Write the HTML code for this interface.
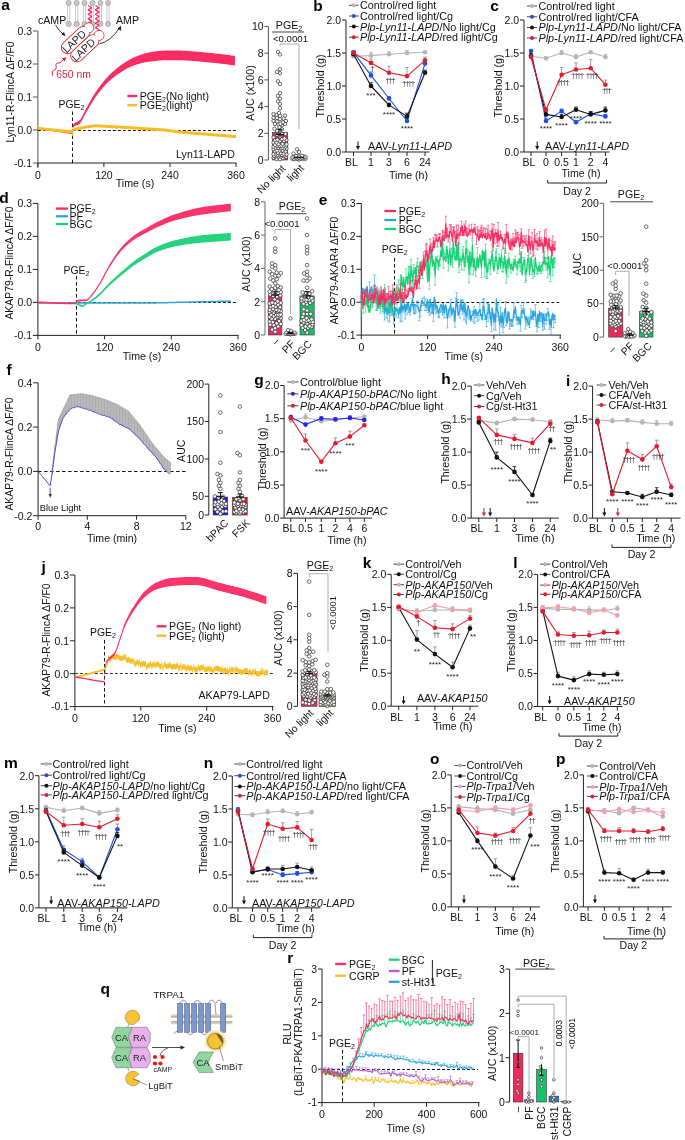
<!DOCTYPE html>
<html><head><meta charset="utf-8"><style>
html,body{margin:0;padding:0;background:#fff;overflow:hidden;}
svg{display:block;filter:blur(0.3px);font-family:"Liberation Sans", sans-serif;}
</style></head><body>
<svg width="685" height="1140" viewBox="0 0 685 1140">
<rect width="685" height="1140" fill="#fff"/>
<text x="1.2" y="9.6" font-size="15.5" font-weight="bold" fill="#000">a</text>
<line x1="37.9" y1="31.0" x2="37.9" y2="168.0" stroke="#555" stroke-width="1" />
<line x1="32.9" y1="31.0" x2="37.9" y2="31.0" stroke="#555" stroke-width="1" />
<text x="32.1" y="34.8" font-size="10.5" text-anchor="end" fill="#111" >0.3</text>
<line x1="32.9" y1="64.0" x2="37.9" y2="64.0" stroke="#555" stroke-width="1" />
<text x="32.1" y="67.8" font-size="10.5" text-anchor="end" fill="#111" >0.2</text>
<line x1="32.9" y1="97.0" x2="37.9" y2="97.0" stroke="#555" stroke-width="1" />
<text x="32.1" y="100.8" font-size="10.5" text-anchor="end" fill="#111" >0.1</text>
<line x1="32.9" y1="130.0" x2="37.9" y2="130.0" stroke="#555" stroke-width="1" />
<text x="32.1" y="133.8" font-size="10.5" text-anchor="end" fill="#111" >0.0</text>
<line x1="32.9" y1="163.0" x2="37.9" y2="163.0" stroke="#555" stroke-width="1" />
<text x="32.1" y="166.8" font-size="10.5" text-anchor="end" fill="#111" >-0.1</text>
<line x1="37.9" y1="163.0" x2="236.5" y2="163.0" stroke="#222" stroke-width="1" />
<line x1="37.9" y1="163.0" x2="37.9" y2="167.0" stroke="#222" stroke-width="1" />
<line x1="103.9" y1="163.0" x2="103.9" y2="167.0" stroke="#222" stroke-width="1" />
<text x="103.9" y="178.8" font-size="10.5" text-anchor="middle" fill="#111" >120</text>
<line x1="170.0" y1="163.0" x2="170.0" y2="167.0" stroke="#222" stroke-width="1" />
<text x="170.0" y="178.8" font-size="10.5" text-anchor="middle" fill="#111" >240</text>
<line x1="236.0" y1="163.0" x2="236.0" y2="167.0" stroke="#222" stroke-width="1" />
<text x="236.0" y="178.8" font-size="10.5" text-anchor="middle" fill="#111" >360</text>
<text x="37.9" y="178.8" font-size="10.5" text-anchor="middle" fill="#111" >0</text>
<text x="10.5" y="95.7" font-size="10.4" text-anchor="middle" fill="#111" transform="rotate(-90 10.5 92.0)" >Lyn11-R-FlincA ΔF/F0</text>
<text x="135.0" y="186.8" font-size="10.6" text-anchor="middle" fill="#111" >Time (s)</text>
<line x1="37.9" y1="130.5" x2="236.0" y2="130.5" stroke="#111" stroke-width="1.0" stroke-dasharray="3,2" />
<line x1="72.5" y1="111.5" x2="72.5" y2="163.0" stroke="#111" stroke-width="1.0" stroke-dasharray="3.5,2.5" />
<text x="71.5" y="108.2" font-size="10.4" text-anchor="middle" fill="#111" >PGE<tspan font-size="7" dy="2">2</tspan></text>
<polygon points="72.6,125.8 73.4,124.4 74.2,123.3 75.0,122.7 75.8,122.3 76.6,122.0 77.4,121.7 78.2,121.3 79.1,120.8 79.9,120.0 80.7,118.9 81.5,117.6 82.3,116.2 83.1,114.5 83.9,112.9 84.7,111.2 85.6,109.6 86.4,108.1 87.2,106.7 88.0,105.2 88.8,103.8 89.6,102.3 90.4,100.9 91.2,99.4 92.0,98.0 92.9,96.6 93.7,95.3 94.5,94.0 95.3,92.7 96.1,91.5 96.9,90.3 97.7,89.2 98.5,88.0 99.4,86.9 100.2,85.8 101.0,84.7 101.8,83.7 102.6,82.7 103.4,81.7 104.2,80.7 105.0,79.8 105.8,78.8 106.7,77.9 107.5,77.0 108.3,76.2 109.1,75.3 109.9,74.5 110.7,73.7 111.5,72.9 112.3,72.1 113.2,71.4 114.0,70.7 114.8,70.0 115.6,69.3 116.4,68.7 117.2,68.0 118.0,67.4 118.8,66.8 119.6,66.2 120.5,65.6 121.3,65.0 122.1,64.4 122.9,63.9 123.7,63.3 124.5,62.8 125.3,62.2 126.1,61.7 126.9,61.2 127.8,60.7 128.6,60.2 129.4,59.7 130.2,59.3 131.0,58.9 131.8,58.5 132.6,58.1 133.4,57.7 134.3,57.3 135.1,57.0 135.9,56.6 136.7,56.3 137.5,56.0 138.3,55.7 139.1,55.4 139.9,55.1 140.7,54.8 141.6,54.5 142.4,54.3 143.2,54.0 144.0,53.8 144.8,53.5 145.6,53.3 146.4,53.1 147.2,52.9 148.1,52.7 148.9,52.5 149.7,52.3 150.5,52.2 151.3,52.0 152.1,51.9 152.9,51.7 153.7,51.6 154.5,51.5 155.4,51.4 156.2,51.3 157.0,51.2 157.8,51.1 158.6,51.0 159.4,51.0 160.2,50.9 161.0,50.8 161.9,50.7 162.7,50.7 163.5,50.7 164.3,50.6 165.1,50.6 165.9,50.6 166.7,50.6 167.5,50.6 168.3,50.6 169.2,50.6 170.0,50.6 170.8,50.6 171.6,50.6 172.4,50.6 173.2,50.6 174.0,50.6 174.8,50.6 175.6,50.6 176.5,50.6 177.3,50.6 178.1,50.6 178.9,50.6 179.7,50.6 180.5,50.6 181.3,50.7 182.1,50.7 183.0,50.7 183.8,50.8 184.6,50.8 185.4,50.8 186.2,50.9 187.0,50.9 187.8,51.0 188.6,51.1 189.4,51.1 190.3,51.2 191.1,51.2 191.9,51.3 192.7,51.3 193.5,51.4 194.3,51.5 195.1,51.5 195.9,51.6 196.8,51.7 197.6,51.7 198.4,51.8 199.2,51.9 200.0,52.0 200.8,52.1 201.6,52.1 202.4,52.2 203.2,52.3 204.1,52.4 204.9,52.4 205.7,52.5 206.5,52.6 207.3,52.7 208.1,52.8 208.9,52.8 209.7,52.9 210.5,53.0 211.4,53.1 212.2,53.1 213.0,53.2 213.8,53.3 214.6,53.4 215.4,53.5 216.2,53.6 217.0,53.7 217.9,53.7 218.7,53.8 219.5,53.9 220.3,54.0 221.1,54.1 221.9,54.2 222.7,54.3 223.5,54.4 224.3,54.5 225.2,54.6 226.0,54.7 226.8,54.8 227.6,54.9 228.4,55.0 229.2,55.1 230.0,55.3 230.8,55.4 231.7,55.5 232.5,55.6 233.3,55.7 234.1,55.8 234.9,55.9 234.9,65.5 234.1,65.4 233.3,65.3 232.5,65.2 231.7,65.1 230.8,65.0 230.0,64.9 229.2,64.7 228.4,64.6 227.6,64.5 226.8,64.4 226.0,64.3 225.2,64.2 224.3,64.1 223.5,64.0 222.7,63.9 221.9,63.8 221.1,63.7 220.3,63.6 219.5,63.5 218.7,63.4 217.9,63.3 217.0,63.3 216.2,63.2 215.4,63.1 214.6,63.0 213.8,62.9 213.0,62.8 212.2,62.7 211.4,62.7 210.5,62.6 209.7,62.5 208.9,62.4 208.1,62.4 207.3,62.3 206.5,62.2 205.7,62.1 204.9,62.0 204.1,62.0 203.2,61.9 202.4,61.8 201.6,61.7 200.8,61.7 200.0,61.6 199.2,61.5 198.4,61.4 197.6,61.3 196.8,61.3 195.9,61.2 195.1,61.1 194.3,61.1 193.5,61.0 192.7,60.9 191.9,60.9 191.1,60.8 190.3,60.8 189.4,60.7 188.6,60.7 187.8,60.6 187.0,60.5 186.2,60.5 185.4,60.4 184.6,60.4 183.8,60.4 183.0,60.3 182.1,60.3 181.3,60.3 180.5,60.2 179.7,60.2 178.9,60.2 178.1,60.2 177.3,60.2 176.5,60.2 175.6,60.2 174.8,60.2 174.0,60.2 173.2,60.2 172.4,60.2 171.6,60.2 170.8,60.2 170.0,60.2 169.2,60.2 168.3,60.2 167.5,60.2 166.7,60.2 165.9,60.2 165.1,60.2 164.3,60.2 163.5,60.3 162.7,60.3 161.9,60.3 161.0,60.4 160.2,60.5 159.4,60.6 158.6,60.6 157.8,60.7 157.0,60.8 156.2,60.9 155.4,61.0 154.5,61.1 153.7,61.2 152.9,61.3 152.1,61.3 151.3,61.4 150.5,61.5 149.7,61.6 148.9,61.7 148.1,61.9 147.2,62.0 146.4,62.1 145.6,62.2 144.8,62.4 144.0,62.6 143.2,62.7 142.4,62.9 141.6,63.1 140.7,63.3 139.9,63.5 139.1,63.8 138.3,64.0 137.5,64.2 136.7,64.5 135.9,64.8 135.1,65.1 134.3,65.3 133.4,65.7 132.6,66.0 131.8,66.3 131.0,66.6 130.2,67.0 129.4,67.3 128.6,67.7 127.8,68.1 126.9,68.6 126.1,69.0 125.3,69.5 124.5,69.9 123.7,70.4 122.9,70.9 122.1,71.4 121.3,71.9 120.5,72.5 119.6,73.0 118.8,73.5 118.0,74.1 117.2,74.6 116.4,75.2 115.6,75.8 114.8,76.4 114.0,77.0 113.2,77.7 112.3,78.3 111.5,79.0 110.7,79.7 109.9,80.5 109.1,81.2 108.3,82.0 107.5,82.8 106.7,83.6 105.8,84.5 105.0,85.3 104.2,86.2 103.4,87.1 102.6,88.0 101.8,89.0 101.0,90.0 100.2,91.0 99.4,92.0 98.5,93.0 97.7,94.1 96.9,95.2 96.1,96.3 95.3,97.5 94.5,98.7 93.7,99.9 92.9,101.2 92.0,102.5 91.2,103.9 90.4,105.2 89.6,106.6 88.8,108.0 88.0,109.4 87.2,110.8 86.4,112.1 85.6,113.6 84.7,115.1 83.9,116.7 83.1,118.3 82.3,119.8 81.5,121.3 80.7,122.5 79.9,123.5 79.1,124.2 78.2,124.7 77.4,125.0 76.6,125.2 75.8,125.5 75.0,125.9 74.2,126.5 73.4,127.6 72.6,129.0" fill="#fb2c62" stroke="none" stroke-width="0" />
<polyline points="37.9,128.7 40.7,129.0 43.4,129.3 46.2,129.7 48.9,130.0 51.7,130.3 54.4,130.7 57.2,131.1 59.9,131.5 62.7,131.9 65.4,132.3 68.2,132.7 70.9,133.1 72.0,133.3" fill="none" stroke="#fb2c62" stroke-width="1.4" stroke-linejoin="round" />
<polygon points="37.9,126.8 38.9,127.0 39.9,127.1 40.9,127.2 41.9,127.3 42.9,127.4 43.8,127.5 44.8,127.6 45.8,127.7 46.8,127.8 47.8,127.9 48.8,128.0 49.8,128.1 50.8,128.2 51.8,128.3 52.8,128.4 53.7,128.5 54.7,128.6 55.7,128.7 56.7,128.8 57.7,128.9 58.7,129.0 59.7,129.1 60.7,129.2 61.7,129.3 62.7,129.4 63.7,129.5 64.6,129.6 65.6,129.7 66.6,129.8 67.6,129.9 68.6,130.0 69.6,130.1 70.6,130.1 71.6,129.9 72.6,129.8 73.6,128.6 74.5,127.8 75.5,127.6 76.5,127.4 77.5,127.2 78.5,127.0 79.5,126.8 80.5,126.6 81.5,126.4 82.5,126.2 83.5,126.0 84.5,125.8 85.4,125.6 86.4,125.4 87.4,125.3 88.4,125.2 89.4,125.0 90.4,124.9 91.4,124.7 92.4,124.6 93.4,124.5 94.4,124.3 95.3,124.2 96.3,124.3 97.3,124.3 98.3,124.4 99.3,124.4 100.3,124.5 101.3,124.6 102.3,124.6 103.3,124.7 104.3,124.7 105.3,124.8 106.2,124.8 107.2,124.9 108.2,125.0 109.2,125.0 110.2,125.1 111.2,125.1 112.2,125.2 113.2,125.2 114.2,125.3 115.2,125.4 116.1,125.4 117.1,125.5 118.1,125.5 119.1,125.6 120.1,125.6 121.1,125.7 122.1,125.8 123.1,125.8 124.1,125.9 125.1,125.9 126.1,126.0 127.0,126.0 128.0,126.1 129.0,126.1 130.0,126.2 131.0,126.3 132.0,126.3 133.0,126.4 134.0,126.5 135.0,126.5 136.0,126.6 136.9,126.7 137.9,126.7 138.9,126.8 139.9,126.9 140.9,126.9 141.9,127.0 142.9,127.0 143.9,127.1 144.9,127.2 145.9,127.2 146.9,127.3 147.8,127.4 148.8,127.4 149.8,127.5 150.8,127.6 151.8,127.6 152.8,127.7 153.8,127.8 154.8,127.8 155.8,127.9 156.8,128.0 157.8,128.0 158.7,128.1 159.7,128.2 160.7,128.2 161.7,128.3 162.7,128.3 163.7,128.4 164.7,128.5 165.7,128.6 166.7,128.7 167.7,128.9 168.6,129.0 169.6,129.2 170.6,129.3 171.6,129.5 172.6,129.6 173.6,129.7 174.6,129.9 175.6,130.0 176.6,130.2 177.6,130.3 178.6,130.4 179.5,130.5 180.5,130.6 181.5,130.7 182.5,130.8 183.5,130.9 184.5,130.9 185.5,131.0 186.5,131.1 187.5,131.2 188.5,131.3 189.4,131.3 190.4,131.4 191.4,131.5 192.4,131.6 193.4,131.7 194.4,131.7 195.4,131.8 196.4,131.9 197.4,132.0 198.4,132.1 199.4,132.1 200.3,132.2 201.3,132.3 202.3,132.4 203.3,132.5 204.3,132.5 205.3,132.6 206.3,132.7 207.3,132.8 208.3,132.9 209.3,132.9 210.2,133.0 211.2,133.1 212.2,133.2 213.2,133.3 214.2,133.3 215.2,133.4 216.2,133.5 217.2,133.6 218.2,133.7 219.2,133.7 220.2,133.8 221.1,133.9 222.1,134.0 223.1,134.1 224.1,134.1 225.1,134.2 226.1,134.3 227.1,134.4 228.1,134.5 229.1,134.5 230.1,134.6 231.0,134.7 232.0,134.8 233.0,134.9 234.0,134.9 235.0,135.0 236.0,135.1 236.0,138.1 235.0,138.0 234.0,137.9 233.0,137.9 232.0,137.8 231.0,137.7 230.1,137.6 229.1,137.5 228.1,137.5 227.1,137.4 226.1,137.3 225.1,137.2 224.1,137.1 223.1,137.1 222.1,137.0 221.1,136.9 220.2,136.8 219.2,136.7 218.2,136.7 217.2,136.6 216.2,136.5 215.2,136.4 214.2,136.3 213.2,136.3 212.2,136.2 211.2,136.1 210.2,136.0 209.3,135.9 208.3,135.9 207.3,135.8 206.3,135.7 205.3,135.6 204.3,135.5 203.3,135.5 202.3,135.4 201.3,135.3 200.3,135.2 199.4,135.1 198.4,135.1 197.4,135.0 196.4,134.9 195.4,134.8 194.4,134.7 193.4,134.7 192.4,134.6 191.4,134.5 190.4,134.4 189.4,134.3 188.5,134.3 187.5,134.2 186.5,134.1 185.5,134.0 184.5,133.9 183.5,133.9 182.5,133.8 181.5,133.7 180.5,133.6 179.5,133.5 178.6,133.4 177.6,133.3 176.6,133.2 175.6,133.0 174.6,132.9 173.6,132.7 172.6,132.6 171.6,132.5 170.6,132.3 169.6,132.2 168.6,132.0 167.7,131.9 166.7,131.7 165.7,131.6 164.7,131.5 163.7,131.4 162.7,131.3 161.7,131.3 160.7,131.2 159.7,131.2 158.7,131.1 157.8,131.0 156.8,131.0 155.8,130.9 154.8,130.8 153.8,130.8 152.8,130.7 151.8,130.6 150.8,130.6 149.8,130.5 148.8,130.4 147.8,130.4 146.9,130.3 145.9,130.2 144.9,130.2 143.9,130.1 142.9,130.0 141.9,130.0 140.9,129.9 139.9,129.9 138.9,129.8 137.9,129.7 136.9,129.7 136.0,129.6 135.0,129.5 134.0,129.5 133.0,129.4 132.0,129.3 131.0,129.3 130.0,129.2 129.0,129.1 128.0,129.1 127.0,129.0 126.1,129.0 125.1,128.9 124.1,128.9 123.1,128.8 122.1,128.8 121.1,128.7 120.1,128.6 119.1,128.6 118.1,128.5 117.1,128.5 116.1,128.4 115.2,128.4 114.2,128.3 113.2,128.2 112.2,128.2 111.2,128.1 110.2,128.1 109.2,128.0 108.2,128.0 107.2,127.9 106.2,127.8 105.3,127.8 104.3,127.7 103.3,127.7 102.3,127.6 101.3,127.6 100.3,127.5 99.3,127.4 98.3,127.4 97.3,127.3 96.3,127.3 95.3,127.2 94.4,127.3 93.4,127.5 92.4,127.6 91.4,127.7 90.4,127.9 89.4,128.0 88.4,128.2 87.4,128.3 86.4,128.4 85.4,128.6 84.5,128.8 83.5,129.0 82.5,129.2 81.5,129.4 80.5,129.6 79.5,129.8 78.5,130.0 77.5,130.2 76.5,130.4 75.5,130.6 74.5,130.8 73.6,131.6 72.6,132.8 71.6,132.9 70.6,133.1 69.6,133.1 68.6,133.0 67.6,132.9 66.6,132.8 65.6,132.7 64.6,132.6 63.7,132.5 62.7,132.4 61.7,132.3 60.7,132.2 59.7,132.1 58.7,132.0 57.7,131.9 56.7,131.8 55.7,131.7 54.7,131.6 53.7,131.5 52.8,131.4 51.8,131.3 50.8,131.2 49.8,131.1 48.8,131.0 47.8,130.9 46.8,130.8 45.8,130.7 44.8,130.6 43.8,130.5 42.9,130.4 41.9,130.3 40.9,130.2 39.9,130.1 38.9,130.0 37.9,129.8" fill="#f6bd25" stroke="none" stroke-width="0" />
<line x1="72.7" y1="131.3" x2="72.7" y2="135.3" stroke="#f6bd25" stroke-width="1.2" />
<line x1="127.4" y1="96.0" x2="137.1" y2="96.0" stroke="#fb2c62" stroke-width="2.4" />
<line x1="127.4" y1="105.2" x2="137.1" y2="105.2" stroke="#f6bd25" stroke-width="2.4" />
<text x="139.7" y="99.8" font-size="10.6" fill="#111">PGE<tspan font-size="7" dy="2">2</tspan><tspan dy="-2">(No light)</tspan></text>
<text x="139.7" y="109.0" font-size="10.6" fill="#111">PGE<tspan font-size="7" dy="2">2</tspan><tspan dy="-2">(light)</tspan></text>
<text x="235.0" y="157.8" font-size="10.6" text-anchor="end" fill="#111" >Lyn11-LAPD</text>
<line x1="67.6" y1="4.0" x2="67.6" y2="22.5" stroke="#c4c4c4" stroke-width="0.9" />
<line x1="69.8" y1="4.0" x2="69.8" y2="22.5" stroke="#c4c4c4" stroke-width="0.9" />
<circle cx="68.7" cy="2.9" r="2.5" fill="#c9c9c9" stroke="#8a8a8a" stroke-width="0.6"/>
<circle cx="68.7" cy="24.0" r="2.5" fill="#c9c9c9" stroke="#8a8a8a" stroke-width="0.6"/>
<line x1="75.6" y1="4.0" x2="75.6" y2="22.5" stroke="#c4c4c4" stroke-width="0.9" />
<line x1="77.8" y1="4.0" x2="77.8" y2="22.5" stroke="#c4c4c4" stroke-width="0.9" />
<circle cx="76.7" cy="2.9" r="2.5" fill="#c9c9c9" stroke="#8a8a8a" stroke-width="0.6"/>
<circle cx="76.7" cy="24.0" r="2.5" fill="#c9c9c9" stroke="#8a8a8a" stroke-width="0.6"/>
<line x1="83.4" y1="4.0" x2="83.4" y2="22.5" stroke="#c4c4c4" stroke-width="0.9" />
<line x1="85.6" y1="4.0" x2="85.6" y2="22.5" stroke="#c4c4c4" stroke-width="0.9" />
<circle cx="84.5" cy="2.9" r="2.5" fill="#c9c9c9" stroke="#8a8a8a" stroke-width="0.6"/>
<circle cx="84.5" cy="24.0" r="2.5" fill="#c9c9c9" stroke="#8a8a8a" stroke-width="0.6"/>
<line x1="91.4" y1="4.0" x2="91.4" y2="22.5" stroke="#c4c4c4" stroke-width="0.9" />
<line x1="93.6" y1="4.0" x2="93.6" y2="22.5" stroke="#c4c4c4" stroke-width="0.9" />
<circle cx="92.5" cy="2.9" r="2.5" fill="#c9c9c9" stroke="#8a8a8a" stroke-width="0.6"/>
<circle cx="92.5" cy="24.0" r="2.5" fill="#c9c9c9" stroke="#8a8a8a" stroke-width="0.6"/>
<line x1="99.3" y1="4.0" x2="99.3" y2="22.5" stroke="#c4c4c4" stroke-width="0.9" />
<line x1="101.5" y1="4.0" x2="101.5" y2="22.5" stroke="#c4c4c4" stroke-width="0.9" />
<circle cx="100.4" cy="2.9" r="2.5" fill="#c9c9c9" stroke="#8a8a8a" stroke-width="0.6"/>
<circle cx="100.4" cy="24.0" r="2.5" fill="#c9c9c9" stroke="#8a8a8a" stroke-width="0.6"/>
<line x1="107.0" y1="4.0" x2="107.0" y2="22.5" stroke="#c4c4c4" stroke-width="0.9" />
<line x1="109.2" y1="4.0" x2="109.2" y2="22.5" stroke="#c4c4c4" stroke-width="0.9" />
<circle cx="108.1" cy="2.9" r="2.5" fill="#c9c9c9" stroke="#8a8a8a" stroke-width="0.6"/>
<circle cx="108.1" cy="24.0" r="2.5" fill="#c9c9c9" stroke="#8a8a8a" stroke-width="0.6"/>
<polyline points="88.1,5.5 91.7,7.7 88.1,9.9 91.7,12.1 88.1,14.3 91.7,16.5 88.1,18.7 91.7,20.9 88.1,23.1" fill="none" stroke="#ee2a5c" stroke-width="1.3" stroke-linejoin="round" />
<polyline points="95.4,5.5 99.0,7.7 95.4,9.9 99.0,12.1 95.4,14.3 99.0,16.5 95.4,18.7 99.0,20.9 95.4,23.1 99.0,25.3 95.4,27.5 99.0,29.7" fill="none" stroke="#ee2a5c" stroke-width="1.3" stroke-linejoin="round" />
<circle cx="88.8" cy="27.8" r="5" fill="white" stroke="#e02b35" stroke-width="1"/>
<g transform="translate(75.5,40) rotate(-43)"><rect x="-17" y="-6.2" width="34" height="12.4" rx="6.2" fill="white" stroke="#e02b35" stroke-width="1"/></g>
<circle cx="88.8" cy="27.8" r="4.4" fill="white"/>
<g transform="translate(75.5,40) rotate(-43)"><rect x="-16.4" y="-5.6" width="32.8" height="11.2" rx="5.6" fill="white"/><text x="-2" y="3.8" font-size="10.6" text-anchor="middle" fill="#222">LAPD</text></g>
<circle cx="99.0" cy="35.4" r="5" fill="white" stroke="#e02b35" stroke-width="1"/>
<g transform="translate(84.8,48.3) rotate(-43)"><rect x="-17" y="-6.2" width="34" height="12.4" rx="6.2" fill="white" stroke="#e02b35" stroke-width="1"/></g>
<circle cx="99.0" cy="35.4" r="4.4" fill="white"/>
<g transform="translate(84.8,48.3) rotate(-43)"><rect x="-16.4" y="-5.6" width="32.8" height="11.2" rx="5.6" fill="white"/><text x="-2" y="3.8" font-size="10.6" text-anchor="middle" fill="#222">LAPD</text></g>
<text x="38.0" y="23.5" font-size="10.6" text-anchor="start" fill="#111" >cAMP</text>
<text x="116.0" y="24.2" font-size="10.6" text-anchor="start" fill="#111" >AMP</text>
<path d="M55.5,24.8 Q58,30 63.5,34.5" fill="none" stroke="#222" stroke-width="0.9"/>
<polygon points="65.5,36.2 61.3,34.6 64.0,31.9" fill="#222" stroke="none" stroke-width="0" />
<path d="M99.5,43.8 Q110,42 119.5,28" fill="none" stroke="#222" stroke-width="0.9"/>
<polygon points="121.0,25.8 121.2,31.0 117.5,28.6" fill="#222" stroke="none" stroke-width="0" />
<text x="56.3" y="78.2" font-size="10.4" text-anchor="start" fill="#e8203a" >650 nm</text>
<path d="M52.6,75.5 C51.5,72 53,70 54.5,70 C56,70 56.5,67 56,65.5 C55.5,64 57,62.5 59,63 C60.5,63.3 61,61.5 63.5,59.5" fill="none" stroke="#e8203a" stroke-width="1"/>
<polygon points="66.5,57.2 61.8,58.3 64.6,61.5" fill="#e8203a" stroke="none" stroke-width="0" />
<line x1="268.4" y1="26.5" x2="268.4" y2="160.0" stroke="#555" stroke-width="1" />
<line x1="264.4" y1="160.0" x2="268.4" y2="160.0" stroke="#555" stroke-width="1" />
<text x="263.6" y="163.8" font-size="10.5" text-anchor="end" fill="#111" >0</text>
<line x1="264.4" y1="133.3" x2="268.4" y2="133.3" stroke="#555" stroke-width="1" />
<text x="263.6" y="137.1" font-size="10.5" text-anchor="end" fill="#111" >2</text>
<line x1="264.4" y1="106.6" x2="268.4" y2="106.6" stroke="#555" stroke-width="1" />
<text x="263.6" y="110.4" font-size="10.5" text-anchor="end" fill="#111" >4</text>
<line x1="264.4" y1="79.9" x2="268.4" y2="79.9" stroke="#555" stroke-width="1" />
<text x="263.6" y="83.7" font-size="10.5" text-anchor="end" fill="#111" >6</text>
<line x1="264.4" y1="53.2" x2="268.4" y2="53.2" stroke="#555" stroke-width="1" />
<text x="263.6" y="57.0" font-size="10.5" text-anchor="end" fill="#111" >8</text>
<line x1="264.4" y1="26.5" x2="268.4" y2="26.5" stroke="#555" stroke-width="1" />
<text x="263.6" y="30.3" font-size="10.5" text-anchor="end" fill="#111" >10</text>
<text x="250.3" y="96.8" font-size="10.6" text-anchor="middle" fill="#111" transform="rotate(-90 250.3 93.0)" >AUC (x100)</text>
<rect x="272.4" y="132.4" width="15.3" height="27.6" fill="#ee2a5c" stroke="#333" stroke-width="0.6"/>
<circle cx="280.0" cy="159.2" r="1.7" fill="white" stroke="#3a3a3a" stroke-width="0.75"/>
<circle cx="276.5" cy="159.0" r="1.7" fill="white" stroke="#3a3a3a" stroke-width="0.75"/>
<circle cx="283.0" cy="158.2" r="1.7" fill="white" stroke="#3a3a3a" stroke-width="0.75"/>
<circle cx="273.5" cy="157.7" r="1.7" fill="white" stroke="#3a3a3a" stroke-width="0.75"/>
<circle cx="286.0" cy="156.9" r="1.7" fill="white" stroke="#3a3a3a" stroke-width="0.75"/>
<circle cx="278.5" cy="156.7" r="1.7" fill="white" stroke="#3a3a3a" stroke-width="0.75"/>
<circle cx="281.0" cy="156.5" r="1.7" fill="white" stroke="#3a3a3a" stroke-width="0.75"/>
<circle cx="276.0" cy="156.4" r="1.7" fill="white" stroke="#3a3a3a" stroke-width="0.75"/>
<circle cx="283.5" cy="156.2" r="1.7" fill="white" stroke="#3a3a3a" stroke-width="0.75"/>
<circle cx="274.0" cy="156.0" r="1.7" fill="white" stroke="#3a3a3a" stroke-width="0.75"/>
<circle cx="285.0" cy="155.3" r="1.7" fill="white" stroke="#3a3a3a" stroke-width="0.75"/>
<circle cx="279.5" cy="155.2" r="1.7" fill="white" stroke="#3a3a3a" stroke-width="0.75"/>
<circle cx="277.5" cy="155.0" r="1.7" fill="white" stroke="#3a3a3a" stroke-width="0.75"/>
<circle cx="282.0" cy="155.0" r="1.7" fill="white" stroke="#3a3a3a" stroke-width="0.75"/>
<circle cx="275.5" cy="154.4" r="1.7" fill="white" stroke="#3a3a3a" stroke-width="0.75"/>
<circle cx="286.5" cy="154.4" r="1.7" fill="white" stroke="#3a3a3a" stroke-width="0.75"/>
<circle cx="273.5" cy="154.1" r="1.7" fill="white" stroke="#3a3a3a" stroke-width="0.75"/>
<circle cx="283.5" cy="153.8" r="1.7" fill="white" stroke="#3a3a3a" stroke-width="0.75"/>
<circle cx="280.5" cy="153.3" r="1.7" fill="white" stroke="#3a3a3a" stroke-width="0.75"/>
<circle cx="278.0" cy="152.9" r="1.7" fill="white" stroke="#3a3a3a" stroke-width="0.75"/>
<circle cx="285.5" cy="151.5" r="1.7" fill="white" stroke="#3a3a3a" stroke-width="0.75"/>
<circle cx="275.0" cy="151.4" r="1.7" fill="white" stroke="#3a3a3a" stroke-width="0.75"/>
<circle cx="282.5" cy="150.6" r="1.7" fill="white" stroke="#3a3a3a" stroke-width="0.75"/>
<circle cx="279.5" cy="150.5" r="1.7" fill="white" stroke="#3a3a3a" stroke-width="0.75"/>
<circle cx="277.0" cy="150.5" r="1.7" fill="white" stroke="#3a3a3a" stroke-width="0.75"/>
<circle cx="273.5" cy="149.2" r="1.7" fill="white" stroke="#3a3a3a" stroke-width="0.75"/>
<circle cx="286.5" cy="148.6" r="1.7" fill="white" stroke="#3a3a3a" stroke-width="0.75"/>
<circle cx="284.0" cy="148.6" r="1.7" fill="white" stroke="#3a3a3a" stroke-width="0.75"/>
<circle cx="281.0" cy="148.3" r="1.7" fill="white" stroke="#3a3a3a" stroke-width="0.75"/>
<circle cx="278.0" cy="148.0" r="1.7" fill="white" stroke="#3a3a3a" stroke-width="0.75"/>
<circle cx="275.5" cy="147.7" r="1.7" fill="white" stroke="#3a3a3a" stroke-width="0.75"/>
<circle cx="282.5" cy="147.7" r="1.7" fill="white" stroke="#3a3a3a" stroke-width="0.75"/>
<circle cx="273.5" cy="146.7" r="1.7" fill="white" stroke="#3a3a3a" stroke-width="0.75"/>
<circle cx="285.5" cy="146.4" r="1.7" fill="white" stroke="#3a3a3a" stroke-width="0.75"/>
<circle cx="279.5" cy="146.1" r="1.7" fill="white" stroke="#3a3a3a" stroke-width="0.75"/>
<circle cx="277.0" cy="145.8" r="1.7" fill="white" stroke="#3a3a3a" stroke-width="0.75"/>
<circle cx="283.5" cy="145.7" r="1.7" fill="white" stroke="#3a3a3a" stroke-width="0.75"/>
<circle cx="281.5" cy="145.6" r="1.7" fill="white" stroke="#3a3a3a" stroke-width="0.75"/>
<circle cx="275.0" cy="145.0" r="1.7" fill="white" stroke="#3a3a3a" stroke-width="0.75"/>
<circle cx="286.5" cy="144.3" r="1.7" fill="white" stroke="#3a3a3a" stroke-width="0.75"/>
<circle cx="278.5" cy="144.2" r="1.7" fill="white" stroke="#3a3a3a" stroke-width="0.75"/>
<circle cx="282.5" cy="143.7" r="1.7" fill="white" stroke="#3a3a3a" stroke-width="0.75"/>
<circle cx="273.5" cy="142.5" r="1.7" fill="white" stroke="#3a3a3a" stroke-width="0.75"/>
<circle cx="276.5" cy="142.5" r="1.7" fill="white" stroke="#3a3a3a" stroke-width="0.75"/>
<circle cx="280.0" cy="141.2" r="1.7" fill="white" stroke="#3a3a3a" stroke-width="0.75"/>
<circle cx="284.0" cy="141.0" r="1.7" fill="white" stroke="#3a3a3a" stroke-width="0.75"/>
<circle cx="275.0" cy="140.2" r="1.7" fill="white" stroke="#3a3a3a" stroke-width="0.75"/>
<circle cx="286.5" cy="140.1" r="1.7" fill="white" stroke="#3a3a3a" stroke-width="0.75"/>
<circle cx="277.5" cy="139.7" r="1.7" fill="white" stroke="#3a3a3a" stroke-width="0.75"/>
<circle cx="282.0" cy="139.2" r="1.7" fill="white" stroke="#3a3a3a" stroke-width="0.75"/>
<circle cx="284.5" cy="138.4" r="1.7" fill="white" stroke="#3a3a3a" stroke-width="0.75"/>
<circle cx="273.5" cy="137.4" r="1.7" fill="white" stroke="#3a3a3a" stroke-width="0.75"/>
<circle cx="280.0" cy="136.6" r="1.7" fill="white" stroke="#3a3a3a" stroke-width="0.75"/>
<circle cx="277.0" cy="135.0" r="1.7" fill="white" stroke="#3a3a3a" stroke-width="0.75"/>
<circle cx="282.0" cy="134.1" r="1.7" fill="white" stroke="#3a3a3a" stroke-width="0.75"/>
<circle cx="285.5" cy="133.9" r="1.7" fill="white" stroke="#3a3a3a" stroke-width="0.75"/>
<circle cx="280.0" cy="131.7" r="1.7" fill="white" stroke="#3a3a3a" stroke-width="0.75"/>
<circle cx="277.0" cy="130.8" r="1.7" fill="white" stroke="#3a3a3a" stroke-width="0.75"/>
<circle cx="282.0" cy="129.2" r="1.7" fill="white" stroke="#3a3a3a" stroke-width="0.75"/>
<circle cx="274.5" cy="128.7" r="1.7" fill="white" stroke="#3a3a3a" stroke-width="0.75"/>
<circle cx="279.5" cy="127.2" r="1.7" fill="white" stroke="#3a3a3a" stroke-width="0.75"/>
<circle cx="282.0" cy="125.3" r="1.7" fill="white" stroke="#3a3a3a" stroke-width="0.75"/>
<circle cx="278.5" cy="124.2" r="1.7" fill="white" stroke="#3a3a3a" stroke-width="0.75"/>
<circle cx="275.0" cy="124.0" r="1.7" fill="white" stroke="#3a3a3a" stroke-width="0.75"/>
<circle cx="285.0" cy="124.0" r="1.7" fill="white" stroke="#3a3a3a" stroke-width="0.75"/>
<circle cx="280.5" cy="123.8" r="1.7" fill="white" stroke="#3a3a3a" stroke-width="0.75"/>
<circle cx="283.0" cy="122.3" r="1.7" fill="white" stroke="#3a3a3a" stroke-width="0.75"/>
<circle cx="277.0" cy="121.4" r="1.7" fill="white" stroke="#3a3a3a" stroke-width="0.75"/>
<circle cx="286.0" cy="120.9" r="1.7" fill="white" stroke="#3a3a3a" stroke-width="0.75"/>
<circle cx="273.5" cy="120.9" r="1.7" fill="white" stroke="#3a3a3a" stroke-width="0.75"/>
<circle cx="280.0" cy="119.1" r="1.7" fill="white" stroke="#3a3a3a" stroke-width="0.75"/>
<circle cx="283.5" cy="118.4" r="1.7" fill="white" stroke="#3a3a3a" stroke-width="0.75"/>
<circle cx="277.0" cy="118.0" r="1.7" fill="white" stroke="#3a3a3a" stroke-width="0.75"/>
<circle cx="273.5" cy="117.8" r="1.7" fill="white" stroke="#3a3a3a" stroke-width="0.75"/>
<circle cx="280.0" cy="115.9" r="1.7" fill="white" stroke="#3a3a3a" stroke-width="0.75"/>
<circle cx="285.0" cy="115.6" r="1.7" fill="white" stroke="#3a3a3a" stroke-width="0.75"/>
<circle cx="276.5" cy="114.9" r="1.7" fill="white" stroke="#3a3a3a" stroke-width="0.75"/>
<circle cx="273.5" cy="114.1" r="1.7" fill="white" stroke="#3a3a3a" stroke-width="0.75"/>
<circle cx="279.0" cy="112.9" r="1.7" fill="white" stroke="#3a3a3a" stroke-width="0.75"/>
<circle cx="280.0" cy="108.1" r="1.7" fill="white" stroke="#3a3a3a" stroke-width="0.75"/>
<circle cx="280.0" cy="103.9" r="1.7" fill="white" stroke="#3a3a3a" stroke-width="0.75"/>
<circle cx="278.0" cy="101.3" r="1.7" fill="white" stroke="#3a3a3a" stroke-width="0.75"/>
<circle cx="280.0" cy="98.6" r="1.7" fill="white" stroke="#3a3a3a" stroke-width="0.75"/>
<circle cx="278.0" cy="95.9" r="1.7" fill="white" stroke="#3a3a3a" stroke-width="0.75"/>
<circle cx="280.0" cy="93.2" r="1.7" fill="white" stroke="#3a3a3a" stroke-width="0.75"/>
<circle cx="280.0" cy="83.9" r="1.7" fill="white" stroke="#3a3a3a" stroke-width="0.75"/>
<circle cx="278.0" cy="81.2" r="1.7" fill="white" stroke="#3a3a3a" stroke-width="0.75"/>
<circle cx="280.0" cy="73.2" r="1.7" fill="white" stroke="#3a3a3a" stroke-width="0.75"/>
<circle cx="277.0" cy="71.9" r="1.7" fill="white" stroke="#3a3a3a" stroke-width="0.75"/>
<circle cx="280.0" cy="69.2" r="1.7" fill="white" stroke="#3a3a3a" stroke-width="0.75"/>
<circle cx="280.0" cy="54.5" r="1.7" fill="white" stroke="#3a3a3a" stroke-width="0.75"/>
<circle cx="278.0" cy="51.9" r="1.7" fill="white" stroke="#3a3a3a" stroke-width="0.75"/>
<line x1="276.0" y1="134.6" x2="284.0" y2="134.6" stroke="#111" stroke-width="1.2" />
<line x1="280.0" y1="137.3" x2="280.0" y2="129.3" stroke="#111" stroke-width="1" />
<line x1="277.5" y1="129.3" x2="282.5" y2="129.3" stroke="#111" stroke-width="1" />
<circle cx="299.0" cy="159.6" r="1.7" fill="white" stroke="#3a3a3a" stroke-width="0.75"/>
<circle cx="295.5" cy="159.1" r="1.7" fill="white" stroke="#3a3a3a" stroke-width="0.75"/>
<circle cx="302.5" cy="159.0" r="1.7" fill="white" stroke="#3a3a3a" stroke-width="0.75"/>
<circle cx="292.5" cy="159.0" r="1.7" fill="white" stroke="#3a3a3a" stroke-width="0.75"/>
<circle cx="305.5" cy="158.9" r="1.7" fill="white" stroke="#3a3a3a" stroke-width="0.75"/>
<circle cx="297.5" cy="158.8" r="1.7" fill="white" stroke="#3a3a3a" stroke-width="0.75"/>
<circle cx="300.5" cy="158.7" r="1.7" fill="white" stroke="#3a3a3a" stroke-width="0.75"/>
<circle cx="294.0" cy="158.6" r="1.7" fill="white" stroke="#3a3a3a" stroke-width="0.75"/>
<circle cx="304.0" cy="158.2" r="1.7" fill="white" stroke="#3a3a3a" stroke-width="0.75"/>
<circle cx="299.0" cy="158.0" r="1.7" fill="white" stroke="#3a3a3a" stroke-width="0.75"/>
<circle cx="296.0" cy="157.7" r="1.7" fill="white" stroke="#3a3a3a" stroke-width="0.75"/>
<circle cx="302.0" cy="157.7" r="1.7" fill="white" stroke="#3a3a3a" stroke-width="0.75"/>
<circle cx="292.5" cy="157.3" r="1.7" fill="white" stroke="#3a3a3a" stroke-width="0.75"/>
<circle cx="305.5" cy="156.9" r="1.7" fill="white" stroke="#3a3a3a" stroke-width="0.75"/>
<circle cx="297.5" cy="156.6" r="1.7" fill="white" stroke="#3a3a3a" stroke-width="0.75"/>
<circle cx="294.5" cy="156.5" r="1.7" fill="white" stroke="#3a3a3a" stroke-width="0.75"/>
<circle cx="300.5" cy="156.5" r="1.7" fill="white" stroke="#3a3a3a" stroke-width="0.75"/>
<circle cx="303.5" cy="156.4" r="1.7" fill="white" stroke="#3a3a3a" stroke-width="0.75"/>
<circle cx="299.0" cy="156.4" r="1.7" fill="white" stroke="#3a3a3a" stroke-width="0.75"/>
<circle cx="296.0" cy="156.0" r="1.7" fill="white" stroke="#3a3a3a" stroke-width="0.75"/>
<circle cx="302.0" cy="155.8" r="1.7" fill="white" stroke="#3a3a3a" stroke-width="0.75"/>
<circle cx="293.5" cy="153.5" r="1.7" fill="white" stroke="#3a3a3a" stroke-width="0.75"/>
<circle cx="299.0" cy="152.0" r="1.7" fill="white" stroke="#3a3a3a" stroke-width="0.75"/>
<circle cx="297.0" cy="149.3" r="1.7" fill="white" stroke="#3a3a3a" stroke-width="0.75"/>
<line x1="294.0" y1="157.3" x2="304.0" y2="157.3" stroke="#111" stroke-width="1.3" />
<text x="289.0" y="28.8" font-size="10.6" text-anchor="middle" fill="#111" >PGE<tspan font-size="7" dy="2">2</tspan></text>
<line x1="272.0" y1="32.0" x2="304.0" y2="32.0" stroke="#444" stroke-width="1" />
<text x="290.5" y="41.9" font-size="9.6" text-anchor="middle" fill="#111" >&lt;0.0001</text>
<line x1="280.0" y1="46.0" x2="280.0" y2="44.0" stroke="#999" stroke-width="0.8" />
<line x1="280.0" y1="44.0" x2="299.0" y2="44.0" stroke="#999" stroke-width="0.8" />
<line x1="299.0" y1="44.0" x2="299.0" y2="129.0" stroke="#999" stroke-width="0.8" />
<text x="283.5" y="170.2" font-size="10.4" text-anchor="end" fill="#111" transform="rotate(-45 283.5 166.5)" >No light</text>
<text x="302.0" y="169.7" font-size="10.4" text-anchor="end" fill="#111" transform="rotate(-45 302.0 166.0)" >light</text>
<line x1="346.0" y1="20.0" x2="346.0" y2="152.0" stroke="#222" stroke-width="1" />
<line x1="342.0" y1="152.0" x2="346.0" y2="152.0" stroke="#222" stroke-width="1" />
<text x="341.2" y="155.8" font-size="10.5" text-anchor="end" fill="#111" >0.0</text>
<line x1="342.0" y1="119.0" x2="346.0" y2="119.0" stroke="#222" stroke-width="1" />
<text x="341.2" y="122.8" font-size="10.5" text-anchor="end" fill="#111" >0.5</text>
<line x1="342.0" y1="86.0" x2="346.0" y2="86.0" stroke="#222" stroke-width="1" />
<text x="341.2" y="89.8" font-size="10.5" text-anchor="end" fill="#111" >1.0</text>
<line x1="342.0" y1="53.0" x2="346.0" y2="53.0" stroke="#222" stroke-width="1" />
<text x="341.2" y="56.8" font-size="10.5" text-anchor="end" fill="#111" >1.5</text>
<line x1="342.0" y1="20.0" x2="346.0" y2="20.0" stroke="#222" stroke-width="1" />
<text x="341.2" y="23.8" font-size="10.5" text-anchor="end" fill="#111" >2.0</text>
<line x1="346.0" y1="152.0" x2="429.5" y2="152.0" stroke="#222" stroke-width="1" />
<line x1="353.5" y1="152.0" x2="353.5" y2="156.0" stroke="#222" stroke-width="1" />
<line x1="371.0" y1="152.0" x2="371.0" y2="156.0" stroke="#222" stroke-width="1" />
<line x1="389.0" y1="152.0" x2="389.0" y2="156.0" stroke="#222" stroke-width="1" />
<line x1="407.0" y1="152.0" x2="407.0" y2="156.0" stroke="#222" stroke-width="1" />
<line x1="425.0" y1="152.0" x2="425.0" y2="156.0" stroke="#222" stroke-width="1" />
<text x="351.5" y="166.3" font-size="10.5" text-anchor="middle" fill="#111" >BL</text>
<text x="371.0" y="166.3" font-size="10.5" text-anchor="middle" fill="#111" >1</text>
<text x="389.0" y="166.3" font-size="10.5" text-anchor="middle" fill="#111" >3</text>
<text x="407.0" y="166.3" font-size="10.5" text-anchor="middle" fill="#111" >6</text>
<text x="425.0" y="166.3" font-size="10.5" text-anchor="middle" fill="#111" >24</text>
<line x1="353.5" y1="56.3" x2="353.5" y2="54.3" stroke="#b4b4b4" stroke-width="0.8" />
<line x1="351.7" y1="54.3" x2="355.3" y2="54.3" stroke="#b4b4b4" stroke-width="0.8" />
<line x1="371.0" y1="55.6" x2="371.0" y2="52.3" stroke="#b4b4b4" stroke-width="0.8" />
<line x1="369.2" y1="52.3" x2="372.8" y2="52.3" stroke="#b4b4b4" stroke-width="0.8" />
<line x1="389.0" y1="54.3" x2="389.0" y2="51.7" stroke="#b4b4b4" stroke-width="0.8" />
<line x1="387.2" y1="51.7" x2="390.8" y2="51.7" stroke="#b4b4b4" stroke-width="0.8" />
<line x1="407.0" y1="53.0" x2="407.0" y2="50.4" stroke="#b4b4b4" stroke-width="0.8" />
<line x1="405.2" y1="50.4" x2="408.8" y2="50.4" stroke="#b4b4b4" stroke-width="0.8" />
<line x1="425.0" y1="52.3" x2="425.0" y2="51.0" stroke="#b4b4b4" stroke-width="0.8" />
<line x1="423.2" y1="51.0" x2="426.8" y2="51.0" stroke="#b4b4b4" stroke-width="0.8" />
<polyline points="353.5,56.3 371.0,55.6 389.0,54.3 407.0,53.0 425.0,52.3" fill="none" stroke="#b4b4b4" stroke-width="1.1" stroke-linejoin="round" />
<circle cx="353.5" cy="56.3" r="2.3" fill="#b4b4b4" stroke="none" stroke-width="0.8"/>
<circle cx="371.0" cy="55.6" r="2.3" fill="#b4b4b4" stroke="none" stroke-width="0.8"/>
<circle cx="389.0" cy="54.3" r="2.3" fill="#b4b4b4" stroke="none" stroke-width="0.8"/>
<circle cx="407.0" cy="53.0" r="2.3" fill="#b4b4b4" stroke="none" stroke-width="0.8"/>
<circle cx="425.0" cy="52.3" r="2.3" fill="#b4b4b4" stroke="none" stroke-width="0.8"/>
<line x1="353.5" y1="52.3" x2="353.5" y2="50.4" stroke="#1f4de6" stroke-width="0.8" />
<line x1="351.7" y1="50.4" x2="355.3" y2="50.4" stroke="#1f4de6" stroke-width="0.8" />
<line x1="371.0" y1="75.4" x2="371.0" y2="72.1" stroke="#1f4de6" stroke-width="0.8" />
<line x1="369.2" y1="72.1" x2="372.8" y2="72.1" stroke="#1f4de6" stroke-width="0.8" />
<line x1="389.0" y1="98.5" x2="389.0" y2="96.6" stroke="#1f4de6" stroke-width="0.8" />
<line x1="387.2" y1="96.6" x2="390.8" y2="96.6" stroke="#1f4de6" stroke-width="0.8" />
<line x1="407.0" y1="121.0" x2="407.0" y2="119.0" stroke="#1f4de6" stroke-width="0.8" />
<line x1="405.2" y1="119.0" x2="408.8" y2="119.0" stroke="#1f4de6" stroke-width="0.8" />
<line x1="425.0" y1="63.6" x2="425.0" y2="60.9" stroke="#1f4de6" stroke-width="0.8" />
<line x1="423.2" y1="60.9" x2="426.8" y2="60.9" stroke="#1f4de6" stroke-width="0.8" />
<polyline points="353.5,52.3 371.0,75.4 389.0,98.5 407.0,121.0 425.0,63.6" fill="none" stroke="#1f4de6" stroke-width="1.1" stroke-linejoin="round" />
<circle cx="353.5" cy="52.3" r="2.3" fill="#1f4de6" stroke="none" stroke-width="0.8"/>
<circle cx="371.0" cy="75.4" r="2.3" fill="#1f4de6" stroke="none" stroke-width="0.8"/>
<circle cx="389.0" cy="98.5" r="2.3" fill="#1f4de6" stroke="none" stroke-width="0.8"/>
<circle cx="407.0" cy="121.0" r="2.3" fill="#1f4de6" stroke="none" stroke-width="0.8"/>
<circle cx="425.0" cy="63.6" r="2.3" fill="#1f4de6" stroke="none" stroke-width="0.8"/>
<line x1="353.5" y1="54.3" x2="353.5" y2="51.7" stroke="#111" stroke-width="0.8" />
<line x1="351.7" y1="51.7" x2="355.3" y2="51.7" stroke="#111" stroke-width="0.8" />
<line x1="371.0" y1="86.0" x2="371.0" y2="82.7" stroke="#111" stroke-width="0.8" />
<line x1="369.2" y1="82.7" x2="372.8" y2="82.7" stroke="#111" stroke-width="0.8" />
<line x1="389.0" y1="105.1" x2="389.0" y2="103.2" stroke="#111" stroke-width="0.8" />
<line x1="387.2" y1="103.2" x2="390.8" y2="103.2" stroke="#111" stroke-width="0.8" />
<line x1="407.0" y1="116.4" x2="407.0" y2="113.1" stroke="#111" stroke-width="0.8" />
<line x1="405.2" y1="113.1" x2="408.8" y2="113.1" stroke="#111" stroke-width="0.8" />
<line x1="425.0" y1="72.8" x2="425.0" y2="70.2" stroke="#111" stroke-width="0.8" />
<line x1="423.2" y1="70.2" x2="426.8" y2="70.2" stroke="#111" stroke-width="0.8" />
<polyline points="353.5,54.3 371.0,86.0 389.0,105.1 407.0,116.4 425.0,72.8" fill="none" stroke="#111" stroke-width="1.1" stroke-linejoin="round" />
<circle cx="353.5" cy="54.3" r="2.3" fill="#111" stroke="none" stroke-width="0.8"/>
<circle cx="371.0" cy="86.0" r="2.3" fill="#111" stroke="none" stroke-width="0.8"/>
<circle cx="389.0" cy="105.1" r="2.3" fill="#111" stroke="none" stroke-width="0.8"/>
<circle cx="407.0" cy="116.4" r="2.3" fill="#111" stroke="none" stroke-width="0.8"/>
<circle cx="425.0" cy="72.8" r="2.3" fill="#111" stroke="none" stroke-width="0.8"/>
<line x1="353.5" y1="53.0" x2="353.5" y2="51.0" stroke="#888" stroke-width="0.8" />
<line x1="351.7" y1="51.0" x2="355.3" y2="51.0" stroke="#888" stroke-width="0.8" />
<line x1="371.0" y1="62.9" x2="371.0" y2="58.9" stroke="#888" stroke-width="0.8" />
<line x1="369.2" y1="58.9" x2="372.8" y2="58.9" stroke="#888" stroke-width="0.8" />
<line x1="389.0" y1="72.8" x2="389.0" y2="66.2" stroke="#888" stroke-width="0.8" />
<line x1="387.2" y1="66.2" x2="390.8" y2="66.2" stroke="#888" stroke-width="0.8" />
<line x1="407.0" y1="76.1" x2="407.0" y2="67.5" stroke="#888" stroke-width="0.8" />
<line x1="405.2" y1="67.5" x2="408.8" y2="67.5" stroke="#888" stroke-width="0.8" />
<line x1="425.0" y1="60.3" x2="425.0" y2="57.0" stroke="#888" stroke-width="0.8" />
<line x1="423.2" y1="57.0" x2="426.8" y2="57.0" stroke="#888" stroke-width="0.8" />
<polyline points="353.5,53.0 371.0,62.9 389.0,72.8 407.0,76.1 425.0,60.3" fill="none" stroke="#e8192c" stroke-width="1.1" stroke-linejoin="round" />
<circle cx="353.5" cy="53.0" r="2.3" fill="#e8192c" stroke="none" stroke-width="0.8"/>
<circle cx="371.0" cy="62.9" r="2.3" fill="#e8192c" stroke="none" stroke-width="0.8"/>
<circle cx="389.0" cy="72.8" r="2.3" fill="#e8192c" stroke="none" stroke-width="0.8"/>
<circle cx="407.0" cy="76.1" r="2.3" fill="#e8192c" stroke="none" stroke-width="0.8"/>
<circle cx="425.0" cy="60.3" r="2.3" fill="#e8192c" stroke="none" stroke-width="0.8"/>
<line x1="349.0" y1="5.3" x2="358.5" y2="5.3" stroke="#333" stroke-width="0.9" />
<circle cx="353.8" cy="5.3" r="2.0" fill="#b4b4b4" stroke="none" stroke-width="0.8"/>
<text x="360.0" y="9.2" font-size="10.8" fill="#111">Control/red light</text>
<line x1="349.0" y1="16.0" x2="358.5" y2="16.0" stroke="#333" stroke-width="0.9" />
<circle cx="353.8" cy="16.0" r="2.0" fill="#1f4de6" stroke="none" stroke-width="0.8"/>
<text x="360.0" y="19.9" font-size="10.8" fill="#111">Control/red light/Cg</text>
<line x1="349.0" y1="26.6" x2="358.5" y2="26.6" stroke="#333" stroke-width="0.9" />
<circle cx="353.8" cy="26.6" r="2.0" fill="#111" stroke="none" stroke-width="0.8"/>
<text x="360.0" y="30.5" font-size="10.8" fill="#111"><tspan font-style="italic">Plp-Lyn11-LAPD</tspan>/No light/Cg</text>
<line x1="349.0" y1="37.2" x2="358.5" y2="37.2" stroke="#333" stroke-width="0.9" />
<circle cx="353.8" cy="37.2" r="2.0" fill="#e8192c" stroke="none" stroke-width="0.8"/>
<text x="360.0" y="41.1" font-size="10.8" fill="#111"><tspan font-style="italic">Plp-Lyn11-LAPD</tspan>/red light/Cg</text>
<text x="371.0" y="98.1" font-size="8" text-anchor="middle" fill="#222" >***</text>
<text x="389.0" y="116.6" font-size="8" text-anchor="middle" fill="#222" >****</text>
<text x="407.0" y="130.5" font-size="8" text-anchor="middle" fill="#222" >****</text>
<text x="371.8" y="70.9" font-size="8" text-anchor="middle" fill="#333" letter-spacing="-1.6">†</text>
<text x="389.8" y="83.3" font-size="8" text-anchor="middle" fill="#333" letter-spacing="-1.6">†††</text>
<text x="407.8" y="86.1" font-size="8" text-anchor="middle" fill="#333" letter-spacing="-1.6">††††</text>
<line x1="358.0" y1="141.5" x2="358.0" y2="147.5" stroke="#111" stroke-width="1" />
<polygon points="356.0,146.0 360.0,146.0 358.0,150.0" fill="#111" stroke="none" stroke-width="0" />
<text x="368.0" y="149.5" font-size="10.8" fill="#111">AAV-<tspan font-style="italic">Lyn11-LAPD</tspan></text>
<text x="408.5" y="178.8" font-size="10.6" text-anchor="middle" fill="#111" >Time (h)</text>
<text x="313.3" y="11.2" font-size="15.5" font-weight="bold" fill="#000">b</text>
<text x="320.0" y="89.8" font-size="10.6" text-anchor="middle" fill="#111" transform="rotate(-90 320.0 86.0)" >Threshold (g)</text>
<line x1="524.0" y1="20.0" x2="524.0" y2="152.0" stroke="#222" stroke-width="1" />
<line x1="520.0" y1="152.0" x2="524.0" y2="152.0" stroke="#222" stroke-width="1" />
<text x="519.2" y="155.8" font-size="10.5" text-anchor="end" fill="#111" >0.0</text>
<line x1="520.0" y1="119.0" x2="524.0" y2="119.0" stroke="#222" stroke-width="1" />
<text x="519.2" y="122.8" font-size="10.5" text-anchor="end" fill="#111" >0.5</text>
<line x1="520.0" y1="86.0" x2="524.0" y2="86.0" stroke="#222" stroke-width="1" />
<text x="519.2" y="89.8" font-size="10.5" text-anchor="end" fill="#111" >1.0</text>
<line x1="520.0" y1="53.0" x2="524.0" y2="53.0" stroke="#222" stroke-width="1" />
<text x="519.2" y="56.8" font-size="10.5" text-anchor="end" fill="#111" >1.5</text>
<line x1="520.0" y1="20.0" x2="524.0" y2="20.0" stroke="#222" stroke-width="1" />
<text x="519.2" y="23.8" font-size="10.5" text-anchor="end" fill="#111" >2.0</text>
<line x1="524.0" y1="152.0" x2="609.5" y2="152.0" stroke="#222" stroke-width="1" />
<line x1="531.0" y1="152.0" x2="531.0" y2="156.0" stroke="#222" stroke-width="1" />
<line x1="546.0" y1="152.0" x2="546.0" y2="156.0" stroke="#222" stroke-width="1" />
<line x1="561.6" y1="152.0" x2="561.6" y2="156.0" stroke="#222" stroke-width="1" />
<line x1="576.0" y1="152.0" x2="576.0" y2="156.0" stroke="#222" stroke-width="1" />
<line x1="590.7" y1="152.0" x2="590.7" y2="156.0" stroke="#222" stroke-width="1" />
<line x1="605.4" y1="152.0" x2="605.4" y2="156.0" stroke="#222" stroke-width="1" />
<text x="529.0" y="166.3" font-size="10.5" text-anchor="middle" fill="#111" >BL</text>
<text x="546.0" y="166.3" font-size="10.5" text-anchor="middle" fill="#111" >0</text>
<text x="561.6" y="166.3" font-size="10.5" text-anchor="middle" fill="#111" >0.5</text>
<text x="576.0" y="166.3" font-size="10.5" text-anchor="middle" fill="#111" >1</text>
<text x="590.7" y="166.3" font-size="10.5" text-anchor="middle" fill="#111" >2</text>
<text x="605.4" y="166.3" font-size="10.5" text-anchor="middle" fill="#111" >4</text>
<line x1="531.0" y1="56.3" x2="531.0" y2="54.3" stroke="#b4b4b4" stroke-width="0.8" />
<line x1="529.2" y1="54.3" x2="532.8" y2="54.3" stroke="#b4b4b4" stroke-width="0.8" />
<line x1="546.0" y1="58.3" x2="546.0" y2="57.0" stroke="#b4b4b4" stroke-width="0.8" />
<line x1="544.2" y1="57.0" x2="547.8" y2="57.0" stroke="#b4b4b4" stroke-width="0.8" />
<line x1="561.6" y1="53.0" x2="561.6" y2="50.4" stroke="#b4b4b4" stroke-width="0.8" />
<line x1="559.8" y1="50.4" x2="563.4" y2="50.4" stroke="#b4b4b4" stroke-width="0.8" />
<line x1="576.0" y1="57.0" x2="576.0" y2="54.3" stroke="#b4b4b4" stroke-width="0.8" />
<line x1="574.2" y1="54.3" x2="577.8" y2="54.3" stroke="#b4b4b4" stroke-width="0.8" />
<line x1="590.7" y1="52.3" x2="590.7" y2="51.0" stroke="#b4b4b4" stroke-width="0.8" />
<line x1="588.9" y1="51.0" x2="592.5" y2="51.0" stroke="#b4b4b4" stroke-width="0.8" />
<line x1="605.4" y1="57.0" x2="605.4" y2="54.3" stroke="#b4b4b4" stroke-width="0.8" />
<line x1="603.6" y1="54.3" x2="607.2" y2="54.3" stroke="#b4b4b4" stroke-width="0.8" />
<polyline points="531.0,56.3 546.0,58.3 561.6,53.0 576.0,57.0 590.7,52.3 605.4,57.0" fill="none" stroke="#b4b4b4" stroke-width="1.1" stroke-linejoin="round" />
<circle cx="531.0" cy="56.3" r="2.3" fill="#b4b4b4" stroke="none" stroke-width="0.8"/>
<circle cx="546.0" cy="58.3" r="2.3" fill="#b4b4b4" stroke="none" stroke-width="0.8"/>
<circle cx="561.6" cy="53.0" r="2.3" fill="#b4b4b4" stroke="none" stroke-width="0.8"/>
<circle cx="576.0" cy="57.0" r="2.3" fill="#b4b4b4" stroke="none" stroke-width="0.8"/>
<circle cx="590.7" cy="52.3" r="2.3" fill="#b4b4b4" stroke="none" stroke-width="0.8"/>
<circle cx="605.4" cy="57.0" r="2.3" fill="#b4b4b4" stroke="none" stroke-width="0.8"/>
<line x1="531.0" y1="51.0" x2="531.0" y2="49.7" stroke="#1f4de6" stroke-width="0.8" />
<line x1="529.2" y1="49.7" x2="532.8" y2="49.7" stroke="#1f4de6" stroke-width="0.8" />
<line x1="546.0" y1="121.0" x2="546.0" y2="118.3" stroke="#1f4de6" stroke-width="0.8" />
<line x1="544.2" y1="118.3" x2="547.8" y2="118.3" stroke="#1f4de6" stroke-width="0.8" />
<line x1="561.6" y1="111.1" x2="561.6" y2="109.1" stroke="#1f4de6" stroke-width="0.8" />
<line x1="559.8" y1="109.1" x2="563.4" y2="109.1" stroke="#1f4de6" stroke-width="0.8" />
<line x1="576.0" y1="122.3" x2="576.0" y2="120.3" stroke="#1f4de6" stroke-width="0.8" />
<line x1="574.2" y1="120.3" x2="577.8" y2="120.3" stroke="#1f4de6" stroke-width="0.8" />
<line x1="590.7" y1="113.7" x2="590.7" y2="111.7" stroke="#1f4de6" stroke-width="0.8" />
<line x1="588.9" y1="111.7" x2="592.5" y2="111.7" stroke="#1f4de6" stroke-width="0.8" />
<line x1="605.4" y1="116.4" x2="605.4" y2="114.4" stroke="#1f4de6" stroke-width="0.8" />
<line x1="603.6" y1="114.4" x2="607.2" y2="114.4" stroke="#1f4de6" stroke-width="0.8" />
<polyline points="531.0,51.0 546.0,121.0 561.6,111.1 576.0,122.3 590.7,113.7 605.4,116.4" fill="none" stroke="#1f4de6" stroke-width="1.1" stroke-linejoin="round" />
<circle cx="531.0" cy="51.0" r="2.3" fill="#1f4de6" stroke="none" stroke-width="0.8"/>
<circle cx="546.0" cy="121.0" r="2.3" fill="#1f4de6" stroke="none" stroke-width="0.8"/>
<circle cx="561.6" cy="111.1" r="2.3" fill="#1f4de6" stroke="none" stroke-width="0.8"/>
<circle cx="576.0" cy="122.3" r="2.3" fill="#1f4de6" stroke="none" stroke-width="0.8"/>
<circle cx="590.7" cy="113.7" r="2.3" fill="#1f4de6" stroke="none" stroke-width="0.8"/>
<circle cx="605.4" cy="116.4" r="2.3" fill="#1f4de6" stroke="none" stroke-width="0.8"/>
<line x1="531.0" y1="55.6" x2="531.0" y2="53.7" stroke="#111" stroke-width="0.8" />
<line x1="529.2" y1="53.7" x2="532.8" y2="53.7" stroke="#111" stroke-width="0.8" />
<line x1="546.0" y1="114.4" x2="546.0" y2="111.7" stroke="#111" stroke-width="0.8" />
<line x1="544.2" y1="111.7" x2="547.8" y2="111.7" stroke="#111" stroke-width="0.8" />
<line x1="561.6" y1="117.0" x2="561.6" y2="114.4" stroke="#111" stroke-width="0.8" />
<line x1="559.8" y1="114.4" x2="563.4" y2="114.4" stroke="#111" stroke-width="0.8" />
<line x1="576.0" y1="109.8" x2="576.0" y2="107.1" stroke="#111" stroke-width="0.8" />
<line x1="574.2" y1="107.1" x2="577.8" y2="107.1" stroke="#111" stroke-width="0.8" />
<line x1="590.7" y1="114.4" x2="590.7" y2="111.7" stroke="#111" stroke-width="0.8" />
<line x1="588.9" y1="111.7" x2="592.5" y2="111.7" stroke="#111" stroke-width="0.8" />
<line x1="605.4" y1="110.4" x2="605.4" y2="107.1" stroke="#111" stroke-width="0.8" />
<line x1="603.6" y1="107.1" x2="607.2" y2="107.1" stroke="#111" stroke-width="0.8" />
<polyline points="531.0,55.6 546.0,114.4 561.6,117.0 576.0,109.8 590.7,114.4 605.4,110.4" fill="none" stroke="#111" stroke-width="1.1" stroke-linejoin="round" />
<circle cx="531.0" cy="55.6" r="2.3" fill="#111" stroke="none" stroke-width="0.8"/>
<circle cx="546.0" cy="114.4" r="2.3" fill="#111" stroke="none" stroke-width="0.8"/>
<circle cx="561.6" cy="117.0" r="2.3" fill="#111" stroke="none" stroke-width="0.8"/>
<circle cx="576.0" cy="109.8" r="2.3" fill="#111" stroke="none" stroke-width="0.8"/>
<circle cx="590.7" cy="114.4" r="2.3" fill="#111" stroke="none" stroke-width="0.8"/>
<circle cx="605.4" cy="110.4" r="2.3" fill="#111" stroke="none" stroke-width="0.8"/>
<line x1="531.0" y1="57.0" x2="531.0" y2="55.0" stroke="#888" stroke-width="0.8" />
<line x1="529.2" y1="55.0" x2="532.8" y2="55.0" stroke="#888" stroke-width="0.8" />
<line x1="546.0" y1="109.8" x2="546.0" y2="107.8" stroke="#888" stroke-width="0.8" />
<line x1="544.2" y1="107.8" x2="547.8" y2="107.8" stroke="#888" stroke-width="0.8" />
<line x1="561.6" y1="74.8" x2="561.6" y2="67.5" stroke="#888" stroke-width="0.8" />
<line x1="559.8" y1="67.5" x2="563.4" y2="67.5" stroke="#888" stroke-width="0.8" />
<line x1="576.0" y1="69.5" x2="576.0" y2="62.9" stroke="#888" stroke-width="0.8" />
<line x1="574.2" y1="62.9" x2="577.8" y2="62.9" stroke="#888" stroke-width="0.8" />
<line x1="590.7" y1="68.2" x2="590.7" y2="59.6" stroke="#888" stroke-width="0.8" />
<line x1="588.9" y1="59.6" x2="592.5" y2="59.6" stroke="#888" stroke-width="0.8" />
<line x1="605.4" y1="84.7" x2="605.4" y2="80.1" stroke="#888" stroke-width="0.8" />
<line x1="603.6" y1="80.1" x2="607.2" y2="80.1" stroke="#888" stroke-width="0.8" />
<polyline points="531.0,57.0 546.0,109.8 561.6,74.8 576.0,69.5 590.7,68.2 605.4,84.7" fill="none" stroke="#e8192c" stroke-width="1.1" stroke-linejoin="round" />
<circle cx="531.0" cy="57.0" r="2.3" fill="#e8192c" stroke="none" stroke-width="0.8"/>
<circle cx="546.0" cy="109.8" r="2.3" fill="#e8192c" stroke="none" stroke-width="0.8"/>
<circle cx="561.6" cy="74.8" r="2.3" fill="#e8192c" stroke="none" stroke-width="0.8"/>
<circle cx="576.0" cy="69.5" r="2.3" fill="#e8192c" stroke="none" stroke-width="0.8"/>
<circle cx="590.7" cy="68.2" r="2.3" fill="#e8192c" stroke="none" stroke-width="0.8"/>
<circle cx="605.4" cy="84.7" r="2.3" fill="#e8192c" stroke="none" stroke-width="0.8"/>
<line x1="527.0" y1="6.0" x2="537.0" y2="6.0" stroke="#333" stroke-width="0.9" />
<circle cx="532.0" cy="6.0" r="2.0" fill="#b4b4b4" stroke="none" stroke-width="0.8"/>
<text x="538.5" y="9.9" font-size="10.8" fill="#111">Control/red light</text>
<line x1="527.0" y1="16.8" x2="537.0" y2="16.8" stroke="#333" stroke-width="0.9" />
<circle cx="532.0" cy="16.8" r="2.0" fill="#1f4de6" stroke="none" stroke-width="0.8"/>
<text x="538.5" y="20.7" font-size="10.8" fill="#111">Control/red light/CFA</text>
<line x1="527.0" y1="27.5" x2="537.0" y2="27.5" stroke="#333" stroke-width="0.9" />
<circle cx="532.0" cy="27.5" r="2.0" fill="#111" stroke="none" stroke-width="0.8"/>
<text x="538.5" y="31.4" font-size="10.8" fill="#111"><tspan font-style="italic">Plp-Lyn11-LAPD</tspan>/No light/CFA</text>
<line x1="527.0" y1="38.0" x2="537.0" y2="38.0" stroke="#333" stroke-width="0.9" />
<circle cx="532.0" cy="38.0" r="2.0" fill="#e8192c" stroke="none" stroke-width="0.8"/>
<text x="538.5" y="41.9" font-size="10.8" fill="#111"><tspan font-style="italic">Plp-Lyn11-LAPD</tspan>/red light/CFA</text>
<text x="546.0" y="130.5" font-size="8" text-anchor="middle" fill="#222" >****</text>
<text x="561.6" y="127.7" font-size="8" text-anchor="middle" fill="#222" >****</text>
<text x="576.0" y="120.8" font-size="8" text-anchor="middle" fill="#222" >****</text>
<text x="590.7" y="125.5" font-size="8" text-anchor="middle" fill="#222" >****</text>
<text x="605.4" y="125.5" font-size="8" text-anchor="middle" fill="#222" >****</text>
<text x="562.4" y="84.7" font-size="8" text-anchor="middle" fill="#333" letter-spacing="-1.6">††††</text>
<text x="576.8" y="77.8" font-size="8" text-anchor="middle" fill="#333" letter-spacing="-1.6">††††</text>
<text x="591.5" y="77.8" font-size="8" text-anchor="middle" fill="#333" letter-spacing="-1.6">††††</text>
<text x="606.2" y="93.1" font-size="8" text-anchor="middle" fill="#333" letter-spacing="-1.6">†††</text>
<line x1="537.2" y1="141.5" x2="537.2" y2="147.5" stroke="#111" stroke-width="1" />
<polygon points="535.2,146.0 539.2,146.0 537.2,150.0" fill="#111" stroke="none" stroke-width="0" />
<text x="545.0" y="149.5" font-size="10.8" fill="#111">AAV-<tspan font-style="italic">Lyn11-LAPD</tspan></text>
<text x="581.0" y="177.2" font-size="10.6" text-anchor="middle" fill="#111" >Time (h)</text>
<line x1="547.7" y1="180.0" x2="547.7" y2="183.0" stroke="#222" stroke-width="1" />
<line x1="606.5" y1="180.0" x2="606.5" y2="183.0" stroke="#222" stroke-width="1" />
<line x1="547.7" y1="183.0" x2="606.5" y2="183.0" stroke="#222" stroke-width="1" />
<text x="577.1" y="194.8" font-size="10.6" text-anchor="middle" fill="#111" >Day 2</text>
<text x="490.2" y="11.0" font-size="15.5" font-weight="bold" fill="#000">c</text>
<text x="498.0" y="89.8" font-size="10.6" text-anchor="middle" fill="#111" transform="rotate(-90 498.0 86.0)" >Threshold (g)</text>
<text x="-0.8" y="202.8" font-size="15.5" font-weight="bold" fill="#000">d</text>
<line x1="37.9" y1="203.4" x2="37.9" y2="335.4" stroke="#222" stroke-width="1" />
<line x1="32.9" y1="203.4" x2="37.9" y2="203.4" stroke="#222" stroke-width="1" />
<text x="32.1" y="207.2" font-size="10.5" text-anchor="end" fill="#111" >0.3</text>
<line x1="32.9" y1="236.4" x2="37.9" y2="236.4" stroke="#222" stroke-width="1" />
<text x="32.1" y="240.2" font-size="10.5" text-anchor="end" fill="#111" >0.2</text>
<line x1="32.9" y1="269.4" x2="37.9" y2="269.4" stroke="#222" stroke-width="1" />
<text x="32.1" y="273.2" font-size="10.5" text-anchor="end" fill="#111" >0.1</text>
<line x1="32.9" y1="302.4" x2="37.9" y2="302.4" stroke="#222" stroke-width="1" />
<text x="32.1" y="306.2" font-size="10.5" text-anchor="end" fill="#111" >0.0</text>
<line x1="32.9" y1="335.4" x2="37.9" y2="335.4" stroke="#222" stroke-width="1" />
<text x="32.1" y="339.2" font-size="10.5" text-anchor="end" fill="#111" >-0.1</text>
<line x1="37.9" y1="335.4" x2="238.5" y2="335.4" stroke="#222" stroke-width="1" />
<line x1="37.9" y1="335.4" x2="37.9" y2="339.4" stroke="#222" stroke-width="1" />
<text x="37.9" y="350.8" font-size="10.5" text-anchor="middle" fill="#111" >0</text>
<line x1="104.6" y1="335.4" x2="104.6" y2="339.4" stroke="#222" stroke-width="1" />
<text x="104.6" y="350.8" font-size="10.5" text-anchor="middle" fill="#111" >120</text>
<line x1="171.3" y1="335.4" x2="171.3" y2="339.4" stroke="#222" stroke-width="1" />
<text x="171.3" y="350.8" font-size="10.5" text-anchor="middle" fill="#111" >240</text>
<line x1="238.0" y1="335.4" x2="238.0" y2="339.4" stroke="#222" stroke-width="1" />
<text x="238.0" y="350.8" font-size="10.5" text-anchor="middle" fill="#111" >360</text>
<text x="9.3" y="266.7" font-size="10.4" text-anchor="middle" fill="#111" transform="rotate(-90 9.3 263.0)" >AKAP79-R-FlincA ΔF/F0</text>
<text x="142.0" y="360.2" font-size="10.6" text-anchor="middle" fill="#111" >Time (s)</text>
<line x1="37.9" y1="302.5" x2="238.0" y2="302.5" stroke="#111" stroke-width="1.0" stroke-dasharray="3,2" />
<line x1="76.5" y1="276.0" x2="76.5" y2="335.4" stroke="#111" stroke-width="1.0" stroke-dasharray="3.5,2.5" />
<text x="76.5" y="273.7" font-size="10.4" text-anchor="middle" fill="#111" >PGE<tspan font-size="7" dy="2">2</tspan></text>
<polygon points="37.9,302.3 38.9,302.3 39.8,302.3 40.8,302.3 41.8,302.3 42.7,302.3 43.7,302.3 44.7,302.3 45.6,302.3 46.6,302.3 47.5,302.3 48.5,302.3 49.5,302.3 50.4,302.3 51.4,302.3 52.4,302.3 53.3,302.3 54.3,302.3 55.3,302.3 56.2,302.3 57.2,302.3 58.2,302.3 59.1,302.3 60.1,302.3 61.0,302.3 62.0,302.3 63.0,302.3 63.9,302.3 64.9,302.3 65.9,302.3 66.8,302.3 67.8,302.3 68.8,302.3 69.7,302.3 70.7,302.3 71.7,302.3 72.6,302.3 73.6,302.3 74.5,302.3 75.5,302.3 76.5,302.3 77.4,302.3 78.4,302.3 79.4,302.3 80.3,302.3 81.3,302.3 82.3,302.3 83.2,302.3 84.2,302.3 85.2,302.3 86.1,302.3 87.1,302.3 88.0,302.3 89.0,302.3 90.0,302.3 90.9,302.3 91.9,302.3 92.9,302.3 93.8,302.3 94.8,302.3 95.8,302.3 96.7,302.3 97.7,302.3 98.7,302.3 99.6,302.3 100.6,302.3 101.5,302.3 102.5,302.3 103.5,302.3 104.4,302.3 105.4,302.3 106.4,302.3 107.3,302.3 108.3,302.3 109.3,302.3 110.2,302.3 111.2,302.3 112.2,302.3 113.1,302.3 114.1,302.3 115.0,302.3 116.0,302.3 117.0,302.3 117.9,302.3 118.9,302.3 119.9,302.3 120.8,302.3 121.8,302.3 122.8,302.3 123.7,302.3 124.7,302.3 125.7,302.3 126.6,302.3 127.6,302.3 128.6,302.3 129.5,302.3 130.5,302.3 131.4,302.3 132.4,302.3 133.4,302.3 134.3,302.3 135.3,302.3 136.3,302.3 137.2,302.3 138.2,302.3 139.2,302.3 140.1,302.3 141.1,302.3 142.1,302.3 143.0,302.3 144.0,302.3 144.9,302.3 145.9,302.3 146.9,302.3 147.8,302.3 148.8,302.3 149.8,302.3 150.7,302.3 151.7,302.2 152.7,302.2 153.6,302.2 154.6,302.2 155.6,302.2 156.5,302.1 157.5,302.1 158.4,302.1 159.4,302.1 160.4,302.0 161.3,302.0 162.3,302.0 163.3,302.0 164.2,301.9 165.2,301.9 166.2,301.9 167.1,301.9 168.1,301.8 169.1,301.8 170.0,301.8 171.0,301.8 171.9,301.8 172.9,301.7 173.9,301.7 174.8,301.7 175.8,301.7 176.8,301.6 177.7,301.6 178.7,301.6 179.7,301.6 180.6,301.5 181.6,301.5 182.6,301.5 183.5,301.5 184.5,301.5 185.4,301.4 186.4,301.4 187.4,301.4 188.3,301.4 189.3,301.3 190.3,301.3 191.2,301.3 192.2,301.3 193.2,301.2 194.1,301.2 195.1,301.2 196.1,301.2 197.0,301.1 198.0,301.1 198.9,301.1 199.9,301.1 200.9,301.1 201.8,301.0 202.8,301.0 203.8,301.0 204.7,301.0 205.7,300.9 206.7,300.9 207.6,300.9 208.6,300.9 209.6,300.8 210.5,300.8 211.5,300.8 212.5,300.8 213.4,300.8 214.4,300.7 215.3,300.7 216.3,300.7 217.3,300.7 218.2,300.6 219.2,300.6 220.2,300.6 221.1,300.6 222.1,300.5 223.1,300.5 224.0,300.5 225.0,300.5 226.0,300.4 226.9,300.4 227.9,300.4 228.8,300.4 229.8,300.4 230.8,300.3 230.8,301.8 229.8,301.9 228.8,301.9 227.9,301.9 226.9,301.9 226.0,301.9 225.0,302.0 224.0,302.0 223.1,302.0 222.1,302.0 221.1,302.1 220.2,302.1 219.2,302.1 218.2,302.1 217.3,302.2 216.3,302.2 215.3,302.2 214.4,302.2 213.4,302.3 212.5,302.3 211.5,302.3 210.5,302.3 209.6,302.3 208.6,302.4 207.6,302.4 206.7,302.4 205.7,302.4 204.7,302.5 203.8,302.5 202.8,302.5 201.8,302.5 200.9,302.6 199.9,302.6 198.9,302.6 198.0,302.6 197.0,302.6 196.1,302.7 195.1,302.7 194.1,302.7 193.2,302.7 192.2,302.8 191.2,302.8 190.3,302.8 189.3,302.8 188.3,302.9 187.4,302.9 186.4,302.9 185.4,302.9 184.5,303.0 183.5,303.0 182.6,303.0 181.6,303.0 180.6,303.0 179.7,303.1 178.7,303.1 177.7,303.1 176.8,303.1 175.8,303.2 174.8,303.2 173.9,303.2 172.9,303.2 171.9,303.3 171.0,303.3 170.0,303.3 169.1,303.3 168.1,303.3 167.1,303.4 166.2,303.4 165.2,303.4 164.2,303.4 163.3,303.5 162.3,303.5 161.3,303.5 160.4,303.5 159.4,303.6 158.4,303.6 157.5,303.6 156.5,303.6 155.6,303.7 154.6,303.7 153.6,303.7 152.7,303.7 151.7,303.7 150.7,303.8 149.8,303.8 148.8,303.8 147.8,303.8 146.9,303.8 145.9,303.8 144.9,303.8 144.0,303.8 143.0,303.8 142.1,303.8 141.1,303.8 140.1,303.8 139.2,303.8 138.2,303.8 137.2,303.8 136.3,303.8 135.3,303.8 134.3,303.8 133.4,303.8 132.4,303.8 131.4,303.8 130.5,303.8 129.5,303.8 128.6,303.8 127.6,303.8 126.6,303.8 125.7,303.8 124.7,303.8 123.7,303.8 122.8,303.8 121.8,303.8 120.8,303.8 119.9,303.8 118.9,303.8 117.9,303.8 117.0,303.8 116.0,303.8 115.0,303.8 114.1,303.8 113.1,303.8 112.2,303.8 111.2,303.8 110.2,303.8 109.3,303.8 108.3,303.8 107.3,303.8 106.4,303.8 105.4,303.8 104.4,303.8 103.5,303.8 102.5,303.8 101.5,303.8 100.6,303.8 99.6,303.8 98.7,303.8 97.7,303.8 96.7,303.8 95.8,303.8 94.8,303.8 93.8,303.8 92.9,303.8 91.9,303.8 90.9,303.8 90.0,303.8 89.0,303.8 88.0,303.8 87.1,303.8 86.1,303.8 85.2,303.8 84.2,303.8 83.2,303.8 82.3,303.8 81.3,303.8 80.3,303.8 79.4,303.8 78.4,303.8 77.4,303.8 76.5,303.8 75.5,303.8 74.5,303.8 73.6,303.8 72.6,303.8 71.7,303.8 70.7,303.8 69.7,303.8 68.8,303.8 67.8,303.8 66.8,303.8 65.9,303.8 64.9,303.8 63.9,303.8 63.0,303.8 62.0,303.8 61.0,303.8 60.1,303.8 59.1,303.8 58.2,303.8 57.2,303.8 56.2,303.8 55.3,303.8 54.3,303.8 53.3,303.8 52.4,303.8 51.4,303.8 50.4,303.8 49.5,303.8 48.5,303.8 47.5,303.8 46.6,303.8 45.6,303.8 44.7,303.8 43.7,303.8 42.7,303.8 41.8,303.8 40.8,303.8 39.8,303.8 38.9,303.8 37.9,303.8" fill="#2aa4e0" stroke="none" stroke-width="0" />
<polygon points="72.4,302.1 73.0,302.1 73.7,302.1 74.3,302.1 75.0,302.2 75.7,302.4 76.3,302.7 77.0,303.0 77.6,303.4 78.3,303.6 79.0,303.9 79.6,304.3 80.3,304.6 80.9,304.8 81.6,305.0 82.3,305.1 82.9,305.0 83.6,304.8 84.2,304.4 84.9,303.9 85.6,303.4 86.2,303.0 86.9,302.6 87.5,302.2 88.2,301.8 88.9,301.4 89.5,300.9 90.2,300.5 90.8,300.0 91.5,299.6 92.2,299.1 92.8,298.6 93.5,298.2 94.1,297.7 94.8,297.2 95.5,296.7 96.1,296.2 96.8,295.6 97.4,295.1 98.1,294.5 98.8,294.0 99.4,293.4 100.1,292.7 100.7,292.1 101.4,291.4 102.1,290.7 102.7,290.0 103.4,289.3 104.0,288.5 104.7,287.8 105.4,287.1 106.0,286.3 106.7,285.6 107.3,284.9 108.0,284.2 108.7,283.5 109.3,282.8 110.0,282.1 110.6,281.5 111.3,280.9 112.0,280.3 112.6,279.7 113.3,279.1 113.9,278.5 114.6,277.9 115.3,277.3 115.9,276.7 116.6,276.1 117.2,275.5 117.9,274.9 118.6,274.4 119.2,273.8 119.9,273.2 120.5,272.6 121.2,272.1 121.9,271.5 122.5,270.9 123.2,270.3 123.8,269.8 124.5,269.2 125.2,268.6 125.8,268.0 126.5,267.4 127.1,266.9 127.8,266.3 128.5,265.7 129.1,265.2 129.8,264.6 130.4,264.1 131.1,263.5 131.8,263.0 132.4,262.5 133.1,262.0 133.7,261.5 134.4,261.0 135.1,260.5 135.7,260.1 136.4,259.6 137.0,259.1 137.7,258.7 138.4,258.2 139.0,257.8 139.7,257.3 140.3,256.9 141.0,256.5 141.7,256.0 142.3,255.6 143.0,255.2 143.6,254.8 144.3,254.3 145.0,253.9 145.6,253.5 146.3,253.0 146.9,252.6 147.6,252.2 148.3,251.7 148.9,251.3 149.6,250.8 150.2,250.4 150.9,250.0 151.6,249.6 152.2,249.2 152.9,248.8 153.5,248.4 154.2,248.1 154.9,247.8 155.5,247.5 156.2,247.1 156.8,246.8 157.5,246.5 158.2,246.2 158.8,246.0 159.5,245.7 160.1,245.4 160.8,245.1 161.5,244.8 162.1,244.6 162.8,244.3 163.4,244.0 164.1,243.8 164.8,243.5 165.4,243.3 166.1,243.1 166.7,242.8 167.4,242.6 168.1,242.4 168.7,242.1 169.4,241.9 170.0,241.7 170.7,241.5 171.4,241.3 172.0,241.1 172.7,240.9 173.3,240.7 174.0,240.6 174.7,240.4 175.3,240.2 176.0,240.1 176.6,239.9 177.3,239.7 178.0,239.6 178.6,239.4 179.3,239.3 180.0,239.1 180.6,239.0 181.3,238.8 181.9,238.7 182.6,238.5 183.3,238.4 183.9,238.3 184.6,238.1 185.2,238.0 185.9,237.9 186.6,237.7 187.2,237.6 187.9,237.5 188.5,237.4 189.2,237.2 189.9,237.1 190.5,237.0 191.2,236.9 191.8,236.8 192.5,236.6 193.2,236.5 193.8,236.4 194.5,236.3 195.1,236.2 195.8,236.1 196.5,236.0 197.1,235.9 197.8,235.8 198.4,235.7 199.1,235.6 199.8,235.5 200.4,235.4 201.1,235.4 201.7,235.3 202.4,235.2 203.1,235.1 203.7,235.0 204.4,234.9 205.0,234.9 205.7,234.8 206.4,234.7 207.0,234.7 207.7,234.6 208.3,234.6 209.0,234.5 209.7,234.5 210.3,234.4 211.0,234.4 211.6,234.3 212.3,234.3 213.0,234.2 213.6,234.2 214.3,234.1 214.9,234.1 215.6,234.0 216.3,234.0 216.9,233.9 217.6,233.9 218.2,233.8 218.9,233.8 219.6,233.7 220.2,233.7 220.9,233.6 221.5,233.6 222.2,233.6 222.9,233.5 223.5,233.5 224.2,233.4 224.8,233.4 225.5,233.3 226.2,233.3 226.8,233.2 227.5,233.2 228.1,233.1 228.8,233.1 229.5,233.0 230.1,233.0 230.8,232.9 230.8,240.5 230.1,240.6 229.5,240.6 228.8,240.7 228.1,240.7 227.5,240.8 226.8,240.8 226.2,240.9 225.5,240.9 224.8,241.0 224.2,241.0 223.5,241.1 222.9,241.1 222.2,241.2 221.5,241.2 220.9,241.2 220.2,241.3 219.6,241.3 218.9,241.4 218.2,241.4 217.6,241.5 216.9,241.5 216.3,241.6 215.6,241.6 214.9,241.7 214.3,241.7 213.6,241.8 213.0,241.8 212.3,241.9 211.6,241.9 211.0,242.0 210.3,242.0 209.7,242.1 209.0,242.1 208.3,242.2 207.7,242.2 207.0,242.3 206.4,242.3 205.7,242.4 205.0,242.5 204.4,242.5 203.7,242.6 203.1,242.6 202.4,242.7 201.7,242.7 201.1,242.8 200.4,242.8 199.8,242.9 199.1,242.9 198.4,243.0 197.8,243.1 197.1,243.1 196.5,243.2 195.8,243.3 195.1,243.3 194.5,243.4 193.8,243.5 193.2,243.6 192.5,243.6 191.8,243.7 191.2,243.8 190.5,243.9 189.9,244.0 189.2,244.1 188.5,244.2 187.9,244.2 187.2,244.3 186.6,244.4 185.9,244.5 185.2,244.6 184.6,244.7 183.9,244.8 183.3,244.9 182.6,245.0 181.9,245.2 181.3,245.3 180.6,245.4 180.0,245.5 179.3,245.6 178.6,245.7 178.0,245.9 177.3,246.0 176.6,246.1 176.0,246.2 175.3,246.4 174.7,246.5 174.0,246.6 173.3,246.8 172.7,246.9 172.0,247.1 171.4,247.3 170.7,247.4 170.0,247.6 169.4,247.8 168.7,248.0 168.1,248.1 167.4,248.3 166.7,248.5 166.1,248.7 165.4,248.9 164.8,249.2 164.1,249.4 163.4,249.6 162.8,249.8 162.1,250.1 161.5,250.3 160.8,250.5 160.1,250.8 159.5,251.0 158.8,251.3 158.2,251.5 157.5,251.8 156.8,252.1 156.2,252.3 155.5,252.6 154.9,252.9 154.2,253.2 153.5,253.5 152.9,253.8 152.2,254.2 151.6,254.6 150.9,254.9 150.2,255.3 149.6,255.7 148.9,256.1 148.3,256.5 147.6,256.9 146.9,257.3 146.3,257.7 145.6,258.1 145.0,258.5 144.3,258.9 143.6,259.3 143.0,259.7 142.3,260.1 141.7,260.5 141.0,260.9 140.3,261.3 139.7,261.7 139.0,262.1 138.4,262.5 137.7,262.9 137.0,263.4 136.4,263.8 135.7,264.2 135.1,264.7 134.4,265.1 133.7,265.6 133.1,266.0 132.4,266.5 131.8,267.0 131.1,267.5 130.4,268.0 129.8,268.5 129.1,269.0 128.5,269.6 127.8,270.1 127.1,270.6 126.5,271.2 125.8,271.7 125.2,272.2 124.5,272.8 123.8,273.3 123.2,273.9 122.5,274.4 121.9,275.0 121.2,275.5 120.5,276.1 119.9,276.6 119.2,277.1 118.6,277.7 117.9,278.2 117.2,278.8 116.6,279.3 115.9,279.9 115.3,280.4 114.6,281.0 113.9,281.5 113.3,282.1 112.6,282.7 112.0,283.3 111.3,283.9 110.6,284.4 110.0,285.0 109.3,285.7 108.7,286.3 108.0,287.0 107.3,287.6 106.7,288.3 106.0,289.0 105.4,289.7 104.7,290.4 104.0,291.1 103.4,291.8 102.7,292.5 102.1,293.2 101.4,293.9 100.7,294.5 100.1,295.1 99.4,295.7 98.8,296.3 98.1,296.8 97.4,297.4 96.8,297.9 96.1,298.4 95.5,298.9 94.8,299.3 94.1,299.8 93.5,300.2 92.8,300.7 92.2,301.1 91.5,301.6 90.8,302.0 90.2,302.4 89.5,302.8 88.9,303.2 88.2,303.6 87.5,304.0 86.9,304.4 86.2,304.8 85.6,305.2 84.9,305.7 84.2,306.2 83.6,306.6 82.9,306.8 82.3,306.9 81.6,306.8 80.9,306.6 80.3,306.4 79.6,306.1 79.0,305.7 78.3,305.4 77.6,305.2 77.0,304.8 76.3,304.5 75.7,304.2 75.0,304.0 74.3,303.9 73.7,303.9 73.0,303.9 72.4,303.9" fill="#25d27e" stroke="none" stroke-width="0" />
<polygon points="37.9,301.5 38.5,301.5 39.2,301.5 39.8,301.6 40.5,301.6 41.1,301.6 41.8,301.6 42.4,301.6 43.0,301.7 43.7,301.7 44.3,301.7 45.0,301.7 45.6,301.7 46.3,301.8 46.9,301.8 47.5,301.8 48.2,301.8 48.8,301.9 49.5,301.9 50.1,301.9 50.8,301.9 51.4,301.9 52.0,302.0 52.7,302.0 53.3,302.0 54.0,302.0 54.6,302.1 55.3,302.1 55.9,302.1 56.5,302.1 57.2,302.2 57.8,302.2 58.5,302.2 59.1,302.2 59.8,302.2 60.4,302.3 61.0,302.3 61.7,302.3 62.3,302.3 63.0,302.3 63.6,302.3 64.3,302.4 64.9,302.4 65.5,302.4 66.2,302.4 66.8,302.4 67.5,302.4 68.1,302.4 68.8,302.4 69.4,302.5 70.0,302.5 70.7,302.5 71.3,302.5 72.0,302.5 72.6,302.5 73.3,302.5 73.9,302.5 74.5,302.5 75.2,302.1 75.8,301.2 76.5,300.4 77.1,300.1 77.8,299.9 78.4,299.8 79.0,299.7 79.7,299.6 80.3,299.6 81.0,299.5 81.6,299.5 82.3,299.5 82.9,299.5 83.5,299.5 84.2,299.5 84.8,299.5 85.5,299.5 86.1,299.5 86.8,299.4 87.4,299.0 88.0,298.5 88.7,297.9 89.3,297.2 90.0,296.4 90.6,295.6 91.3,294.8 91.9,294.0 92.5,293.3 93.2,292.5 93.8,291.6 94.5,290.7 95.1,289.8 95.8,288.8 96.4,287.8 97.0,286.8 97.7,285.8 98.3,284.8 99.0,283.8 99.6,282.7 100.3,281.6 100.9,280.4 101.5,279.2 102.2,278.0 102.8,276.8 103.5,275.6 104.1,274.3 104.8,273.1 105.4,271.9 106.0,270.7 106.7,269.4 107.3,268.3 108.0,267.1 108.6,266.0 109.3,264.9 109.9,263.8 110.5,262.8 111.2,261.7 111.8,260.7 112.5,259.7 113.1,258.7 113.8,257.7 114.4,256.7 115.0,255.8 115.7,254.8 116.3,253.9 117.0,253.0 117.6,252.1 118.3,251.2 118.9,250.3 119.6,249.5 120.2,248.7 120.8,247.9 121.5,247.1 122.1,246.4 122.8,245.7 123.4,245.0 124.1,244.3 124.7,243.7 125.3,243.0 126.0,242.4 126.6,241.8 127.3,241.2 127.9,240.6 128.6,240.0 129.2,239.4 129.8,238.9 130.5,238.3 131.1,237.8 131.8,237.3 132.4,236.8 133.1,236.3 133.7,235.8 134.3,235.3 135.0,234.9 135.6,234.4 136.3,234.0 136.9,233.6 137.6,233.2 138.2,232.8 138.8,232.4 139.5,232.0 140.1,231.6 140.8,231.3 141.4,230.9 142.1,230.5 142.7,230.1 143.3,229.8 144.0,229.4 144.6,229.0 145.3,228.7 145.9,228.3 146.6,227.9 147.2,227.5 147.8,227.2 148.5,226.8 149.1,226.4 149.8,226.0 150.4,225.7 151.1,225.3 151.7,225.0 152.3,224.6 153.0,224.2 153.6,223.9 154.3,223.5 154.9,223.2 155.6,222.8 156.2,222.5 156.8,222.2 157.5,221.8 158.1,221.5 158.8,221.2 159.4,220.9 160.1,220.6 160.7,220.3 161.3,220.0 162.0,219.7 162.6,219.4 163.3,219.1 163.9,218.8 164.6,218.5 165.2,218.2 165.8,217.9 166.5,217.6 167.1,217.3 167.8,217.0 168.4,216.8 169.1,216.5 169.7,216.2 170.3,216.0 171.0,215.7 171.6,215.5 172.3,215.2 172.9,215.0 173.6,214.8 174.2,214.5 174.8,214.3 175.5,214.1 176.1,213.9 176.8,213.7 177.4,213.5 178.1,213.3 178.7,213.1 179.3,212.9 180.0,212.7 180.6,212.5 181.3,212.3 181.9,212.1 182.6,211.9 183.2,211.7 183.8,211.5 184.5,211.3 185.1,211.1 185.8,211.0 186.4,210.8 187.1,210.6 187.7,210.4 188.3,210.2 189.0,210.1 189.6,209.9 190.3,209.7 190.9,209.6 191.6,209.4 192.2,209.3 192.8,209.1 193.5,208.9 194.1,208.8 194.8,208.6 195.4,208.5 196.1,208.4 196.7,208.2 197.3,208.1 198.0,207.9 198.6,207.8 199.3,207.7 199.9,207.5 200.6,207.4 201.2,207.3 201.8,207.2 202.5,207.1 203.1,206.9 203.8,206.8 204.4,206.7 205.1,206.6 205.7,206.5 206.3,206.4 207.0,206.3 207.6,206.3 208.3,206.2 208.9,206.1 209.6,206.0 210.2,205.9 210.8,205.8 211.5,205.8 212.1,205.7 212.8,205.6 213.4,205.5 214.1,205.5 214.7,205.4 215.3,205.3 216.0,205.2 216.6,205.2 217.3,205.1 217.9,205.0 218.6,204.9 219.2,204.9 219.8,204.8 220.5,204.7 221.1,204.7 221.8,204.6 222.4,204.5 223.1,204.4 223.7,204.4 224.3,204.3 225.0,204.2 225.6,204.2 226.3,204.1 226.9,204.0 227.6,203.9 228.2,203.9 228.8,203.8 229.5,203.7 230.1,203.6 230.8,203.6 230.8,211.2 230.1,211.2 229.5,211.3 228.8,211.4 228.2,211.5 227.6,211.5 226.9,211.6 226.3,211.7 225.6,211.8 225.0,211.8 224.3,211.9 223.7,212.0 223.1,212.0 222.4,212.1 221.8,212.2 221.1,212.3 220.5,212.3 219.8,212.4 219.2,212.5 218.6,212.5 217.9,212.6 217.3,212.7 216.6,212.8 216.0,212.8 215.3,212.9 214.7,213.0 214.1,213.1 213.4,213.1 212.8,213.2 212.1,213.3 211.5,213.4 210.8,213.4 210.2,213.5 209.6,213.6 208.9,213.7 208.3,213.8 207.6,213.9 207.0,213.9 206.3,214.0 205.7,214.1 205.1,214.2 204.4,214.3 203.8,214.4 203.1,214.5 202.5,214.5 201.8,214.6 201.2,214.7 200.6,214.8 199.9,214.9 199.3,215.0 198.6,215.1 198.0,215.2 197.3,215.3 196.7,215.4 196.1,215.5 195.4,215.6 194.8,215.8 194.1,215.9 193.5,216.0 192.8,216.1 192.2,216.2 191.6,216.4 190.9,216.5 190.3,216.6 189.6,216.8 189.0,216.9 188.3,217.0 187.7,217.2 187.1,217.3 186.4,217.5 185.8,217.6 185.1,217.8 184.5,217.9 183.8,218.1 183.2,218.2 182.6,218.4 181.9,218.5 181.3,218.7 180.6,218.9 180.0,219.0 179.3,219.2 178.7,219.4 178.1,219.5 177.4,219.7 176.8,219.9 176.1,220.1 175.5,220.2 174.8,220.4 174.2,220.6 173.6,220.8 172.9,221.0 172.3,221.2 171.6,221.4 171.0,221.6 170.3,221.9 169.7,222.1 169.1,222.3 168.4,222.6 167.8,222.8 167.1,223.1 166.5,223.3 165.8,223.6 165.2,223.8 164.6,224.1 163.9,224.3 163.3,224.6 162.6,224.9 162.0,225.1 161.3,225.4 160.7,225.7 160.1,226.0 159.4,226.2 158.8,226.5 158.1,226.8 157.5,227.1 156.8,227.4 156.2,227.7 155.6,228.0 154.9,228.3 154.3,228.6 153.6,228.9 153.0,229.3 152.3,229.6 151.7,229.9 151.1,230.3 150.4,230.6 149.8,230.9 149.1,231.3 148.5,231.6 147.8,231.9 147.2,232.3 146.6,232.6 145.9,233.0 145.3,233.3 144.6,233.6 144.0,234.0 143.3,234.3 142.7,234.7 142.1,235.0 141.4,235.3 140.8,235.7 140.1,236.0 139.5,236.4 138.8,236.7 138.2,237.1 137.6,237.5 136.9,237.8 136.3,238.2 135.6,238.6 135.0,239.0 134.3,239.4 133.7,239.9 133.1,240.3 132.4,240.8 131.8,241.2 131.1,241.7 130.5,242.2 129.8,242.7 129.2,243.3 128.6,243.8 127.9,244.4 127.3,244.9 126.6,245.5 126.0,246.1 125.3,246.7 124.7,247.3 124.1,247.9 123.4,248.6 122.8,249.2 122.1,249.9 121.5,250.6 120.8,251.3 120.2,252.1 119.6,252.9 118.9,253.7 118.3,254.5 117.6,255.3 117.0,256.2 116.3,257.1 115.7,258.0 115.0,258.9 114.4,259.8 113.8,260.8 113.1,261.8 112.5,262.7 111.8,263.7 111.2,264.7 110.5,265.7 109.9,266.7 109.3,267.7 108.6,268.8 108.0,269.9 107.3,271.0 106.7,272.2 106.0,273.4 105.4,274.5 104.8,275.7 104.1,277.0 103.5,278.2 102.8,279.4 102.2,280.5 101.5,281.7 100.9,282.9 100.3,284.0 99.6,285.1 99.0,286.1 98.3,287.1 97.7,288.1 97.0,289.1 96.4,290.1 95.8,291.0 95.1,291.9 94.5,292.8 93.8,293.7 93.2,294.5 92.5,295.3 91.9,296.0 91.3,296.8 90.6,297.5 90.0,298.3 89.3,299.0 88.7,299.7 88.0,300.3 87.4,300.8 86.8,301.2 86.1,301.3 85.5,301.3 84.8,301.3 84.2,301.3 83.5,301.3 82.9,301.3 82.3,301.3 81.6,301.3 81.0,301.3 80.3,301.4 79.7,301.4 79.0,301.5 78.4,301.6 77.8,301.7 77.1,301.9 76.5,302.2 75.8,303.0 75.2,303.9 74.5,304.3 73.9,304.3 73.3,304.3 72.6,304.3 72.0,304.3 71.3,304.3 70.7,304.3 70.0,304.3 69.4,304.3 68.8,304.2 68.1,304.2 67.5,304.2 66.8,304.2 66.2,304.2 65.5,304.2 64.9,304.2 64.3,304.2 63.6,304.1 63.0,304.1 62.3,304.1 61.7,304.1 61.0,304.1 60.4,304.1 59.8,304.0 59.1,304.0 58.5,304.0 57.8,304.0 57.2,304.0 56.5,303.9 55.9,303.9 55.3,303.9 54.6,303.9 54.0,303.8 53.3,303.8 52.7,303.8 52.0,303.8 51.4,303.7 50.8,303.7 50.1,303.7 49.5,303.7 48.8,303.7 48.2,303.6 47.5,303.6 46.9,303.6 46.3,303.6 45.6,303.5 45.0,303.5 44.3,303.5 43.7,303.5 43.0,303.5 42.4,303.4 41.8,303.4 41.1,303.4 40.5,303.4 39.8,303.4 39.2,303.3 38.5,303.3 37.9,303.3" fill="#fc346a" stroke="none" stroke-width="0" />
<line x1="56.0" y1="208.6" x2="68.0" y2="208.6" stroke="#fb2c62" stroke-width="2.3" />
<text x="69.4" y="212.4" font-size="10.6" fill="#111">PGE<tspan font-size="7" dy="2">2</tspan></text>
<line x1="56.0" y1="216.3" x2="68.0" y2="216.3" stroke="#2aa4e0" stroke-width="2.3" />
<text x="69.4" y="220.1" font-size="10.6" fill="#111">PF</text>
<line x1="56.0" y1="224.0" x2="68.0" y2="224.0" stroke="#19d276" stroke-width="2.3" />
<text x="69.4" y="227.8" font-size="10.6" fill="#111">BGC</text>
<line x1="265.0" y1="201.8" x2="265.0" y2="335.0" stroke="#666" stroke-width="1" />
<line x1="261.0" y1="335.0" x2="265.0" y2="335.0" stroke="#666" stroke-width="1" />
<text x="260.2" y="338.8" font-size="10.5" text-anchor="end" fill="#111" >0</text>
<line x1="261.0" y1="301.7" x2="265.0" y2="301.7" stroke="#666" stroke-width="1" />
<text x="260.2" y="305.5" font-size="10.5" text-anchor="end" fill="#111" >2</text>
<line x1="261.0" y1="268.4" x2="265.0" y2="268.4" stroke="#666" stroke-width="1" />
<text x="260.2" y="272.2" font-size="10.5" text-anchor="end" fill="#111" >4</text>
<line x1="261.0" y1="235.1" x2="265.0" y2="235.1" stroke="#666" stroke-width="1" />
<text x="260.2" y="238.9" font-size="10.5" text-anchor="end" fill="#111" >6</text>
<line x1="261.0" y1="201.8" x2="265.0" y2="201.8" stroke="#666" stroke-width="1" />
<text x="260.2" y="205.6" font-size="10.5" text-anchor="end" fill="#111" >8</text>
<text x="246.3" y="267.8" font-size="10.6" text-anchor="middle" fill="#111" transform="rotate(-90 246.3 264.0)" >AUC (x100)</text>
<rect x="268.4" y="295.0" width="13.5" height="40.0" fill="#ee2a5c" stroke="#333" stroke-width="0.6"/>
<rect x="300.0" y="295.9" width="14.2" height="39.1" fill="#14c26a" stroke="#333" stroke-width="0.6"/>
<circle cx="275.2" cy="331.7" r="1.8" fill="white" stroke="#3a3a3a" stroke-width="0.75"/>
<circle cx="272.2" cy="329.6" r="1.8" fill="white" stroke="#3a3a3a" stroke-width="0.75"/>
<circle cx="275.2" cy="328.1" r="1.8" fill="white" stroke="#3a3a3a" stroke-width="0.75"/>
<circle cx="278.2" cy="326.4" r="1.8" fill="white" stroke="#3a3a3a" stroke-width="0.75"/>
<circle cx="273.7" cy="325.1" r="1.8" fill="white" stroke="#3a3a3a" stroke-width="0.75"/>
<circle cx="270.2" cy="324.6" r="1.8" fill="white" stroke="#3a3a3a" stroke-width="0.75"/>
<circle cx="280.7" cy="324.0" r="1.8" fill="white" stroke="#3a3a3a" stroke-width="0.75"/>
<circle cx="276.7" cy="323.4" r="1.8" fill="white" stroke="#3a3a3a" stroke-width="0.75"/>
<circle cx="272.7" cy="322.1" r="1.8" fill="white" stroke="#3a3a3a" stroke-width="0.75"/>
<circle cx="269.7" cy="321.6" r="1.8" fill="white" stroke="#3a3a3a" stroke-width="0.75"/>
<circle cx="279.2" cy="321.0" r="1.8" fill="white" stroke="#3a3a3a" stroke-width="0.75"/>
<circle cx="275.2" cy="318.8" r="1.8" fill="white" stroke="#3a3a3a" stroke-width="0.75"/>
<circle cx="271.7" cy="318.7" r="1.8" fill="white" stroke="#3a3a3a" stroke-width="0.75"/>
<circle cx="280.7" cy="318.1" r="1.8" fill="white" stroke="#3a3a3a" stroke-width="0.75"/>
<circle cx="277.7" cy="316.9" r="1.8" fill="white" stroke="#3a3a3a" stroke-width="0.75"/>
<circle cx="269.7" cy="316.8" r="1.8" fill="white" stroke="#3a3a3a" stroke-width="0.75"/>
<circle cx="273.7" cy="316.3" r="1.8" fill="white" stroke="#3a3a3a" stroke-width="0.75"/>
<circle cx="279.7" cy="316.0" r="1.8" fill="white" stroke="#3a3a3a" stroke-width="0.75"/>
<circle cx="276.2" cy="314.9" r="1.8" fill="white" stroke="#3a3a3a" stroke-width="0.75"/>
<circle cx="271.2" cy="314.8" r="1.8" fill="white" stroke="#3a3a3a" stroke-width="0.75"/>
<circle cx="278.2" cy="314.7" r="1.8" fill="white" stroke="#3a3a3a" stroke-width="0.75"/>
<circle cx="280.7" cy="314.6" r="1.8" fill="white" stroke="#3a3a3a" stroke-width="0.75"/>
<circle cx="273.7" cy="312.6" r="1.8" fill="white" stroke="#3a3a3a" stroke-width="0.75"/>
<circle cx="269.7" cy="312.1" r="1.8" fill="white" stroke="#3a3a3a" stroke-width="0.75"/>
<circle cx="277.2" cy="311.3" r="1.8" fill="white" stroke="#3a3a3a" stroke-width="0.75"/>
<circle cx="280.7" cy="311.0" r="1.8" fill="white" stroke="#3a3a3a" stroke-width="0.75"/>
<circle cx="271.7" cy="310.7" r="1.8" fill="white" stroke="#3a3a3a" stroke-width="0.75"/>
<circle cx="274.7" cy="310.4" r="1.8" fill="white" stroke="#3a3a3a" stroke-width="0.75"/>
<circle cx="278.7" cy="310.4" r="1.8" fill="white" stroke="#3a3a3a" stroke-width="0.75"/>
<circle cx="269.7" cy="310.0" r="1.8" fill="white" stroke="#3a3a3a" stroke-width="0.75"/>
<circle cx="276.2" cy="309.8" r="1.8" fill="white" stroke="#3a3a3a" stroke-width="0.75"/>
<circle cx="273.2" cy="309.1" r="1.8" fill="white" stroke="#3a3a3a" stroke-width="0.75"/>
<circle cx="280.2" cy="307.2" r="1.8" fill="white" stroke="#3a3a3a" stroke-width="0.75"/>
<circle cx="270.7" cy="306.9" r="1.8" fill="white" stroke="#3a3a3a" stroke-width="0.75"/>
<circle cx="275.7" cy="306.8" r="1.8" fill="white" stroke="#3a3a3a" stroke-width="0.75"/>
<circle cx="273.2" cy="306.0" r="1.8" fill="white" stroke="#3a3a3a" stroke-width="0.75"/>
<circle cx="278.2" cy="304.6" r="1.8" fill="white" stroke="#3a3a3a" stroke-width="0.75"/>
<circle cx="269.7" cy="303.6" r="1.8" fill="white" stroke="#3a3a3a" stroke-width="0.75"/>
<circle cx="275.2" cy="303.3" r="1.8" fill="white" stroke="#3a3a3a" stroke-width="0.75"/>
<circle cx="280.7" cy="302.9" r="1.8" fill="white" stroke="#3a3a3a" stroke-width="0.75"/>
<circle cx="272.2" cy="302.6" r="1.8" fill="white" stroke="#3a3a3a" stroke-width="0.75"/>
<circle cx="277.7" cy="301.3" r="1.8" fill="white" stroke="#3a3a3a" stroke-width="0.75"/>
<circle cx="274.7" cy="299.3" r="1.8" fill="white" stroke="#3a3a3a" stroke-width="0.75"/>
<circle cx="276.7" cy="296.7" r="1.8" fill="white" stroke="#3a3a3a" stroke-width="0.75"/>
<circle cx="273.2" cy="296.0" r="1.8" fill="white" stroke="#3a3a3a" stroke-width="0.75"/>
<circle cx="280.2" cy="295.4" r="1.8" fill="white" stroke="#3a3a3a" stroke-width="0.75"/>
<circle cx="270.2" cy="294.5" r="1.8" fill="white" stroke="#3a3a3a" stroke-width="0.75"/>
<circle cx="275.2" cy="294.2" r="1.8" fill="white" stroke="#3a3a3a" stroke-width="0.75"/>
<circle cx="278.2" cy="292.9" r="1.8" fill="white" stroke="#3a3a3a" stroke-width="0.75"/>
<circle cx="272.7" cy="292.8" r="1.8" fill="white" stroke="#3a3a3a" stroke-width="0.75"/>
<circle cx="280.7" cy="292.1" r="1.8" fill="white" stroke="#3a3a3a" stroke-width="0.75"/>
<circle cx="269.7" cy="291.5" r="1.8" fill="white" stroke="#3a3a3a" stroke-width="0.75"/>
<circle cx="275.7" cy="291.4" r="1.8" fill="white" stroke="#3a3a3a" stroke-width="0.75"/>
<circle cx="273.7" cy="291.3" r="1.8" fill="white" stroke="#3a3a3a" stroke-width="0.75"/>
<circle cx="278.7" cy="290.0" r="1.8" fill="white" stroke="#3a3a3a" stroke-width="0.75"/>
<circle cx="271.7" cy="289.1" r="1.8" fill="white" stroke="#3a3a3a" stroke-width="0.75"/>
<circle cx="275.2" cy="287.8" r="1.8" fill="white" stroke="#3a3a3a" stroke-width="0.75"/>
<circle cx="280.7" cy="287.4" r="1.8" fill="white" stroke="#3a3a3a" stroke-width="0.75"/>
<circle cx="269.7" cy="286.5" r="1.8" fill="white" stroke="#3a3a3a" stroke-width="0.75"/>
<circle cx="277.7" cy="286.0" r="1.8" fill="white" stroke="#3a3a3a" stroke-width="0.75"/>
<circle cx="275.2" cy="283.3" r="1.8" fill="white" stroke="#3a3a3a" stroke-width="0.75"/>
<circle cx="273.2" cy="280.4" r="1.8" fill="white" stroke="#3a3a3a" stroke-width="0.75"/>
<circle cx="276.7" cy="279.2" r="1.8" fill="white" stroke="#3a3a3a" stroke-width="0.75"/>
<circle cx="270.2" cy="278.5" r="1.8" fill="white" stroke="#3a3a3a" stroke-width="0.75"/>
<circle cx="275.2" cy="275.7" r="1.8" fill="white" stroke="#3a3a3a" stroke-width="0.75"/>
<circle cx="278.7" cy="275.6" r="1.8" fill="white" stroke="#3a3a3a" stroke-width="0.75"/>
<circle cx="272.2" cy="274.1" r="1.8" fill="white" stroke="#3a3a3a" stroke-width="0.75"/>
<circle cx="280.7" cy="273.1" r="1.8" fill="white" stroke="#3a3a3a" stroke-width="0.75"/>
<circle cx="276.7" cy="272.7" r="1.8" fill="white" stroke="#3a3a3a" stroke-width="0.75"/>
<circle cx="269.7" cy="271.6" r="1.8" fill="white" stroke="#3a3a3a" stroke-width="0.75"/>
<circle cx="275.2" cy="268.4" r="1.8" fill="white" stroke="#3a3a3a" stroke-width="0.75"/>
<circle cx="272.2" cy="266.7" r="1.8" fill="white" stroke="#3a3a3a" stroke-width="0.75"/>
<circle cx="275.2" cy="265.1" r="1.8" fill="white" stroke="#3a3a3a" stroke-width="0.75"/>
<circle cx="272.2" cy="263.4" r="1.8" fill="white" stroke="#3a3a3a" stroke-width="0.75"/>
<circle cx="275.2" cy="251.8" r="1.8" fill="white" stroke="#3a3a3a" stroke-width="0.75"/>
<circle cx="275.2" cy="248.4" r="1.8" fill="white" stroke="#3a3a3a" stroke-width="0.75"/>
<circle cx="275.2" cy="238.4" r="1.8" fill="white" stroke="#3a3a3a" stroke-width="0.75"/>
<circle cx="307.1" cy="332.6" r="1.8" fill="white" stroke="#3a3a3a" stroke-width="0.75"/>
<circle cx="305.1" cy="330.0" r="1.8" fill="white" stroke="#3a3a3a" stroke-width="0.75"/>
<circle cx="308.1" cy="327.8" r="1.8" fill="white" stroke="#3a3a3a" stroke-width="0.75"/>
<circle cx="302.6" cy="327.8" r="1.8" fill="white" stroke="#3a3a3a" stroke-width="0.75"/>
<circle cx="311.6" cy="326.9" r="1.8" fill="white" stroke="#3a3a3a" stroke-width="0.75"/>
<circle cx="305.6" cy="326.5" r="1.8" fill="white" stroke="#3a3a3a" stroke-width="0.75"/>
<circle cx="309.6" cy="326.1" r="1.8" fill="white" stroke="#3a3a3a" stroke-width="0.75"/>
<circle cx="301.6" cy="325.1" r="1.8" fill="white" stroke="#3a3a3a" stroke-width="0.75"/>
<circle cx="312.6" cy="324.3" r="1.8" fill="white" stroke="#3a3a3a" stroke-width="0.75"/>
<circle cx="307.1" cy="323.6" r="1.8" fill="white" stroke="#3a3a3a" stroke-width="0.75"/>
<circle cx="303.6" cy="322.5" r="1.8" fill="white" stroke="#3a3a3a" stroke-width="0.75"/>
<circle cx="310.1" cy="321.9" r="1.8" fill="white" stroke="#3a3a3a" stroke-width="0.75"/>
<circle cx="312.6" cy="321.8" r="1.8" fill="white" stroke="#3a3a3a" stroke-width="0.75"/>
<circle cx="306.1" cy="321.0" r="1.8" fill="white" stroke="#3a3a3a" stroke-width="0.75"/>
<circle cx="301.6" cy="320.8" r="1.8" fill="white" stroke="#3a3a3a" stroke-width="0.75"/>
<circle cx="308.6" cy="320.2" r="1.8" fill="white" stroke="#3a3a3a" stroke-width="0.75"/>
<circle cx="304.1" cy="319.9" r="1.8" fill="white" stroke="#3a3a3a" stroke-width="0.75"/>
<circle cx="311.6" cy="319.2" r="1.8" fill="white" stroke="#3a3a3a" stroke-width="0.75"/>
<circle cx="306.6" cy="318.1" r="1.8" fill="white" stroke="#3a3a3a" stroke-width="0.75"/>
<circle cx="302.6" cy="316.9" r="1.8" fill="white" stroke="#3a3a3a" stroke-width="0.75"/>
<circle cx="307.1" cy="314.0" r="1.8" fill="white" stroke="#3a3a3a" stroke-width="0.75"/>
<circle cx="310.6" cy="313.9" r="1.8" fill="white" stroke="#3a3a3a" stroke-width="0.75"/>
<circle cx="303.6" cy="313.9" r="1.8" fill="white" stroke="#3a3a3a" stroke-width="0.75"/>
<circle cx="307.1" cy="310.5" r="1.8" fill="white" stroke="#3a3a3a" stroke-width="0.75"/>
<circle cx="303.6" cy="309.4" r="1.8" fill="white" stroke="#3a3a3a" stroke-width="0.75"/>
<circle cx="307.1" cy="304.5" r="1.8" fill="white" stroke="#3a3a3a" stroke-width="0.75"/>
<circle cx="303.6" cy="303.8" r="1.8" fill="white" stroke="#3a3a3a" stroke-width="0.75"/>
<circle cx="310.1" cy="302.9" r="1.8" fill="white" stroke="#3a3a3a" stroke-width="0.75"/>
<circle cx="306.1" cy="301.7" r="1.8" fill="white" stroke="#3a3a3a" stroke-width="0.75"/>
<circle cx="301.6" cy="301.0" r="1.8" fill="white" stroke="#3a3a3a" stroke-width="0.75"/>
<circle cx="312.6" cy="300.6" r="1.8" fill="white" stroke="#3a3a3a" stroke-width="0.75"/>
<circle cx="309.1" cy="299.7" r="1.8" fill="white" stroke="#3a3a3a" stroke-width="0.75"/>
<circle cx="304.1" cy="299.7" r="1.8" fill="white" stroke="#3a3a3a" stroke-width="0.75"/>
<circle cx="306.6" cy="299.5" r="1.8" fill="white" stroke="#3a3a3a" stroke-width="0.75"/>
<circle cx="301.6" cy="298.4" r="1.8" fill="white" stroke="#3a3a3a" stroke-width="0.75"/>
<circle cx="311.6" cy="298.2" r="1.8" fill="white" stroke="#3a3a3a" stroke-width="0.75"/>
<circle cx="308.1" cy="297.0" r="1.8" fill="white" stroke="#3a3a3a" stroke-width="0.75"/>
<circle cx="304.6" cy="295.9" r="1.8" fill="white" stroke="#3a3a3a" stroke-width="0.75"/>
<circle cx="309.6" cy="293.8" r="1.8" fill="white" stroke="#3a3a3a" stroke-width="0.75"/>
<circle cx="306.1" cy="292.9" r="1.8" fill="white" stroke="#3a3a3a" stroke-width="0.75"/>
<circle cx="302.6" cy="292.5" r="1.8" fill="white" stroke="#3a3a3a" stroke-width="0.75"/>
<circle cx="312.1" cy="291.3" r="1.8" fill="white" stroke="#3a3a3a" stroke-width="0.75"/>
<circle cx="307.1" cy="287.7" r="1.8" fill="white" stroke="#3a3a3a" stroke-width="0.75"/>
<circle cx="307.1" cy="280.8" r="1.8" fill="white" stroke="#3a3a3a" stroke-width="0.75"/>
<circle cx="303.6" cy="280.5" r="1.8" fill="white" stroke="#3a3a3a" stroke-width="0.75"/>
<circle cx="309.6" cy="278.4" r="1.8" fill="white" stroke="#3a3a3a" stroke-width="0.75"/>
<circle cx="307.1" cy="275.1" r="1.8" fill="white" stroke="#3a3a3a" stroke-width="0.75"/>
<circle cx="304.1" cy="273.4" r="1.8" fill="white" stroke="#3a3a3a" stroke-width="0.75"/>
<circle cx="307.1" cy="271.7" r="1.8" fill="white" stroke="#3a3a3a" stroke-width="0.75"/>
<circle cx="307.1" cy="265.1" r="1.8" fill="white" stroke="#3a3a3a" stroke-width="0.75"/>
<circle cx="307.1" cy="253.4" r="1.8" fill="white" stroke="#3a3a3a" stroke-width="0.75"/>
<circle cx="307.1" cy="250.1" r="1.8" fill="white" stroke="#3a3a3a" stroke-width="0.75"/>
<circle cx="307.1" cy="246.8" r="1.8" fill="white" stroke="#3a3a3a" stroke-width="0.75"/>
<circle cx="307.1" cy="235.1" r="1.8" fill="white" stroke="#3a3a3a" stroke-width="0.75"/>
<circle cx="307.1" cy="218.5" r="1.8" fill="white" stroke="#3a3a3a" stroke-width="0.75"/>
<circle cx="290.5" cy="334.5" r="1.7" fill="white" stroke="#3a3a3a" stroke-width="0.75"/>
<circle cx="287.0" cy="334.0" r="1.7" fill="white" stroke="#3a3a3a" stroke-width="0.75"/>
<circle cx="294.0" cy="334.0" r="1.7" fill="white" stroke="#3a3a3a" stroke-width="0.75"/>
<circle cx="289.0" cy="333.9" r="1.7" fill="white" stroke="#3a3a3a" stroke-width="0.75"/>
<circle cx="292.0" cy="333.9" r="1.7" fill="white" stroke="#3a3a3a" stroke-width="0.75"/>
<circle cx="285.5" cy="333.8" r="1.7" fill="white" stroke="#3a3a3a" stroke-width="0.75"/>
<circle cx="295.5" cy="333.6" r="1.7" fill="white" stroke="#3a3a3a" stroke-width="0.75"/>
<circle cx="290.0" cy="333.5" r="1.7" fill="white" stroke="#3a3a3a" stroke-width="0.75"/>
<circle cx="288.0" cy="333.3" r="1.7" fill="white" stroke="#3a3a3a" stroke-width="0.75"/>
<circle cx="293.0" cy="333.2" r="1.7" fill="white" stroke="#3a3a3a" stroke-width="0.75"/>
<circle cx="286.5" cy="332.6" r="1.7" fill="white" stroke="#3a3a3a" stroke-width="0.75"/>
<circle cx="294.5" cy="332.6" r="1.7" fill="white" stroke="#3a3a3a" stroke-width="0.75"/>
<circle cx="291.0" cy="330.7" r="1.7" fill="white" stroke="#3a3a3a" stroke-width="0.75"/>
<circle cx="288.0" cy="330.1" r="1.7" fill="white" stroke="#3a3a3a" stroke-width="0.75"/>
<circle cx="290.5" cy="318.4" r="1.7" fill="white" stroke="#3a3a3a" stroke-width="0.75"/>
<line x1="271.2" y1="295.0" x2="279.2" y2="295.0" stroke="#111" stroke-width="1.2" />
<line x1="275.2" y1="298.4" x2="275.2" y2="291.7" stroke="#111" stroke-width="1" />
<line x1="272.7" y1="291.7" x2="277.7" y2="291.7" stroke="#111" stroke-width="1" />
<line x1="303.1" y1="295.9" x2="311.1" y2="295.9" stroke="#111" stroke-width="1.2" />
<line x1="307.1" y1="299.2" x2="307.1" y2="291.7" stroke="#111" stroke-width="1" />
<line x1="304.6" y1="291.7" x2="309.6" y2="291.7" stroke="#111" stroke-width="1" />
<line x1="286.5" y1="333.3" x2="294.5" y2="333.3" stroke="#111" stroke-width="1.2" />
<line x1="290.5" y1="334.2" x2="290.5" y2="332.5" stroke="#111" stroke-width="1" />
<line x1="288.0" y1="332.5" x2="293.0" y2="332.5" stroke="#111" stroke-width="1" />
<text x="292.0" y="209.6" font-size="10.6" text-anchor="middle" fill="#111" >PGE<tspan font-size="7" dy="2">2</tspan></text>
<line x1="276.3" y1="213.7" x2="306.4" y2="213.7" stroke="#444" stroke-width="1" />
<text x="282.0" y="226.5" font-size="9.6" text-anchor="middle" fill="#111" >&lt;0.0001</text>
<line x1="275.0" y1="233.5" x2="275.0" y2="229.5" stroke="#999" stroke-width="0.8" />
<line x1="275.0" y1="229.5" x2="290.5" y2="229.5" stroke="#999" stroke-width="0.8" />
<line x1="290.5" y1="229.5" x2="290.5" y2="314.0" stroke="#999" stroke-width="0.8" />
<text x="277.5" y="342.7" font-size="10.4" text-anchor="end" fill="#111" transform="rotate(-45 277.5 339.0)" >–</text>
<text x="293.0" y="345.7" font-size="10.4" text-anchor="end" fill="#111" transform="rotate(-45 293.0 342.0)" >PF</text>
<text x="310.0" y="345.7" font-size="10.4" text-anchor="end" fill="#111" transform="rotate(-45 310.0 342.0)" >BGC</text>
<text x="318.8" y="205.4" font-size="15.5" font-weight="bold" fill="#000">e</text>
<line x1="361.3" y1="203.5" x2="361.3" y2="335.1" stroke="#222" stroke-width="1" />
<line x1="356.3" y1="203.5" x2="361.3" y2="203.5" stroke="#222" stroke-width="1" />
<text x="355.5" y="207.3" font-size="10.5" text-anchor="end" fill="#111" >0.3</text>
<line x1="356.3" y1="236.4" x2="361.3" y2="236.4" stroke="#222" stroke-width="1" />
<text x="355.5" y="240.2" font-size="10.5" text-anchor="end" fill="#111" >0.2</text>
<line x1="356.3" y1="269.3" x2="361.3" y2="269.3" stroke="#222" stroke-width="1" />
<text x="355.5" y="273.1" font-size="10.5" text-anchor="end" fill="#111" >0.1</text>
<line x1="356.3" y1="302.2" x2="361.3" y2="302.2" stroke="#222" stroke-width="1" />
<text x="355.5" y="306.0" font-size="10.5" text-anchor="end" fill="#111" >0.0</text>
<line x1="356.3" y1="335.1" x2="361.3" y2="335.1" stroke="#222" stroke-width="1" />
<text x="355.5" y="338.9" font-size="10.5" text-anchor="end" fill="#111" >-0.1</text>
<line x1="361.3" y1="335.1" x2="561.0" y2="335.1" stroke="#222" stroke-width="1" />
<line x1="361.3" y1="335.1" x2="361.3" y2="339.1" stroke="#222" stroke-width="1" />
<text x="361.3" y="350.8" font-size="10.5" text-anchor="middle" fill="#111" >0</text>
<line x1="427.6" y1="335.1" x2="427.6" y2="339.1" stroke="#222" stroke-width="1" />
<text x="427.6" y="350.8" font-size="10.5" text-anchor="middle" fill="#111" >120</text>
<line x1="493.9" y1="335.1" x2="493.9" y2="339.1" stroke="#222" stroke-width="1" />
<text x="493.9" y="350.8" font-size="10.5" text-anchor="middle" fill="#111" >240</text>
<line x1="560.2" y1="335.1" x2="560.2" y2="339.1" stroke="#222" stroke-width="1" />
<text x="560.2" y="350.8" font-size="10.5" text-anchor="middle" fill="#111" >360</text>
<text x="334.3" y="274.3" font-size="10.4" text-anchor="middle" fill="#111" transform="rotate(-90 334.3 270.6)" >AKAP79-AKAR4 ΔF/F0</text>
<text x="463.8" y="360.0" font-size="10.6" text-anchor="middle" fill="#111" >Time (s)</text>
<line x1="361.3" y1="302.5" x2="560.0" y2="302.5" stroke="#111" stroke-width="1.0" stroke-dasharray="3,2" />
<line x1="394.5" y1="258.0" x2="394.5" y2="335.1" stroke="#111" stroke-width="1.0" stroke-dasharray="3.5,2.5" />
<text x="394.8" y="253.3" font-size="10.4" text-anchor="middle" fill="#111" >PGE<tspan font-size="7" dy="2">2</tspan></text>
<path d="M361.3 301.3L361.3 292.6M360.1 292.6L362.5 292.6M362.1 292.5L362.1 301.9M360.9 301.9L363.3 301.9M363.0 288.2L363.0 293.8M361.8 293.8L364.2 293.8M363.8 293.8L363.8 289.9M362.6 289.9L365.0 289.9M364.6 296.1L364.6 290.5M363.4 290.5L365.8 290.5M365.4 290.8L365.4 298.3M364.2 298.3L366.6 298.3M366.3 288.8L366.3 294.3M365.1 294.3L367.5 294.3M367.1 286.5L367.1 290.7M365.9 290.7L368.3 290.7M367.9 297.7L367.9 306.8M366.7 306.8L369.1 306.8M368.8 298.5L368.8 307.0M367.6 307.0L370.0 307.0M369.6 289.8L369.6 281.7M368.4 281.7L370.8 281.7M370.4 291.4L370.4 298.2M369.2 298.2L371.6 298.2M371.2 287.1L371.2 296.0M370.0 296.0L372.4 296.0M372.1 290.1L372.1 286.7M370.9 286.7L373.3 286.7M372.9 295.6L372.9 289.7M371.7 289.7L374.1 289.7M373.7 296.9L373.7 301.3M372.5 301.3L374.9 301.3M374.6 284.3L374.6 274.9M373.4 274.9L375.8 274.9M375.4 298.0L375.4 300.8M374.2 300.8L376.6 300.8M376.2 300.8L376.2 310.3M375.0 310.3L377.4 310.3M377.0 302.9L377.0 310.6M375.8 310.6L378.2 310.6M377.9 297.8L377.9 303.9M376.7 303.9L379.1 303.9M378.7 298.1L378.7 289.2M377.5 289.2L379.9 289.2M379.5 300.8L379.5 308.4M378.3 308.4L380.7 308.4M380.4 300.4L380.4 304.1M379.2 304.1L381.6 304.1M381.2 299.6L381.2 303.5M380.0 303.5L382.4 303.5M382.0 298.5L382.0 306.7M380.8 306.7L383.2 306.7M382.8 297.5L382.8 304.4M381.6 304.4L384.0 304.4M383.7 302.4L383.7 297.1M382.5 297.1L384.9 297.1M384.5 312.5L384.5 320.1M383.3 320.1L385.7 320.1M385.3 301.8L385.3 305.6M384.1 305.6L386.5 305.6M386.2 312.4L386.2 317.9M385.0 317.9L387.4 317.9M387.0 307.5L387.0 313.6M385.8 313.6L388.2 313.6M387.8 314.3L387.8 321.1M386.6 321.1L389.0 321.1M388.6 308.4L388.6 298.8M387.4 298.8L389.8 298.8M389.5 312.8L389.5 322.2M388.3 322.2L390.7 322.2M390.3 309.0L390.3 312.7M389.1 312.7L391.5 312.7M391.1 295.7L391.1 291.1M389.9 291.1L392.3 291.1M392.0 311.6L392.0 314.6M390.8 314.6L393.2 314.6M392.8 307.3L392.8 298.4M391.6 298.4L394.0 298.4M393.6 317.1L393.6 324.0M392.4 324.0L394.8 324.0M394.5 312.2L394.5 317.5M393.3 317.5L395.7 317.5M395.3 307.7L395.3 314.6M394.1 314.6L396.5 314.6M396.1 311.0L396.1 317.1M394.9 317.1L397.3 317.1M396.9 308.7L396.9 303.2M395.7 303.2L398.1 303.2M397.8 309.8L397.8 313.3M396.6 313.3L399.0 313.3M398.6 314.8L398.6 318.2M397.4 318.2L399.8 318.2M399.4 307.4L399.4 311.0M398.2 311.0L400.6 311.0M400.3 313.5L400.3 321.8M399.1 321.8L401.5 321.8M401.1 301.0L401.1 298.0M399.9 298.0L402.3 298.0M401.9 311.8L401.9 321.2M400.7 321.2L403.1 321.2M402.7 306.2L402.7 297.9M401.5 297.9L403.9 297.9M403.6 309.2L403.6 312.1M402.4 312.1L404.8 312.1M404.4 304.6L404.4 299.5M403.2 299.5L405.6 299.5M405.2 311.6L405.2 318.9M404.0 318.9L406.4 318.9M406.1 304.1L406.1 310.8M404.9 310.8L407.3 310.8M406.9 309.1L406.9 314.7M405.7 314.7L408.1 314.7M407.7 302.6L407.7 309.2M406.5 309.2L408.9 309.2M408.5 305.4L408.5 312.7M407.3 312.7L409.7 312.7M409.4 307.4L409.4 312.4M408.2 312.4L410.6 312.4M410.2 311.5L410.2 314.9M409.0 314.9L411.4 314.9M411.0 304.3L411.0 310.7M409.8 310.7L412.2 310.7M411.9 305.5L411.9 298.8M410.7 298.8L413.1 298.8M412.7 299.9L412.7 290.9M411.5 290.9L413.9 290.9M413.5 309.1L413.5 313.1M412.3 313.1L414.7 313.1M414.3 304.6L414.3 313.9M413.1 313.9L415.5 313.9M415.2 304.7L415.2 313.8M414.0 313.8L416.4 313.8M416.0 305.6L416.0 312.2M414.8 312.2L417.2 312.2M416.8 305.9L416.8 301.6M415.6 301.6L418.0 301.6M417.7 306.1L417.7 301.0M416.5 301.0L418.9 301.0M418.5 309.8L418.5 307.1M417.3 307.1L419.7 307.1M419.3 311.8L419.3 320.7M418.1 320.7L420.5 320.7M420.1 309.0L420.1 317.1M418.9 317.1L421.3 317.1M421.0 304.6L421.0 310.7M419.8 310.7L422.2 310.7M421.8 300.4L421.8 305.6M420.6 305.6L423.0 305.6M422.6 303.0L422.6 298.3M421.4 298.3L423.8 298.3M423.5 302.7L423.5 305.5M422.3 305.5L424.7 305.5M424.3 304.1L424.3 296.9M423.1 296.9L425.5 296.9M425.1 304.5L425.1 310.6M423.9 310.6L426.3 310.6M425.9 307.0L425.9 298.9M424.7 298.9L427.1 298.9M426.8 304.4L426.8 310.3M425.6 310.3L428.0 310.3M427.6 299.9L427.6 307.7M426.4 307.7L428.8 307.7M428.4 309.6L428.4 312.4M427.2 312.4L429.6 312.4M429.3 311.4L429.3 315.4M428.1 315.4L430.5 315.4M430.1 299.3L430.1 303.7M428.9 303.7L431.3 303.7M430.9 307.2L430.9 313.6M429.7 313.6L432.1 313.6M431.7 304.0L431.7 312.4M430.5 312.4L432.9 312.4M432.6 304.5L432.6 313.6M431.4 313.6L433.8 313.6M433.4 313.9L433.4 321.4M432.2 321.4L434.6 321.4M434.2 297.5L434.2 305.9M433.0 305.9L435.4 305.9M435.1 300.6L435.1 309.3M433.9 309.3L436.3 309.3M435.9 308.1L435.9 313.9M434.7 313.9L437.1 313.9M436.7 305.5L436.7 311.3M435.5 311.3L437.9 311.3M437.5 308.5L437.5 312.8M436.3 312.8L438.7 312.8M438.4 313.2L438.4 316.9M437.2 316.9L439.6 316.9M439.2 309.8L439.2 317.8M438.0 317.8L440.4 317.8M440.0 307.6L440.0 312.5M438.8 312.5L441.2 312.5M440.9 304.3L440.9 311.0M439.7 311.0L442.1 311.0M441.7 306.3L441.7 311.7M440.5 311.7L442.9 311.7M442.5 309.3L442.5 315.1M441.3 315.1L443.7 315.1M443.3 303.5L443.3 312.6M442.1 312.6L444.5 312.6M444.2 313.3L444.2 317.8M443.0 317.8L445.4 317.8M445.0 306.2L445.0 311.9M443.8 311.9L446.2 311.9M445.8 304.9L445.8 309.8M444.6 309.8L447.0 309.8M446.7 311.4L446.7 317.8M445.5 317.8L447.9 317.8M447.5 318.4L447.5 328.0M446.3 328.0L448.7 328.0M448.3 314.4L448.3 309.9M447.1 309.9L449.5 309.9M449.1 309.2L449.1 311.9M447.9 311.9L450.3 311.9M450.0 308.0L450.0 317.1M448.8 317.1L451.2 317.1M450.8 303.3L450.8 299.2M449.6 299.2L452.0 299.2M451.6 315.2L451.6 309.3M450.4 309.3L452.8 309.3M452.5 310.6L452.5 313.8M451.3 313.8L453.7 313.8M453.3 307.7L453.3 311.5M452.1 311.5L454.5 311.5M454.1 311.5L454.1 320.3M452.9 320.3L455.3 320.3M454.9 321.8L454.9 327.2M453.7 327.2L456.1 327.2M455.8 307.2L455.8 298.0M454.6 298.0L457.0 298.0M456.6 300.4L456.6 292.6M455.4 292.6L457.8 292.6M457.4 306.5L457.4 299.4M456.2 299.4L458.6 299.4M458.3 315.4L458.3 312.4M457.1 312.4L459.5 312.4M459.1 313.2L459.1 305.4M457.9 305.4L460.3 305.4M459.9 310.3L459.9 318.2M458.7 318.2L461.1 318.2M460.8 300.0L460.8 308.8M459.6 308.8L461.9 308.8M461.6 308.7L461.6 300.6M460.4 300.6L462.8 300.6M462.4 311.1L462.4 314.2M461.2 314.2L463.6 314.2M463.2 304.5L463.2 299.9M462.0 299.9L464.4 299.9M464.1 312.1L464.1 320.0M462.9 320.0L465.3 320.0M464.9 303.3L464.9 312.0M463.7 312.0L466.1 312.0M465.7 315.1L465.7 321.9M464.5 321.9L466.9 321.9M466.6 314.2L466.6 324.0M465.4 324.0L467.8 324.0M467.4 308.8L467.4 316.9M466.2 316.9L468.6 316.9M468.2 305.6L468.2 315.0M467.0 315.0L469.4 315.0M469.0 309.2L469.0 319.1M467.8 319.1L470.2 319.1M469.9 310.9L469.9 318.0M468.7 318.0L471.1 318.0M470.7 320.8L470.7 317.0M469.5 317.0L471.9 317.0M471.5 315.8L471.5 319.0M470.3 319.0L472.7 319.0M472.4 315.4L472.4 311.2M471.2 311.2L473.6 311.2M473.2 315.1L473.2 322.0M472.0 322.0L474.4 322.0M474.0 310.0L474.0 306.8M472.8 306.8L475.2 306.8M474.8 314.4L474.8 323.4M473.6 323.4L476.0 323.4M475.7 309.3L475.7 317.6M474.5 317.6L476.9 317.6M476.5 312.6L476.5 315.6M475.3 315.6L477.7 315.6M477.3 314.6L477.3 321.4M476.1 321.4L478.5 321.4M478.2 312.6L478.2 315.7M477.0 315.7L479.4 315.7M479.0 311.2L479.0 320.0M477.8 320.0L480.2 320.0M479.8 309.3L479.8 303.0M478.6 303.0L481.0 303.0M480.6 315.6L480.6 310.2M479.4 310.2L481.8 310.2M481.5 314.5L481.5 317.7M480.3 317.7L482.7 317.7M482.3 319.8L482.3 315.2M481.1 315.2L483.5 315.2M483.1 306.2L483.1 299.4M481.9 299.4L484.3 299.4M484.0 307.0L484.0 298.5M482.8 298.5L485.2 298.5M484.8 314.6L484.8 319.7M483.6 319.7L486.0 319.7M485.6 316.1L485.6 319.0M484.4 319.0L486.8 319.0M486.4 319.6L486.4 326.6M485.2 326.6L487.6 326.6M487.3 313.2L487.3 303.7M486.1 303.7L488.5 303.7M488.1 313.1L488.1 321.6M486.9 321.6L489.3 321.6M488.9 304.1L488.9 313.1M487.7 313.1L490.1 313.1M489.8 313.1L489.8 318.7M488.6 318.7L491.0 318.7M490.6 317.9L490.6 312.4M489.4 312.4L491.8 312.4M491.4 325.7L491.4 331.3M490.2 331.3L492.6 331.3M492.2 308.0L492.2 314.3M491.0 314.3L493.4 314.3M493.1 313.7L493.1 317.1M491.9 317.1L494.3 317.1M493.9 322.1L493.9 329.8M492.7 329.8L495.1 329.8M494.7 313.9L494.7 318.2M493.5 318.2L495.9 318.2M495.6 322.2L495.6 330.5M494.4 330.5L496.8 330.5M496.4 298.9L496.4 303.7M495.2 303.7L497.6 303.7M497.2 309.8L497.2 316.7M496.0 316.7L498.4 316.7M498.0 312.4L498.0 304.2M496.8 304.2L499.2 304.2M498.9 315.9L498.9 320.6M497.7 320.6L500.1 320.6M499.7 325.1L499.7 334.4M498.5 334.4L500.9 334.4M500.5 315.9L500.5 307.2M499.3 307.2L501.7 307.2M501.4 322.5L501.4 327.0M500.2 327.0L502.6 327.0M502.2 312.7L502.2 316.1M501.0 316.1L503.4 316.1M503.0 325.4L503.0 332.6M501.8 332.6L504.2 332.6M503.8 319.8L503.8 327.5M502.6 327.5L505.0 327.5M504.7 310.1L504.7 312.9M503.5 312.9L505.9 312.9M505.5 308.2L505.5 301.6M504.3 301.6L506.7 301.6M506.3 321.3L506.3 325.7M505.1 325.7L507.5 325.7M507.2 323.0L507.2 319.8M506.0 319.8L508.4 319.8M508.0 311.9L508.0 320.9M506.8 320.9L509.2 320.9M508.8 312.1L508.8 317.7M507.6 317.7L510.0 317.7M509.6 320.6L509.6 329.1M508.4 329.1L510.8 329.1M510.5 319.3L510.5 325.1M509.3 325.1L511.7 325.1M511.3 319.4L511.3 326.5M510.1 326.5L512.5 326.5M512.1 321.7L512.1 326.2M510.9 326.2L513.3 326.2M513.0 319.4L513.0 325.9M511.8 325.9L514.2 325.9M513.8 310.6L513.8 302.8M512.6 302.8L515.0 302.8M514.6 313.2L514.6 317.5M513.4 317.5L515.8 317.5M515.4 306.9L515.4 309.8M514.2 309.8L516.6 309.8M516.3 316.8L516.3 320.1M515.1 320.1L517.5 320.1M517.1 317.1L517.1 324.0M515.9 324.0L518.3 324.0M517.9 321.1L517.9 317.3M516.7 317.3L519.1 317.3M518.8 317.2L518.8 324.1M517.6 324.1L520.0 324.1M519.6 322.7L519.6 317.8M518.4 317.8L520.8 317.8M520.4 324.9L520.4 331.0M519.2 331.0L521.6 331.0M521.2 313.5L521.2 305.4M520.0 305.4L522.4 305.4M522.1 310.1L522.1 317.6M520.9 317.6L523.3 317.6M522.9 313.0L522.9 308.3M521.7 308.3L524.1 308.3M523.7 310.7L523.7 302.6M522.5 302.6L524.9 302.6M524.6 315.7L524.6 309.1M523.4 309.1L525.8 309.1M525.4 320.3L525.4 329.2M524.2 329.2L526.6 329.2M526.2 316.6L526.2 323.3M525.0 323.3L527.4 323.3M527.1 318.8L527.1 325.6M525.9 325.6L528.3 325.6M527.9 322.2L527.9 318.5M526.7 318.5L529.1 318.5M528.7 324.9L528.7 317.0M527.5 317.0L529.9 317.0M529.5 324.0L529.5 327.5M528.3 327.5L530.7 327.5M530.4 317.2L530.4 309.1M529.2 309.1L531.6 309.1M531.2 316.6L531.2 311.7M530.0 311.7L532.4 311.7M532.0 319.5L532.0 311.2M530.8 311.2L533.2 311.2M532.9 310.8L532.9 316.6M531.7 316.6L534.1 316.6M533.7 316.6L533.7 319.7M532.5 319.7L534.9 319.7M534.5 314.8L534.5 311.1M533.3 311.1L535.7 311.1M535.3 311.9L535.3 304.6M534.1 304.6L536.5 304.6M536.2 321.3L536.2 326.1M535.0 326.1L537.4 326.1M537.0 326.6L537.0 331.8M535.8 331.8L538.2 331.8M537.8 314.2L537.8 323.2M536.6 323.2L539.0 323.2M538.7 320.8L538.7 327.5M537.5 327.5L539.9 327.5M539.5 311.5L539.5 320.8M538.3 320.8L540.7 320.8M540.3 315.9L540.3 321.4M539.1 321.4L541.5 321.4M541.1 312.8L541.1 318.3M539.9 318.3L542.3 318.3M542.0 313.8L542.0 321.5M540.8 321.5L543.2 321.5M542.8 326.8L542.8 330.4M541.6 330.4L544.0 330.4M543.6 313.9L543.6 317.8M542.4 317.8L544.8 317.8M544.5 320.2L544.5 329.2M543.3 329.2L545.7 329.2M545.3 320.5L545.3 313.8M544.1 313.8L546.5 313.8M546.1 319.0L546.1 324.1M544.9 324.1L547.3 324.1M546.9 313.3L546.9 320.6M545.7 320.6L548.1 320.6M547.8 312.7L547.8 308.6M546.6 308.6L549.0 308.6M548.6 312.0L548.6 315.1M547.4 315.1L549.8 315.1M549.4 324.3L549.4 329.5M548.2 329.5L550.6 329.5M550.3 319.3L550.3 324.2M549.1 324.2L551.5 324.2M551.1 327.4L551.1 334.6M549.9 334.6L552.3 334.6M551.9 316.9L551.9 319.8M550.7 319.8L553.1 319.8M552.7 313.5L552.7 319.8M551.5 319.8L553.9 319.8M553.6 319.7L553.6 327.6M552.4 327.6L554.8 327.6M554.4 315.0L554.4 319.6M553.2 319.6L555.6 319.6M555.2 315.0L555.2 322.3M554.0 322.3L556.4 322.3" stroke="#2aa4e0" stroke-width="0.6" fill="none" />
<polyline points="361.3,301.3 362.1,292.5 363.0,288.2 363.8,293.8 364.6,296.1 365.4,290.8 366.3,288.8 367.1,286.5 367.9,297.7 368.8,298.5 369.6,289.8 370.4,291.4 371.2,287.1 372.1,290.1 372.9,295.6 373.7,296.9 374.6,284.3 375.4,298.0 376.2,300.8 377.0,302.9 377.9,297.8 378.7,298.1 379.5,300.8 380.4,300.4 381.2,299.6 382.0,298.5 382.8,297.5 383.7,302.4 384.5,312.5 385.3,301.8 386.2,312.4 387.0,307.5 387.8,314.3 388.6,308.4 389.5,312.8 390.3,309.0 391.1,295.7 392.0,311.6 392.8,307.3 393.6,317.1 394.5,312.2 395.3,307.7 396.1,311.0 396.9,308.7 397.8,309.8 398.6,314.8 399.4,307.4 400.3,313.5 401.1,301.0 401.9,311.8 402.7,306.2 403.6,309.2 404.4,304.6 405.2,311.6 406.1,304.1 406.9,309.1 407.7,302.6 408.5,305.4 409.4,307.4 410.2,311.5 411.0,304.3 411.9,305.5 412.7,299.9 413.5,309.1 414.3,304.6 415.2,304.7 416.0,305.6 416.8,305.9 417.7,306.1 418.5,309.8 419.3,311.8 420.1,309.0 421.0,304.6 421.8,300.4 422.6,303.0 423.5,302.7 424.3,304.1 425.1,304.5 425.9,307.0 426.8,304.4 427.6,299.9 428.4,309.6 429.3,311.4 430.1,299.3 430.9,307.2 431.7,304.0 432.6,304.5 433.4,313.9 434.2,297.5 435.1,300.6 435.9,308.1 436.7,305.5 437.5,308.5 438.4,313.2 439.2,309.8 440.0,307.6 440.9,304.3 441.7,306.3 442.5,309.3 443.3,303.5 444.2,313.3 445.0,306.2 445.8,304.9 446.7,311.4 447.5,318.4 448.3,314.4 449.1,309.2 450.0,308.0 450.8,303.3 451.6,315.2 452.5,310.6 453.3,307.7 454.1,311.5 454.9,321.8 455.8,307.2 456.6,300.4 457.4,306.5 458.3,315.4 459.1,313.2 459.9,310.3 460.8,300.0 461.6,308.7 462.4,311.1 463.2,304.5 464.1,312.1 464.9,303.3 465.7,315.1 466.6,314.2 467.4,308.8 468.2,305.6 469.0,309.2 469.9,310.9 470.7,320.8 471.5,315.8 472.4,315.4 473.2,315.1 474.0,310.0 474.8,314.4 475.7,309.3 476.5,312.6 477.3,314.6 478.2,312.6 479.0,311.2 479.8,309.3 480.6,315.6 481.5,314.5 482.3,319.8 483.1,306.2 484.0,307.0 484.8,314.6 485.6,316.1 486.4,319.6 487.3,313.2 488.1,313.1 488.9,304.1 489.8,313.1 490.6,317.9 491.4,325.7 492.2,308.0 493.1,313.7 493.9,322.1 494.7,313.9 495.6,322.2 496.4,298.9 497.2,309.8 498.0,312.4 498.9,315.9 499.7,325.1 500.5,315.9 501.4,322.5 502.2,312.7 503.0,325.4 503.8,319.8 504.7,310.1 505.5,308.2 506.3,321.3 507.2,323.0 508.0,311.9 508.8,312.1 509.6,320.6 510.5,319.3 511.3,319.4 512.1,321.7 513.0,319.4 513.8,310.6 514.6,313.2 515.4,306.9 516.3,316.8 517.1,317.1 517.9,321.1 518.8,317.2 519.6,322.7 520.4,324.9 521.2,313.5 522.1,310.1 522.9,313.0 523.7,310.7 524.6,315.7 525.4,320.3 526.2,316.6 527.1,318.8 527.9,322.2 528.7,324.9 529.5,324.0 530.4,317.2 531.2,316.6 532.0,319.5 532.9,310.8 533.7,316.6 534.5,314.8 535.3,311.9 536.2,321.3 537.0,326.6 537.8,314.2 538.7,320.8 539.5,311.5 540.3,315.9 541.1,312.8 542.0,313.8 542.8,326.8 543.6,313.9 544.5,320.2 545.3,320.5 546.1,319.0 546.9,313.3 547.8,312.7 548.6,312.0 549.4,324.3 550.3,319.3 551.1,327.4 551.9,316.9 552.7,313.5 553.6,319.7 554.4,315.0 555.2,315.0" fill="none" stroke="#2aa4e0" stroke-width="1.3" stroke-linejoin="round" />
<path d="M361.3 311.2L361.3 317.3M360.1 317.3L362.5 317.3M362.1 300.9L362.1 308.0M360.9 308.0L363.3 308.0M363.0 304.2L363.0 313.4M361.8 313.4L364.2 313.4M363.8 305.7L363.8 301.9M362.6 301.9L365.0 301.9M364.6 296.8L364.6 290.8M363.4 290.8L365.8 290.8M365.4 302.6L365.4 312.2M364.2 312.2L366.6 312.2M366.3 304.8L366.3 298.8M365.1 298.8L367.5 298.8M367.1 292.0L367.1 296.3M365.9 296.3L368.3 296.3M367.9 306.5L367.9 297.2M366.7 297.2L369.1 297.2M368.8 311.5L368.8 305.6M367.6 305.6L370.0 305.6M369.6 312.3L369.6 305.3M368.4 305.3L370.8 305.3M370.4 307.2L370.4 310.3M369.2 310.3L371.6 310.3M371.2 299.9L371.2 304.8M370.0 304.8L372.4 304.8M372.1 298.8L372.1 308.0M370.9 308.0L373.3 308.0M372.9 297.1L372.9 306.4M371.7 306.4L374.1 306.4M373.7 292.8L373.7 289.7M372.5 289.7L374.9 289.7M374.6 293.7L374.6 286.3M373.4 286.3L375.8 286.3M375.4 300.5L375.4 303.1M374.2 303.1L376.6 303.1M376.2 296.3L376.2 288.9M375.0 288.9L377.4 288.9M377.0 300.6L377.0 294.2M375.8 294.2L378.2 294.2M377.9 308.3L377.9 301.7M376.7 301.7L379.1 301.7M378.7 299.7L378.7 307.2M377.5 307.2L379.9 307.2M379.5 304.6L379.5 300.4M378.3 300.4L380.7 300.4M380.4 306.4L380.4 313.2M379.2 313.2L381.6 313.2M381.2 292.7L381.2 288.8M380.0 288.8L382.4 288.8M382.0 300.5L382.0 293.5M380.8 293.5L383.2 293.5M382.8 308.5L382.8 311.6M381.6 311.6L384.0 311.6M383.7 306.1L383.7 313.2M382.5 313.2L384.9 313.2M384.5 291.0L384.5 284.4M383.3 284.4L385.7 284.4M385.3 307.4L385.3 301.3M384.1 301.3L386.5 301.3M386.2 301.3L386.2 294.9M385.0 294.9L387.4 294.9M387.0 302.2L387.0 305.3M385.8 305.3L388.2 305.3M387.8 303.0L387.8 310.6M386.6 310.6L389.0 310.6M388.6 302.6L388.6 293.2M387.4 293.2L389.8 293.2M389.5 309.5L389.5 304.0M388.3 304.0L390.7 304.0M390.3 309.5L390.3 315.8M389.1 315.8L391.5 315.8M391.1 307.7L391.1 298.8M389.9 298.8L392.3 298.8M392.0 308.2L392.0 315.0M390.8 315.0L393.2 315.0M392.8 298.4L392.8 290.3M391.6 290.3L394.0 290.3M393.6 291.3L393.6 288.1M392.4 288.1L394.8 288.1M394.5 304.2L394.5 311.1M393.3 311.1L395.7 311.1M395.3 292.6L395.3 288.4M394.1 288.4L396.5 288.4M396.1 300.3L396.1 295.0M394.9 295.0L397.3 295.0M396.9 296.7L396.9 287.0M395.7 287.0L398.1 287.0M397.8 292.0L397.8 297.9M396.6 297.9L399.0 297.9M398.6 288.1L398.6 279.8M397.4 279.8L399.8 279.8M399.4 289.8L399.4 299.2M398.2 299.2L400.6 299.2M400.3 301.7L400.3 295.0M399.1 295.0L401.5 295.0M401.1 274.7L401.1 283.4M399.9 283.4L402.3 283.4M401.9 284.6L401.9 277.1M400.7 277.1L403.1 277.1M402.7 286.3L402.7 295.3M401.5 295.3L403.9 295.3M403.6 277.4L403.6 286.8M402.4 286.8L404.8 286.8M404.4 284.9L404.4 292.6M403.2 292.6L405.6 292.6M405.2 289.6L405.2 295.4M404.0 295.4L406.4 295.4M406.1 276.9L406.1 268.8M404.9 268.8L407.3 268.8M406.9 276.8L406.9 280.3M405.7 280.3L408.1 280.3M407.7 284.1L407.7 277.6M406.5 277.6L408.9 277.6M408.5 272.9L408.5 266.4M407.3 266.4L409.7 266.4M409.4 275.3L409.4 266.6M408.2 266.6L410.6 266.6M410.2 284.3L410.2 288.7M409.0 288.7L411.4 288.7M411.0 265.4L411.0 259.3M409.8 259.3L412.2 259.3M411.9 274.3L411.9 271.0M410.7 271.0L413.1 271.0M412.7 282.6L412.7 288.2M411.5 288.2L413.9 288.2M413.5 271.9L413.5 264.6M412.3 264.6L414.7 264.6M414.3 273.4L414.3 270.3M413.1 270.3L415.5 270.3M415.2 267.5L415.2 274.1M414.0 274.1L416.4 274.1M416.0 281.6L416.0 289.6M414.8 289.6L417.2 289.6M416.8 266.0L416.8 262.2M415.6 262.2L418.0 262.2M417.7 266.1L417.7 258.3M416.5 258.3L418.9 258.3M418.5 267.2L418.5 272.8M417.3 272.8L419.7 272.8M419.3 267.2L419.3 270.4M418.1 270.4L420.5 270.4M420.1 262.2L420.1 266.2M418.9 266.2L421.3 266.2M421.0 265.5L421.0 272.9M419.8 272.9L422.2 272.9M421.8 268.7L421.8 261.0M420.6 261.0L423.0 261.0M422.6 274.4L422.6 278.7M421.4 278.7L423.8 278.7M423.5 261.5L423.5 252.0M422.3 252.0L424.7 252.0M424.3 261.8L424.3 265.2M423.1 265.2L425.5 265.2M425.1 265.7L425.1 262.7M423.9 262.7L426.3 262.7M425.9 266.1L425.9 259.8M424.7 259.8L427.1 259.8M426.8 262.0L426.8 254.2M425.6 254.2L428.0 254.2M427.6 282.0L427.6 273.6M426.4 273.6L428.8 273.6M428.4 263.5L428.4 259.3M427.2 259.3L429.6 259.3M429.3 280.9L429.3 289.3M428.1 289.3L430.5 289.3M430.1 263.0L430.1 257.7M428.9 257.7L431.3 257.7M430.9 257.3L430.9 254.2M429.7 254.2L432.1 254.2M431.7 251.6L431.7 261.3M430.5 261.3L432.9 261.3M432.6 266.1L432.6 256.8M431.4 256.8L433.8 256.8M433.4 260.0L433.4 263.2M432.2 263.2L434.6 263.2M434.2 262.8L434.2 270.6M433.0 270.6L435.4 270.6M435.1 276.0L435.1 285.1M433.9 285.1L436.3 285.1M435.9 256.8L435.9 259.6M434.7 259.6L437.1 259.6M436.7 261.1L436.7 267.9M435.5 267.9L437.9 267.9M437.5 260.2L437.5 256.1M436.3 256.1L438.7 256.1M438.4 266.2L438.4 269.7M437.2 269.7L439.6 269.7M439.2 260.0L439.2 266.9M438.0 266.9L440.4 266.9M440.0 258.8L440.0 265.5M438.8 265.5L441.2 265.5M440.9 250.8L440.9 245.5M439.7 245.5L442.1 245.5M441.7 256.7L441.7 253.5M440.5 253.5L442.9 253.5M442.5 236.0L442.5 238.8M441.3 238.8L443.7 238.8M443.3 260.3L443.3 268.2M442.1 268.2L444.5 268.2M444.2 258.9L444.2 250.6M443.0 250.6L445.4 250.6M445.0 257.2L445.0 253.2M443.8 253.2L446.2 253.2M445.8 261.5L445.8 256.4M444.6 256.4L447.0 256.4M446.7 246.4L446.7 254.6M445.5 254.6L447.9 254.6M447.5 251.8L447.5 257.5M446.3 257.5L448.7 257.5M448.3 264.1L448.3 271.0M447.1 271.0L449.5 271.0M449.1 255.4L449.1 262.4M447.9 262.4L450.3 262.4M450.0 248.9L450.0 239.1M448.8 239.1L451.2 239.1M450.8 265.2L450.8 262.0M449.6 262.0L452.0 262.0M451.6 255.4L451.6 248.4M450.4 248.4L452.8 248.4M452.5 257.9L452.5 267.3M451.3 267.3L453.7 267.3M453.3 241.7L453.3 251.0M452.1 251.0L454.5 251.0M454.1 254.0L454.1 248.8M452.9 248.8L455.3 248.8M454.9 259.3L454.9 251.8M453.7 251.8L456.1 251.8M455.8 260.4L455.8 256.6M454.6 256.6L457.0 256.6M456.6 244.9L456.6 253.5M455.4 253.5L457.8 253.5M457.4 259.9L457.4 252.0M456.2 252.0L458.6 252.0M458.3 242.6L458.3 245.3M457.1 245.3L459.5 245.3M459.1 267.1L459.1 272.6M457.9 272.6L460.3 272.6M459.9 258.5L459.9 264.4M458.7 264.4L461.1 264.4M460.8 258.9L460.8 256.0M459.6 256.0L461.9 256.0M461.6 261.9L461.6 270.0M460.4 270.0L462.8 270.0M462.4 258.9L462.4 249.8M461.2 249.8L463.6 249.8M463.2 253.2L463.2 246.6M462.0 246.6L464.4 246.6M464.1 261.9L464.1 270.1M462.9 270.1L465.3 270.1M464.9 266.9L464.9 258.1M463.7 258.1L466.1 258.1M465.7 249.4L465.7 242.0M464.5 242.0L466.9 242.0M466.6 248.7L466.6 240.3M465.4 240.3L467.8 240.3M467.4 262.4L467.4 258.6M466.2 258.6L468.6 258.6M468.2 256.2L468.2 249.9M467.0 249.9L469.4 249.9M469.0 274.5L469.0 282.7M467.8 282.7L470.2 282.7M469.9 251.7L469.9 256.7M468.7 256.7L471.1 256.7M470.7 266.9L470.7 274.4M469.5 274.4L471.9 274.4M471.5 262.0L471.5 265.3M470.3 265.3L472.7 265.3M472.4 244.9L472.4 240.0M471.2 240.0L473.6 240.0M473.2 266.7L473.2 274.9M472.0 274.9L474.4 274.9M474.0 258.6L474.0 267.1M472.8 267.1L475.2 267.1M474.8 265.6L474.8 270.7M473.6 270.7L476.0 270.7M475.7 270.7L475.7 276.7M474.5 276.7L476.9 276.7M476.5 266.4L476.5 258.1M475.3 258.1L477.7 258.1M477.3 257.4L477.3 247.6M476.1 247.6L478.5 247.6M478.2 267.6L478.2 260.0M477.0 260.0L479.4 260.0M479.0 263.2L479.0 258.8M477.8 258.8L480.2 258.8M479.8 255.0L479.8 258.7M478.6 258.7L481.0 258.7M480.6 260.8L480.6 256.8M479.4 256.8L481.8 256.8M481.5 268.2L481.5 277.4M480.3 277.4L482.7 277.4M482.3 250.6L482.3 260.0M481.1 260.0L483.5 260.0M483.1 259.5L483.1 254.5M481.9 254.5L484.3 254.5M484.0 251.5L484.0 259.8M482.8 259.8L485.2 259.8M484.8 267.2L484.8 276.5M483.6 276.5L486.0 276.5M485.6 250.0L485.6 244.2M484.4 244.2L486.8 244.2M486.4 269.4L486.4 278.5M485.2 278.5L487.6 278.5M487.3 272.1L487.3 278.5M486.1 278.5L488.5 278.5M488.1 263.9L488.1 271.4M486.9 271.4L489.3 271.4M488.9 263.7L488.9 259.0M487.7 259.0L490.1 259.0M489.8 259.9L489.8 268.9M488.6 268.9L491.0 268.9M490.6 265.2L490.6 274.4M489.4 274.4L491.8 274.4M491.4 257.8L491.4 251.6M490.2 251.6L492.6 251.6M492.2 253.5L492.2 244.6M491.0 244.6L493.4 244.6M493.1 266.3L493.1 257.4M491.9 257.4L494.3 257.4M493.9 271.0L493.9 263.5M492.7 263.5L495.1 263.5M494.7 265.0L494.7 260.1M493.5 260.1L495.9 260.1M495.6 257.4L495.6 251.2M494.4 251.2L496.8 251.2M496.4 257.6L496.4 248.7M495.2 248.7L497.6 248.7M497.2 265.1L497.2 273.5M496.0 273.5L498.4 273.5M498.0 269.4L498.0 259.9M496.8 259.9L499.2 259.9M498.9 263.4L498.9 254.1M497.7 254.1L500.1 254.1M499.7 257.3L499.7 263.0M498.5 263.0L500.9 263.0M500.5 268.1L500.5 261.4M499.3 261.4L501.7 261.4M501.4 255.5L501.4 249.9M500.2 249.9L502.6 249.9M502.2 262.5L502.2 271.7M501.0 271.7L503.4 271.7M503.0 262.2L503.0 271.9M501.8 271.9L504.2 271.9M503.8 268.2L503.8 258.4M502.6 258.4L505.0 258.4M504.7 255.8L504.7 250.0M503.5 250.0L505.9 250.0M505.5 264.3L505.5 270.3M504.3 270.3L506.7 270.3M506.3 274.1L506.3 283.1M505.1 283.1L507.5 283.1M507.2 259.7L507.2 266.8M506.0 266.8L508.4 266.8M508.0 267.7L508.0 276.7M506.8 276.7L509.2 276.7M508.8 258.2L508.8 253.3M507.6 253.3L510.0 253.3M509.6 264.0L509.6 258.9M508.4 258.9L510.8 258.9M510.5 269.0L510.5 264.6M509.3 264.6L511.7 264.6M511.3 264.0L511.3 273.1M510.1 273.1L512.5 273.1M512.1 268.2L512.1 264.7M510.9 264.7L513.3 264.7M513.0 270.3L513.0 262.8M511.8 262.8L514.2 262.8M513.8 264.9L513.8 259.1M512.6 259.1L515.0 259.1M514.6 259.8L514.6 267.2M513.4 267.2L515.8 267.2M515.4 264.6L515.4 256.0M514.2 256.0L516.6 256.0M516.3 265.6L516.3 261.6M515.1 261.6L517.5 261.6M517.1 268.6L517.1 274.8M515.9 274.8L518.3 274.8M517.9 261.5L517.9 269.3M516.7 269.3L519.1 269.3M518.8 263.3L518.8 259.0M517.6 259.0L520.0 259.0M519.6 259.0L519.6 267.1M518.4 267.1L520.8 267.1M520.4 262.8L520.4 271.8M519.2 271.8L521.6 271.8M521.2 251.6L521.2 257.0M520.0 257.0L522.4 257.0M522.1 275.0L522.1 268.6M520.9 268.6L523.3 268.6M522.9 265.4L522.9 269.9M521.7 269.9L524.1 269.9M523.7 261.7L523.7 257.5M522.5 257.5L524.9 257.5M524.6 259.4L524.6 264.6M523.4 264.6L525.8 264.6M525.4 274.8L525.4 282.5M524.2 282.5L526.6 282.5M526.2 272.8L526.2 280.5M525.0 280.5L527.4 280.5M527.1 265.3L527.1 270.9M525.9 270.9L528.3 270.9M527.9 258.4L527.9 255.6M526.7 255.6L529.1 255.6M528.7 258.1L528.7 249.4M527.5 249.4L529.9 249.4M529.5 274.7L529.5 268.2M528.3 268.2L530.7 268.2M530.4 264.3L530.4 258.7M529.2 258.7L531.6 258.7M531.2 257.7L531.2 265.9M530.0 265.9L532.4 265.9M532.0 264.9L532.0 274.6M530.8 274.6L533.2 274.6M532.9 271.6L532.9 278.3M531.7 278.3L534.1 278.3M533.7 269.6L533.7 260.2M532.5 260.2L534.9 260.2M534.5 273.5L534.5 276.3M533.3 276.3L535.7 276.3M535.3 257.5L535.3 265.8M534.1 265.8L536.5 265.8M536.2 266.7L536.2 269.7M535.0 269.7L537.4 269.7M537.0 267.8L537.0 274.4M535.8 274.4L538.2 274.4M537.8 270.6L537.8 273.5M536.6 273.5L539.0 273.5M538.7 266.0L538.7 271.6M537.5 271.6L539.9 271.6M539.5 270.8L539.5 262.6M538.3 262.6L540.7 262.6M540.3 271.1L540.3 267.0M539.1 267.0L541.5 267.0M541.1 265.2L541.1 273.4M539.9 273.4L542.3 273.4M542.0 266.3L542.0 271.2M540.8 271.2L543.2 271.2M542.8 261.9L542.8 270.1M541.6 270.1L544.0 270.1M543.6 263.8L543.6 258.9M542.4 258.9L544.8 258.9M544.5 257.2L544.5 251.6M543.3 251.6L545.7 251.6M545.3 264.9L545.3 257.5M544.1 257.5L546.5 257.5M546.1 262.9L546.1 270.4M544.9 270.4L547.3 270.4M546.9 263.0L546.9 257.8M545.7 257.8L548.1 257.8M547.8 269.5L547.8 277.8M546.6 277.8L549.0 277.8M548.6 256.8L548.6 265.8M547.4 265.8L549.8 265.8M549.4 267.8L549.4 275.0M548.2 275.0L550.6 275.0M550.3 274.2L550.3 281.5M549.1 281.5L551.5 281.5M551.1 256.2L551.1 261.8M549.9 261.8L552.3 261.8M551.9 259.9L551.9 252.0M550.7 252.0L553.1 252.0M552.7 267.6L552.7 275.7M551.5 275.7L553.9 275.7M553.6 257.9L553.6 267.8M552.4 267.8L554.8 267.8M554.4 257.8L554.4 267.4M553.2 267.4L555.6 267.4M555.2 259.4L555.2 262.2M554.0 262.2L556.4 262.2" stroke="#19d276" stroke-width="0.6" fill="none" />
<polyline points="361.3,311.2 362.1,300.9 363.0,304.2 363.8,305.7 364.6,296.8 365.4,302.6 366.3,304.8 367.1,292.0 367.9,306.5 368.8,311.5 369.6,312.3 370.4,307.2 371.2,299.9 372.1,298.8 372.9,297.1 373.7,292.8 374.6,293.7 375.4,300.5 376.2,296.3 377.0,300.6 377.9,308.3 378.7,299.7 379.5,304.6 380.4,306.4 381.2,292.7 382.0,300.5 382.8,308.5 383.7,306.1 384.5,291.0 385.3,307.4 386.2,301.3 387.0,302.2 387.8,303.0 388.6,302.6 389.5,309.5 390.3,309.5 391.1,307.7 392.0,308.2 392.8,298.4 393.6,291.3 394.5,304.2 395.3,292.6 396.1,300.3 396.9,296.7 397.8,292.0 398.6,288.1 399.4,289.8 400.3,301.7 401.1,274.7 401.9,284.6 402.7,286.3 403.6,277.4 404.4,284.9 405.2,289.6 406.1,276.9 406.9,276.8 407.7,284.1 408.5,272.9 409.4,275.3 410.2,284.3 411.0,265.4 411.9,274.3 412.7,282.6 413.5,271.9 414.3,273.4 415.2,267.5 416.0,281.6 416.8,266.0 417.7,266.1 418.5,267.2 419.3,267.2 420.1,262.2 421.0,265.5 421.8,268.7 422.6,274.4 423.5,261.5 424.3,261.8 425.1,265.7 425.9,266.1 426.8,262.0 427.6,282.0 428.4,263.5 429.3,280.9 430.1,263.0 430.9,257.3 431.7,251.6 432.6,266.1 433.4,260.0 434.2,262.8 435.1,276.0 435.9,256.8 436.7,261.1 437.5,260.2 438.4,266.2 439.2,260.0 440.0,258.8 440.9,250.8 441.7,256.7 442.5,236.0 443.3,260.3 444.2,258.9 445.0,257.2 445.8,261.5 446.7,246.4 447.5,251.8 448.3,264.1 449.1,255.4 450.0,248.9 450.8,265.2 451.6,255.4 452.5,257.9 453.3,241.7 454.1,254.0 454.9,259.3 455.8,260.4 456.6,244.9 457.4,259.9 458.3,242.6 459.1,267.1 459.9,258.5 460.8,258.9 461.6,261.9 462.4,258.9 463.2,253.2 464.1,261.9 464.9,266.9 465.7,249.4 466.6,248.7 467.4,262.4 468.2,256.2 469.0,274.5 469.9,251.7 470.7,266.9 471.5,262.0 472.4,244.9 473.2,266.7 474.0,258.6 474.8,265.6 475.7,270.7 476.5,266.4 477.3,257.4 478.2,267.6 479.0,263.2 479.8,255.0 480.6,260.8 481.5,268.2 482.3,250.6 483.1,259.5 484.0,251.5 484.8,267.2 485.6,250.0 486.4,269.4 487.3,272.1 488.1,263.9 488.9,263.7 489.8,259.9 490.6,265.2 491.4,257.8 492.2,253.5 493.1,266.3 493.9,271.0 494.7,265.0 495.6,257.4 496.4,257.6 497.2,265.1 498.0,269.4 498.9,263.4 499.7,257.3 500.5,268.1 501.4,255.5 502.2,262.5 503.0,262.2 503.8,268.2 504.7,255.8 505.5,264.3 506.3,274.1 507.2,259.7 508.0,267.7 508.8,258.2 509.6,264.0 510.5,269.0 511.3,264.0 512.1,268.2 513.0,270.3 513.8,264.9 514.6,259.8 515.4,264.6 516.3,265.6 517.1,268.6 517.9,261.5 518.8,263.3 519.6,259.0 520.4,262.8 521.2,251.6 522.1,275.0 522.9,265.4 523.7,261.7 524.6,259.4 525.4,274.8 526.2,272.8 527.1,265.3 527.9,258.4 528.7,258.1 529.5,274.7 530.4,264.3 531.2,257.7 532.0,264.9 532.9,271.6 533.7,269.6 534.5,273.5 535.3,257.5 536.2,266.7 537.0,267.8 537.8,270.6 538.7,266.0 539.5,270.8 540.3,271.1 541.1,265.2 542.0,266.3 542.8,261.9 543.6,263.8 544.5,257.2 545.3,264.9 546.1,262.9 546.9,263.0 547.8,269.5 548.6,256.8 549.4,267.8 550.3,274.2 551.1,256.2 551.9,259.9 552.7,267.6 553.6,257.9 554.4,257.8 555.2,259.4" fill="none" stroke="#19d276" stroke-width="1.3" stroke-linejoin="round" />
<path d="M361.3 298.6L361.3 295.8M360.1 295.8L362.5 295.8M362.1 291.7L362.1 299.6M360.9 299.6L363.3 299.6M363.0 301.6L363.0 308.2M361.8 308.2L364.2 308.2M363.8 305.8L363.8 296.8M362.6 296.8L365.0 296.8M364.6 296.9L364.6 292.1M363.4 292.1L365.8 292.1M365.4 295.3L365.4 289.1M364.2 289.1L366.6 289.1M366.3 296.3L366.3 290.5M365.1 290.5L367.5 290.5M367.1 295.7L367.1 289.6M365.9 289.6L368.3 289.6M367.9 298.3L367.9 306.2M366.7 306.2L369.1 306.2M368.8 300.3L368.8 295.1M367.6 295.1L370.0 295.1M369.6 300.9L369.6 292.8M368.4 292.8L370.8 292.8M370.4 298.6L370.4 291.3M369.2 291.3L371.6 291.3M371.2 299.2L371.2 295.4M370.0 295.4L372.4 295.4M372.1 293.6L372.1 298.2M370.9 298.2L373.3 298.2M372.9 294.9L372.9 302.5M371.7 302.5L374.1 302.5M373.7 302.9L373.7 299.0M372.5 299.0L374.9 299.0M374.6 294.5L374.6 285.4M373.4 285.4L375.8 285.4M375.4 297.6L375.4 288.8M374.2 288.8L376.6 288.8M376.2 292.6L376.2 288.9M375.0 288.9L377.4 288.9M377.0 290.9L377.0 287.1M375.8 287.1L378.2 287.1M377.9 295.0L377.9 298.2M376.7 298.2L379.1 298.2M378.7 305.0L378.7 297.6M377.5 297.6L379.9 297.6M379.5 294.5L379.5 291.1M378.3 291.1L380.7 291.1M380.4 304.0L380.4 297.0M379.2 297.0L381.6 297.0M381.2 290.5L381.2 286.9M380.0 286.9L382.4 286.9M382.0 300.1L382.0 296.7M380.8 296.7L383.2 296.7M382.8 298.0L382.8 290.6M381.6 290.6L384.0 290.6M383.7 289.3L383.7 298.6M382.5 298.6L384.9 298.6M384.5 304.8L384.5 300.7M383.3 300.7L385.7 300.7M385.3 297.0L385.3 287.9M384.1 287.9L386.5 287.9M386.2 301.8L386.2 293.4M385.0 293.4L387.4 293.4M387.0 299.5L387.0 294.2M385.8 294.2L388.2 294.2M387.8 300.7L387.8 293.5M386.6 293.5L389.0 293.5M388.6 294.4L388.6 286.3M387.4 286.3L389.8 286.3M389.5 298.7L389.5 306.0M388.3 306.0L390.7 306.0M390.3 296.0L390.3 291.3M389.1 291.3L391.5 291.3M391.1 294.8L391.1 302.5M389.9 302.5L392.3 302.5M392.0 305.0L392.0 300.9M390.8 300.9L393.2 300.9M392.8 291.6L392.8 284.8M391.6 284.8L394.0 284.8M393.6 298.8L393.6 293.5M392.4 293.5L394.8 293.5M394.5 305.0L394.5 299.5M393.3 299.5L395.7 299.5M395.3 300.7L395.3 291.3M394.1 291.3L396.5 291.3M396.1 294.1L396.1 300.6M394.9 300.6L397.3 300.6M396.9 293.6L396.9 284.9M395.7 284.9L398.1 284.9M397.8 301.0L397.8 296.7M396.6 296.7L399.0 296.7M398.6 297.7L398.6 293.3M397.4 293.3L399.8 293.3M399.4 297.1L399.4 290.9M398.2 290.9L400.6 290.9M400.3 293.7L400.3 284.1M399.1 284.1L401.5 284.1M401.1 298.9L401.1 292.2M399.9 292.2L402.3 292.2M401.9 294.1L401.9 289.4M400.7 289.4L403.1 289.4M402.7 302.3L402.7 293.1M401.5 293.1L403.9 293.1M403.6 301.6L403.6 292.8M402.4 292.8L404.8 292.8M404.4 295.6L404.4 286.1M403.2 286.1L405.6 286.1M405.2 295.5L405.2 286.4M404.0 286.4L406.4 286.4M406.1 298.9L406.1 294.6M404.9 294.6L407.3 294.6M406.9 296.1L406.9 289.9M405.7 289.9L408.1 289.9M407.7 296.8L407.7 290.9M406.5 290.9L408.9 290.9M408.5 292.9L408.5 288.3M407.3 288.3L409.7 288.3M409.4 289.6L409.4 282.0M408.2 282.0L410.6 282.0M410.2 290.9L410.2 288.0M409.0 288.0L411.4 288.0M411.0 288.0L411.0 280.5M409.8 280.5L412.2 280.5M411.9 291.8L411.9 287.1M410.7 287.1L413.1 287.1M412.7 291.0L412.7 288.1M411.5 288.1L413.9 288.1M413.5 297.3L413.5 287.9M412.3 287.9L414.7 287.9M414.3 283.7L414.3 280.0M413.1 280.0L415.5 280.0M415.2 283.9L415.2 276.8M414.0 276.8L416.4 276.8M416.0 280.2L416.0 284.6M414.8 284.6L417.2 284.6M416.8 288.9L416.8 285.6M415.6 285.6L418.0 285.6M417.7 281.0L417.7 275.4M416.5 275.4L418.9 275.4M418.5 279.5L418.5 269.9M417.3 269.9L419.7 269.9M419.3 283.1L419.3 288.3M418.1 288.3L420.5 288.3M420.1 269.5L420.1 278.7M418.9 278.7L421.3 278.7M421.0 266.3L421.0 262.6M419.8 262.6L422.2 262.6M421.8 275.4L421.8 270.8M420.6 270.8L423.0 270.8M422.6 266.0L422.6 269.9M421.4 269.9L423.8 269.9M423.5 258.6L423.5 255.8M422.3 255.8L424.7 255.8M424.3 269.6L424.3 266.3M423.1 266.3L425.5 266.3M425.1 258.2L425.1 250.9M423.9 250.9L426.3 250.9M425.9 253.6L425.9 244.6M424.7 244.6L427.1 244.6M426.8 250.3L426.8 243.3M425.6 243.3L428.0 243.3M427.6 262.3L427.6 255.1M426.4 255.1L428.8 255.1M428.4 259.0L428.4 255.1M427.2 255.1L429.6 255.1M429.3 251.3L429.3 257.6M428.1 257.6L430.5 257.6M430.1 244.9L430.1 239.0M428.9 239.0L431.3 239.0M430.9 253.6L430.9 250.4M429.7 250.4L432.1 250.4M431.7 249.9L431.7 243.4M430.5 243.4L432.9 243.4M432.6 251.0L432.6 247.7M431.4 247.7L433.8 247.7M433.4 240.8L433.4 237.8M432.2 237.8L434.6 237.8M434.2 247.6L434.2 240.3M433.0 240.3L435.4 240.3M435.1 242.1L435.1 234.4M433.9 234.4L436.3 234.4M435.9 241.3L435.9 234.9M434.7 234.9L437.1 234.9M436.7 238.6L436.7 235.1M435.5 235.1L437.9 235.1M437.5 241.3L437.5 246.9M436.3 246.9L438.7 246.9M438.4 241.2L438.4 237.3M437.2 237.3L439.6 237.3M439.2 237.1L439.2 233.8M438.0 233.8L440.4 233.8M440.0 239.6L440.0 233.9M438.8 233.9L441.2 233.9M440.9 246.7L440.9 240.9M439.7 240.9L442.1 240.9M441.7 243.0L441.7 237.2M440.5 237.2L442.9 237.2M442.5 236.2L442.5 230.6M441.3 230.6L443.7 230.6M443.3 239.1L443.3 231.0M442.1 231.0L444.5 231.0M444.2 240.7L444.2 235.5M443.0 235.5L445.4 235.5M445.0 237.6L445.0 232.5M443.8 232.5L446.2 232.5M445.8 223.7L445.8 216.2M444.6 216.2L447.0 216.2M446.7 237.9L446.7 228.8M445.5 228.8L447.9 228.8M447.5 235.2L447.5 228.1M446.3 228.1L448.7 228.1M448.3 235.0L448.3 242.0M447.1 242.0L449.5 242.0M449.1 237.8L449.1 231.8M447.9 231.8L450.3 231.8M450.0 231.1L450.0 224.8M448.8 224.8L451.2 224.8M450.8 232.2L450.8 224.8M449.6 224.8L452.0 224.8M451.6 233.9L451.6 227.2M450.4 227.2L452.8 227.2M452.5 241.2L452.5 235.8M451.3 235.8L453.7 235.8M453.3 229.5L453.3 226.8M452.1 226.8L454.5 226.8M454.1 231.3L454.1 227.0M452.9 227.0L455.3 227.0M454.9 234.7L454.9 231.5M453.7 231.5L456.1 231.5M455.8 245.8L455.8 241.0M454.6 241.0L457.0 241.0M456.6 233.9L456.6 225.1M455.4 225.1L457.8 225.1M457.4 238.6L457.4 229.9M456.2 229.9L458.6 229.9M458.3 234.0L458.3 225.0M457.1 225.0L459.5 225.0M459.1 234.9L459.1 243.8M457.9 243.8L460.3 243.8M459.9 235.9L459.9 232.4M458.7 232.4L461.1 232.4M460.8 227.5L460.8 234.2M459.6 234.2L461.9 234.2M461.6 231.1L461.6 221.3M460.4 221.3L462.8 221.3M462.4 225.9L462.4 235.5M461.2 235.5L463.6 235.5M463.2 235.7L463.2 233.0M462.0 233.0L464.4 233.0M464.1 232.5L464.1 223.9M462.9 223.9L465.3 223.9M464.9 225.8L464.9 235.4M463.7 235.4L466.1 235.4M465.7 230.5L465.7 221.1M464.5 221.1L466.9 221.1M466.6 235.3L466.6 227.4M465.4 227.4L467.8 227.4M467.4 236.2L467.4 228.8M466.2 228.8L468.6 228.8M468.2 235.1L468.2 232.3M467.0 232.3L469.4 232.3M469.0 233.0L469.0 225.0M467.8 225.0L470.2 225.0M469.9 229.8L469.9 235.0M468.7 235.0L471.1 235.0M470.7 232.3L470.7 229.2M469.5 229.2L471.9 229.2M471.5 229.8L471.5 224.3M470.3 224.3L472.7 224.3M472.4 229.6L472.4 238.6M471.2 238.6L473.6 238.6M473.2 232.9L473.2 230.1M472.0 230.1L474.4 230.1M474.0 227.9L474.0 232.1M472.8 232.1L475.2 232.1M474.8 230.5L474.8 224.3M473.6 224.3L476.0 224.3M475.7 234.7L475.7 228.0M474.5 228.0L476.9 228.0M476.5 234.8L476.5 244.5M475.3 244.5L477.7 244.5M477.3 234.3L477.3 226.9M476.1 226.9L478.5 226.9M478.2 237.7L478.2 229.5M477.0 229.5L479.4 229.5M479.0 240.5L479.0 231.1M477.8 231.1L480.2 231.1M479.8 234.6L479.8 230.2M478.6 230.2L481.0 230.2M480.6 237.2L480.6 227.4M479.4 227.4L481.8 227.4M481.5 232.6L481.5 225.3M480.3 225.3L482.7 225.3M482.3 237.9L482.3 230.4M481.1 230.4L483.5 230.4M483.1 235.1L483.1 227.7M481.9 227.7L484.3 227.7M484.0 234.8L484.0 228.7M482.8 228.7L485.2 228.7M484.8 237.9L484.8 233.5M483.6 233.5L486.0 233.5M485.6 235.2L485.6 228.0M484.4 228.0L486.8 228.0M486.4 239.4L486.4 233.4M485.2 233.4L487.6 233.4M487.3 238.3L487.3 229.1M486.1 229.1L488.5 229.1M488.1 233.0L488.1 225.3M486.9 225.3L489.3 225.3M488.9 235.0L488.9 238.2M487.7 238.2L490.1 238.2M489.8 236.9L489.8 231.1M488.6 231.1L491.0 231.1M490.6 240.5L490.6 237.6M489.4 237.6L491.8 237.6M491.4 234.2L491.4 231.1M490.2 231.1L492.6 231.1M492.2 228.7L492.2 223.8M491.0 223.8L493.4 223.8M493.1 247.2L493.1 250.2M491.9 250.2L494.3 250.2M493.9 233.1L493.9 224.4M492.7 224.4L495.1 224.4M494.7 236.8L494.7 243.4M493.5 243.4L495.9 243.4M495.6 233.0L495.6 229.4M494.4 229.4L496.8 229.4M496.4 232.8L496.4 235.8M495.2 235.8L497.6 235.8M497.2 242.5L497.2 246.5M496.0 246.5L498.4 246.5M498.0 230.5L498.0 222.6M496.8 222.6L499.2 222.6M498.9 240.8L498.9 245.8M497.7 245.8L500.1 245.8M499.7 239.4L499.7 235.3M498.5 235.3L500.9 235.3M500.5 235.6L500.5 231.1M499.3 231.1L501.7 231.1M501.4 238.9L501.4 234.7M500.2 234.7L502.6 234.7M502.2 237.4L502.2 240.4M501.0 240.4L503.4 240.4M503.0 240.9L503.0 248.4M501.8 248.4L504.2 248.4M503.8 243.3L503.8 248.5M502.6 248.5L505.0 248.5M504.7 238.8L504.7 234.5M503.5 234.5L505.9 234.5M505.5 243.7L505.5 253.1M504.3 253.1L506.7 253.1M506.3 233.1L506.3 224.4M505.1 224.4L507.5 224.4M507.2 238.0L507.2 231.8M506.0 231.8L508.4 231.8M508.0 233.0L508.0 242.0M506.8 242.0L509.2 242.0M508.8 244.8L508.8 240.9M507.6 240.9L510.0 240.9M509.6 248.6L509.6 242.5M508.4 242.5L510.8 242.5M510.5 249.7L510.5 240.1M509.3 240.1L511.7 240.1M511.3 241.5L511.3 238.8M510.1 238.8L512.5 238.8M512.1 245.6L512.1 249.9M510.9 249.9L513.3 249.9M513.0 238.6L513.0 233.5M511.8 233.5L514.2 233.5M513.8 246.7L513.8 241.5M512.6 241.5L515.0 241.5M514.6 246.5L514.6 237.5M513.4 237.5L515.8 237.5M515.4 239.4L515.4 230.0M514.2 230.0L516.6 230.0M516.3 242.5L516.3 233.6M515.1 233.6L517.5 233.6M517.1 237.9L517.1 232.4M515.9 232.4L518.3 232.4M517.9 237.5L517.9 232.2M516.7 232.2L519.1 232.2M518.8 239.7L518.8 234.7M517.6 234.7L520.0 234.7M519.6 246.7L519.6 254.6M518.4 254.6L520.8 254.6M520.4 245.4L520.4 238.3M519.2 238.3L521.6 238.3M521.2 231.8L521.2 229.0M520.0 229.0L522.4 229.0M522.1 242.9L522.1 248.3M520.9 248.3L523.3 248.3M522.9 240.8L522.9 235.8M521.7 235.8L524.1 235.8M523.7 241.6L523.7 246.1M522.5 246.1L524.9 246.1M524.6 242.5L524.6 236.2M523.4 236.2L525.8 236.2M525.4 243.3L525.4 238.4M524.2 238.4L526.6 238.4M526.2 245.2L526.2 235.4M525.0 235.4L527.4 235.4M527.1 245.1L527.1 241.1M525.9 241.1L528.3 241.1M527.9 251.9L527.9 244.5M526.7 244.5L529.1 244.5M528.7 235.9L528.7 229.7M527.5 229.7L529.9 229.7M529.5 243.8L529.5 236.6M528.3 236.6L530.7 236.6M530.4 249.3L530.4 253.8M529.2 253.8L531.6 253.8M531.2 241.4L531.2 237.7M530.0 237.7L532.4 237.7M532.0 240.9L532.0 232.7M530.8 232.7L533.2 232.7M532.9 250.3L532.9 256.6M531.7 256.6L534.1 256.6M533.7 246.4L533.7 255.4M532.5 255.4L534.9 255.4M534.5 237.8L534.5 229.5M533.3 229.5L535.7 229.5M535.3 242.1L535.3 235.3M534.1 235.3L536.5 235.3M536.2 242.8L536.2 249.0M535.0 249.0L537.4 249.0M537.0 240.5L537.0 233.4M535.8 233.4L538.2 233.4M537.8 245.6L537.8 249.9M536.6 249.9L539.0 249.9M538.7 246.4L538.7 238.1M537.5 238.1L539.9 238.1M539.5 238.2L539.5 231.6M538.3 231.6L540.7 231.6M540.3 246.1L540.3 240.5M539.1 240.5L541.5 240.5M541.1 245.7L541.1 237.5M539.9 237.5L542.3 237.5M542.0 242.7L542.0 239.7M540.8 239.7L543.2 239.7M542.8 245.4L542.8 252.3M541.6 252.3L544.0 252.3M543.6 251.0L543.6 257.4M542.4 257.4L544.8 257.4M544.5 237.4L544.5 230.3M543.3 230.3L545.7 230.3M545.3 246.1L545.3 238.7M544.1 238.7L546.5 238.7M546.1 238.0L546.1 229.1M544.9 229.1L547.3 229.1M546.9 243.7L546.9 239.8M545.7 239.8L548.1 239.8M547.8 250.0L547.8 258.6M546.6 258.6L549.0 258.6M548.6 239.3L548.6 246.0M547.4 246.0L549.8 246.0M549.4 247.0L549.4 238.4M548.2 238.4L550.6 238.4M550.3 250.0L550.3 247.2M549.1 247.2L551.5 247.2M551.1 246.5L551.1 240.2M549.9 240.2L552.3 240.2M551.9 255.8L551.9 250.6M550.7 250.6L553.1 250.6M552.7 244.7L552.7 235.9M551.5 235.9L553.9 235.9M553.6 249.8L553.6 242.3M552.4 242.3L554.8 242.3M554.4 247.8L554.4 244.0M553.2 244.0L555.6 244.0M555.2 250.7L555.2 241.4M554.0 241.4L556.4 241.4" stroke="#fb2c62" stroke-width="0.6" fill="none" />
<polyline points="361.3,298.6 362.1,291.7 363.0,301.6 363.8,305.8 364.6,296.9 365.4,295.3 366.3,296.3 367.1,295.7 367.9,298.3 368.8,300.3 369.6,300.9 370.4,298.6 371.2,299.2 372.1,293.6 372.9,294.9 373.7,302.9 374.6,294.5 375.4,297.6 376.2,292.6 377.0,290.9 377.9,295.0 378.7,305.0 379.5,294.5 380.4,304.0 381.2,290.5 382.0,300.1 382.8,298.0 383.7,289.3 384.5,304.8 385.3,297.0 386.2,301.8 387.0,299.5 387.8,300.7 388.6,294.4 389.5,298.7 390.3,296.0 391.1,294.8 392.0,305.0 392.8,291.6 393.6,298.8 394.5,305.0 395.3,300.7 396.1,294.1 396.9,293.6 397.8,301.0 398.6,297.7 399.4,297.1 400.3,293.7 401.1,298.9 401.9,294.1 402.7,302.3 403.6,301.6 404.4,295.6 405.2,295.5 406.1,298.9 406.9,296.1 407.7,296.8 408.5,292.9 409.4,289.6 410.2,290.9 411.0,288.0 411.9,291.8 412.7,291.0 413.5,297.3 414.3,283.7 415.2,283.9 416.0,280.2 416.8,288.9 417.7,281.0 418.5,279.5 419.3,283.1 420.1,269.5 421.0,266.3 421.8,275.4 422.6,266.0 423.5,258.6 424.3,269.6 425.1,258.2 425.9,253.6 426.8,250.3 427.6,262.3 428.4,259.0 429.3,251.3 430.1,244.9 430.9,253.6 431.7,249.9 432.6,251.0 433.4,240.8 434.2,247.6 435.1,242.1 435.9,241.3 436.7,238.6 437.5,241.3 438.4,241.2 439.2,237.1 440.0,239.6 440.9,246.7 441.7,243.0 442.5,236.2 443.3,239.1 444.2,240.7 445.0,237.6 445.8,223.7 446.7,237.9 447.5,235.2 448.3,235.0 449.1,237.8 450.0,231.1 450.8,232.2 451.6,233.9 452.5,241.2 453.3,229.5 454.1,231.3 454.9,234.7 455.8,245.8 456.6,233.9 457.4,238.6 458.3,234.0 459.1,234.9 459.9,235.9 460.8,227.5 461.6,231.1 462.4,225.9 463.2,235.7 464.1,232.5 464.9,225.8 465.7,230.5 466.6,235.3 467.4,236.2 468.2,235.1 469.0,233.0 469.9,229.8 470.7,232.3 471.5,229.8 472.4,229.6 473.2,232.9 474.0,227.9 474.8,230.5 475.7,234.7 476.5,234.8 477.3,234.3 478.2,237.7 479.0,240.5 479.8,234.6 480.6,237.2 481.5,232.6 482.3,237.9 483.1,235.1 484.0,234.8 484.8,237.9 485.6,235.2 486.4,239.4 487.3,238.3 488.1,233.0 488.9,235.0 489.8,236.9 490.6,240.5 491.4,234.2 492.2,228.7 493.1,247.2 493.9,233.1 494.7,236.8 495.6,233.0 496.4,232.8 497.2,242.5 498.0,230.5 498.9,240.8 499.7,239.4 500.5,235.6 501.4,238.9 502.2,237.4 503.0,240.9 503.8,243.3 504.7,238.8 505.5,243.7 506.3,233.1 507.2,238.0 508.0,233.0 508.8,244.8 509.6,248.6 510.5,249.7 511.3,241.5 512.1,245.6 513.0,238.6 513.8,246.7 514.6,246.5 515.4,239.4 516.3,242.5 517.1,237.9 517.9,237.5 518.8,239.7 519.6,246.7 520.4,245.4 521.2,231.8 522.1,242.9 522.9,240.8 523.7,241.6 524.6,242.5 525.4,243.3 526.2,245.2 527.1,245.1 527.9,251.9 528.7,235.9 529.5,243.8 530.4,249.3 531.2,241.4 532.0,240.9 532.9,250.3 533.7,246.4 534.5,237.8 535.3,242.1 536.2,242.8 537.0,240.5 537.8,245.6 538.7,246.4 539.5,238.2 540.3,246.1 541.1,245.7 542.0,242.7 542.8,245.4 543.6,251.0 544.5,237.4 545.3,246.1 546.1,238.0 546.9,243.7 547.8,250.0 548.6,239.3 549.4,247.0 550.3,250.0 551.1,246.5 551.9,255.8 552.7,244.7 553.6,249.8 554.4,247.8 555.2,250.7" fill="none" stroke="#fb2c62" stroke-width="1.3" stroke-linejoin="round" />
<line x1="384.4" y1="211.0" x2="396.0" y2="211.0" stroke="#fb2c62" stroke-width="2.3" />
<text x="398.8" y="214.8" font-size="10.6" fill="#111">PGE<tspan font-size="7" dy="2">2</tspan></text>
<line x1="384.4" y1="220.0" x2="396.0" y2="220.0" stroke="#2aa4e0" stroke-width="2.3" />
<text x="398.8" y="223.8" font-size="10.6" fill="#111">PF</text>
<line x1="384.4" y1="229.0" x2="396.0" y2="229.0" stroke="#19d276" stroke-width="2.3" />
<text x="398.8" y="232.8" font-size="10.6" fill="#111">BGC</text>
<line x1="603.6" y1="203.3" x2="603.6" y2="337.1" stroke="#666" stroke-width="1" />
<line x1="599.6" y1="337.1" x2="603.6" y2="337.1" stroke="#666" stroke-width="1" />
<text x="598.8" y="340.9" font-size="10.5" text-anchor="end" fill="#111" >0</text>
<line x1="599.6" y1="303.7" x2="603.6" y2="303.7" stroke="#666" stroke-width="1" />
<text x="598.8" y="307.4" font-size="10.5" text-anchor="end" fill="#111" >50</text>
<line x1="599.6" y1="270.2" x2="603.6" y2="270.2" stroke="#666" stroke-width="1" />
<text x="598.8" y="274.0" font-size="10.5" text-anchor="end" fill="#111" >100</text>
<line x1="599.6" y1="236.8" x2="603.6" y2="236.8" stroke="#666" stroke-width="1" />
<text x="598.8" y="240.5" font-size="10.5" text-anchor="end" fill="#111" >150</text>
<line x1="599.6" y1="203.3" x2="603.6" y2="203.3" stroke="#666" stroke-width="1" />
<text x="598.8" y="207.1" font-size="10.5" text-anchor="end" fill="#111" >200</text>
<text x="577.3" y="268.2" font-size="10.6" text-anchor="middle" fill="#111" transform="rotate(-90 577.3 264.4)" >AUC</text>
<rect x="608.7" y="308.0" width="14.1" height="29.1" fill="#ee2a5c" stroke="#333" stroke-width="0.6"/>
<rect x="639.5" y="311.7" width="13.5" height="25.4" fill="#14c26a" stroke="#333" stroke-width="0.6"/>
<circle cx="615.7" cy="331.1" r="1.8" fill="white" stroke="#3a3a3a" stroke-width="0.75"/>
<circle cx="615.7" cy="326.3" r="1.8" fill="white" stroke="#3a3a3a" stroke-width="0.75"/>
<circle cx="612.2" cy="325.2" r="1.8" fill="white" stroke="#3a3a3a" stroke-width="0.75"/>
<circle cx="618.7" cy="324.8" r="1.8" fill="white" stroke="#3a3a3a" stroke-width="0.75"/>
<circle cx="614.7" cy="324.1" r="1.8" fill="white" stroke="#3a3a3a" stroke-width="0.75"/>
<circle cx="620.7" cy="323.4" r="1.8" fill="white" stroke="#3a3a3a" stroke-width="0.75"/>
<circle cx="610.7" cy="323.3" r="1.8" fill="white" stroke="#3a3a3a" stroke-width="0.75"/>
<circle cx="617.2" cy="322.9" r="1.8" fill="white" stroke="#3a3a3a" stroke-width="0.75"/>
<circle cx="613.2" cy="322.2" r="1.8" fill="white" stroke="#3a3a3a" stroke-width="0.75"/>
<circle cx="619.2" cy="321.2" r="1.8" fill="white" stroke="#3a3a3a" stroke-width="0.75"/>
<circle cx="615.7" cy="320.9" r="1.8" fill="white" stroke="#3a3a3a" stroke-width="0.75"/>
<circle cx="610.7" cy="320.8" r="1.8" fill="white" stroke="#3a3a3a" stroke-width="0.75"/>
<circle cx="613.2" cy="318.7" r="1.8" fill="white" stroke="#3a3a3a" stroke-width="0.75"/>
<circle cx="616.7" cy="317.7" r="1.8" fill="white" stroke="#3a3a3a" stroke-width="0.75"/>
<circle cx="620.2" cy="317.6" r="1.8" fill="white" stroke="#3a3a3a" stroke-width="0.75"/>
<circle cx="610.7" cy="317.2" r="1.8" fill="white" stroke="#3a3a3a" stroke-width="0.75"/>
<circle cx="614.7" cy="316.9" r="1.8" fill="white" stroke="#3a3a3a" stroke-width="0.75"/>
<circle cx="618.2" cy="316.0" r="1.8" fill="white" stroke="#3a3a3a" stroke-width="0.75"/>
<circle cx="612.7" cy="314.3" r="1.8" fill="white" stroke="#3a3a3a" stroke-width="0.75"/>
<circle cx="615.7" cy="312.4" r="1.8" fill="white" stroke="#3a3a3a" stroke-width="0.75"/>
<circle cx="619.2" cy="312.0" r="1.8" fill="white" stroke="#3a3a3a" stroke-width="0.75"/>
<circle cx="610.7" cy="311.7" r="1.8" fill="white" stroke="#3a3a3a" stroke-width="0.75"/>
<circle cx="613.2" cy="311.4" r="1.8" fill="white" stroke="#3a3a3a" stroke-width="0.75"/>
<circle cx="617.2" cy="310.9" r="1.8" fill="white" stroke="#3a3a3a" stroke-width="0.75"/>
<circle cx="620.7" cy="310.6" r="1.8" fill="white" stroke="#3a3a3a" stroke-width="0.75"/>
<circle cx="615.2" cy="309.7" r="1.8" fill="white" stroke="#3a3a3a" stroke-width="0.75"/>
<circle cx="612.2" cy="308.0" r="1.8" fill="white" stroke="#3a3a3a" stroke-width="0.75"/>
<circle cx="618.7" cy="307.8" r="1.8" fill="white" stroke="#3a3a3a" stroke-width="0.75"/>
<circle cx="616.2" cy="307.4" r="1.8" fill="white" stroke="#3a3a3a" stroke-width="0.75"/>
<circle cx="620.7" cy="307.3" r="1.8" fill="white" stroke="#3a3a3a" stroke-width="0.75"/>
<circle cx="614.2" cy="306.6" r="1.8" fill="white" stroke="#3a3a3a" stroke-width="0.75"/>
<circle cx="611.2" cy="304.7" r="1.8" fill="white" stroke="#3a3a3a" stroke-width="0.75"/>
<circle cx="616.2" cy="303.9" r="1.8" fill="white" stroke="#3a3a3a" stroke-width="0.75"/>
<circle cx="619.2" cy="302.3" r="1.8" fill="white" stroke="#3a3a3a" stroke-width="0.75"/>
<circle cx="613.7" cy="301.4" r="1.8" fill="white" stroke="#3a3a3a" stroke-width="0.75"/>
<circle cx="610.7" cy="301.4" r="1.8" fill="white" stroke="#3a3a3a" stroke-width="0.75"/>
<circle cx="616.7" cy="301.1" r="1.8" fill="white" stroke="#3a3a3a" stroke-width="0.75"/>
<circle cx="620.7" cy="300.5" r="1.8" fill="white" stroke="#3a3a3a" stroke-width="0.75"/>
<circle cx="615.7" cy="297.6" r="1.8" fill="white" stroke="#3a3a3a" stroke-width="0.75"/>
<circle cx="612.2" cy="297.1" r="1.8" fill="white" stroke="#3a3a3a" stroke-width="0.75"/>
<circle cx="619.2" cy="296.3" r="1.8" fill="white" stroke="#3a3a3a" stroke-width="0.75"/>
<circle cx="614.2" cy="295.8" r="1.8" fill="white" stroke="#3a3a3a" stroke-width="0.75"/>
<circle cx="616.7" cy="295.6" r="1.8" fill="white" stroke="#3a3a3a" stroke-width="0.75"/>
<circle cx="610.7" cy="294.8" r="1.8" fill="white" stroke="#3a3a3a" stroke-width="0.75"/>
<circle cx="620.7" cy="293.4" r="1.8" fill="white" stroke="#3a3a3a" stroke-width="0.75"/>
<circle cx="615.7" cy="288.9" r="1.8" fill="white" stroke="#3a3a3a" stroke-width="0.75"/>
<circle cx="615.7" cy="285.6" r="1.8" fill="white" stroke="#3a3a3a" stroke-width="0.75"/>
<circle cx="612.7" cy="283.6" r="1.8" fill="white" stroke="#3a3a3a" stroke-width="0.75"/>
<circle cx="615.7" cy="281.6" r="1.8" fill="white" stroke="#3a3a3a" stroke-width="0.75"/>
<circle cx="646.2" cy="335.8" r="1.8" fill="white" stroke="#3a3a3a" stroke-width="0.75"/>
<circle cx="645.2" cy="332.6" r="1.8" fill="white" stroke="#3a3a3a" stroke-width="0.75"/>
<circle cx="648.7" cy="332.2" r="1.8" fill="white" stroke="#3a3a3a" stroke-width="0.75"/>
<circle cx="642.2" cy="331.1" r="1.8" fill="white" stroke="#3a3a3a" stroke-width="0.75"/>
<circle cx="651.2" cy="330.6" r="1.8" fill="white" stroke="#3a3a3a" stroke-width="0.75"/>
<circle cx="646.7" cy="330.4" r="1.8" fill="white" stroke="#3a3a3a" stroke-width="0.75"/>
<circle cx="644.2" cy="328.1" r="1.8" fill="white" stroke="#3a3a3a" stroke-width="0.75"/>
<circle cx="649.2" cy="327.8" r="1.8" fill="white" stroke="#3a3a3a" stroke-width="0.75"/>
<circle cx="641.2" cy="327.7" r="1.8" fill="white" stroke="#3a3a3a" stroke-width="0.75"/>
<circle cx="646.7" cy="326.3" r="1.8" fill="white" stroke="#3a3a3a" stroke-width="0.75"/>
<circle cx="651.2" cy="325.6" r="1.8" fill="white" stroke="#3a3a3a" stroke-width="0.75"/>
<circle cx="643.7" cy="324.6" r="1.8" fill="white" stroke="#3a3a3a" stroke-width="0.75"/>
<circle cx="648.7" cy="323.6" r="1.8" fill="white" stroke="#3a3a3a" stroke-width="0.75"/>
<circle cx="641.2" cy="323.1" r="1.8" fill="white" stroke="#3a3a3a" stroke-width="0.75"/>
<circle cx="645.7" cy="322.6" r="1.8" fill="white" stroke="#3a3a3a" stroke-width="0.75"/>
<circle cx="651.2" cy="322.6" r="1.8" fill="white" stroke="#3a3a3a" stroke-width="0.75"/>
<circle cx="643.2" cy="322.0" r="1.8" fill="white" stroke="#3a3a3a" stroke-width="0.75"/>
<circle cx="647.7" cy="321.4" r="1.8" fill="white" stroke="#3a3a3a" stroke-width="0.75"/>
<circle cx="641.2" cy="320.7" r="1.8" fill="white" stroke="#3a3a3a" stroke-width="0.75"/>
<circle cx="645.2" cy="319.2" r="1.8" fill="white" stroke="#3a3a3a" stroke-width="0.75"/>
<circle cx="649.7" cy="318.6" r="1.8" fill="white" stroke="#3a3a3a" stroke-width="0.75"/>
<circle cx="642.7" cy="318.5" r="1.8" fill="white" stroke="#3a3a3a" stroke-width="0.75"/>
<circle cx="647.2" cy="316.5" r="1.8" fill="white" stroke="#3a3a3a" stroke-width="0.75"/>
<circle cx="645.2" cy="313.6" r="1.8" fill="white" stroke="#3a3a3a" stroke-width="0.75"/>
<circle cx="648.7" cy="313.4" r="1.8" fill="white" stroke="#3a3a3a" stroke-width="0.75"/>
<circle cx="641.7" cy="312.4" r="1.8" fill="white" stroke="#3a3a3a" stroke-width="0.75"/>
<circle cx="651.2" cy="312.2" r="1.8" fill="white" stroke="#3a3a3a" stroke-width="0.75"/>
<circle cx="646.7" cy="312.2" r="1.8" fill="white" stroke="#3a3a3a" stroke-width="0.75"/>
<circle cx="643.7" cy="311.9" r="1.8" fill="white" stroke="#3a3a3a" stroke-width="0.75"/>
<circle cx="646.2" cy="308.0" r="1.8" fill="white" stroke="#3a3a3a" stroke-width="0.75"/>
<circle cx="642.7" cy="307.0" r="1.8" fill="white" stroke="#3a3a3a" stroke-width="0.75"/>
<circle cx="646.2" cy="302.6" r="1.8" fill="white" stroke="#3a3a3a" stroke-width="0.75"/>
<circle cx="643.7" cy="300.3" r="1.8" fill="white" stroke="#3a3a3a" stroke-width="0.75"/>
<circle cx="646.2" cy="295.6" r="1.8" fill="white" stroke="#3a3a3a" stroke-width="0.75"/>
<circle cx="643.2" cy="293.6" r="1.8" fill="white" stroke="#3a3a3a" stroke-width="0.75"/>
<circle cx="646.2" cy="283.6" r="1.8" fill="white" stroke="#3a3a3a" stroke-width="0.75"/>
<circle cx="646.2" cy="270.2" r="1.8" fill="white" stroke="#3a3a3a" stroke-width="0.75"/>
<circle cx="646.2" cy="266.2" r="1.8" fill="white" stroke="#3a3a3a" stroke-width="0.75"/>
<circle cx="644.2" cy="263.5" r="1.8" fill="white" stroke="#3a3a3a" stroke-width="0.75"/>
<circle cx="646.2" cy="260.2" r="1.8" fill="white" stroke="#3a3a3a" stroke-width="0.75"/>
<circle cx="646.2" cy="226.7" r="1.8" fill="white" stroke="#3a3a3a" stroke-width="0.75"/>
<circle cx="629.7" cy="336.7" r="1.7" fill="white" stroke="#3a3a3a" stroke-width="0.75"/>
<circle cx="626.2" cy="336.7" r="1.7" fill="white" stroke="#3a3a3a" stroke-width="0.75"/>
<circle cx="633.2" cy="336.6" r="1.7" fill="white" stroke="#3a3a3a" stroke-width="0.75"/>
<circle cx="628.2" cy="336.4" r="1.7" fill="white" stroke="#3a3a3a" stroke-width="0.75"/>
<circle cx="631.2" cy="336.3" r="1.7" fill="white" stroke="#3a3a3a" stroke-width="0.75"/>
<circle cx="624.7" cy="336.1" r="1.7" fill="white" stroke="#3a3a3a" stroke-width="0.75"/>
<circle cx="634.7" cy="335.4" r="1.7" fill="white" stroke="#3a3a3a" stroke-width="0.75"/>
<circle cx="626.7" cy="335.2" r="1.7" fill="white" stroke="#3a3a3a" stroke-width="0.75"/>
<circle cx="629.7" cy="334.2" r="1.7" fill="white" stroke="#3a3a3a" stroke-width="0.75"/>
<circle cx="632.7" cy="333.1" r="1.7" fill="white" stroke="#3a3a3a" stroke-width="0.75"/>
<circle cx="624.7" cy="333.1" r="1.7" fill="white" stroke="#3a3a3a" stroke-width="0.75"/>
<circle cx="627.7" cy="332.6" r="1.7" fill="white" stroke="#3a3a3a" stroke-width="0.75"/>
<circle cx="630.2" cy="331.7" r="1.7" fill="white" stroke="#3a3a3a" stroke-width="0.75"/>
<circle cx="628.2" cy="329.1" r="1.7" fill="white" stroke="#3a3a3a" stroke-width="0.75"/>
<line x1="611.7" y1="308.0" x2="619.7" y2="308.0" stroke="#111" stroke-width="1.2" />
<line x1="615.7" y1="310.3" x2="615.7" y2="305.7" stroke="#111" stroke-width="1" />
<line x1="613.2" y1="305.7" x2="618.2" y2="305.7" stroke="#111" stroke-width="1" />
<line x1="642.2" y1="311.7" x2="650.2" y2="311.7" stroke="#111" stroke-width="1.2" />
<line x1="646.2" y1="315.0" x2="646.2" y2="308.3" stroke="#111" stroke-width="1" />
<line x1="643.7" y1="308.3" x2="648.7" y2="308.3" stroke="#111" stroke-width="1" />
<line x1="625.7" y1="335.1" x2="633.7" y2="335.1" stroke="#111" stroke-width="1.2" />
<line x1="629.7" y1="336.4" x2="629.7" y2="333.8" stroke="#111" stroke-width="1" />
<line x1="627.2" y1="333.8" x2="632.2" y2="333.8" stroke="#111" stroke-width="1" />
<text x="631.0" y="198.2" font-size="10.6" text-anchor="middle" fill="#111" >PGE<tspan font-size="7" dy="2">2</tspan></text>
<line x1="610.2" y1="201.8" x2="653.0" y2="201.8" stroke="#444" stroke-width="1" />
<text x="624.8" y="268.8" font-size="9.6" text-anchor="middle" fill="#111" >&lt;0.0001</text>
<line x1="615.6" y1="275.0" x2="615.6" y2="271.3" stroke="#999" stroke-width="0.8" />
<line x1="615.6" y1="271.3" x2="629.0" y2="271.3" stroke="#999" stroke-width="0.8" />
<line x1="629.0" y1="271.3" x2="629.0" y2="316.0" stroke="#999" stroke-width="0.8" />
<text x="614.0" y="350.7" font-size="10.4" text-anchor="end" fill="#111" transform="rotate(-45 614.0 347.0)" >–</text>
<text x="632.0" y="347.7" font-size="10.4" text-anchor="end" fill="#111" transform="rotate(-45 632.0 344.0)" >PF</text>
<text x="650.0" y="347.7" font-size="10.4" text-anchor="end" fill="#111" transform="rotate(-45 650.0 344.0)" >BGC</text>
<text x="6.6" y="375.3" font-size="15.5" font-weight="bold" fill="#000">f</text>
<line x1="38.1" y1="382.8" x2="38.1" y2="515.7" stroke="#222" stroke-width="1" />
<line x1="33.1" y1="382.8" x2="38.1" y2="382.8" stroke="#222" stroke-width="1" />
<text x="32.3" y="386.6" font-size="10.5" text-anchor="end" fill="#111" >0.4</text>
<line x1="33.1" y1="427.1" x2="38.1" y2="427.1" stroke="#222" stroke-width="1" />
<text x="32.3" y="430.9" font-size="10.5" text-anchor="end" fill="#111" >0.2</text>
<line x1="33.1" y1="471.4" x2="38.1" y2="471.4" stroke="#222" stroke-width="1" />
<text x="32.3" y="475.2" font-size="10.5" text-anchor="end" fill="#111" >0.0</text>
<line x1="33.1" y1="515.7" x2="38.1" y2="515.7" stroke="#222" stroke-width="1" />
<text x="32.3" y="519.5" font-size="10.5" text-anchor="end" fill="#111" >-0.2</text>
<line x1="38.1" y1="515.7" x2="186.0" y2="515.7" stroke="#222" stroke-width="1" />
<line x1="38.1" y1="515.7" x2="38.1" y2="519.7" stroke="#222" stroke-width="1" />
<text x="38.1" y="530.3" font-size="10.5" text-anchor="middle" fill="#111" >0</text>
<line x1="87.3" y1="515.7" x2="87.3" y2="519.7" stroke="#222" stroke-width="1" />
<text x="87.3" y="530.3" font-size="10.5" text-anchor="middle" fill="#111" >4</text>
<line x1="136.6" y1="515.7" x2="136.6" y2="519.7" stroke="#222" stroke-width="1" />
<text x="136.6" y="530.3" font-size="10.5" text-anchor="middle" fill="#111" >8</text>
<line x1="185.8" y1="515.7" x2="185.8" y2="519.7" stroke="#222" stroke-width="1" />
<text x="185.8" y="530.3" font-size="10.5" text-anchor="middle" fill="#111" >12</text>
<text x="9.2" y="457.7" font-size="10.4" text-anchor="middle" fill="#111" transform="rotate(-90 9.2 454.0)" >AKAP79-R-FlincA ΔF/F0</text>
<text x="112.0" y="542.4" font-size="10.6" text-anchor="middle" fill="#111" >Time (min)</text>
<line x1="38.1" y1="471.5" x2="186.0" y2="471.5" stroke="#111" stroke-width="1.0" stroke-dasharray="3.5,2.5" />
<polygon points="52.0,470.0 52.5,466.0 53.0,462.1 53.5,458.1 54.0,454.2 54.5,450.2 55.0,446.3 55.5,442.3 56.0,438.4 56.5,434.4 57.0,430.5 57.5,426.5 58.0,422.6 58.5,419.2 59.0,418.1 59.5,417.1 60.0,416.0 60.5,415.0 61.0,413.9 61.5,412.9 62.0,411.8 62.5,410.7 63.0,409.7 63.5,408.6 64.0,407.6 64.5,406.5 65.0,405.5 65.5,404.4 66.0,403.3 66.5,402.3 67.0,401.2 67.5,400.2 68.0,399.1 68.5,398.1 69.0,397.0 69.5,396.0 70.0,394.9 70.5,394.8 71.0,394.8 71.5,394.7 72.0,394.7 72.5,394.6 73.0,394.6 73.5,394.5 74.0,394.5 74.5,394.4 75.0,394.4 75.5,394.3 76.0,394.3 76.5,394.2 77.0,394.2 77.5,394.1 78.0,394.1 78.5,394.0 79.0,394.0 79.5,393.9 80.0,393.9 80.5,393.8 81.0,393.8 81.5,393.7 82.0,393.8 82.5,393.9 83.0,394.0 83.5,394.1 84.0,394.2 84.5,394.3 85.0,394.3 85.5,394.4 86.0,394.5 86.5,394.6 87.0,394.7 87.5,394.8 88.0,394.9 88.5,395.0 89.0,395.1 89.5,395.2 90.0,395.3 90.5,395.4 91.0,395.5 91.5,395.6 92.0,395.7 92.5,395.8 93.0,395.9 93.5,396.0 94.0,396.2 94.5,396.3 95.0,396.5 95.5,396.6 96.0,396.8 96.5,396.9 97.0,397.1 97.5,397.2 98.0,397.4 98.5,397.5 99.0,397.7 99.5,397.8 100.0,398.0 100.5,398.1 101.0,398.3 101.5,398.4 102.0,398.6 102.5,398.7 103.0,398.9 103.5,399.0 104.0,399.2 104.5,399.3 105.0,399.5 105.5,399.7 106.0,399.9 106.5,400.1 107.0,400.3 107.5,400.5 108.0,400.7 108.5,400.9 109.0,401.1 109.5,401.3 110.0,401.5 110.5,401.7 111.0,401.9 111.5,402.1 112.0,402.3 112.5,402.5 113.0,402.7 113.5,402.9 114.0,403.1 114.5,403.3 115.0,403.5 115.5,403.7 116.0,403.9 116.5,404.1 117.0,404.3 117.5,404.6 118.0,404.9 118.5,405.2 119.0,405.5 119.5,405.8 120.0,406.1 120.5,406.4 121.0,406.7 121.5,407.0 122.0,407.3 122.5,407.6 123.0,407.9 123.5,408.2 124.0,408.5 124.5,408.8 125.0,409.1 125.5,409.4 126.0,409.8 126.5,410.1 127.0,410.4 127.5,410.7 128.0,411.0 128.5,411.3 129.0,411.9 129.5,412.5 130.0,413.1 130.5,413.7 131.0,414.3 131.5,414.9 132.0,415.5 132.5,416.1 133.0,416.8 133.5,417.4 134.0,418.0 134.5,418.6 135.0,419.2 135.5,419.8 136.0,420.4 136.5,421.0 137.0,421.6 137.5,422.2 138.0,422.8 138.5,423.4 139.0,424.0 139.5,424.6 140.0,425.2 140.5,425.9 141.0,426.7 141.5,427.4 142.0,428.2 142.5,428.9 143.0,429.6 143.5,430.4 144.0,431.1 144.5,431.9 145.0,432.6 145.5,433.4 146.0,434.1 146.5,434.8 147.0,435.6 147.5,436.3 148.0,437.1 148.5,437.8 149.0,438.5 149.5,439.3 150.0,440.0 150.5,440.8 151.0,441.5 151.5,442.3 152.0,442.9 152.5,443.5 153.0,444.1 153.5,444.7 154.0,445.4 154.5,446.0 155.0,446.6 155.5,447.2 156.0,447.8 156.5,448.4 157.0,449.0 157.5,449.6 158.0,450.2 158.5,450.8 159.0,451.4 159.5,452.0 160.0,452.6 160.5,453.2 161.0,453.8 161.5,454.4 162.0,455.0 162.5,455.6 163.0,456.2 163.5,456.8 164.0,457.2 164.5,457.6 165.0,458.0 165.5,458.5 166.0,458.9 166.5,459.3 167.0,459.7 167.5,460.1 168.0,460.5 168.5,460.9 169.0,461.4 169.5,461.8 170.0,462.2 170.5,462.6 170.5,474.3 170.0,474.3 169.5,474.3 169.0,474.0 168.5,473.5 168.0,472.9 167.5,472.4 167.0,471.9 166.5,471.4 166.0,470.9 165.5,470.4 165.0,469.8 164.5,469.3 164.0,468.8 163.5,468.3 163.0,467.6 162.5,466.8 162.0,466.1 161.5,465.3 161.0,464.6 160.5,463.8 160.0,463.1 159.5,462.4 159.0,461.6 158.5,460.9 158.0,460.1 157.5,459.4 157.0,458.6 156.5,457.9 156.0,457.3 155.5,456.8 155.0,456.2 154.5,455.7 154.0,455.1 153.5,454.6 153.0,454.0 152.5,453.5 152.0,452.9 151.5,452.4 151.0,451.8 150.5,451.2 150.0,450.7 149.5,450.1 149.0,449.6 148.5,449.0 148.0,448.5 147.5,447.9 147.0,447.4 146.5,446.8 146.0,446.2 145.5,445.6 145.0,445.1 144.5,444.5 144.0,443.9 143.5,443.4 143.0,442.8 142.5,442.2 142.0,441.6 141.5,441.1 141.0,440.5 140.5,439.9 140.0,439.4 139.5,438.8 139.0,438.2 138.5,437.6 138.0,437.1 137.5,436.6 137.0,436.1 136.5,435.7 136.0,435.2 135.5,434.8 135.0,434.3 134.5,433.9 134.0,433.4 133.5,433.0 133.0,432.5 132.5,432.1 132.0,431.7 131.5,431.2 131.0,430.8 130.5,430.3 130.0,429.9 129.5,429.4 129.0,429.0 128.5,428.5 128.0,428.2 127.5,428.0 127.0,427.8 126.5,427.5 126.0,427.3 125.5,427.0 125.0,426.8 124.5,426.6 124.0,426.3 123.5,426.1 123.0,425.9 122.5,425.6 122.0,425.4 121.5,425.1 121.0,424.9 120.5,424.7 120.0,424.4 119.5,424.2 119.0,423.9 118.5,423.6 118.0,423.2 117.5,422.8 117.0,422.5 116.5,422.1 116.0,421.7 115.5,421.4 115.0,421.0 114.5,420.6 114.0,420.3 113.5,419.9 113.0,419.5 112.5,419.2 112.0,418.8 111.5,418.4 111.0,418.1 110.5,417.7 110.0,417.4 109.5,417.1 109.0,416.9 108.5,416.8 108.0,416.6 107.5,416.5 107.0,416.3 106.5,416.2 106.0,416.0 105.5,415.8 105.0,415.7 104.5,415.5 104.0,415.4 103.5,415.2 103.0,415.1 102.5,414.9 102.0,414.8 101.5,414.6 101.0,414.5 100.5,414.3 100.0,414.2 99.5,414.0 99.0,413.9 98.5,413.7 98.0,413.5 97.5,413.3 97.0,413.2 96.5,413.0 96.0,412.8 95.5,412.6 95.0,412.4 94.5,412.2 94.0,412.0 93.5,411.8 93.0,411.6 92.5,411.4 92.0,411.2 91.5,411.0 91.0,410.8 90.5,410.6 90.0,410.4 89.5,410.2 89.0,410.0 88.5,409.8 88.0,409.6 87.5,409.4 87.0,409.2 86.5,409.0 86.0,408.8 85.5,408.7 85.0,408.6 84.5,408.4 84.0,408.3 83.5,408.2 83.0,408.1 82.5,407.9 82.0,407.8 81.5,407.7 81.0,407.5 80.5,407.4 80.0,407.3 79.5,407.1 79.0,407.0 78.5,406.9 78.0,406.8 77.5,406.6 77.0,406.5 76.5,406.7 76.0,406.8 75.5,407.0 75.0,407.2 74.5,407.4 74.0,407.5 73.5,407.7 73.0,407.9 72.5,408.1 72.0,408.2 71.5,408.4 71.0,408.6 70.5,408.8 70.0,408.9 69.5,409.6 69.0,410.3 68.5,410.9 68.0,411.6 67.5,412.3 67.0,412.9 66.5,413.6 66.0,414.3 65.5,414.9 65.0,415.6 64.5,416.2 64.0,416.9 63.5,417.6 63.0,418.2 62.5,419.6 62.0,421.0 61.5,422.4 61.0,423.8 60.5,425.2 60.0,426.6 59.5,428.0 59.0,429.4 58.5,430.8 58.0,433.5 57.5,436.5 57.0,439.5 56.5,442.5 56.0,445.5 55.5,448.5 55.0,451.5 54.5,455.2 54.0,459.1 53.5,463.0 53.0,466.9 52.5,470.7 52.0,474.1" fill="#c6c6c6" stroke="none" stroke-width="0" />
<path d="M52.0 470.0L52.0 474.1M53.5 458.1L53.5 463.0M55.0 446.3L55.0 451.5M56.5 434.4L56.5 442.5M58.0 422.6L58.0 433.5M59.5 417.1L59.5 428.0M61.0 413.9L61.0 423.8M62.5 410.7L62.5 419.6M64.0 407.6L64.0 416.9M65.5 404.4L65.5 414.9M67.0 401.2L67.0 412.9M68.5 398.1L68.5 410.9M70.0 394.9L70.0 408.9M71.5 394.7L71.5 408.4M73.0 394.6L73.0 407.9M74.5 394.4L74.5 407.4M76.0 394.3L76.0 406.8M77.5 394.1L77.5 406.6M79.0 394.0L79.0 407.0M80.5 393.8L80.5 407.4M82.0 393.8L82.0 407.8M83.5 394.1L83.5 408.2M85.0 394.3L85.0 408.6M86.5 394.6L86.5 409.0M88.0 394.9L88.0 409.6M89.5 395.2L89.5 410.2M91.0 395.5L91.0 410.8M92.5 395.8L92.5 411.4M94.0 396.2L94.0 412.0M95.5 396.6L95.5 412.6M97.0 397.1L97.0 413.2M98.5 397.5L98.5 413.7M100.0 398.0L100.0 414.2M101.5 398.4L101.5 414.6M103.0 398.9L103.0 415.1M104.5 399.3L104.5 415.5M106.0 399.9L106.0 416.0M107.5 400.5L107.5 416.5M109.0 401.1L109.0 416.9M110.5 401.7L110.5 417.7M112.0 402.3L112.0 418.8M113.5 402.9L113.5 419.9M115.0 403.5L115.0 421.0M116.5 404.1L116.5 422.1M118.0 404.9L118.0 423.2M119.5 405.8L119.5 424.2M121.0 406.7L121.0 424.9M122.5 407.6L122.5 425.6M124.0 408.5L124.0 426.3M125.5 409.4L125.5 427.0M127.0 410.4L127.0 427.8M128.5 411.3L128.5 428.5M130.0 413.1L130.0 429.9M131.5 414.9L131.5 431.2M133.0 416.8L133.0 432.5M134.5 418.6L134.5 433.9M136.0 420.4L136.0 435.2M137.5 422.2L137.5 436.6M139.0 424.0L139.0 438.2M140.5 425.9L140.5 439.9M142.0 428.2L142.0 441.6M143.5 430.4L143.5 443.4M145.0 432.6L145.0 445.1M146.5 434.8L146.5 446.8M148.0 437.1L148.0 448.5M149.5 439.3L149.5 450.1M151.0 441.5L151.0 451.8M152.5 443.5L152.5 453.5M154.0 445.4L154.0 455.1M155.5 447.2L155.5 456.8M157.0 449.0L157.0 458.6M158.5 450.8L158.5 460.9M160.0 452.6L160.0 463.1M161.5 454.4L161.5 465.3M163.0 456.2L163.0 467.6M164.5 457.6L164.5 469.3M166.0 458.9L166.0 470.9M167.5 460.1L167.5 472.4M169.0 461.4L169.0 474.0M170.5 462.6L170.5 474.3" stroke="#9c9c9c" stroke-width="0.6" fill="none" />
<polyline points="52.0,470.0 52.5,466.0 53.0,462.1 53.5,458.1 54.0,454.2 54.5,450.2 55.0,446.3 55.5,442.3 56.0,438.4 56.5,434.4 57.0,430.5 57.5,426.5 58.0,422.6 58.5,419.2 59.0,418.1 59.5,417.1 60.0,416.0 60.5,415.0 61.0,413.9 61.5,412.9 62.0,411.8 62.5,410.7 63.0,409.7 63.5,408.6 64.0,407.6 64.5,406.5 65.0,405.5 65.5,404.4 66.0,403.3 66.5,402.3 67.0,401.2 67.5,400.2 68.0,399.1 68.5,398.1 69.0,397.0 69.5,396.0 70.0,394.9 70.5,394.8 71.0,394.8 71.5,394.7 72.0,394.7 72.5,394.6 73.0,394.6 73.5,394.5 74.0,394.5 74.5,394.4 75.0,394.4 75.5,394.3 76.0,394.3 76.5,394.2 77.0,394.2 77.5,394.1 78.0,394.1 78.5,394.0 79.0,394.0 79.5,393.9 80.0,393.9 80.5,393.8 81.0,393.8 81.5,393.7 82.0,393.8 82.5,393.9 83.0,394.0 83.5,394.1 84.0,394.2 84.5,394.3 85.0,394.3 85.5,394.4 86.0,394.5 86.5,394.6 87.0,394.7 87.5,394.8 88.0,394.9 88.5,395.0 89.0,395.1 89.5,395.2 90.0,395.3 90.5,395.4 91.0,395.5 91.5,395.6 92.0,395.7 92.5,395.8 93.0,395.9 93.5,396.0 94.0,396.2 94.5,396.3 95.0,396.5 95.5,396.6 96.0,396.8 96.5,396.9 97.0,397.1 97.5,397.2 98.0,397.4 98.5,397.5 99.0,397.7 99.5,397.8 100.0,398.0 100.5,398.1 101.0,398.3 101.5,398.4 102.0,398.6 102.5,398.7 103.0,398.9 103.5,399.0 104.0,399.2 104.5,399.3 105.0,399.5 105.5,399.7 106.0,399.9 106.5,400.1 107.0,400.3 107.5,400.5 108.0,400.7 108.5,400.9 109.0,401.1 109.5,401.3 110.0,401.5 110.5,401.7 111.0,401.9 111.5,402.1 112.0,402.3 112.5,402.5 113.0,402.7 113.5,402.9 114.0,403.1 114.5,403.3 115.0,403.5 115.5,403.7 116.0,403.9 116.5,404.1 117.0,404.3 117.5,404.6 118.0,404.9 118.5,405.2 119.0,405.5 119.5,405.8 120.0,406.1 120.5,406.4 121.0,406.7 121.5,407.0 122.0,407.3 122.5,407.6 123.0,407.9 123.5,408.2 124.0,408.5 124.5,408.8 125.0,409.1 125.5,409.4 126.0,409.8 126.5,410.1 127.0,410.4 127.5,410.7 128.0,411.0 128.5,411.3 129.0,411.9 129.5,412.5 130.0,413.1 130.5,413.7 131.0,414.3 131.5,414.9 132.0,415.5 132.5,416.1 133.0,416.8 133.5,417.4 134.0,418.0 134.5,418.6 135.0,419.2 135.5,419.8 136.0,420.4 136.5,421.0 137.0,421.6 137.5,422.2 138.0,422.8 138.5,423.4 139.0,424.0 139.5,424.6 140.0,425.2 140.5,425.9 141.0,426.7 141.5,427.4 142.0,428.2 142.5,428.9 143.0,429.6 143.5,430.4 144.0,431.1 144.5,431.9 145.0,432.6 145.5,433.4 146.0,434.1 146.5,434.8 147.0,435.6 147.5,436.3 148.0,437.1 148.5,437.8 149.0,438.5 149.5,439.3 150.0,440.0 150.5,440.8 151.0,441.5 151.5,442.3 152.0,442.9 152.5,443.5 153.0,444.1 153.5,444.7 154.0,445.4 154.5,446.0 155.0,446.6 155.5,447.2 156.0,447.8 156.5,448.4 157.0,449.0 157.5,449.6 158.0,450.2 158.5,450.8 159.0,451.4 159.5,452.0 160.0,452.6 160.5,453.2 161.0,453.8 161.5,454.4 162.0,455.0 162.5,455.6 163.0,456.2 163.5,456.8 164.0,457.2 164.5,457.6 165.0,458.0 165.5,458.5 166.0,458.9 166.5,459.3 167.0,459.7 167.5,460.1 168.0,460.5 168.5,460.9 169.0,461.4 169.5,461.8 170.0,462.2 170.5,462.6" fill="none" stroke="#9a9a9a" stroke-width="0.7" stroke-linejoin="round" />
<polyline points="37.3,470.3 38.1,471.3 38.9,472.2 39.7,473.2 40.5,474.2 41.3,475.2 42.1,476.1 42.9,477.1 43.7,478.1 44.5,479.1 45.3,480.0 46.1,481.0 46.9,482.0 47.7,483.0 48.5,483.9 49.3,484.9 50.1,485.9 50.9,481.4 51.7,476.1 52.5,470.7 53.3,464.5 54.1,458.3 54.9,452.1 55.7,447.3 56.5,442.5 57.3,437.7 58.1,432.9 58.9,429.7 59.7,427.5 60.5,425.0 61.3,423.0 62.1,420.6 62.9,418.6 63.7,417.4 64.5,415.8 65.3,414.7 66.1,414.5 66.9,412.8 67.7,411.7 68.5,411.4 69.3,409.8 70.1,409.2 70.9,408.6 71.7,408.5 72.5,407.7 73.3,407.9 74.1,407.9 74.9,407.3 75.7,407.2 76.5,406.8 77.3,406.1 78.1,407.0 78.9,407.1 79.7,407.0 80.5,406.9 81.3,408.0 82.1,407.8 82.9,408.2 83.7,408.6 84.5,408.7 85.3,409.1 86.1,408.8 86.9,409.4 87.7,409.4 88.5,410.2 89.3,410.5 90.1,410.0 90.9,410.4 91.7,410.8 92.5,411.8 93.3,411.6 94.1,412.1 94.9,412.1 95.7,412.6 96.5,412.8 97.3,413.1 98.1,413.7 98.9,413.9 99.7,414.5 100.5,414.5 101.3,415.0 102.1,415.2 102.9,415.5 103.7,415.5 104.5,415.2 105.3,416.1 106.1,416.5 106.9,416.7 107.7,416.6 108.5,417.0 109.3,416.7 110.1,417.8 110.9,418.1 111.7,418.4 112.5,418.7 113.3,420.1 114.1,420.8 114.9,420.5 115.7,421.8 116.5,422.0 117.3,422.3 118.1,423.1 118.9,424.1 119.7,424.7 120.5,424.2 121.3,425.2 122.1,425.0 122.9,426.0 123.7,426.0 124.5,427.0 125.3,427.4 126.1,427.3 126.9,428.2 127.7,427.9 128.5,428.1 129.3,429.3 130.1,429.5 130.9,430.4 131.7,431.3 132.5,432.2 133.3,432.5 134.1,433.1 134.9,434.6 135.7,434.8 136.5,436.1 137.3,436.8 138.1,437.1 138.9,438.1 139.7,439.0 140.5,440.1 141.3,440.9 142.1,441.8 142.9,442.8 143.7,444.0 144.5,444.5 145.3,445.4 146.1,446.6 146.9,447.0 147.7,447.9 148.5,449.5 149.3,449.9 150.1,450.8 150.9,451.2 151.7,452.5 152.5,453.5 153.3,453.9 154.1,455.3 154.9,456.2 155.7,456.6 156.5,458.0 157.3,459.0 158.1,460.4 158.9,461.3 159.7,462.9 160.5,464.1 161.3,464.5 162.1,465.8 162.9,467.6 163.7,469.0 164.5,469.1 165.3,470.1 166.1,471.1 166.9,471.6 167.7,472.5 168.5,473.3" fill="none" stroke="#4a4ad8" stroke-width="1.0" stroke-linejoin="round" />
<line x1="50.2" y1="487.7" x2="50.2" y2="495.0" stroke="#333" stroke-width="0.8" />
<polygon points="48.6,494.0 51.8,494.0 50.2,498.0" fill="#333" stroke="none" stroke-width="0" />
<text x="39.8" y="510.7" font-size="9.3" text-anchor="start" fill="#111" >Blue Light</text>
<line x1="208.8" y1="384.1" x2="208.8" y2="515.0" stroke="#222" stroke-width="1" />
<line x1="204.8" y1="384.1" x2="208.8" y2="384.1" stroke="#222" stroke-width="1" />
<text x="204.0" y="387.9" font-size="10.5" text-anchor="end" fill="#111" >200</text>
<line x1="204.8" y1="421.4" x2="208.8" y2="421.4" stroke="#222" stroke-width="1" />
<text x="204.0" y="425.2" font-size="10.5" text-anchor="end" fill="#111" >150</text>
<line x1="204.8" y1="459.0" x2="208.8" y2="459.0" stroke="#222" stroke-width="1" />
<text x="204.0" y="462.8" font-size="10.5" text-anchor="end" fill="#111" >100</text>
<line x1="204.8" y1="496.3" x2="208.8" y2="496.3" stroke="#222" stroke-width="1" />
<text x="204.0" y="500.1" font-size="10.5" text-anchor="end" fill="#111" >50</text>
<line x1="204.8" y1="515.0" x2="208.8" y2="515.0" stroke="#222" stroke-width="1" />
<text x="204.0" y="518.8" font-size="10.5" text-anchor="end" fill="#111" >0</text>
<text x="181.6" y="454.5" font-size="10.6" text-anchor="middle" fill="#111" transform="rotate(-90 181.6 450.7)" >AUC</text>
<rect x="213.1" y="497.1" width="14.6" height="17.9" fill="#1a1ae6" stroke="#333" stroke-width="0.6"/>
<rect x="232.6" y="497.4" width="14.6" height="17.6" fill="#e8141e" stroke="#333" stroke-width="0.6"/>
<circle cx="220.4" cy="513.8" r="1.8" fill="white" stroke="#3a3a3a" stroke-width="0.75"/>
<circle cx="217.4" cy="511.9" r="1.8" fill="white" stroke="#3a3a3a" stroke-width="0.75"/>
<circle cx="222.9" cy="511.4" r="1.8" fill="white" stroke="#3a3a3a" stroke-width="0.75"/>
<circle cx="225.9" cy="511.3" r="1.8" fill="white" stroke="#3a3a3a" stroke-width="0.75"/>
<circle cx="219.9" cy="509.3" r="1.8" fill="white" stroke="#3a3a3a" stroke-width="0.75"/>
<circle cx="215.4" cy="509.3" r="1.8" fill="white" stroke="#3a3a3a" stroke-width="0.75"/>
<circle cx="221.9" cy="506.7" r="1.8" fill="white" stroke="#3a3a3a" stroke-width="0.75"/>
<circle cx="217.9" cy="506.7" r="1.8" fill="white" stroke="#3a3a3a" stroke-width="0.75"/>
<circle cx="225.4" cy="506.0" r="1.8" fill="white" stroke="#3a3a3a" stroke-width="0.75"/>
<circle cx="214.9" cy="504.8" r="1.8" fill="white" stroke="#3a3a3a" stroke-width="0.75"/>
<circle cx="219.9" cy="504.4" r="1.8" fill="white" stroke="#3a3a3a" stroke-width="0.75"/>
<circle cx="223.4" cy="504.3" r="1.8" fill="white" stroke="#3a3a3a" stroke-width="0.75"/>
<circle cx="217.4" cy="504.0" r="1.8" fill="white" stroke="#3a3a3a" stroke-width="0.75"/>
<circle cx="225.9" cy="503.7" r="1.8" fill="white" stroke="#3a3a3a" stroke-width="0.75"/>
<circle cx="221.4" cy="503.2" r="1.8" fill="white" stroke="#3a3a3a" stroke-width="0.75"/>
<circle cx="215.4" cy="502.2" r="1.8" fill="white" stroke="#3a3a3a" stroke-width="0.75"/>
<circle cx="218.9" cy="501.6" r="1.8" fill="white" stroke="#3a3a3a" stroke-width="0.75"/>
<circle cx="223.9" cy="501.0" r="1.8" fill="white" stroke="#3a3a3a" stroke-width="0.75"/>
<circle cx="221.4" cy="499.8" r="1.8" fill="white" stroke="#3a3a3a" stroke-width="0.75"/>
<circle cx="218.4" cy="497.7" r="1.8" fill="white" stroke="#3a3a3a" stroke-width="0.75"/>
<circle cx="222.9" cy="496.7" r="1.8" fill="white" stroke="#3a3a3a" stroke-width="0.75"/>
<circle cx="214.9" cy="496.4" r="1.8" fill="white" stroke="#3a3a3a" stroke-width="0.75"/>
<circle cx="220.4" cy="488.8" r="1.8" fill="white" stroke="#3a3a3a" stroke-width="0.75"/>
<circle cx="218.9" cy="485.8" r="1.8" fill="white" stroke="#3a3a3a" stroke-width="0.75"/>
<circle cx="220.4" cy="482.8" r="1.8" fill="white" stroke="#3a3a3a" stroke-width="0.75"/>
<circle cx="218.9" cy="479.9" r="1.8" fill="white" stroke="#3a3a3a" stroke-width="0.75"/>
<circle cx="220.4" cy="475.4" r="1.8" fill="white" stroke="#3a3a3a" stroke-width="0.75"/>
<circle cx="217.4" cy="473.9" r="1.8" fill="white" stroke="#3a3a3a" stroke-width="0.75"/>
<circle cx="220.4" cy="462.7" r="1.8" fill="white" stroke="#3a3a3a" stroke-width="0.75"/>
<circle cx="220.4" cy="432.0" r="1.8" fill="white" stroke="#3a3a3a" stroke-width="0.75"/>
<circle cx="220.4" cy="412.6" r="1.8" fill="white" stroke="#3a3a3a" stroke-width="0.75"/>
<circle cx="220.4" cy="395.4" r="1.8" fill="white" stroke="#3a3a3a" stroke-width="0.75"/>
<circle cx="239.9" cy="513.4" r="1.8" fill="white" stroke="#3a3a3a" stroke-width="0.75"/>
<circle cx="236.4" cy="513.0" r="1.8" fill="white" stroke="#3a3a3a" stroke-width="0.75"/>
<circle cx="243.4" cy="512.3" r="1.8" fill="white" stroke="#3a3a3a" stroke-width="0.75"/>
<circle cx="234.4" cy="511.9" r="1.8" fill="white" stroke="#3a3a3a" stroke-width="0.75"/>
<circle cx="238.4" cy="511.7" r="1.8" fill="white" stroke="#3a3a3a" stroke-width="0.75"/>
<circle cx="240.9" cy="511.5" r="1.8" fill="white" stroke="#3a3a3a" stroke-width="0.75"/>
<circle cx="245.4" cy="511.2" r="1.8" fill="white" stroke="#3a3a3a" stroke-width="0.75"/>
<circle cx="236.4" cy="510.9" r="1.8" fill="white" stroke="#3a3a3a" stroke-width="0.75"/>
<circle cx="242.9" cy="509.6" r="1.8" fill="white" stroke="#3a3a3a" stroke-width="0.75"/>
<circle cx="239.4" cy="509.0" r="1.8" fill="white" stroke="#3a3a3a" stroke-width="0.75"/>
<circle cx="235.4" cy="507.6" r="1.8" fill="white" stroke="#3a3a3a" stroke-width="0.75"/>
<circle cx="245.4" cy="507.1" r="1.8" fill="white" stroke="#3a3a3a" stroke-width="0.75"/>
<circle cx="240.9" cy="506.0" r="1.8" fill="white" stroke="#3a3a3a" stroke-width="0.75"/>
<circle cx="237.9" cy="505.9" r="1.8" fill="white" stroke="#3a3a3a" stroke-width="0.75"/>
<circle cx="243.4" cy="505.7" r="1.8" fill="white" stroke="#3a3a3a" stroke-width="0.75"/>
<circle cx="234.4" cy="505.1" r="1.8" fill="white" stroke="#3a3a3a" stroke-width="0.75"/>
<circle cx="245.4" cy="504.8" r="1.8" fill="white" stroke="#3a3a3a" stroke-width="0.75"/>
<circle cx="239.4" cy="504.3" r="1.8" fill="white" stroke="#3a3a3a" stroke-width="0.75"/>
<circle cx="236.4" cy="504.1" r="1.8" fill="white" stroke="#3a3a3a" stroke-width="0.75"/>
<circle cx="241.9" cy="504.0" r="1.8" fill="white" stroke="#3a3a3a" stroke-width="0.75"/>
<circle cx="243.9" cy="503.9" r="1.8" fill="white" stroke="#3a3a3a" stroke-width="0.75"/>
<circle cx="237.9" cy="503.7" r="1.8" fill="white" stroke="#3a3a3a" stroke-width="0.75"/>
<circle cx="234.4" cy="502.5" r="1.8" fill="white" stroke="#3a3a3a" stroke-width="0.75"/>
<circle cx="239.9" cy="500.3" r="1.8" fill="white" stroke="#3a3a3a" stroke-width="0.75"/>
<circle cx="236.4" cy="499.3" r="1.8" fill="white" stroke="#3a3a3a" stroke-width="0.75"/>
<circle cx="243.4" cy="499.3" r="1.8" fill="white" stroke="#3a3a3a" stroke-width="0.75"/>
<circle cx="238.9" cy="498.0" r="1.8" fill="white" stroke="#3a3a3a" stroke-width="0.75"/>
<circle cx="241.9" cy="495.9" r="1.8" fill="white" stroke="#3a3a3a" stroke-width="0.75"/>
<circle cx="239.9" cy="491.8" r="1.8" fill="white" stroke="#3a3a3a" stroke-width="0.75"/>
<circle cx="238.4" cy="488.8" r="1.8" fill="white" stroke="#3a3a3a" stroke-width="0.75"/>
<circle cx="239.9" cy="485.8" r="1.8" fill="white" stroke="#3a3a3a" stroke-width="0.75"/>
<circle cx="238.4" cy="482.8" r="1.8" fill="white" stroke="#3a3a3a" stroke-width="0.75"/>
<circle cx="239.9" cy="479.9" r="1.8" fill="white" stroke="#3a3a3a" stroke-width="0.75"/>
<circle cx="239.9" cy="472.4" r="1.8" fill="white" stroke="#3a3a3a" stroke-width="0.75"/>
<circle cx="239.9" cy="455.2" r="1.8" fill="white" stroke="#3a3a3a" stroke-width="0.75"/>
<circle cx="237.4" cy="453.0" r="1.8" fill="white" stroke="#3a3a3a" stroke-width="0.75"/>
<circle cx="239.9" cy="406.6" r="1.8" fill="white" stroke="#3a3a3a" stroke-width="0.75"/>
<line x1="216.4" y1="496.7" x2="224.4" y2="496.7" stroke="#111" stroke-width="1.2" />
<line x1="220.4" y1="499.3" x2="220.4" y2="492.6" stroke="#111" stroke-width="1" />
<line x1="217.9" y1="492.6" x2="222.9" y2="492.6" stroke="#111" stroke-width="1" />
<line x1="235.9" y1="497.0" x2="243.9" y2="497.0" stroke="#111" stroke-width="1.2" />
<line x1="239.9" y1="498.5" x2="239.9" y2="494.1" stroke="#111" stroke-width="1" />
<line x1="237.4" y1="494.1" x2="242.4" y2="494.1" stroke="#111" stroke-width="1" />
<text x="226.5" y="524.7" font-size="10.4" text-anchor="end" fill="#111" transform="rotate(-45 226.5 521.0)" >bPAC</text>
<text x="248.0" y="524.7" font-size="10.4" text-anchor="end" fill="#111" transform="rotate(-45 248.0 521.0)" >FSK</text>
<line x1="284.1" y1="385.5" x2="284.1" y2="518.1" stroke="#222" stroke-width="1" />
<line x1="280.1" y1="518.1" x2="284.1" y2="518.1" stroke="#222" stroke-width="1" />
<text x="279.3" y="521.9" font-size="10.5" text-anchor="end" fill="#111" >0.0</text>
<line x1="280.1" y1="485.0" x2="284.1" y2="485.0" stroke="#222" stroke-width="1" />
<text x="279.3" y="488.7" font-size="10.5" text-anchor="end" fill="#111" >0.5</text>
<line x1="280.1" y1="451.8" x2="284.1" y2="451.8" stroke="#222" stroke-width="1" />
<text x="279.3" y="455.6" font-size="10.5" text-anchor="end" fill="#111" >1.0</text>
<line x1="280.1" y1="418.6" x2="284.1" y2="418.6" stroke="#222" stroke-width="1" />
<text x="279.3" y="422.4" font-size="10.5" text-anchor="end" fill="#111" >1.5</text>
<line x1="280.1" y1="385.5" x2="284.1" y2="385.5" stroke="#222" stroke-width="1" />
<text x="279.3" y="389.3" font-size="10.5" text-anchor="end" fill="#111" >2.0</text>
<line x1="284.1" y1="518.1" x2="372.0" y2="518.1" stroke="#222" stroke-width="1" />
<line x1="290.8" y1="518.1" x2="290.8" y2="522.1" stroke="#222" stroke-width="1" />
<line x1="305.5" y1="518.1" x2="305.5" y2="522.1" stroke="#222" stroke-width="1" />
<line x1="321.3" y1="518.1" x2="321.3" y2="522.1" stroke="#222" stroke-width="1" />
<line x1="335.4" y1="518.1" x2="335.4" y2="522.1" stroke="#222" stroke-width="1" />
<line x1="349.9" y1="518.1" x2="349.9" y2="522.1" stroke="#222" stroke-width="1" />
<line x1="364.3" y1="518.1" x2="364.3" y2="522.1" stroke="#222" stroke-width="1" />
<text x="288.8" y="532.4" font-size="10.5" text-anchor="middle" fill="#111" >BL</text>
<text x="305.5" y="532.4" font-size="10.5" text-anchor="middle" fill="#111" >0.5</text>
<text x="321.3" y="532.4" font-size="10.5" text-anchor="middle" fill="#111" >1</text>
<text x="335.4" y="532.4" font-size="10.5" text-anchor="middle" fill="#111" >2</text>
<text x="349.9" y="532.4" font-size="10.5" text-anchor="middle" fill="#111" >4</text>
<text x="364.3" y="532.4" font-size="10.5" text-anchor="middle" fill="#111" >6</text>
<line x1="290.8" y1="420.6" x2="290.8" y2="418.6" stroke="#b4b4b4" stroke-width="0.8" />
<line x1="289.0" y1="418.6" x2="292.6" y2="418.6" stroke="#b4b4b4" stroke-width="0.8" />
<line x1="305.5" y1="417.3" x2="305.5" y2="414.0" stroke="#b4b4b4" stroke-width="0.8" />
<line x1="303.7" y1="414.0" x2="307.3" y2="414.0" stroke="#b4b4b4" stroke-width="0.8" />
<line x1="321.3" y1="421.3" x2="321.3" y2="419.3" stroke="#b4b4b4" stroke-width="0.8" />
<line x1="319.5" y1="419.3" x2="323.1" y2="419.3" stroke="#b4b4b4" stroke-width="0.8" />
<line x1="335.4" y1="420.0" x2="335.4" y2="418.0" stroke="#b4b4b4" stroke-width="0.8" />
<line x1="333.6" y1="418.0" x2="337.2" y2="418.0" stroke="#b4b4b4" stroke-width="0.8" />
<line x1="349.9" y1="418.0" x2="349.9" y2="415.3" stroke="#b4b4b4" stroke-width="0.8" />
<line x1="348.1" y1="415.3" x2="351.7" y2="415.3" stroke="#b4b4b4" stroke-width="0.8" />
<line x1="364.3" y1="416.7" x2="364.3" y2="415.3" stroke="#b4b4b4" stroke-width="0.8" />
<line x1="362.5" y1="415.3" x2="366.1" y2="415.3" stroke="#b4b4b4" stroke-width="0.8" />
<polyline points="290.8,420.6 305.5,417.3 321.3,421.3 335.4,420.0 349.9,418.0 364.3,416.7" fill="none" stroke="#b4b4b4" stroke-width="1.1" stroke-linejoin="round" />
<circle cx="290.8" cy="420.6" r="2.3" fill="#b4b4b4" stroke="none" stroke-width="0.8"/>
<circle cx="305.5" cy="417.3" r="2.3" fill="#b4b4b4" stroke="none" stroke-width="0.8"/>
<circle cx="321.3" cy="421.3" r="2.3" fill="#b4b4b4" stroke="none" stroke-width="0.8"/>
<circle cx="335.4" cy="420.0" r="2.3" fill="#b4b4b4" stroke="none" stroke-width="0.8"/>
<circle cx="349.9" cy="418.0" r="2.3" fill="#b4b4b4" stroke="none" stroke-width="0.8"/>
<circle cx="364.3" cy="416.7" r="2.3" fill="#b4b4b4" stroke="none" stroke-width="0.8"/>
<line x1="290.8" y1="417.3" x2="290.8" y2="415.3" stroke="#2424e6" stroke-width="0.8" />
<line x1="289.0" y1="415.3" x2="292.6" y2="415.3" stroke="#2424e6" stroke-width="0.8" />
<line x1="305.5" y1="424.6" x2="305.5" y2="423.3" stroke="#2424e6" stroke-width="0.8" />
<line x1="303.7" y1="423.3" x2="307.3" y2="423.3" stroke="#2424e6" stroke-width="0.8" />
<line x1="321.3" y1="418.6" x2="321.3" y2="416.7" stroke="#2424e6" stroke-width="0.8" />
<line x1="319.5" y1="416.7" x2="323.1" y2="416.7" stroke="#2424e6" stroke-width="0.8" />
<line x1="335.4" y1="419.3" x2="335.4" y2="418.0" stroke="#2424e6" stroke-width="0.8" />
<line x1="333.6" y1="418.0" x2="337.2" y2="418.0" stroke="#2424e6" stroke-width="0.8" />
<line x1="349.9" y1="418.0" x2="349.9" y2="416.0" stroke="#2424e6" stroke-width="0.8" />
<line x1="348.1" y1="416.0" x2="351.7" y2="416.0" stroke="#2424e6" stroke-width="0.8" />
<line x1="364.3" y1="420.0" x2="364.3" y2="418.6" stroke="#2424e6" stroke-width="0.8" />
<line x1="362.5" y1="418.6" x2="366.1" y2="418.6" stroke="#2424e6" stroke-width="0.8" />
<polyline points="290.8,417.3 305.5,424.6 321.3,418.6 335.4,419.3 349.9,418.0 364.3,420.0" fill="none" stroke="#2424e6" stroke-width="1.1" stroke-linejoin="round" />
<circle cx="290.8" cy="417.3" r="2.3" fill="#2424e6" stroke="none" stroke-width="0.8"/>
<circle cx="305.5" cy="424.6" r="2.3" fill="#2424e6" stroke="none" stroke-width="0.8"/>
<circle cx="321.3" cy="418.6" r="2.3" fill="#2424e6" stroke="none" stroke-width="0.8"/>
<circle cx="335.4" cy="419.3" r="2.3" fill="#2424e6" stroke="none" stroke-width="0.8"/>
<circle cx="349.9" cy="418.0" r="2.3" fill="#2424e6" stroke="none" stroke-width="0.8"/>
<circle cx="364.3" cy="420.0" r="2.3" fill="#2424e6" stroke="none" stroke-width="0.8"/>
<line x1="290.8" y1="418.0" x2="290.8" y2="416.7" stroke="#888" stroke-width="0.8" />
<line x1="289.0" y1="416.7" x2="292.6" y2="416.7" stroke="#888" stroke-width="0.8" />
<line x1="305.5" y1="440.5" x2="305.5" y2="433.9" stroke="#888" stroke-width="0.8" />
<line x1="303.7" y1="433.9" x2="307.3" y2="433.9" stroke="#888" stroke-width="0.8" />
<line x1="321.3" y1="461.7" x2="321.3" y2="460.4" stroke="#888" stroke-width="0.8" />
<line x1="319.5" y1="460.4" x2="323.1" y2="460.4" stroke="#888" stroke-width="0.8" />
<line x1="335.4" y1="443.2" x2="335.4" y2="437.9" stroke="#888" stroke-width="0.8" />
<line x1="333.6" y1="437.9" x2="337.2" y2="437.9" stroke="#888" stroke-width="0.8" />
<line x1="349.9" y1="436.6" x2="349.9" y2="431.2" stroke="#888" stroke-width="0.8" />
<line x1="348.1" y1="431.2" x2="351.7" y2="431.2" stroke="#888" stroke-width="0.8" />
<line x1="364.3" y1="425.3" x2="364.3" y2="424.0" stroke="#888" stroke-width="0.8" />
<line x1="362.5" y1="424.0" x2="366.1" y2="424.0" stroke="#888" stroke-width="0.8" />
<polyline points="290.8,418.0 305.5,440.5 321.3,461.7 335.4,443.2 349.9,436.6 364.3,425.3" fill="none" stroke="#e8192c" stroke-width="1.1" stroke-linejoin="round" />
<circle cx="290.8" cy="418.0" r="2.3" fill="#e8192c" stroke="none" stroke-width="0.8"/>
<circle cx="305.5" cy="440.5" r="2.3" fill="#e8192c" stroke="none" stroke-width="0.8"/>
<circle cx="321.3" cy="461.7" r="2.3" fill="#e8192c" stroke="none" stroke-width="0.8"/>
<circle cx="335.4" cy="443.2" r="2.3" fill="#e8192c" stroke="none" stroke-width="0.8"/>
<circle cx="349.9" cy="436.6" r="2.3" fill="#e8192c" stroke="none" stroke-width="0.8"/>
<circle cx="364.3" cy="425.3" r="2.3" fill="#e8192c" stroke="none" stroke-width="0.8"/>
<line x1="287.4" y1="382.0" x2="298.5" y2="382.0" stroke="#333" stroke-width="0.9" />
<circle cx="292.9" cy="382.0" r="2.0" fill="#b4b4b4" stroke="none" stroke-width="0.8"/>
<text x="300.0" y="385.9" font-size="10.8" fill="#111">Control/blue light</text>
<line x1="287.4" y1="393.8" x2="298.5" y2="393.8" stroke="#333" stroke-width="0.9" />
<circle cx="292.9" cy="393.8" r="2.0" fill="#2424e6" stroke="none" stroke-width="0.8"/>
<text x="300.0" y="397.7" font-size="10.8" fill="#111"><tspan font-style="italic">Plp-AKAP150-bPAC</tspan>/No light</text>
<line x1="287.4" y1="405.8" x2="298.5" y2="405.8" stroke="#333" stroke-width="0.9" />
<circle cx="292.9" cy="405.8" r="2.0" fill="#e8192c" stroke="none" stroke-width="0.8"/>
<text x="300.0" y="409.7" font-size="10.8" fill="#111"><tspan font-style="italic">Plp-AKAP150-bPAC</tspan>/blue light</text>
<text x="305.5" y="453.3" font-size="8" text-anchor="middle" fill="#222" >***</text>
<text x="321.3" y="474.3" font-size="8" text-anchor="middle" fill="#222" >****</text>
<text x="335.4" y="456.3" font-size="8" text-anchor="middle" fill="#222" >****</text>
<text x="349.9" y="448.1" font-size="8" text-anchor="middle" fill="#222" >***</text>
<text x="286.0" y="515.1" font-size="10.8" fill="#111">AAV-<tspan font-style="italic">AKAP150-bPAC</tspan></text>
<text x="347.0" y="544.1" font-size="10.6" text-anchor="middle" fill="#111" >Time (h)</text>
<text x="254.2" y="384.8" font-size="15.5" font-weight="bold" fill="#000">g</text>
<text x="261.8" y="462.7" font-size="10.6" text-anchor="middle" fill="#111" transform="rotate(-90 261.8 458.9)" >Threshold (g)</text>
<line x1="471.2" y1="386.1" x2="471.2" y2="518.1" stroke="#222" stroke-width="1" />
<line x1="467.2" y1="518.1" x2="471.2" y2="518.1" stroke="#222" stroke-width="1" />
<text x="466.4" y="521.9" font-size="10.5" text-anchor="end" fill="#111" >0.0</text>
<line x1="467.2" y1="485.1" x2="471.2" y2="485.1" stroke="#222" stroke-width="1" />
<text x="466.4" y="488.9" font-size="10.5" text-anchor="end" fill="#111" >0.5</text>
<line x1="467.2" y1="452.1" x2="471.2" y2="452.1" stroke="#222" stroke-width="1" />
<text x="466.4" y="455.9" font-size="10.5" text-anchor="end" fill="#111" >1.0</text>
<line x1="467.2" y1="419.1" x2="471.2" y2="419.1" stroke="#222" stroke-width="1" />
<text x="466.4" y="422.9" font-size="10.5" text-anchor="end" fill="#111" >1.5</text>
<line x1="467.2" y1="386.1" x2="471.2" y2="386.1" stroke="#222" stroke-width="1" />
<text x="466.4" y="389.9" font-size="10.5" text-anchor="end" fill="#111" >2.0</text>
<line x1="471.2" y1="518.1" x2="559.0" y2="518.1" stroke="#222" stroke-width="1" />
<line x1="478.8" y1="518.1" x2="478.8" y2="522.1" stroke="#222" stroke-width="1" />
<line x1="496.8" y1="518.1" x2="496.8" y2="522.1" stroke="#222" stroke-width="1" />
<line x1="514.5" y1="518.1" x2="514.5" y2="522.1" stroke="#222" stroke-width="1" />
<line x1="532.5" y1="518.1" x2="532.5" y2="522.1" stroke="#222" stroke-width="1" />
<line x1="550.3" y1="518.1" x2="550.3" y2="522.1" stroke="#222" stroke-width="1" />
<text x="476.8" y="532.4" font-size="10.5" text-anchor="middle" fill="#111" >BL</text>
<text x="496.8" y="532.4" font-size="10.5" text-anchor="middle" fill="#111" >1</text>
<text x="514.5" y="532.4" font-size="10.5" text-anchor="middle" fill="#111" >3</text>
<text x="532.5" y="532.4" font-size="10.5" text-anchor="middle" fill="#111" >6</text>
<text x="550.3" y="532.4" font-size="10.5" text-anchor="middle" fill="#111" >24</text>
<line x1="478.8" y1="420.4" x2="478.8" y2="418.4" stroke="#b4b4b4" stroke-width="0.8" />
<line x1="477.0" y1="418.4" x2="480.6" y2="418.4" stroke="#b4b4b4" stroke-width="0.8" />
<line x1="496.8" y1="423.1" x2="496.8" y2="421.1" stroke="#b4b4b4" stroke-width="0.8" />
<line x1="495.0" y1="421.1" x2="498.6" y2="421.1" stroke="#b4b4b4" stroke-width="0.8" />
<line x1="514.5" y1="419.1" x2="514.5" y2="417.1" stroke="#b4b4b4" stroke-width="0.8" />
<line x1="512.7" y1="417.1" x2="516.3" y2="417.1" stroke="#b4b4b4" stroke-width="0.8" />
<line x1="532.5" y1="419.8" x2="532.5" y2="417.8" stroke="#b4b4b4" stroke-width="0.8" />
<line x1="530.7" y1="417.8" x2="534.3" y2="417.8" stroke="#b4b4b4" stroke-width="0.8" />
<line x1="550.3" y1="421.7" x2="550.3" y2="419.8" stroke="#b4b4b4" stroke-width="0.8" />
<line x1="548.5" y1="419.8" x2="552.1" y2="419.8" stroke="#b4b4b4" stroke-width="0.8" />
<polyline points="478.8,420.4 496.8,423.1 514.5,419.1 532.5,419.8 550.3,421.7" fill="none" stroke="#b4b4b4" stroke-width="1.1" stroke-linejoin="round" />
<circle cx="478.8" cy="420.4" r="2.3" fill="#b4b4b4" stroke="none" stroke-width="0.8"/>
<circle cx="496.8" cy="423.1" r="2.3" fill="#b4b4b4" stroke="none" stroke-width="0.8"/>
<circle cx="514.5" cy="419.1" r="2.3" fill="#b4b4b4" stroke="none" stroke-width="0.8"/>
<circle cx="532.5" cy="419.8" r="2.3" fill="#b4b4b4" stroke="none" stroke-width="0.8"/>
<circle cx="550.3" cy="421.7" r="2.3" fill="#b4b4b4" stroke="none" stroke-width="0.8"/>
<line x1="478.8" y1="422.4" x2="478.8" y2="420.4" stroke="#111" stroke-width="0.8" />
<line x1="477.0" y1="420.4" x2="480.6" y2="420.4" stroke="#111" stroke-width="0.8" />
<line x1="496.8" y1="457.4" x2="496.8" y2="452.1" stroke="#111" stroke-width="0.8" />
<line x1="495.0" y1="452.1" x2="498.6" y2="452.1" stroke="#111" stroke-width="0.8" />
<line x1="514.5" y1="471.9" x2="514.5" y2="466.6" stroke="#111" stroke-width="0.8" />
<line x1="512.7" y1="466.6" x2="516.3" y2="466.6" stroke="#111" stroke-width="0.8" />
<line x1="532.5" y1="495.0" x2="532.5" y2="493.7" stroke="#111" stroke-width="0.8" />
<line x1="530.7" y1="493.7" x2="534.3" y2="493.7" stroke="#111" stroke-width="0.8" />
<line x1="550.3" y1="440.9" x2="550.3" y2="438.2" stroke="#111" stroke-width="0.8" />
<line x1="548.5" y1="438.2" x2="552.1" y2="438.2" stroke="#111" stroke-width="0.8" />
<polyline points="478.8,422.4 496.8,457.4 514.5,471.9 532.5,495.0 550.3,440.9" fill="none" stroke="#111" stroke-width="1.1" stroke-linejoin="round" />
<circle cx="478.8" cy="422.4" r="2.3" fill="#111" stroke="none" stroke-width="0.8"/>
<circle cx="496.8" cy="457.4" r="2.3" fill="#111" stroke="none" stroke-width="0.8"/>
<circle cx="514.5" cy="471.9" r="2.3" fill="#111" stroke="none" stroke-width="0.8"/>
<circle cx="532.5" cy="495.0" r="2.3" fill="#111" stroke="none" stroke-width="0.8"/>
<circle cx="550.3" cy="440.9" r="2.3" fill="#111" stroke="none" stroke-width="0.8"/>
<line x1="478.8" y1="417.8" x2="478.8" y2="416.5" stroke="#888" stroke-width="0.8" />
<line x1="477.0" y1="416.5" x2="480.6" y2="416.5" stroke="#888" stroke-width="0.8" />
<line x1="496.8" y1="434.9" x2="496.8" y2="429.0" stroke="#888" stroke-width="0.8" />
<line x1="495.0" y1="429.0" x2="498.6" y2="429.0" stroke="#888" stroke-width="0.8" />
<line x1="514.5" y1="438.9" x2="514.5" y2="434.3" stroke="#888" stroke-width="0.8" />
<line x1="512.7" y1="434.3" x2="516.3" y2="434.3" stroke="#888" stroke-width="0.8" />
<line x1="532.5" y1="442.9" x2="532.5" y2="438.2" stroke="#888" stroke-width="0.8" />
<line x1="530.7" y1="438.2" x2="534.3" y2="438.2" stroke="#888" stroke-width="0.8" />
<line x1="550.3" y1="423.7" x2="550.3" y2="420.4" stroke="#888" stroke-width="0.8" />
<line x1="548.5" y1="420.4" x2="552.1" y2="420.4" stroke="#888" stroke-width="0.8" />
<polyline points="478.8,417.8 496.8,434.9 514.5,438.9 532.5,442.9 550.3,423.7" fill="none" stroke="#e8192c" stroke-width="1.1" stroke-linejoin="round" />
<circle cx="478.8" cy="417.8" r="2.3" fill="#e8192c" stroke="none" stroke-width="0.8"/>
<circle cx="496.8" cy="434.9" r="2.3" fill="#e8192c" stroke="none" stroke-width="0.8"/>
<circle cx="514.5" cy="438.9" r="2.3" fill="#e8192c" stroke="none" stroke-width="0.8"/>
<circle cx="532.5" cy="442.9" r="2.3" fill="#e8192c" stroke="none" stroke-width="0.8"/>
<circle cx="550.3" cy="423.7" r="2.3" fill="#e8192c" stroke="none" stroke-width="0.8"/>
<line x1="474.0" y1="385.0" x2="484.3" y2="385.0" stroke="#333" stroke-width="0.9" />
<circle cx="479.1" cy="385.0" r="2.0" fill="#b4b4b4" stroke="none" stroke-width="0.8"/>
<text x="486.0" y="388.9" font-size="10.8" fill="#111">Veh/Veh</text>
<line x1="474.0" y1="395.7" x2="484.3" y2="395.7" stroke="#333" stroke-width="0.9" />
<circle cx="479.1" cy="395.7" r="2.0" fill="#111" stroke="none" stroke-width="0.8"/>
<text x="486.0" y="399.6" font-size="10.8" fill="#111">Cg/Veh</text>
<line x1="474.0" y1="406.5" x2="484.3" y2="406.5" stroke="#333" stroke-width="0.9" />
<circle cx="479.1" cy="406.5" r="2.0" fill="#e8192c" stroke="none" stroke-width="0.8"/>
<text x="486.0" y="410.4" font-size="10.8" fill="#111">Cg/st-Ht31</text>
<text x="497.6" y="444.4" font-size="8" text-anchor="middle" fill="#333" letter-spacing="-1.6">†††</text>
<text x="515.3" y="448.9" font-size="8" text-anchor="middle" fill="#333" letter-spacing="-1.6">††††</text>
<text x="533.3" y="452.5" font-size="8" text-anchor="middle" fill="#333" letter-spacing="-1.6">††††</text>
<text x="496.8" y="472.1" font-size="8" text-anchor="middle" fill="#222" >****</text>
<text x="514.5" y="483.7" font-size="8" text-anchor="middle" fill="#222" >****</text>
<text x="532.5" y="506.0" font-size="8" text-anchor="middle" fill="#222" >****</text>
<text x="551.1" y="431.3" font-size="8" text-anchor="middle" fill="#333" letter-spacing="-1.6">††</text>
<text x="553.0" y="452.3" font-size="8" text-anchor="middle" fill="#222" >**</text>
<line x1="483.9" y1="508.0" x2="483.9" y2="514.0" stroke="#e8192c" stroke-width="1" />
<polygon points="481.9,512.5 485.9,512.5 483.9,516.5" fill="#e8192c" stroke="none" stroke-width="0" />
<line x1="490.2" y1="508.0" x2="490.2" y2="514.0" stroke="#111" stroke-width="1" />
<polygon points="488.2,512.5 492.2,512.5 490.2,516.5" fill="#111" stroke="none" stroke-width="0" />
<text x="535.0" y="542.1" font-size="10.6" text-anchor="middle" fill="#111" >Time (h)</text>
<text x="441.3" y="384.0" font-size="15.5" font-weight="bold" fill="#000">h</text>
<text x="444.9" y="455.9" font-size="10.6" text-anchor="middle" fill="#111" transform="rotate(-90 444.9 452.1)" >Threshold (g)</text>
<line x1="592.6" y1="386.1" x2="592.6" y2="518.1" stroke="#222" stroke-width="1" />
<line x1="588.6" y1="518.1" x2="592.6" y2="518.1" stroke="#222" stroke-width="1" />
<text x="587.8" y="521.9" font-size="10.5" text-anchor="end" fill="#111" >0.0</text>
<line x1="588.6" y1="485.1" x2="592.6" y2="485.1" stroke="#222" stroke-width="1" />
<text x="587.8" y="488.9" font-size="10.5" text-anchor="end" fill="#111" >0.5</text>
<line x1="588.6" y1="452.1" x2="592.6" y2="452.1" stroke="#222" stroke-width="1" />
<text x="587.8" y="455.9" font-size="10.5" text-anchor="end" fill="#111" >1.0</text>
<line x1="588.6" y1="419.1" x2="592.6" y2="419.1" stroke="#222" stroke-width="1" />
<text x="587.8" y="422.9" font-size="10.5" text-anchor="end" fill="#111" >1.5</text>
<line x1="588.6" y1="386.1" x2="592.6" y2="386.1" stroke="#222" stroke-width="1" />
<text x="587.8" y="389.9" font-size="10.5" text-anchor="end" fill="#111" >2.0</text>
<line x1="592.6" y1="518.1" x2="680.6" y2="518.1" stroke="#222" stroke-width="1" />
<line x1="597.4" y1="518.1" x2="597.4" y2="522.1" stroke="#222" stroke-width="1" />
<line x1="612.3" y1="518.1" x2="612.3" y2="522.1" stroke="#222" stroke-width="1" />
<line x1="627.4" y1="518.1" x2="627.4" y2="522.1" stroke="#222" stroke-width="1" />
<line x1="642.3" y1="518.1" x2="642.3" y2="522.1" stroke="#222" stroke-width="1" />
<line x1="656.7" y1="518.1" x2="656.7" y2="522.1" stroke="#222" stroke-width="1" />
<line x1="671.2" y1="518.1" x2="671.2" y2="522.1" stroke="#222" stroke-width="1" />
<text x="595.4" y="532.4" font-size="10.5" text-anchor="middle" fill="#111" >BL</text>
<text x="612.3" y="532.4" font-size="10.5" text-anchor="middle" fill="#111" >0</text>
<text x="627.4" y="532.4" font-size="10.5" text-anchor="middle" fill="#111" >0.5</text>
<text x="642.3" y="532.4" font-size="10.5" text-anchor="middle" fill="#111" >1</text>
<text x="656.7" y="532.4" font-size="10.5" text-anchor="middle" fill="#111" >2</text>
<text x="671.2" y="532.4" font-size="10.5" text-anchor="middle" fill="#111" >4</text>
<line x1="597.4" y1="419.8" x2="597.4" y2="417.8" stroke="#b4b4b4" stroke-width="0.8" />
<line x1="595.6" y1="417.8" x2="599.2" y2="417.8" stroke="#b4b4b4" stroke-width="0.8" />
<line x1="612.3" y1="421.1" x2="612.3" y2="418.4" stroke="#b4b4b4" stroke-width="0.8" />
<line x1="610.5" y1="418.4" x2="614.1" y2="418.4" stroke="#b4b4b4" stroke-width="0.8" />
<line x1="627.4" y1="420.4" x2="627.4" y2="418.4" stroke="#b4b4b4" stroke-width="0.8" />
<line x1="625.6" y1="418.4" x2="629.2" y2="418.4" stroke="#b4b4b4" stroke-width="0.8" />
<line x1="642.3" y1="422.4" x2="642.3" y2="419.8" stroke="#b4b4b4" stroke-width="0.8" />
<line x1="640.5" y1="419.8" x2="644.1" y2="419.8" stroke="#b4b4b4" stroke-width="0.8" />
<line x1="656.7" y1="423.7" x2="656.7" y2="420.4" stroke="#b4b4b4" stroke-width="0.8" />
<line x1="654.9" y1="420.4" x2="658.5" y2="420.4" stroke="#b4b4b4" stroke-width="0.8" />
<line x1="671.2" y1="423.7" x2="671.2" y2="421.1" stroke="#b4b4b4" stroke-width="0.8" />
<line x1="669.4" y1="421.1" x2="673.0" y2="421.1" stroke="#b4b4b4" stroke-width="0.8" />
<polyline points="597.4,419.8 612.3,421.1 627.4,420.4 642.3,422.4 656.7,423.7 671.2,423.7" fill="none" stroke="#b4b4b4" stroke-width="1.1" stroke-linejoin="round" />
<circle cx="597.4" cy="419.8" r="2.3" fill="#b4b4b4" stroke="none" stroke-width="0.8"/>
<circle cx="612.3" cy="421.1" r="2.3" fill="#b4b4b4" stroke="none" stroke-width="0.8"/>
<circle cx="627.4" cy="420.4" r="2.3" fill="#b4b4b4" stroke="none" stroke-width="0.8"/>
<circle cx="642.3" cy="422.4" r="2.3" fill="#b4b4b4" stroke="none" stroke-width="0.8"/>
<circle cx="656.7" cy="423.7" r="2.3" fill="#b4b4b4" stroke="none" stroke-width="0.8"/>
<circle cx="671.2" cy="423.7" r="2.3" fill="#b4b4b4" stroke="none" stroke-width="0.8"/>
<line x1="597.4" y1="421.7" x2="597.4" y2="419.8" stroke="#111" stroke-width="0.8" />
<line x1="595.6" y1="419.8" x2="599.2" y2="419.8" stroke="#111" stroke-width="0.8" />
<line x1="612.3" y1="491.7" x2="612.3" y2="490.4" stroke="#111" stroke-width="0.8" />
<line x1="610.5" y1="490.4" x2="614.1" y2="490.4" stroke="#111" stroke-width="0.8" />
<line x1="627.4" y1="493.0" x2="627.4" y2="491.7" stroke="#111" stroke-width="0.8" />
<line x1="625.6" y1="491.7" x2="629.2" y2="491.7" stroke="#111" stroke-width="0.8" />
<line x1="642.3" y1="497.0" x2="642.3" y2="494.3" stroke="#111" stroke-width="0.8" />
<line x1="640.5" y1="494.3" x2="644.1" y2="494.3" stroke="#111" stroke-width="0.8" />
<line x1="656.7" y1="491.7" x2="656.7" y2="487.7" stroke="#111" stroke-width="0.8" />
<line x1="654.9" y1="487.7" x2="658.5" y2="487.7" stroke="#111" stroke-width="0.8" />
<line x1="671.2" y1="495.0" x2="671.2" y2="493.0" stroke="#111" stroke-width="0.8" />
<line x1="669.4" y1="493.0" x2="673.0" y2="493.0" stroke="#111" stroke-width="0.8" />
<polyline points="597.4,421.7 612.3,491.7 627.4,493.0 642.3,497.0 656.7,491.7 671.2,495.0" fill="none" stroke="#111" stroke-width="1.1" stroke-linejoin="round" />
<circle cx="597.4" cy="421.7" r="2.3" fill="#111" stroke="none" stroke-width="0.8"/>
<circle cx="612.3" cy="491.7" r="2.3" fill="#111" stroke="none" stroke-width="0.8"/>
<circle cx="627.4" cy="493.0" r="2.3" fill="#111" stroke="none" stroke-width="0.8"/>
<circle cx="642.3" cy="497.0" r="2.3" fill="#111" stroke="none" stroke-width="0.8"/>
<circle cx="656.7" cy="491.7" r="2.3" fill="#111" stroke="none" stroke-width="0.8"/>
<circle cx="671.2" cy="495.0" r="2.3" fill="#111" stroke="none" stroke-width="0.8"/>
<line x1="597.4" y1="422.4" x2="597.4" y2="420.4" stroke="#888" stroke-width="0.8" />
<line x1="595.6" y1="420.4" x2="599.2" y2="420.4" stroke="#888" stroke-width="0.8" />
<line x1="612.3" y1="494.3" x2="612.3" y2="493.0" stroke="#888" stroke-width="0.8" />
<line x1="610.5" y1="493.0" x2="614.1" y2="493.0" stroke="#888" stroke-width="0.8" />
<line x1="627.4" y1="450.8" x2="627.4" y2="442.9" stroke="#888" stroke-width="0.8" />
<line x1="625.6" y1="442.9" x2="629.2" y2="442.9" stroke="#888" stroke-width="0.8" />
<line x1="642.3" y1="459.4" x2="642.3" y2="454.7" stroke="#888" stroke-width="0.8" />
<line x1="640.5" y1="454.7" x2="644.1" y2="454.7" stroke="#888" stroke-width="0.8" />
<line x1="656.7" y1="446.2" x2="656.7" y2="440.2" stroke="#888" stroke-width="0.8" />
<line x1="654.9" y1="440.2" x2="658.5" y2="440.2" stroke="#888" stroke-width="0.8" />
<line x1="671.2" y1="487.1" x2="671.2" y2="483.8" stroke="#888" stroke-width="0.8" />
<line x1="669.4" y1="483.8" x2="673.0" y2="483.8" stroke="#888" stroke-width="0.8" />
<polyline points="597.4,422.4 612.3,494.3 627.4,450.8 642.3,459.4 656.7,446.2 671.2,487.1" fill="none" stroke="#e8192c" stroke-width="1.1" stroke-linejoin="round" />
<circle cx="597.4" cy="422.4" r="2.3" fill="#e8192c" stroke="none" stroke-width="0.8"/>
<circle cx="612.3" cy="494.3" r="2.3" fill="#e8192c" stroke="none" stroke-width="0.8"/>
<circle cx="627.4" cy="450.8" r="2.3" fill="#e8192c" stroke="none" stroke-width="0.8"/>
<circle cx="642.3" cy="459.4" r="2.3" fill="#e8192c" stroke="none" stroke-width="0.8"/>
<circle cx="656.7" cy="446.2" r="2.3" fill="#e8192c" stroke="none" stroke-width="0.8"/>
<circle cx="671.2" cy="487.1" r="2.3" fill="#e8192c" stroke="none" stroke-width="0.8"/>
<line x1="596.7" y1="385.0" x2="606.2" y2="385.0" stroke="#333" stroke-width="0.9" />
<circle cx="601.5" cy="385.0" r="2.0" fill="#b4b4b4" stroke="none" stroke-width="0.8"/>
<text x="608.4" y="388.9" font-size="10.8" fill="#111">Veh/Veh</text>
<line x1="596.7" y1="395.0" x2="606.2" y2="395.0" stroke="#333" stroke-width="0.9" />
<circle cx="601.5" cy="395.0" r="2.0" fill="#111" stroke="none" stroke-width="0.8"/>
<text x="608.4" y="398.9" font-size="10.8" fill="#111">CFA/Veh</text>
<line x1="596.7" y1="405.0" x2="606.2" y2="405.0" stroke="#333" stroke-width="0.9" />
<circle cx="601.5" cy="405.0" r="2.0" fill="#e8192c" stroke="none" stroke-width="0.8"/>
<text x="608.4" y="408.9" font-size="10.8" fill="#111">CFA/st-Ht31</text>
<text x="628.2" y="461.9" font-size="8" text-anchor="middle" fill="#333" letter-spacing="-1.6">††††</text>
<text x="643.1" y="469.6" font-size="8" text-anchor="middle" fill="#333" letter-spacing="-1.6">††††</text>
<text x="657.5" y="458.6" font-size="8" text-anchor="middle" fill="#333" letter-spacing="-1.6">††††</text>
<text x="612.3" y="503.8" font-size="8" text-anchor="middle" fill="#222" >****</text>
<text x="627.4" y="503.8" font-size="8" text-anchor="middle" fill="#222" >****</text>
<text x="642.3" y="508.2" font-size="8" text-anchor="middle" fill="#222" >****</text>
<text x="656.7" y="501.6" font-size="8" text-anchor="middle" fill="#222" >****</text>
<text x="671.2" y="507.1" font-size="8" text-anchor="middle" fill="#222" >****</text>
<line x1="604.4" y1="508.0" x2="604.4" y2="514.0" stroke="#111" stroke-width="1" />
<polygon points="602.4,512.5 606.4,512.5 604.4,516.5" fill="#111" stroke="none" stroke-width="0" />
<line x1="617.8" y1="508.0" x2="617.8" y2="514.0" stroke="#e8192c" stroke-width="1" />
<polygon points="615.8,512.5 619.8,512.5 617.8,516.5" fill="#e8192c" stroke="none" stroke-width="0" />
<text x="655.7" y="542.1" font-size="10.6" text-anchor="middle" fill="#111" >Time (h)</text>
<line x1="612.0" y1="544.4" x2="612.0" y2="547.4" stroke="#222" stroke-width="1" />
<line x1="671.0" y1="544.4" x2="671.0" y2="547.4" stroke="#222" stroke-width="1" />
<line x1="612.0" y1="547.4" x2="671.0" y2="547.4" stroke="#222" stroke-width="1" />
<text x="641.5" y="557.5" font-size="10.6" text-anchor="middle" fill="#111" >Day 2</text>
<text x="566.0" y="385.6" font-size="15.5" font-weight="bold" fill="#000">i</text>
<text x="567.8" y="455.9" font-size="10.6" text-anchor="middle" fill="#111" transform="rotate(-90 567.8 452.1)" >Threshold (g)</text>
<text x="41.5" y="572.0" font-size="15.5" font-weight="bold" fill="#000">j</text>
<line x1="74.9" y1="575.0" x2="74.9" y2="706.6" stroke="#222" stroke-width="1" />
<line x1="69.9" y1="575.0" x2="74.9" y2="575.0" stroke="#222" stroke-width="1" />
<text x="69.1" y="578.8" font-size="10.5" text-anchor="end" fill="#111" >0.3</text>
<line x1="69.9" y1="607.9" x2="74.9" y2="607.9" stroke="#222" stroke-width="1" />
<text x="69.1" y="611.7" font-size="10.5" text-anchor="end" fill="#111" >0.2</text>
<line x1="69.9" y1="640.8" x2="74.9" y2="640.8" stroke="#222" stroke-width="1" />
<text x="69.1" y="644.6" font-size="10.5" text-anchor="end" fill="#111" >0.1</text>
<line x1="69.9" y1="673.7" x2="74.9" y2="673.7" stroke="#222" stroke-width="1" />
<text x="69.1" y="677.5" font-size="10.5" text-anchor="end" fill="#111" >0.0</text>
<line x1="69.9" y1="706.6" x2="74.9" y2="706.6" stroke="#222" stroke-width="1" />
<text x="69.1" y="710.4" font-size="10.5" text-anchor="end" fill="#111" >-0.1</text>
<line x1="74.9" y1="706.6" x2="273.5" y2="706.6" stroke="#222" stroke-width="1" />
<line x1="74.9" y1="706.6" x2="74.9" y2="710.6" stroke="#222" stroke-width="1" />
<text x="74.9" y="722.2" font-size="10.5" text-anchor="middle" fill="#111" >0</text>
<line x1="140.8" y1="706.6" x2="140.8" y2="710.6" stroke="#222" stroke-width="1" />
<text x="140.8" y="722.2" font-size="10.5" text-anchor="middle" fill="#111" >120</text>
<line x1="206.7" y1="706.6" x2="206.7" y2="710.6" stroke="#222" stroke-width="1" />
<text x="206.7" y="722.2" font-size="10.5" text-anchor="middle" fill="#111" >240</text>
<line x1="272.6" y1="706.6" x2="272.6" y2="710.6" stroke="#222" stroke-width="1" />
<text x="272.6" y="722.2" font-size="10.5" text-anchor="middle" fill="#111" >360</text>
<text x="46.0" y="643.7" font-size="10.4" text-anchor="middle" fill="#111" transform="rotate(-90 46.0 640.0)" >AKAP79-R-FlincA ΔF/F0</text>
<text x="177.4" y="732.4" font-size="10.6" text-anchor="middle" fill="#111" >Time (s)</text>
<line x1="74.9" y1="673.5" x2="273.0" y2="673.5" stroke="#333" stroke-width="1.0" stroke-dasharray="3,2" />
<line x1="104.5" y1="640.0" x2="104.5" y2="706.6" stroke="#111" stroke-width="1.0" stroke-dasharray="3.5,2.5" />
<text x="103.0" y="636.2" font-size="10.4" text-anchor="middle" fill="#111" >PGE<tspan font-size="7" dy="2">2</tspan></text>
<polygon points="74.9,676.6 75.6,676.5 76.2,676.3 76.9,676.1 77.5,675.9 78.2,675.8 78.9,675.6 79.5,675.4 80.2,675.2 80.8,675.0 81.5,674.9 82.1,674.7 82.8,674.5 83.5,674.3 84.1,674.1 84.8,674.0 85.4,673.8 86.1,673.6 86.8,673.4 87.4,673.3 88.1,673.1 88.7,672.9 89.4,672.7 90.1,672.5 90.7,672.4 91.4,672.2 92.0,672.0 92.7,671.8 93.4,671.6 94.0,671.5 94.7,671.3 95.3,671.1 96.0,670.9 96.6,670.7 97.3,670.6 98.0,670.4 98.6,670.2 99.3,670.0 99.9,669.9 100.6,669.7 101.3,669.5 101.9,669.3 102.6,669.1 103.2,669.0 103.9,668.8 104.6,667.6 105.2,663.5 105.9,661.4 106.5,662.7 107.2,661.4 107.9,658.3 108.5,655.0 109.2,655.6 109.8,657.3 110.5,656.5 111.1,655.2 111.8,653.5 112.5,654.4 113.1,654.5 113.8,654.3 114.4,654.0 115.1,655.3 115.8,654.5 116.4,654.3 117.1,652.6 117.7,654.9 118.4,653.8 119.1,656.5 119.7,654.2 120.4,655.2 121.0,656.3 121.7,655.7 122.4,654.7 123.0,656.4 123.7,654.8 124.3,654.3 125.0,654.4 125.6,654.6 126.3,658.5 127.0,656.6 127.6,658.2 128.3,656.3 128.9,657.6 129.6,657.6 130.3,657.5 130.9,659.1 131.6,658.4 132.2,659.6 132.9,656.2 133.6,659.7 134.2,659.3 134.9,661.8 135.5,661.6 136.2,661.0 136.8,659.1 137.5,659.3 138.2,660.2 138.8,661.6 139.5,658.6 140.1,662.5 140.8,662.3 141.5,660.7 142.1,662.6 142.8,661.1 143.4,660.2 144.1,661.6 144.8,661.1 145.4,661.6 146.1,662.6 146.7,665.9 147.4,663.4 148.1,661.9 148.7,664.0 149.4,662.7 150.0,661.8 150.7,660.4 151.3,663.9 152.0,662.9 152.7,662.0 153.3,661.6 154.0,664.2 154.6,660.0 155.3,663.6 156.0,661.1 156.6,662.9 157.3,662.1 157.9,660.6 158.6,661.9 159.3,662.7 159.9,664.2 160.6,663.8 161.2,664.9 161.9,660.5 162.6,665.2 163.2,666.5 163.9,661.1 164.5,661.6 165.2,663.8 165.8,662.3 166.5,664.5 167.2,664.2 167.8,662.9 168.5,663.1 169.1,664.2 169.8,661.6 170.5,662.8 171.1,663.6 171.8,665.4 172.4,663.7 173.1,664.4 173.8,664.1 174.4,663.0 175.1,664.8 175.7,663.8 176.4,663.2 177.1,663.8 177.7,661.3 178.4,666.6 179.0,664.5 179.7,666.0 180.3,664.6 181.0,661.3 181.7,666.7 182.3,665.0 183.0,663.9 183.6,664.6 184.3,663.6 185.0,666.9 185.6,663.6 186.3,666.2 186.9,666.6 187.6,664.3 188.3,664.5 188.9,666.1 189.6,666.3 190.2,665.5 190.9,665.3 191.6,665.6 192.2,666.7 192.9,668.5 193.5,663.8 194.2,665.3 194.8,667.2 195.5,667.7 196.2,666.6 196.8,666.2 197.5,668.5 198.1,663.9 198.8,665.3 199.5,666.3 200.1,665.5 200.8,665.7 201.4,664.6 202.1,665.8 202.8,664.4 203.4,664.1 204.1,666.6 204.7,666.8 205.4,667.4 206.0,666.6 206.7,667.3 207.4,666.4 208.0,666.0 208.7,665.8 209.3,668.0 210.0,665.1 210.7,667.0 211.3,666.8 212.0,667.4 212.6,669.4 213.3,666.4 214.0,669.1 214.6,665.4 215.3,666.9 215.9,664.9 216.6,666.1 217.3,666.1 217.9,665.3 218.6,667.2 219.2,665.2 219.9,667.4 220.5,666.9 221.2,668.2 221.9,666.6 222.5,666.5 223.2,668.1 223.8,669.2 224.5,667.6 225.2,667.0 225.8,667.8 226.5,668.9 227.1,668.6 227.8,668.1 228.5,671.2 229.1,668.6 229.8,666.0 230.4,669.6 231.1,668.2 231.8,665.8 232.4,667.1 233.1,666.8 233.7,668.3 234.4,669.9 235.0,664.4 235.7,667.8 236.4,667.9 237.0,666.1 237.7,667.3 238.3,668.3 239.0,669.8 239.7,668.6 240.3,668.7 241.0,669.4 241.6,669.7 242.3,669.9 243.0,668.8 243.6,669.4 244.3,668.2 244.9,667.4 245.6,668.4 246.3,668.8 246.9,666.8 247.6,668.0 248.2,670.9 248.9,669.9 249.5,668.8 250.2,670.2 250.9,668.1 251.5,671.4 252.2,671.7 252.8,667.9 253.5,668.5 254.2,671.4 254.8,669.2 255.5,667.6 256.1,670.9 256.8,671.0 257.5,671.1 258.1,670.8 258.8,671.8 259.4,670.2 260.1,671.5 260.7,669.6 261.4,666.8 262.1,671.1 262.7,668.6 263.4,668.3 264.0,672.9 264.7,669.8 265.4,670.0 266.0,670.4 266.7,669.0 267.3,670.6 268.0,669.6 268.0,674.8 267.3,675.8 266.7,674.2 266.0,675.6 265.4,675.2 264.7,675.0 264.0,678.1 263.4,673.5 262.7,673.8 262.1,676.3 261.4,672.0 260.7,674.8 260.1,676.7 259.4,675.4 258.8,677.0 258.1,676.0 257.5,676.3 256.8,676.2 256.1,676.1 255.5,672.8 254.8,674.4 254.2,676.6 253.5,673.7 252.8,673.1 252.2,676.9 251.5,676.6 250.9,673.3 250.2,675.4 249.5,674.0 248.9,675.1 248.2,676.1 247.6,673.2 246.9,672.0 246.3,674.0 245.6,673.6 244.9,672.6 244.3,673.4 243.6,674.6 243.0,674.0 242.3,675.1 241.6,674.9 241.0,674.6 240.3,673.9 239.7,673.8 239.0,675.0 238.3,673.5 237.7,672.5 237.0,671.3 236.4,673.1 235.7,673.0 235.0,669.6 234.4,675.1 233.7,673.5 233.1,672.0 232.4,672.3 231.8,671.0 231.1,673.4 230.4,674.8 229.8,671.2 229.1,673.8 228.5,676.4 227.8,673.3 227.1,673.8 226.5,674.1 225.8,673.0 225.2,672.2 224.5,672.8 223.8,674.4 223.2,673.3 222.5,671.7 221.9,671.8 221.2,673.4 220.5,672.1 219.9,672.6 219.2,670.4 218.6,672.4 217.9,670.5 217.3,671.3 216.6,671.3 215.9,670.1 215.3,672.1 214.6,670.6 214.0,674.3 213.3,671.6 212.6,674.6 212.0,672.6 211.3,672.0 210.7,672.2 210.0,670.3 209.3,673.2 208.7,671.0 208.0,671.2 207.4,671.6 206.7,672.5 206.0,671.8 205.4,672.6 204.7,672.0 204.1,671.8 203.4,669.3 202.8,669.6 202.1,671.0 201.4,669.8 200.8,670.9 200.1,670.7 199.5,671.5 198.8,670.5 198.1,669.1 197.5,673.7 196.8,671.4 196.2,671.8 195.5,672.9 194.8,672.4 194.2,670.5 193.5,669.0 192.9,673.7 192.2,671.9 191.6,670.8 190.9,670.5 190.2,670.7 189.6,671.5 188.9,671.3 188.3,669.7 187.6,669.5 186.9,671.8 186.3,671.4 185.6,668.8 185.0,672.1 184.3,668.8 183.6,669.8 183.0,669.1 182.3,670.2 181.7,671.9 181.0,666.5 180.3,669.8 179.7,671.2 179.0,669.7 178.4,671.8 177.7,666.5 177.1,669.0 176.4,668.4 175.7,669.0 175.1,670.0 174.4,668.2 173.8,669.3 173.1,669.6 172.4,668.9 171.8,670.6 171.1,668.8 170.5,668.0 169.8,666.8 169.1,669.4 168.5,668.3 167.8,668.1 167.2,669.4 166.5,669.7 165.8,667.5 165.2,669.0 164.5,666.8 163.9,666.3 163.2,671.7 162.6,670.4 161.9,665.7 161.2,670.1 160.6,669.0 159.9,669.4 159.3,667.9 158.6,667.1 157.9,665.8 157.3,667.3 156.6,668.1 156.0,666.3 155.3,668.8 154.6,665.2 154.0,669.4 153.3,666.8 152.7,667.2 152.0,668.1 151.3,669.1 150.7,665.6 150.0,667.0 149.4,667.9 148.7,669.2 148.1,667.1 147.4,668.6 146.7,671.1 146.1,667.8 145.4,666.8 144.8,666.3 144.1,666.8 143.4,665.4 142.8,666.3 142.1,667.8 141.5,665.9 140.8,667.5 140.1,667.7 139.5,663.8 138.8,666.8 138.2,665.4 137.5,664.5 136.8,664.3 136.2,666.2 135.5,666.8 134.9,667.0 134.2,664.5 133.6,664.9 132.9,661.4 132.2,664.8 131.6,663.6 130.9,664.3 130.3,662.7 129.6,662.8 128.9,662.8 128.3,661.5 127.6,663.4 127.0,661.8 126.3,663.7 125.6,659.8 125.0,659.6 124.3,659.5 123.7,660.0 123.0,661.6 122.4,659.9 121.7,660.9 121.0,661.5 120.4,660.4 119.7,659.4 119.1,661.7 118.4,659.0 117.7,660.1 117.1,657.8 116.4,659.5 115.8,659.7 115.1,660.5 114.4,659.2 113.8,659.5 113.1,659.7 112.5,659.6 111.8,658.7 111.1,660.4 110.5,661.7 109.8,662.5 109.2,660.8 108.5,660.2 107.9,663.5 107.2,666.6 106.5,667.9 105.9,666.6 105.2,668.7 104.6,669.6 103.9,670.8 103.2,671.0 102.6,671.1 101.9,671.3 101.3,671.5 100.6,671.7 99.9,671.9 99.3,672.0 98.6,672.2 98.0,672.4 97.3,672.6 96.6,672.7 96.0,672.9 95.3,673.1 94.7,673.3 94.0,673.5 93.4,673.6 92.7,673.8 92.0,674.0 91.4,674.2 90.7,674.4 90.1,674.5 89.4,674.7 88.7,674.9 88.1,675.1 87.4,675.3 86.8,675.4 86.1,675.6 85.4,675.8 84.8,676.0 84.1,676.1 83.5,676.3 82.8,676.5 82.1,676.7 81.5,676.9 80.8,677.0 80.2,677.2 79.5,677.4 78.9,677.6 78.2,677.8 77.5,677.9 76.9,678.1 76.2,678.3 75.6,678.5 74.9,678.6" fill="#f6bf28" stroke="none" stroke-width="0" />
<polyline points="74.9,677.0 76.5,677.3 78.2,677.5 79.8,677.8 81.5,678.1 83.1,678.4 84.8,678.7 86.4,678.9 88.1,679.2 89.7,679.5 91.4,679.8 93.0,680.1 94.7,680.3 96.3,680.6 98.0,680.9 99.6,681.2 101.3,681.5 102.9,681.7 104.3,681.9" fill="none" stroke="#fb2c62" stroke-width="1.3" stroke-linejoin="round" />
<polygon points="104.3,680.9 104.8,672.1 106.2,661.0 107.0,660.0 107.8,658.9 108.6,658.0 109.4,657.2 110.2,656.6 111.0,656.0 111.8,655.2 112.6,654.4 113.4,653.5 114.3,652.4 115.1,651.1 115.9,649.4 116.7,647.3 117.5,645.0 118.3,642.5 119.1,640.1 119.9,637.8 120.7,635.3 121.5,632.7 122.3,630.0 123.1,627.5 123.9,625.2 124.7,623.3 125.5,621.4 126.3,619.7 127.1,618.0 127.9,616.4 128.7,614.8 129.5,613.3 130.3,611.9 131.1,610.5 132.0,609.1 132.8,607.8 133.6,606.5 134.4,605.2 135.2,603.9 136.0,602.7 136.8,601.4 137.6,600.2 138.4,599.0 139.2,597.9 140.0,596.8 140.8,595.7 141.6,594.7 142.4,593.8 143.2,592.9 144.0,592.1 144.8,591.3 145.6,590.5 146.4,589.7 147.2,588.9 148.0,588.2 148.8,587.5 149.7,586.8 150.5,586.2 151.3,585.5 152.1,584.9 152.9,584.4 153.7,583.9 154.5,583.4 155.3,583.0 156.1,582.6 156.9,582.2 157.7,581.9 158.5,581.6 159.3,581.2 160.1,580.9 160.9,580.6 161.7,580.4 162.5,580.1 163.3,579.8 164.1,579.6 164.9,579.3 165.7,579.1 166.5,578.9 167.4,578.7 168.2,578.5 169.0,578.3 169.8,578.2 170.6,578.1 171.4,578.0 172.2,577.9 173.0,577.9 173.8,577.8 174.6,577.8 175.4,577.7 176.2,577.6 177.0,577.6 177.8,577.5 178.6,577.5 179.4,577.4 180.2,577.4 181.0,577.3 181.8,577.3 182.6,577.3 183.4,577.2 184.2,577.2 185.1,577.1 185.9,577.1 186.7,577.1 187.5,577.0 188.3,577.0 189.1,577.0 189.9,577.0 190.7,577.0 191.5,577.0 192.3,576.9 193.1,576.9 193.9,576.9 194.7,576.9 195.5,576.9 196.3,577.0 197.1,577.0 197.9,577.1 198.7,577.2 199.5,577.3 200.3,577.4 201.1,577.5 201.9,577.7 202.8,577.9 203.6,578.1 204.4,578.3 205.2,578.5 206.0,578.7 206.8,578.9 207.6,579.2 208.4,579.4 209.2,579.7 210.0,579.9 210.8,580.2 211.6,580.4 212.4,580.7 213.2,581.0 214.0,581.2 214.8,581.5 215.6,581.7 216.4,582.0 217.2,582.2 218.0,582.5 218.8,582.7 219.6,582.9 220.5,583.1 221.3,583.3 222.1,583.5 222.9,583.7 223.7,583.9 224.5,584.1 225.3,584.3 226.1,584.5 226.9,584.7 227.7,584.9 228.5,585.1 229.3,585.3 230.1,585.5 230.9,585.7 231.7,585.9 232.5,586.1 233.3,586.3 234.1,586.5 234.9,586.7 235.7,586.9 236.5,587.1 237.4,587.3 238.2,587.5 239.0,587.7 239.8,587.9 240.6,588.1 241.4,588.3 242.2,588.6 243.0,588.8 243.8,589.0 244.6,589.2 245.4,589.5 246.2,589.7 247.0,589.9 247.8,590.2 248.6,590.4 249.4,590.7 250.2,590.9 251.0,591.2 251.8,591.4 252.6,591.7 253.4,592.0 254.2,592.2 255.1,592.5 255.9,592.8 256.7,593.1 257.5,593.3 258.3,593.6 259.1,593.9 259.9,594.2 260.7,594.5 261.5,594.7 262.3,595.0 263.1,595.3 263.9,595.6 264.7,595.8 265.5,596.1 266.3,596.4 266.3,604.4 265.5,604.1 264.7,603.8 263.9,603.6 263.1,603.3 262.3,603.0 261.5,602.7 260.7,602.5 259.9,602.2 259.1,601.9 258.3,601.6 257.5,601.3 256.7,601.1 255.9,600.8 255.1,600.5 254.2,600.2 253.4,600.0 252.6,599.7 251.8,599.4 251.0,599.2 250.2,598.9 249.4,598.7 248.6,598.4 247.8,598.2 247.0,597.9 246.2,597.7 245.4,597.5 244.6,597.2 243.8,597.0 243.0,596.8 242.2,596.6 241.4,596.3 240.6,596.1 239.8,595.9 239.0,595.7 238.2,595.5 237.4,595.3 236.5,595.1 235.7,594.9 234.9,594.7 234.1,594.5 233.3,594.3 232.5,594.1 231.7,593.9 230.9,593.7 230.1,593.5 229.3,593.3 228.5,593.1 227.7,592.9 226.9,592.7 226.1,592.5 225.3,592.3 224.5,592.1 223.7,591.9 222.9,591.7 222.1,591.5 221.3,591.3 220.5,591.1 219.6,590.9 218.8,590.7 218.0,590.5 217.2,590.2 216.4,590.0 215.6,589.7 214.8,589.5 214.0,589.2 213.2,589.0 212.4,588.7 211.6,588.4 210.8,588.2 210.0,587.9 209.2,587.7 208.4,587.4 207.6,587.2 206.8,586.9 206.0,586.7 205.2,586.5 204.4,586.3 203.6,586.1 202.8,585.9 201.9,585.7 201.1,585.5 200.3,585.4 199.5,585.3 198.7,585.2 197.9,585.1 197.1,585.0 196.3,585.0 195.5,584.9 194.7,584.9 193.9,584.9 193.1,584.9 192.3,584.9 191.5,585.0 190.7,585.0 189.9,585.0 189.1,585.0 188.3,585.0 187.5,585.0 186.7,585.1 185.9,585.1 185.1,585.1 184.2,585.2 183.4,585.2 182.6,585.3 181.8,585.3 181.0,585.3 180.2,585.4 179.4,585.4 178.6,585.5 177.8,585.5 177.0,585.6 176.2,585.6 175.4,585.7 174.6,585.8 173.8,585.8 173.0,585.9 172.2,585.9 171.4,586.0 170.6,586.1 169.8,586.2 169.0,586.3 168.2,586.5 167.4,586.6 166.5,586.7 165.7,586.9 164.9,587.0 164.1,587.2 163.3,587.4 162.5,587.6 161.7,587.8 160.9,588.0 160.1,588.2 159.3,588.4 158.5,588.7 157.7,588.9 156.9,589.2 156.1,589.4 155.3,589.7 154.5,590.1 153.7,590.5 152.9,591.0 152.1,591.4 151.3,592.0 150.5,592.5 149.7,593.1 148.8,593.7 148.0,594.3 147.2,595.0 146.4,595.7 145.6,596.4 144.8,597.1 144.0,597.8 143.2,598.6 142.4,599.4 141.6,600.2 140.8,601.2 140.0,602.2 139.2,603.2 138.4,604.3 137.6,605.4 136.8,606.5 136.0,607.7 135.2,608.9 134.4,610.1 133.6,611.3 132.8,612.5 132.0,613.8 131.1,615.1 130.3,616.4 129.5,617.7 128.7,619.2 127.9,620.6 127.1,622.2 126.3,623.8 125.5,625.4 124.7,627.2 123.9,629.1 123.1,631.3 122.3,633.8 121.5,636.3 120.7,638.9 119.9,641.3 119.1,643.5 118.3,645.9 117.5,648.3 116.7,650.5 115.9,652.5 115.1,654.2 114.3,655.4 113.4,656.4 112.6,657.3 111.8,658.0 111.0,658.7 110.2,659.3 109.4,659.8 108.6,660.5 107.8,661.3 107.0,662.4 106.2,663.4 104.8,677.0 104.3,682.9" fill="#fc346a" stroke="none" stroke-width="0" />
<line x1="156.6" y1="626.3" x2="166.4" y2="626.3" stroke="#fb2c62" stroke-width="2.4" />
<line x1="156.6" y1="635.7" x2="166.4" y2="635.7" stroke="#f6bf28" stroke-width="2.4" />
<text x="169.1" y="630.1" font-size="10.6" fill="#111">PGE<tspan font-size="7" dy="2">2</tspan><tspan dy="-2"> (No light)</tspan></text>
<text x="169.1" y="639.5" font-size="10.6" fill="#111">PGE<tspan font-size="7" dy="2">2</tspan><tspan dy="-2"> (light)</tspan></text>
<text x="269.8" y="698.6" font-size="10.6" text-anchor="end" fill="#111" >AKAP79-LAPD</text>
<line x1="297.5" y1="573.3" x2="297.5" y2="706.3" stroke="#222" stroke-width="1" />
<line x1="293.5" y1="706.3" x2="297.5" y2="706.3" stroke="#222" stroke-width="1" />
<text x="292.7" y="710.1" font-size="10.5" text-anchor="end" fill="#111" >0</text>
<line x1="293.5" y1="673.1" x2="297.5" y2="673.1" stroke="#222" stroke-width="1" />
<text x="292.7" y="676.8" font-size="10.5" text-anchor="end" fill="#111" >2</text>
<line x1="293.5" y1="639.8" x2="297.5" y2="639.8" stroke="#222" stroke-width="1" />
<text x="292.7" y="643.6" font-size="10.5" text-anchor="end" fill="#111" >4</text>
<line x1="293.5" y1="606.6" x2="297.5" y2="606.6" stroke="#222" stroke-width="1" />
<text x="292.7" y="610.4" font-size="10.5" text-anchor="end" fill="#111" >6</text>
<line x1="293.5" y1="573.3" x2="297.5" y2="573.3" stroke="#222" stroke-width="1" />
<text x="292.7" y="577.1" font-size="10.5" text-anchor="end" fill="#111" >8</text>
<text x="278.7" y="641.8" font-size="10.6" text-anchor="middle" fill="#111" transform="rotate(-90 278.7 638.0)" >AUC (x100)</text>
<rect x="301.3" y="673.6" width="15.7" height="32.7" fill="#ee2a5c" stroke="#333" stroke-width="0.6"/>
<rect x="319.2" y="695.8" width="16.3" height="10.5" fill="#f6bf28" stroke="#333" stroke-width="0.6"/>
<circle cx="309.2" cy="703.9" r="1.8" fill="white" stroke="#3a3a3a" stroke-width="0.75"/>
<circle cx="305.7" cy="703.2" r="1.8" fill="white" stroke="#3a3a3a" stroke-width="0.75"/>
<circle cx="312.7" cy="702.9" r="1.8" fill="white" stroke="#3a3a3a" stroke-width="0.75"/>
<circle cx="302.7" cy="702.5" r="1.8" fill="white" stroke="#3a3a3a" stroke-width="0.75"/>
<circle cx="309.2" cy="700.4" r="1.8" fill="white" stroke="#3a3a3a" stroke-width="0.75"/>
<circle cx="314.7" cy="700.2" r="1.8" fill="white" stroke="#3a3a3a" stroke-width="0.75"/>
<circle cx="305.7" cy="699.7" r="1.8" fill="white" stroke="#3a3a3a" stroke-width="0.75"/>
<circle cx="310.7" cy="697.5" r="1.8" fill="white" stroke="#3a3a3a" stroke-width="0.75"/>
<circle cx="314.2" cy="696.8" r="1.8" fill="white" stroke="#3a3a3a" stroke-width="0.75"/>
<circle cx="307.2" cy="696.3" r="1.8" fill="white" stroke="#3a3a3a" stroke-width="0.75"/>
<circle cx="303.7" cy="696.1" r="1.8" fill="white" stroke="#3a3a3a" stroke-width="0.75"/>
<circle cx="312.2" cy="695.5" r="1.8" fill="white" stroke="#3a3a3a" stroke-width="0.75"/>
<circle cx="309.7" cy="695.3" r="1.8" fill="white" stroke="#3a3a3a" stroke-width="0.75"/>
<circle cx="315.7" cy="694.9" r="1.8" fill="white" stroke="#3a3a3a" stroke-width="0.75"/>
<circle cx="305.7" cy="694.3" r="1.8" fill="white" stroke="#3a3a3a" stroke-width="0.75"/>
<circle cx="302.7" cy="694.3" r="1.8" fill="white" stroke="#3a3a3a" stroke-width="0.75"/>
<circle cx="313.7" cy="693.7" r="1.8" fill="white" stroke="#3a3a3a" stroke-width="0.75"/>
<circle cx="308.2" cy="693.7" r="1.8" fill="white" stroke="#3a3a3a" stroke-width="0.75"/>
<circle cx="311.2" cy="692.6" r="1.8" fill="white" stroke="#3a3a3a" stroke-width="0.75"/>
<circle cx="304.2" cy="692.5" r="1.8" fill="white" stroke="#3a3a3a" stroke-width="0.75"/>
<circle cx="315.7" cy="691.2" r="1.8" fill="white" stroke="#3a3a3a" stroke-width="0.75"/>
<circle cx="306.7" cy="690.8" r="1.8" fill="white" stroke="#3a3a3a" stroke-width="0.75"/>
<circle cx="313.2" cy="690.6" r="1.8" fill="white" stroke="#3a3a3a" stroke-width="0.75"/>
<circle cx="309.7" cy="690.4" r="1.8" fill="white" stroke="#3a3a3a" stroke-width="0.75"/>
<circle cx="302.7" cy="689.9" r="1.8" fill="white" stroke="#3a3a3a" stroke-width="0.75"/>
<circle cx="304.7" cy="689.7" r="1.8" fill="white" stroke="#3a3a3a" stroke-width="0.75"/>
<circle cx="315.2" cy="688.8" r="1.8" fill="white" stroke="#3a3a3a" stroke-width="0.75"/>
<circle cx="311.7" cy="687.9" r="1.8" fill="white" stroke="#3a3a3a" stroke-width="0.75"/>
<circle cx="308.2" cy="687.1" r="1.8" fill="white" stroke="#3a3a3a" stroke-width="0.75"/>
<circle cx="303.2" cy="686.7" r="1.8" fill="white" stroke="#3a3a3a" stroke-width="0.75"/>
<circle cx="314.2" cy="686.3" r="1.8" fill="white" stroke="#3a3a3a" stroke-width="0.75"/>
<circle cx="305.7" cy="685.4" r="1.8" fill="white" stroke="#3a3a3a" stroke-width="0.75"/>
<circle cx="310.7" cy="685.2" r="1.8" fill="white" stroke="#3a3a3a" stroke-width="0.75"/>
<circle cx="308.2" cy="684.9" r="1.8" fill="white" stroke="#3a3a3a" stroke-width="0.75"/>
<circle cx="315.7" cy="684.2" r="1.8" fill="white" stroke="#3a3a3a" stroke-width="0.75"/>
<circle cx="302.7" cy="684.0" r="1.8" fill="white" stroke="#3a3a3a" stroke-width="0.75"/>
<circle cx="312.7" cy="683.2" r="1.8" fill="white" stroke="#3a3a3a" stroke-width="0.75"/>
<circle cx="306.2" cy="683.1" r="1.8" fill="white" stroke="#3a3a3a" stroke-width="0.75"/>
<circle cx="309.7" cy="682.9" r="1.8" fill="white" stroke="#3a3a3a" stroke-width="0.75"/>
<circle cx="304.2" cy="682.4" r="1.8" fill="white" stroke="#3a3a3a" stroke-width="0.75"/>
<circle cx="314.7" cy="682.3" r="1.8" fill="white" stroke="#3a3a3a" stroke-width="0.75"/>
<circle cx="307.7" cy="681.7" r="1.8" fill="white" stroke="#3a3a3a" stroke-width="0.75"/>
<circle cx="311.2" cy="681.3" r="1.8" fill="white" stroke="#3a3a3a" stroke-width="0.75"/>
<circle cx="305.7" cy="681.1" r="1.8" fill="white" stroke="#3a3a3a" stroke-width="0.75"/>
<circle cx="302.7" cy="680.6" r="1.8" fill="white" stroke="#3a3a3a" stroke-width="0.75"/>
<circle cx="313.7" cy="680.2" r="1.8" fill="white" stroke="#3a3a3a" stroke-width="0.75"/>
<circle cx="309.2" cy="679.9" r="1.8" fill="white" stroke="#3a3a3a" stroke-width="0.75"/>
<circle cx="315.7" cy="679.4" r="1.8" fill="white" stroke="#3a3a3a" stroke-width="0.75"/>
<circle cx="306.7" cy="678.9" r="1.8" fill="white" stroke="#3a3a3a" stroke-width="0.75"/>
<circle cx="311.7" cy="677.9" r="1.8" fill="white" stroke="#3a3a3a" stroke-width="0.75"/>
<circle cx="303.7" cy="677.8" r="1.8" fill="white" stroke="#3a3a3a" stroke-width="0.75"/>
<circle cx="314.2" cy="677.6" r="1.8" fill="white" stroke="#3a3a3a" stroke-width="0.75"/>
<circle cx="308.7" cy="677.5" r="1.8" fill="white" stroke="#3a3a3a" stroke-width="0.75"/>
<circle cx="305.7" cy="677.5" r="1.8" fill="white" stroke="#3a3a3a" stroke-width="0.75"/>
<circle cx="310.7" cy="675.3" r="1.8" fill="white" stroke="#3a3a3a" stroke-width="0.75"/>
<circle cx="302.7" cy="674.8" r="1.8" fill="white" stroke="#3a3a3a" stroke-width="0.75"/>
<circle cx="307.2" cy="674.2" r="1.8" fill="white" stroke="#3a3a3a" stroke-width="0.75"/>
<circle cx="313.2" cy="672.9" r="1.8" fill="white" stroke="#3a3a3a" stroke-width="0.75"/>
<circle cx="304.7" cy="672.8" r="1.8" fill="white" stroke="#3a3a3a" stroke-width="0.75"/>
<circle cx="309.7" cy="672.2" r="1.8" fill="white" stroke="#3a3a3a" stroke-width="0.75"/>
<circle cx="315.7" cy="672.1" r="1.8" fill="white" stroke="#3a3a3a" stroke-width="0.75"/>
<circle cx="307.2" cy="671.7" r="1.8" fill="white" stroke="#3a3a3a" stroke-width="0.75"/>
<circle cx="302.7" cy="671.5" r="1.8" fill="white" stroke="#3a3a3a" stroke-width="0.75"/>
<circle cx="311.7" cy="671.0" r="1.8" fill="white" stroke="#3a3a3a" stroke-width="0.75"/>
<circle cx="305.2" cy="670.3" r="1.8" fill="white" stroke="#3a3a3a" stroke-width="0.75"/>
<circle cx="314.2" cy="670.2" r="1.8" fill="white" stroke="#3a3a3a" stroke-width="0.75"/>
<circle cx="309.2" cy="669.6" r="1.8" fill="white" stroke="#3a3a3a" stroke-width="0.75"/>
<circle cx="309.2" cy="666.0" r="1.8" fill="white" stroke="#3a3a3a" stroke-width="0.75"/>
<circle cx="305.7" cy="665.4" r="1.8" fill="white" stroke="#3a3a3a" stroke-width="0.75"/>
<circle cx="312.2" cy="664.4" r="1.8" fill="white" stroke="#3a3a3a" stroke-width="0.75"/>
<circle cx="309.2" cy="662.3" r="1.8" fill="white" stroke="#3a3a3a" stroke-width="0.75"/>
<circle cx="305.7" cy="661.9" r="1.8" fill="white" stroke="#3a3a3a" stroke-width="0.75"/>
<circle cx="312.7" cy="661.0" r="1.8" fill="white" stroke="#3a3a3a" stroke-width="0.75"/>
<circle cx="302.7" cy="660.2" r="1.8" fill="white" stroke="#3a3a3a" stroke-width="0.75"/>
<circle cx="315.7" cy="659.8" r="1.8" fill="white" stroke="#3a3a3a" stroke-width="0.75"/>
<circle cx="309.2" cy="656.4" r="1.8" fill="white" stroke="#3a3a3a" stroke-width="0.75"/>
<circle cx="306.7" cy="653.8" r="1.8" fill="white" stroke="#3a3a3a" stroke-width="0.75"/>
<circle cx="309.7" cy="652.0" r="1.8" fill="white" stroke="#3a3a3a" stroke-width="0.75"/>
<circle cx="313.2" cy="651.7" r="1.8" fill="white" stroke="#3a3a3a" stroke-width="0.75"/>
<circle cx="306.7" cy="650.3" r="1.8" fill="white" stroke="#3a3a3a" stroke-width="0.75"/>
<circle cx="309.2" cy="648.1" r="1.8" fill="white" stroke="#3a3a3a" stroke-width="0.75"/>
<circle cx="309.2" cy="641.5" r="1.8" fill="white" stroke="#3a3a3a" stroke-width="0.75"/>
<circle cx="309.2" cy="638.2" r="1.8" fill="white" stroke="#3a3a3a" stroke-width="0.75"/>
<circle cx="309.2" cy="634.8" r="1.8" fill="white" stroke="#3a3a3a" stroke-width="0.75"/>
<circle cx="309.2" cy="614.9" r="1.8" fill="white" stroke="#3a3a3a" stroke-width="0.75"/>
<circle cx="309.2" cy="581.6" r="1.8" fill="white" stroke="#3a3a3a" stroke-width="0.75"/>
<circle cx="327.3" cy="705.9" r="1.8" fill="white" stroke="#3a3a3a" stroke-width="0.75"/>
<circle cx="324.3" cy="704.4" r="1.8" fill="white" stroke="#3a3a3a" stroke-width="0.75"/>
<circle cx="330.3" cy="704.3" r="1.8" fill="white" stroke="#3a3a3a" stroke-width="0.75"/>
<circle cx="320.8" cy="704.3" r="1.8" fill="white" stroke="#3a3a3a" stroke-width="0.75"/>
<circle cx="333.8" cy="704.3" r="1.8" fill="white" stroke="#3a3a3a" stroke-width="0.75"/>
<circle cx="326.3" cy="704.2" r="1.8" fill="white" stroke="#3a3a3a" stroke-width="0.75"/>
<circle cx="328.3" cy="703.3" r="1.8" fill="white" stroke="#3a3a3a" stroke-width="0.75"/>
<circle cx="322.8" cy="702.8" r="1.8" fill="white" stroke="#3a3a3a" stroke-width="0.75"/>
<circle cx="331.8" cy="702.7" r="1.8" fill="white" stroke="#3a3a3a" stroke-width="0.75"/>
<circle cx="325.3" cy="702.0" r="1.8" fill="white" stroke="#3a3a3a" stroke-width="0.75"/>
<circle cx="320.8" cy="701.9" r="1.8" fill="white" stroke="#3a3a3a" stroke-width="0.75"/>
<circle cx="333.8" cy="701.8" r="1.8" fill="white" stroke="#3a3a3a" stroke-width="0.75"/>
<circle cx="329.8" cy="700.6" r="1.8" fill="white" stroke="#3a3a3a" stroke-width="0.75"/>
<circle cx="323.3" cy="699.6" r="1.8" fill="white" stroke="#3a3a3a" stroke-width="0.75"/>
<circle cx="326.8" cy="699.2" r="1.8" fill="white" stroke="#3a3a3a" stroke-width="0.75"/>
<circle cx="332.3" cy="698.3" r="1.8" fill="white" stroke="#3a3a3a" stroke-width="0.75"/>
<circle cx="320.8" cy="698.3" r="1.8" fill="white" stroke="#3a3a3a" stroke-width="0.75"/>
<circle cx="329.3" cy="698.1" r="1.8" fill="white" stroke="#3a3a3a" stroke-width="0.75"/>
<circle cx="324.8" cy="698.1" r="1.8" fill="white" stroke="#3a3a3a" stroke-width="0.75"/>
<circle cx="322.8" cy="697.8" r="1.8" fill="white" stroke="#3a3a3a" stroke-width="0.75"/>
<circle cx="327.3" cy="697.6" r="1.8" fill="white" stroke="#3a3a3a" stroke-width="0.75"/>
<circle cx="333.8" cy="697.5" r="1.8" fill="white" stroke="#3a3a3a" stroke-width="0.75"/>
<circle cx="330.8" cy="697.1" r="1.8" fill="white" stroke="#3a3a3a" stroke-width="0.75"/>
<circle cx="325.8" cy="696.8" r="1.8" fill="white" stroke="#3a3a3a" stroke-width="0.75"/>
<circle cx="321.3" cy="696.7" r="1.8" fill="white" stroke="#3a3a3a" stroke-width="0.75"/>
<circle cx="328.8" cy="696.4" r="1.8" fill="white" stroke="#3a3a3a" stroke-width="0.75"/>
<circle cx="323.8" cy="696.1" r="1.8" fill="white" stroke="#3a3a3a" stroke-width="0.75"/>
<circle cx="332.8" cy="696.0" r="1.8" fill="white" stroke="#3a3a3a" stroke-width="0.75"/>
<circle cx="327.3" cy="695.7" r="1.8" fill="white" stroke="#3a3a3a" stroke-width="0.75"/>
<circle cx="330.3" cy="695.4" r="1.8" fill="white" stroke="#3a3a3a" stroke-width="0.75"/>
<circle cx="322.3" cy="695.4" r="1.8" fill="white" stroke="#3a3a3a" stroke-width="0.75"/>
<circle cx="325.3" cy="694.9" r="1.8" fill="white" stroke="#3a3a3a" stroke-width="0.75"/>
<circle cx="333.8" cy="694.6" r="1.8" fill="white" stroke="#3a3a3a" stroke-width="0.75"/>
<circle cx="328.8" cy="694.5" r="1.8" fill="white" stroke="#3a3a3a" stroke-width="0.75"/>
<circle cx="331.8" cy="694.2" r="1.8" fill="white" stroke="#3a3a3a" stroke-width="0.75"/>
<circle cx="320.8" cy="694.1" r="1.8" fill="white" stroke="#3a3a3a" stroke-width="0.75"/>
<circle cx="323.3" cy="693.2" r="1.8" fill="white" stroke="#3a3a3a" stroke-width="0.75"/>
<circle cx="326.8" cy="692.8" r="1.8" fill="white" stroke="#3a3a3a" stroke-width="0.75"/>
<circle cx="330.3" cy="692.8" r="1.8" fill="white" stroke="#3a3a3a" stroke-width="0.75"/>
<circle cx="333.3" cy="692.5" r="1.8" fill="white" stroke="#3a3a3a" stroke-width="0.75"/>
<circle cx="321.3" cy="691.7" r="1.8" fill="white" stroke="#3a3a3a" stroke-width="0.75"/>
<circle cx="324.8" cy="691.6" r="1.8" fill="white" stroke="#3a3a3a" stroke-width="0.75"/>
<circle cx="327.3" cy="689.2" r="1.8" fill="white" stroke="#3a3a3a" stroke-width="0.75"/>
<circle cx="330.8" cy="689.1" r="1.8" fill="white" stroke="#3a3a3a" stroke-width="0.75"/>
<circle cx="327.3" cy="681.5" r="1.8" fill="white" stroke="#3a3a3a" stroke-width="0.75"/>
<circle cx="327.3" cy="676.4" r="1.8" fill="white" stroke="#3a3a3a" stroke-width="0.75"/>
<circle cx="324.3" cy="674.7" r="1.8" fill="white" stroke="#3a3a3a" stroke-width="0.75"/>
<circle cx="327.3" cy="673.1" r="1.8" fill="white" stroke="#3a3a3a" stroke-width="0.75"/>
<circle cx="327.3" cy="664.8" r="1.8" fill="white" stroke="#3a3a3a" stroke-width="0.75"/>
<line x1="305.2" y1="673.6" x2="313.2" y2="673.6" stroke="#111" stroke-width="1.2" />
<line x1="309.2" y1="675.6" x2="309.2" y2="671.4" stroke="#111" stroke-width="1" />
<line x1="306.7" y1="671.4" x2="311.7" y2="671.4" stroke="#111" stroke-width="1" />
<line x1="323.3" y1="695.8" x2="331.3" y2="695.8" stroke="#111" stroke-width="1.2" />
<line x1="327.3" y1="697.2" x2="327.3" y2="694.3" stroke="#111" stroke-width="1" />
<line x1="324.8" y1="694.3" x2="329.8" y2="694.3" stroke="#111" stroke-width="1" />
<text x="320.0" y="569.1" font-size="10.6" text-anchor="middle" fill="#111" >PGE<tspan font-size="7" dy="2">2</tspan></text>
<line x1="309.2" y1="570.5" x2="328.0" y2="570.5" stroke="#444" stroke-width="1" />
<line x1="309.7" y1="577.5" x2="309.7" y2="573.7" stroke="#999" stroke-width="0.8" />
<line x1="309.7" y1="573.7" x2="328.0" y2="573.7" stroke="#999" stroke-width="0.8" />
<line x1="328.0" y1="573.7" x2="328.0" y2="651.7" stroke="#999" stroke-width="0.8" />
<text x="333.0" y="616.3" font-size="9.3" text-anchor="middle" fill="#111" transform="rotate(-90 333.0 613.0)" >&lt;0.0001</text>
<text x="311.5" y="714.7" font-size="10.4" text-anchor="end" fill="#111" transform="rotate(-45 311.5 711.0)" >No light</text>
<text x="331.5" y="714.7" font-size="10.4" text-anchor="end" fill="#111" transform="rotate(-45 331.5 711.0)" >light</text>
<line x1="391.2" y1="574.4" x2="391.2" y2="706.2" stroke="#222" stroke-width="1" />
<line x1="387.2" y1="706.2" x2="391.2" y2="706.2" stroke="#222" stroke-width="1" />
<text x="386.4" y="710.0" font-size="10.5" text-anchor="end" fill="#111" >0.0</text>
<line x1="387.2" y1="673.2" x2="391.2" y2="673.2" stroke="#222" stroke-width="1" />
<text x="386.4" y="677.0" font-size="10.5" text-anchor="end" fill="#111" >0.5</text>
<line x1="387.2" y1="640.3" x2="391.2" y2="640.3" stroke="#222" stroke-width="1" />
<text x="386.4" y="644.1" font-size="10.5" text-anchor="end" fill="#111" >1.0</text>
<line x1="387.2" y1="607.4" x2="391.2" y2="607.4" stroke="#222" stroke-width="1" />
<text x="386.4" y="611.1" font-size="10.5" text-anchor="end" fill="#111" >1.5</text>
<line x1="387.2" y1="574.4" x2="391.2" y2="574.4" stroke="#222" stroke-width="1" />
<text x="386.4" y="578.2" font-size="10.5" text-anchor="end" fill="#111" >2.0</text>
<line x1="391.2" y1="706.2" x2="478.3" y2="706.2" stroke="#222" stroke-width="1" />
<line x1="398.7" y1="706.2" x2="398.7" y2="710.2" stroke="#222" stroke-width="1" />
<line x1="416.9" y1="706.2" x2="416.9" y2="710.2" stroke="#222" stroke-width="1" />
<line x1="434.9" y1="706.2" x2="434.9" y2="710.2" stroke="#222" stroke-width="1" />
<line x1="452.6" y1="706.2" x2="452.6" y2="710.2" stroke="#222" stroke-width="1" />
<line x1="470.0" y1="706.2" x2="470.0" y2="710.2" stroke="#222" stroke-width="1" />
<text x="396.7" y="720.5" font-size="10.5" text-anchor="middle" fill="#111" >BL</text>
<text x="416.9" y="720.5" font-size="10.5" text-anchor="middle" fill="#111" >1</text>
<text x="434.9" y="720.5" font-size="10.5" text-anchor="middle" fill="#111" >3</text>
<text x="452.6" y="720.5" font-size="10.5" text-anchor="middle" fill="#111" >6</text>
<text x="470.0" y="720.5" font-size="10.5" text-anchor="middle" fill="#111" >24</text>
<line x1="398.7" y1="609.3" x2="398.7" y2="607.4" stroke="#b4b4b4" stroke-width="0.8" />
<line x1="396.9" y1="607.4" x2="400.5" y2="607.4" stroke="#b4b4b4" stroke-width="0.8" />
<line x1="416.9" y1="611.3" x2="416.9" y2="608.7" stroke="#b4b4b4" stroke-width="0.8" />
<line x1="415.1" y1="608.7" x2="418.7" y2="608.7" stroke="#b4b4b4" stroke-width="0.8" />
<line x1="434.9" y1="610.0" x2="434.9" y2="608.0" stroke="#b4b4b4" stroke-width="0.8" />
<line x1="433.1" y1="608.0" x2="436.7" y2="608.0" stroke="#b4b4b4" stroke-width="0.8" />
<line x1="452.6" y1="610.0" x2="452.6" y2="606.7" stroke="#b4b4b4" stroke-width="0.8" />
<line x1="450.8" y1="606.7" x2="454.4" y2="606.7" stroke="#b4b4b4" stroke-width="0.8" />
<line x1="470.0" y1="610.6" x2="470.0" y2="608.7" stroke="#b4b4b4" stroke-width="0.8" />
<line x1="468.2" y1="608.7" x2="471.8" y2="608.7" stroke="#b4b4b4" stroke-width="0.8" />
<polyline points="398.7,609.3 416.9,611.3 434.9,610.0 452.6,610.0 470.0,610.6" fill="none" stroke="#b4b4b4" stroke-width="1.1" stroke-linejoin="round" />
<circle cx="398.7" cy="609.3" r="2.3" fill="#b4b4b4" stroke="none" stroke-width="0.8"/>
<circle cx="416.9" cy="611.3" r="2.3" fill="#b4b4b4" stroke="none" stroke-width="0.8"/>
<circle cx="434.9" cy="610.0" r="2.3" fill="#b4b4b4" stroke="none" stroke-width="0.8"/>
<circle cx="452.6" cy="610.0" r="2.3" fill="#b4b4b4" stroke="none" stroke-width="0.8"/>
<circle cx="470.0" cy="610.6" r="2.3" fill="#b4b4b4" stroke="none" stroke-width="0.8"/>
<line x1="398.7" y1="607.4" x2="398.7" y2="605.4" stroke="#888" stroke-width="0.8" />
<line x1="396.9" y1="605.4" x2="400.5" y2="605.4" stroke="#888" stroke-width="0.8" />
<line x1="416.9" y1="639.6" x2="416.9" y2="630.4" stroke="#888" stroke-width="0.8" />
<line x1="415.1" y1="630.4" x2="418.7" y2="630.4" stroke="#888" stroke-width="0.8" />
<line x1="434.9" y1="654.1" x2="434.9" y2="646.9" stroke="#888" stroke-width="0.8" />
<line x1="433.1" y1="646.9" x2="436.7" y2="646.9" stroke="#888" stroke-width="0.8" />
<line x1="452.6" y1="667.3" x2="452.6" y2="662.0" stroke="#888" stroke-width="0.8" />
<line x1="450.8" y1="662.0" x2="454.4" y2="662.0" stroke="#888" stroke-width="0.8" />
<line x1="470.0" y1="628.4" x2="470.0" y2="625.1" stroke="#888" stroke-width="0.8" />
<line x1="468.2" y1="625.1" x2="471.8" y2="625.1" stroke="#888" stroke-width="0.8" />
<polyline points="398.7,607.4 416.9,639.6 434.9,654.1 452.6,667.3 470.0,628.4" fill="none" stroke="#111" stroke-width="1.1" stroke-linejoin="round" />
<circle cx="398.7" cy="607.4" r="2.3" fill="#111" stroke="none" stroke-width="0.8"/>
<circle cx="416.9" cy="639.6" r="2.3" fill="#111" stroke="none" stroke-width="0.8"/>
<circle cx="434.9" cy="654.1" r="2.3" fill="#111" stroke="none" stroke-width="0.8"/>
<circle cx="452.6" cy="667.3" r="2.3" fill="#111" stroke="none" stroke-width="0.8"/>
<circle cx="470.0" cy="628.4" r="2.3" fill="#111" stroke="none" stroke-width="0.8"/>
<line x1="398.7" y1="608.0" x2="398.7" y2="606.0" stroke="#f2a0aa" stroke-width="0.8" />
<line x1="396.9" y1="606.0" x2="400.5" y2="606.0" stroke="#f2a0aa" stroke-width="0.8" />
<line x1="416.9" y1="612.0" x2="416.9" y2="610.0" stroke="#f2a0aa" stroke-width="0.8" />
<line x1="415.1" y1="610.0" x2="418.7" y2="610.0" stroke="#f2a0aa" stroke-width="0.8" />
<line x1="434.9" y1="605.4" x2="434.9" y2="604.1" stroke="#f2a0aa" stroke-width="0.8" />
<line x1="433.1" y1="604.1" x2="436.7" y2="604.1" stroke="#f2a0aa" stroke-width="0.8" />
<line x1="452.6" y1="609.3" x2="452.6" y2="607.4" stroke="#f2a0aa" stroke-width="0.8" />
<line x1="450.8" y1="607.4" x2="454.4" y2="607.4" stroke="#f2a0aa" stroke-width="0.8" />
<line x1="470.0" y1="610.0" x2="470.0" y2="608.0" stroke="#f2a0aa" stroke-width="0.8" />
<line x1="468.2" y1="608.0" x2="471.8" y2="608.0" stroke="#f2a0aa" stroke-width="0.8" />
<polyline points="398.7,608.0 416.9,612.0 434.9,605.4 452.6,609.3 470.0,610.0" fill="none" stroke="#f2a0aa" stroke-width="1.1" stroke-linejoin="round" />
<circle cx="398.7" cy="608.0" r="2.3" fill="#f2a0aa" stroke="none" stroke-width="0.8"/>
<circle cx="416.9" cy="612.0" r="2.3" fill="#f2a0aa" stroke="none" stroke-width="0.8"/>
<circle cx="434.9" cy="605.4" r="2.3" fill="#f2a0aa" stroke="none" stroke-width="0.8"/>
<circle cx="452.6" cy="609.3" r="2.3" fill="#f2a0aa" stroke="none" stroke-width="0.8"/>
<circle cx="470.0" cy="610.0" r="2.3" fill="#f2a0aa" stroke="none" stroke-width="0.8"/>
<line x1="398.7" y1="606.7" x2="398.7" y2="605.4" stroke="#888" stroke-width="0.8" />
<line x1="396.9" y1="605.4" x2="400.5" y2="605.4" stroke="#888" stroke-width="0.8" />
<line x1="416.9" y1="616.6" x2="416.9" y2="614.6" stroke="#888" stroke-width="0.8" />
<line x1="415.1" y1="614.6" x2="418.7" y2="614.6" stroke="#888" stroke-width="0.8" />
<line x1="434.9" y1="627.8" x2="434.9" y2="620.5" stroke="#888" stroke-width="0.8" />
<line x1="433.1" y1="620.5" x2="436.7" y2="620.5" stroke="#888" stroke-width="0.8" />
<line x1="452.6" y1="629.1" x2="452.6" y2="623.8" stroke="#888" stroke-width="0.8" />
<line x1="450.8" y1="623.8" x2="454.4" y2="623.8" stroke="#888" stroke-width="0.8" />
<line x1="470.0" y1="618.6" x2="470.0" y2="615.3" stroke="#888" stroke-width="0.8" />
<line x1="468.2" y1="615.3" x2="471.8" y2="615.3" stroke="#888" stroke-width="0.8" />
<polyline points="398.7,606.7 416.9,616.6 434.9,627.8 452.6,629.1 470.0,618.6" fill="none" stroke="#e8192c" stroke-width="1.1" stroke-linejoin="round" />
<circle cx="398.7" cy="606.7" r="2.3" fill="#e8192c" stroke="none" stroke-width="0.8"/>
<circle cx="416.9" cy="616.6" r="2.3" fill="#e8192c" stroke="none" stroke-width="0.8"/>
<circle cx="434.9" cy="627.8" r="2.3" fill="#e8192c" stroke="none" stroke-width="0.8"/>
<circle cx="452.6" cy="629.1" r="2.3" fill="#e8192c" stroke="none" stroke-width="0.8"/>
<circle cx="470.0" cy="618.6" r="2.3" fill="#e8192c" stroke="none" stroke-width="0.8"/>
<line x1="393.5" y1="564.2" x2="404.0" y2="564.2" stroke="#333" stroke-width="0.9" />
<circle cx="398.8" cy="564.2" r="2.0" fill="#b4b4b4" stroke="none" stroke-width="0.8"/>
<text x="405.2" y="568.1" font-size="10.8" fill="#111">Control/Veh</text>
<line x1="393.5" y1="574.2" x2="404.0" y2="574.2" stroke="#333" stroke-width="0.9" />
<circle cx="398.8" cy="574.2" r="2.0" fill="#111" stroke="none" stroke-width="0.8"/>
<text x="405.2" y="578.1" font-size="10.8" fill="#111">Control/Cg</text>
<line x1="393.5" y1="584.7" x2="404.0" y2="584.7" stroke="#333" stroke-width="0.9" />
<circle cx="398.8" cy="584.7" r="2.0" fill="#f2a0aa" stroke="none" stroke-width="0.8"/>
<text x="405.2" y="588.6" font-size="10.8" fill="#111"><tspan font-style="italic">Plp-AKAP150</tspan>/Veh</text>
<line x1="393.5" y1="594.5" x2="404.0" y2="594.5" stroke="#333" stroke-width="0.9" />
<circle cx="398.8" cy="594.5" r="2.0" fill="#e8192c" stroke="none" stroke-width="0.8"/>
<text x="405.2" y="598.4" font-size="10.8" fill="#111"><tspan font-style="italic">Plp-AKAP150</tspan>/Cg</text>
<text x="417.7" y="624.9" font-size="8" text-anchor="middle" fill="#333" letter-spacing="-1.6">†</text>
<text x="435.7" y="636.7" font-size="8" text-anchor="middle" fill="#333" letter-spacing="-1.6">††</text>
<text x="453.4" y="637.9" font-size="8" text-anchor="middle" fill="#333" letter-spacing="-1.6">††††</text>
<text x="473.0" y="639.3" font-size="8" text-anchor="middle" fill="#222" >**</text>
<text x="416.9" y="653.9" font-size="8" text-anchor="middle" fill="#222" >**</text>
<text x="434.9" y="666.6" font-size="8" text-anchor="middle" fill="#222" >****</text>
<text x="452.6" y="679.3" font-size="8" text-anchor="middle" fill="#222" >****</text>
<line x1="403.6" y1="696.0" x2="403.6" y2="702.0" stroke="#111" stroke-width="1" />
<polygon points="401.6,700.5 405.6,700.5 403.6,704.5" fill="#111" stroke="none" stroke-width="0" />
<text x="416.9" y="701.9" font-size="10.8" fill="#111">AAV-<tspan font-style="italic">AKAP150</tspan></text>
<text x="453.0" y="729.8" font-size="10.6" text-anchor="middle" fill="#111" >Time (h)</text>
<text x="362.8" y="567.6" font-size="15.5" font-weight="bold" fill="#000">k</text>
<text x="364.3" y="644.1" font-size="10.6" text-anchor="middle" fill="#111" transform="rotate(-90 364.3 640.3)" >Threshold (g)</text>
<line x1="537.6" y1="574.4" x2="537.6" y2="706.5" stroke="#222" stroke-width="1" />
<line x1="533.6" y1="706.5" x2="537.6" y2="706.5" stroke="#222" stroke-width="1" />
<text x="532.8" y="710.3" font-size="10.5" text-anchor="end" fill="#111" >0.0</text>
<line x1="533.6" y1="673.5" x2="537.6" y2="673.5" stroke="#222" stroke-width="1" />
<text x="532.8" y="677.3" font-size="10.5" text-anchor="end" fill="#111" >0.5</text>
<line x1="533.6" y1="640.5" x2="537.6" y2="640.5" stroke="#222" stroke-width="1" />
<text x="532.8" y="644.2" font-size="10.5" text-anchor="end" fill="#111" >1.0</text>
<line x1="533.6" y1="607.4" x2="537.6" y2="607.4" stroke="#222" stroke-width="1" />
<text x="532.8" y="611.2" font-size="10.5" text-anchor="end" fill="#111" >1.5</text>
<line x1="533.6" y1="574.4" x2="537.6" y2="574.4" stroke="#222" stroke-width="1" />
<text x="532.8" y="578.2" font-size="10.5" text-anchor="end" fill="#111" >2.0</text>
<line x1="537.6" y1="706.5" x2="622.4" y2="706.5" stroke="#222" stroke-width="1" />
<line x1="542.7" y1="706.5" x2="542.7" y2="710.5" stroke="#222" stroke-width="1" />
<line x1="558.0" y1="706.5" x2="558.0" y2="710.5" stroke="#222" stroke-width="1" />
<line x1="573.9" y1="706.5" x2="573.9" y2="710.5" stroke="#222" stroke-width="1" />
<line x1="589.2" y1="706.5" x2="589.2" y2="710.5" stroke="#222" stroke-width="1" />
<line x1="603.8" y1="706.5" x2="603.8" y2="710.5" stroke="#222" stroke-width="1" />
<line x1="617.3" y1="706.5" x2="617.3" y2="710.5" stroke="#222" stroke-width="1" />
<text x="540.7" y="720.8" font-size="10.5" text-anchor="middle" fill="#111" >BL</text>
<text x="558.0" y="720.8" font-size="10.5" text-anchor="middle" fill="#111" >0</text>
<text x="573.9" y="720.8" font-size="10.5" text-anchor="middle" fill="#111" >0.5</text>
<text x="589.2" y="720.8" font-size="10.5" text-anchor="middle" fill="#111" >1</text>
<text x="603.8" y="720.8" font-size="10.5" text-anchor="middle" fill="#111" >2</text>
<text x="617.3" y="720.8" font-size="10.5" text-anchor="middle" fill="#111" >4</text>
<line x1="542.7" y1="608.1" x2="542.7" y2="606.1" stroke="#b4b4b4" stroke-width="0.8" />
<line x1="540.9" y1="606.1" x2="544.5" y2="606.1" stroke="#b4b4b4" stroke-width="0.8" />
<line x1="558.0" y1="609.4" x2="558.0" y2="607.4" stroke="#b4b4b4" stroke-width="0.8" />
<line x1="556.2" y1="607.4" x2="559.8" y2="607.4" stroke="#b4b4b4" stroke-width="0.8" />
<line x1="573.9" y1="609.4" x2="573.9" y2="607.4" stroke="#b4b4b4" stroke-width="0.8" />
<line x1="572.1" y1="607.4" x2="575.7" y2="607.4" stroke="#b4b4b4" stroke-width="0.8" />
<line x1="589.2" y1="610.1" x2="589.2" y2="606.8" stroke="#b4b4b4" stroke-width="0.8" />
<line x1="587.4" y1="606.8" x2="591.0" y2="606.8" stroke="#b4b4b4" stroke-width="0.8" />
<line x1="603.8" y1="610.1" x2="603.8" y2="608.1" stroke="#b4b4b4" stroke-width="0.8" />
<line x1="602.0" y1="608.1" x2="605.6" y2="608.1" stroke="#b4b4b4" stroke-width="0.8" />
<line x1="617.3" y1="608.7" x2="617.3" y2="606.1" stroke="#b4b4b4" stroke-width="0.8" />
<line x1="615.5" y1="606.1" x2="619.1" y2="606.1" stroke="#b4b4b4" stroke-width="0.8" />
<polyline points="542.7,608.1 558.0,609.4 573.9,609.4 589.2,610.1 603.8,610.1 617.3,608.7" fill="none" stroke="#b4b4b4" stroke-width="1.1" stroke-linejoin="round" />
<circle cx="542.7" cy="608.1" r="2.3" fill="#b4b4b4" stroke="none" stroke-width="0.8"/>
<circle cx="558.0" cy="609.4" r="2.3" fill="#b4b4b4" stroke="none" stroke-width="0.8"/>
<circle cx="573.9" cy="609.4" r="2.3" fill="#b4b4b4" stroke="none" stroke-width="0.8"/>
<circle cx="589.2" cy="610.1" r="2.3" fill="#b4b4b4" stroke="none" stroke-width="0.8"/>
<circle cx="603.8" cy="610.1" r="2.3" fill="#b4b4b4" stroke="none" stroke-width="0.8"/>
<circle cx="617.3" cy="608.7" r="2.3" fill="#b4b4b4" stroke="none" stroke-width="0.8"/>
<line x1="542.7" y1="610.7" x2="542.7" y2="608.7" stroke="#888" stroke-width="0.8" />
<line x1="540.9" y1="608.7" x2="544.5" y2="608.7" stroke="#888" stroke-width="0.8" />
<line x1="558.0" y1="676.1" x2="558.0" y2="672.2" stroke="#888" stroke-width="0.8" />
<line x1="556.2" y1="672.2" x2="559.8" y2="672.2" stroke="#888" stroke-width="0.8" />
<line x1="573.9" y1="680.1" x2="573.9" y2="676.8" stroke="#888" stroke-width="0.8" />
<line x1="572.1" y1="676.8" x2="575.7" y2="676.8" stroke="#888" stroke-width="0.8" />
<line x1="589.2" y1="674.1" x2="589.2" y2="670.8" stroke="#888" stroke-width="0.8" />
<line x1="587.4" y1="670.8" x2="591.0" y2="670.8" stroke="#888" stroke-width="0.8" />
<line x1="603.8" y1="674.8" x2="603.8" y2="672.2" stroke="#888" stroke-width="0.8" />
<line x1="602.0" y1="672.2" x2="605.6" y2="672.2" stroke="#888" stroke-width="0.8" />
<line x1="617.3" y1="674.1" x2="617.3" y2="670.8" stroke="#888" stroke-width="0.8" />
<line x1="615.5" y1="670.8" x2="619.1" y2="670.8" stroke="#888" stroke-width="0.8" />
<polyline points="542.7,610.7 558.0,676.1 573.9,680.1 589.2,674.1 603.8,674.8 617.3,674.1" fill="none" stroke="#111" stroke-width="1.1" stroke-linejoin="round" />
<circle cx="542.7" cy="610.7" r="2.3" fill="#111" stroke="none" stroke-width="0.8"/>
<circle cx="558.0" cy="676.1" r="2.3" fill="#111" stroke="none" stroke-width="0.8"/>
<circle cx="573.9" cy="680.1" r="2.3" fill="#111" stroke="none" stroke-width="0.8"/>
<circle cx="589.2" cy="674.1" r="2.3" fill="#111" stroke="none" stroke-width="0.8"/>
<circle cx="603.8" cy="674.8" r="2.3" fill="#111" stroke="none" stroke-width="0.8"/>
<circle cx="617.3" cy="674.1" r="2.3" fill="#111" stroke="none" stroke-width="0.8"/>
<line x1="542.7" y1="608.1" x2="542.7" y2="605.4" stroke="#f2a0aa" stroke-width="0.8" />
<line x1="540.9" y1="605.4" x2="544.5" y2="605.4" stroke="#f2a0aa" stroke-width="0.8" />
<line x1="558.0" y1="606.8" x2="558.0" y2="604.8" stroke="#f2a0aa" stroke-width="0.8" />
<line x1="556.2" y1="604.8" x2="559.8" y2="604.8" stroke="#f2a0aa" stroke-width="0.8" />
<line x1="573.9" y1="608.7" x2="573.9" y2="606.8" stroke="#f2a0aa" stroke-width="0.8" />
<line x1="572.1" y1="606.8" x2="575.7" y2="606.8" stroke="#f2a0aa" stroke-width="0.8" />
<line x1="589.2" y1="612.7" x2="589.2" y2="610.7" stroke="#f2a0aa" stroke-width="0.8" />
<line x1="587.4" y1="610.7" x2="591.0" y2="610.7" stroke="#f2a0aa" stroke-width="0.8" />
<line x1="603.8" y1="610.1" x2="603.8" y2="608.1" stroke="#f2a0aa" stroke-width="0.8" />
<line x1="602.0" y1="608.1" x2="605.6" y2="608.1" stroke="#f2a0aa" stroke-width="0.8" />
<line x1="617.3" y1="615.4" x2="617.3" y2="613.4" stroke="#f2a0aa" stroke-width="0.8" />
<line x1="615.5" y1="613.4" x2="619.1" y2="613.4" stroke="#f2a0aa" stroke-width="0.8" />
<polyline points="542.7,608.1 558.0,606.8 573.9,608.7 589.2,612.7 603.8,610.1 617.3,615.4" fill="none" stroke="#f2a0aa" stroke-width="1.1" stroke-linejoin="round" />
<circle cx="542.7" cy="608.1" r="2.3" fill="#f2a0aa" stroke="none" stroke-width="0.8"/>
<circle cx="558.0" cy="606.8" r="2.3" fill="#f2a0aa" stroke="none" stroke-width="0.8"/>
<circle cx="573.9" cy="608.7" r="2.3" fill="#f2a0aa" stroke="none" stroke-width="0.8"/>
<circle cx="589.2" cy="612.7" r="2.3" fill="#f2a0aa" stroke="none" stroke-width="0.8"/>
<circle cx="603.8" cy="610.1" r="2.3" fill="#f2a0aa" stroke="none" stroke-width="0.8"/>
<circle cx="617.3" cy="615.4" r="2.3" fill="#f2a0aa" stroke="none" stroke-width="0.8"/>
<line x1="542.7" y1="611.4" x2="542.7" y2="610.1" stroke="#888" stroke-width="0.8" />
<line x1="540.9" y1="610.1" x2="544.5" y2="610.1" stroke="#888" stroke-width="0.8" />
<line x1="558.0" y1="634.5" x2="558.0" y2="631.9" stroke="#888" stroke-width="0.8" />
<line x1="556.2" y1="631.9" x2="559.8" y2="631.9" stroke="#888" stroke-width="0.8" />
<line x1="573.9" y1="635.8" x2="573.9" y2="632.5" stroke="#888" stroke-width="0.8" />
<line x1="572.1" y1="632.5" x2="575.7" y2="632.5" stroke="#888" stroke-width="0.8" />
<line x1="589.2" y1="635.2" x2="589.2" y2="631.2" stroke="#888" stroke-width="0.8" />
<line x1="587.4" y1="631.2" x2="591.0" y2="631.2" stroke="#888" stroke-width="0.8" />
<line x1="603.8" y1="632.5" x2="603.8" y2="629.9" stroke="#888" stroke-width="0.8" />
<line x1="602.0" y1="629.9" x2="605.6" y2="629.9" stroke="#888" stroke-width="0.8" />
<line x1="617.3" y1="632.5" x2="617.3" y2="629.2" stroke="#888" stroke-width="0.8" />
<line x1="615.5" y1="629.2" x2="619.1" y2="629.2" stroke="#888" stroke-width="0.8" />
<polyline points="542.7,611.4 558.0,634.5 573.9,635.8 589.2,635.2 603.8,632.5 617.3,632.5" fill="none" stroke="#e8192c" stroke-width="1.1" stroke-linejoin="round" />
<circle cx="542.7" cy="611.4" r="2.3" fill="#e8192c" stroke="none" stroke-width="0.8"/>
<circle cx="558.0" cy="634.5" r="2.3" fill="#e8192c" stroke="none" stroke-width="0.8"/>
<circle cx="573.9" cy="635.8" r="2.3" fill="#e8192c" stroke="none" stroke-width="0.8"/>
<circle cx="589.2" cy="635.2" r="2.3" fill="#e8192c" stroke="none" stroke-width="0.8"/>
<circle cx="603.8" cy="632.5" r="2.3" fill="#e8192c" stroke="none" stroke-width="0.8"/>
<circle cx="617.3" cy="632.5" r="2.3" fill="#e8192c" stroke="none" stroke-width="0.8"/>
<line x1="540.0" y1="564.2" x2="550.4" y2="564.2" stroke="#333" stroke-width="0.9" />
<circle cx="545.2" cy="564.2" r="2.0" fill="#b4b4b4" stroke="none" stroke-width="0.8"/>
<text x="551.4" y="568.1" font-size="10.8" fill="#111">Control/Veh</text>
<line x1="540.0" y1="574.4" x2="550.4" y2="574.4" stroke="#333" stroke-width="0.9" />
<circle cx="545.2" cy="574.4" r="2.0" fill="#111" stroke="none" stroke-width="0.8"/>
<text x="551.4" y="578.3" font-size="10.8" fill="#111">Control/CFA</text>
<line x1="540.0" y1="585.1" x2="550.4" y2="585.1" stroke="#333" stroke-width="0.9" />
<circle cx="545.2" cy="585.1" r="2.0" fill="#f2a0aa" stroke="none" stroke-width="0.8"/>
<text x="551.4" y="589.0" font-size="10.8" fill="#111"><tspan font-style="italic">Plp-AKAP150</tspan>/Veh</text>
<line x1="540.0" y1="594.3" x2="550.4" y2="594.3" stroke="#333" stroke-width="0.9" />
<circle cx="545.2" cy="594.3" r="2.0" fill="#e8192c" stroke="none" stroke-width="0.8"/>
<text x="551.4" y="598.2" font-size="10.8" fill="#111"><tspan font-style="italic">Plp-AKAP150</tspan>/CFA</text>
<text x="558.8" y="644.9" font-size="8" text-anchor="middle" fill="#333" letter-spacing="-1.6">††††</text>
<text x="574.7" y="646.9" font-size="8" text-anchor="middle" fill="#333" letter-spacing="-1.6">††††</text>
<text x="590.0" y="644.9" font-size="8" text-anchor="middle" fill="#333" letter-spacing="-1.6">††††</text>
<text x="604.6" y="642.9" font-size="8" text-anchor="middle" fill="#333" letter-spacing="-1.6">††††</text>
<text x="618.1" y="644.9" font-size="8" text-anchor="middle" fill="#333" letter-spacing="-1.6">††††</text>
<text x="558.0" y="688.3" font-size="8" text-anchor="middle" fill="#222" >****</text>
<text x="573.9" y="692.3" font-size="8" text-anchor="middle" fill="#222" >****</text>
<text x="589.2" y="684.3" font-size="8" text-anchor="middle" fill="#222" >****</text>
<text x="603.8" y="687.3" font-size="8" text-anchor="middle" fill="#222" >****</text>
<text x="617.3" y="684.3" font-size="8" text-anchor="middle" fill="#222" >****</text>
<line x1="549.6" y1="696.0" x2="549.6" y2="702.0" stroke="#111" stroke-width="1" />
<polygon points="547.6,700.5 551.6,700.5 549.6,704.5" fill="#111" stroke="none" stroke-width="0" />
<text x="564.0" y="705.3" font-size="10.8" fill="#111">AAV-<tspan font-style="italic">AKAP150</tspan></text>
<text x="602.0" y="730.8" font-size="10.6" text-anchor="middle" fill="#111" >Time (h)</text>
<line x1="559.0" y1="733.1" x2="559.0" y2="736.1" stroke="#222" stroke-width="1" />
<line x1="617.8" y1="733.1" x2="617.8" y2="736.1" stroke="#222" stroke-width="1" />
<line x1="559.0" y1="736.1" x2="617.8" y2="736.1" stroke="#222" stroke-width="1" />
<text x="588.4" y="746.8" font-size="10.6" text-anchor="middle" fill="#111" >Day 2</text>
<text x="513.3" y="567.6" font-size="15.5" font-weight="bold" fill="#000">l</text>
<text x="511.0" y="644.3" font-size="10.6" text-anchor="middle" fill="#111" transform="rotate(-90 511.0 640.5)" >Threshold (g)</text>
<line x1="38.9" y1="775.7" x2="38.9" y2="907.9" stroke="#222" stroke-width="1" />
<line x1="34.9" y1="907.9" x2="38.9" y2="907.9" stroke="#222" stroke-width="1" />
<text x="34.1" y="911.7" font-size="10.5" text-anchor="end" fill="#111" >0.0</text>
<line x1="34.9" y1="874.9" x2="38.9" y2="874.9" stroke="#222" stroke-width="1" />
<text x="34.1" y="878.6" font-size="10.5" text-anchor="end" fill="#111" >0.5</text>
<line x1="34.9" y1="841.8" x2="38.9" y2="841.8" stroke="#222" stroke-width="1" />
<text x="34.1" y="845.6" font-size="10.5" text-anchor="end" fill="#111" >1.0</text>
<line x1="34.9" y1="808.8" x2="38.9" y2="808.8" stroke="#222" stroke-width="1" />
<text x="34.1" y="812.5" font-size="10.5" text-anchor="end" fill="#111" >1.5</text>
<line x1="34.9" y1="775.7" x2="38.9" y2="775.7" stroke="#222" stroke-width="1" />
<text x="34.1" y="779.5" font-size="10.5" text-anchor="end" fill="#111" >2.0</text>
<line x1="38.9" y1="907.9" x2="127.4" y2="907.9" stroke="#222" stroke-width="1" />
<line x1="46.0" y1="907.9" x2="46.0" y2="911.9" stroke="#222" stroke-width="1" />
<line x1="63.8" y1="907.9" x2="63.8" y2="911.9" stroke="#222" stroke-width="1" />
<line x1="82.2" y1="907.9" x2="82.2" y2="911.9" stroke="#222" stroke-width="1" />
<line x1="99.3" y1="907.9" x2="99.3" y2="911.9" stroke="#222" stroke-width="1" />
<line x1="117.4" y1="907.9" x2="117.4" y2="911.9" stroke="#222" stroke-width="1" />
<text x="44.0" y="922.2" font-size="10.5" text-anchor="middle" fill="#111" >BL</text>
<text x="63.8" y="922.2" font-size="10.5" text-anchor="middle" fill="#111" >1</text>
<text x="82.2" y="922.2" font-size="10.5" text-anchor="middle" fill="#111" >3</text>
<text x="99.3" y="922.2" font-size="10.5" text-anchor="middle" fill="#111" >6</text>
<text x="117.4" y="922.2" font-size="10.5" text-anchor="middle" fill="#111" >24</text>
<line x1="46.0" y1="807.4" x2="46.0" y2="805.4" stroke="#b4b4b4" stroke-width="0.8" />
<line x1="44.2" y1="805.4" x2="47.8" y2="805.4" stroke="#b4b4b4" stroke-width="0.8" />
<line x1="63.8" y1="810.7" x2="63.8" y2="808.1" stroke="#b4b4b4" stroke-width="0.8" />
<line x1="62.0" y1="808.1" x2="65.6" y2="808.1" stroke="#b4b4b4" stroke-width="0.8" />
<line x1="82.2" y1="808.1" x2="82.2" y2="806.1" stroke="#b4b4b4" stroke-width="0.8" />
<line x1="80.4" y1="806.1" x2="84.0" y2="806.1" stroke="#b4b4b4" stroke-width="0.8" />
<line x1="99.3" y1="813.4" x2="99.3" y2="810.7" stroke="#b4b4b4" stroke-width="0.8" />
<line x1="97.5" y1="810.7" x2="101.1" y2="810.7" stroke="#b4b4b4" stroke-width="0.8" />
<line x1="117.4" y1="810.1" x2="117.4" y2="808.1" stroke="#b4b4b4" stroke-width="0.8" />
<line x1="115.6" y1="808.1" x2="119.2" y2="808.1" stroke="#b4b4b4" stroke-width="0.8" />
<polyline points="46.0,807.4 63.8,810.7 82.2,808.1 99.3,813.4 117.4,810.1" fill="none" stroke="#b4b4b4" stroke-width="1.1" stroke-linejoin="round" />
<circle cx="46.0" cy="807.4" r="2.3" fill="#b4b4b4" stroke="none" stroke-width="0.8"/>
<circle cx="63.8" cy="810.7" r="2.3" fill="#b4b4b4" stroke="none" stroke-width="0.8"/>
<circle cx="82.2" cy="808.1" r="2.3" fill="#b4b4b4" stroke="none" stroke-width="0.8"/>
<circle cx="99.3" cy="813.4" r="2.3" fill="#b4b4b4" stroke="none" stroke-width="0.8"/>
<circle cx="117.4" cy="810.1" r="2.3" fill="#b4b4b4" stroke="none" stroke-width="0.8"/>
<line x1="46.0" y1="810.1" x2="46.0" y2="808.1" stroke="#888" stroke-width="0.8" />
<line x1="44.2" y1="808.1" x2="47.8" y2="808.1" stroke="#888" stroke-width="0.8" />
<line x1="63.8" y1="849.7" x2="63.8" y2="845.8" stroke="#888" stroke-width="0.8" />
<line x1="62.0" y1="845.8" x2="65.6" y2="845.8" stroke="#888" stroke-width="0.8" />
<line x1="82.2" y1="861.6" x2="82.2" y2="858.3" stroke="#888" stroke-width="0.8" />
<line x1="80.4" y1="858.3" x2="84.0" y2="858.3" stroke="#888" stroke-width="0.8" />
<line x1="99.3" y1="877.5" x2="99.3" y2="875.5" stroke="#888" stroke-width="0.8" />
<line x1="97.5" y1="875.5" x2="101.1" y2="875.5" stroke="#888" stroke-width="0.8" />
<line x1="117.4" y1="829.2" x2="117.4" y2="824.0" stroke="#888" stroke-width="0.8" />
<line x1="115.6" y1="824.0" x2="119.2" y2="824.0" stroke="#888" stroke-width="0.8" />
<polyline points="46.0,810.1 63.8,849.7 82.2,861.6 99.3,877.5 117.4,829.2" fill="none" stroke="#1f4de6" stroke-width="1.1" stroke-linejoin="round" />
<circle cx="46.0" cy="810.1" r="2.3" fill="#1f4de6" stroke="none" stroke-width="0.8"/>
<circle cx="63.8" cy="849.7" r="2.3" fill="#1f4de6" stroke="none" stroke-width="0.8"/>
<circle cx="82.2" cy="861.6" r="2.3" fill="#1f4de6" stroke="none" stroke-width="0.8"/>
<circle cx="99.3" cy="877.5" r="2.3" fill="#1f4de6" stroke="none" stroke-width="0.8"/>
<circle cx="117.4" cy="829.2" r="2.3" fill="#1f4de6" stroke="none" stroke-width="0.8"/>
<line x1="46.0" y1="811.4" x2="46.0" y2="809.4" stroke="#111" stroke-width="0.8" />
<line x1="44.2" y1="809.4" x2="47.8" y2="809.4" stroke="#111" stroke-width="0.8" />
<line x1="63.8" y1="852.4" x2="63.8" y2="849.1" stroke="#111" stroke-width="0.8" />
<line x1="62.0" y1="849.1" x2="65.6" y2="849.1" stroke="#111" stroke-width="0.8" />
<line x1="82.2" y1="865.6" x2="82.2" y2="863.0" stroke="#111" stroke-width="0.8" />
<line x1="80.4" y1="863.0" x2="84.0" y2="863.0" stroke="#111" stroke-width="0.8" />
<line x1="99.3" y1="877.5" x2="99.3" y2="875.5" stroke="#111" stroke-width="0.8" />
<line x1="97.5" y1="875.5" x2="101.1" y2="875.5" stroke="#111" stroke-width="0.8" />
<line x1="117.4" y1="835.9" x2="117.4" y2="832.5" stroke="#111" stroke-width="0.8" />
<line x1="115.6" y1="832.5" x2="119.2" y2="832.5" stroke="#111" stroke-width="0.8" />
<polyline points="46.0,811.4 63.8,852.4 82.2,865.6 99.3,877.5 117.4,835.9" fill="none" stroke="#111" stroke-width="1.1" stroke-linejoin="round" />
<circle cx="46.0" cy="811.4" r="2.3" fill="#111" stroke="none" stroke-width="0.8"/>
<circle cx="63.8" cy="852.4" r="2.3" fill="#111" stroke="none" stroke-width="0.8"/>
<circle cx="82.2" cy="865.6" r="2.3" fill="#111" stroke="none" stroke-width="0.8"/>
<circle cx="99.3" cy="877.5" r="2.3" fill="#111" stroke="none" stroke-width="0.8"/>
<circle cx="117.4" cy="835.9" r="2.3" fill="#111" stroke="none" stroke-width="0.8"/>
<line x1="46.0" y1="811.4" x2="46.0" y2="809.4" stroke="#888" stroke-width="0.8" />
<line x1="44.2" y1="809.4" x2="47.8" y2="809.4" stroke="#888" stroke-width="0.8" />
<line x1="63.8" y1="825.3" x2="63.8" y2="817.3" stroke="#888" stroke-width="0.8" />
<line x1="62.0" y1="817.3" x2="65.6" y2="817.3" stroke="#888" stroke-width="0.8" />
<line x1="82.2" y1="824.0" x2="82.2" y2="818.7" stroke="#888" stroke-width="0.8" />
<line x1="80.4" y1="818.7" x2="84.0" y2="818.7" stroke="#888" stroke-width="0.8" />
<line x1="99.3" y1="827.3" x2="99.3" y2="821.3" stroke="#888" stroke-width="0.8" />
<line x1="97.5" y1="821.3" x2="101.1" y2="821.3" stroke="#888" stroke-width="0.8" />
<line x1="117.4" y1="818.7" x2="117.4" y2="814.7" stroke="#888" stroke-width="0.8" />
<line x1="115.6" y1="814.7" x2="119.2" y2="814.7" stroke="#888" stroke-width="0.8" />
<polyline points="46.0,811.4 63.8,825.3 82.2,824.0 99.3,827.3 117.4,818.7" fill="none" stroke="#e8192c" stroke-width="1.1" stroke-linejoin="round" />
<circle cx="46.0" cy="811.4" r="2.3" fill="#e8192c" stroke="none" stroke-width="0.8"/>
<circle cx="63.8" cy="825.3" r="2.3" fill="#e8192c" stroke="none" stroke-width="0.8"/>
<circle cx="82.2" cy="824.0" r="2.3" fill="#e8192c" stroke="none" stroke-width="0.8"/>
<circle cx="99.3" cy="827.3" r="2.3" fill="#e8192c" stroke="none" stroke-width="0.8"/>
<circle cx="117.4" cy="818.7" r="2.3" fill="#e8192c" stroke="none" stroke-width="0.8"/>
<line x1="40.7" y1="763.9" x2="52.0" y2="763.9" stroke="#333" stroke-width="0.9" />
<circle cx="46.4" cy="763.9" r="2.0" fill="#b4b4b4" stroke="none" stroke-width="0.8"/>
<text x="52.5" y="767.8" font-size="10.8" fill="#111">Control/red light</text>
<line x1="40.7" y1="775.2" x2="52.0" y2="775.2" stroke="#333" stroke-width="0.9" />
<circle cx="46.4" cy="775.2" r="2.0" fill="#1f4de6" stroke="none" stroke-width="0.8"/>
<text x="52.5" y="779.1" font-size="10.8" fill="#111">Control/red light/Cg</text>
<line x1="40.7" y1="785.7" x2="52.0" y2="785.7" stroke="#333" stroke-width="0.9" />
<circle cx="46.4" cy="785.7" r="2.0" fill="#111" stroke="none" stroke-width="0.8"/>
<text x="52.5" y="789.6" font-size="10.8" fill="#111"><tspan font-style="italic">Plp-AKAP150-LAPD</tspan>/no light/Cg</text>
<line x1="40.7" y1="794.9" x2="52.0" y2="794.9" stroke="#333" stroke-width="0.9" />
<circle cx="46.4" cy="794.9" r="2.0" fill="#e8192c" stroke="none" stroke-width="0.8"/>
<text x="52.5" y="798.8" font-size="10.8" fill="#111"><tspan font-style="italic">Plp-AKAP150-LAPD</tspan>/red light/Cg</text>
<text x="64.6" y="835.9" font-size="8" text-anchor="middle" fill="#333" letter-spacing="-1.6">†††</text>
<text x="83.0" y="834.6" font-size="8" text-anchor="middle" fill="#333" letter-spacing="-1.6">††††</text>
<text x="100.1" y="838.5" font-size="8" text-anchor="middle" fill="#333" letter-spacing="-1.6">††††</text>
<text x="120.0" y="848.6" font-size="8" text-anchor="middle" fill="#222" >**</text>
<text x="63.8" y="864.1" font-size="8" text-anchor="middle" fill="#222" >****</text>
<text x="82.2" y="877.5" font-size="8" text-anchor="middle" fill="#222" >****</text>
<text x="99.3" y="889.3" font-size="8" text-anchor="middle" fill="#222" >****</text>
<line x1="51.2" y1="896.0" x2="51.2" y2="902.0" stroke="#111" stroke-width="1" />
<polygon points="49.2,900.5 53.2,900.5 51.2,904.5" fill="#111" stroke="none" stroke-width="0" />
<text x="57.3" y="906.5" font-size="10.8" fill="#111">AAV-<tspan font-style="italic">AKAP150-LAPD</tspan></text>
<text x="97.2" y="931.4" font-size="10.6" text-anchor="middle" fill="#111" >Time (h)</text>
<text x="4.0" y="767.6" font-size="15.5" font-weight="bold" fill="#000">m</text>
<text x="13.1" y="845.6" font-size="10.6" text-anchor="middle" fill="#111" transform="rotate(-90 13.1 841.8)" >Threshold (g)</text>
<line x1="232.3" y1="776.0" x2="232.3" y2="907.9" stroke="#222" stroke-width="1" />
<line x1="228.3" y1="907.9" x2="232.3" y2="907.9" stroke="#222" stroke-width="1" />
<text x="227.5" y="911.7" font-size="10.5" text-anchor="end" fill="#111" >0.0</text>
<line x1="228.3" y1="874.9" x2="232.3" y2="874.9" stroke="#222" stroke-width="1" />
<text x="227.5" y="878.7" font-size="10.5" text-anchor="end" fill="#111" >0.5</text>
<line x1="228.3" y1="842.0" x2="232.3" y2="842.0" stroke="#222" stroke-width="1" />
<text x="227.5" y="845.7" font-size="10.5" text-anchor="end" fill="#111" >1.0</text>
<line x1="228.3" y1="809.0" x2="232.3" y2="809.0" stroke="#222" stroke-width="1" />
<text x="227.5" y="812.8" font-size="10.5" text-anchor="end" fill="#111" >1.5</text>
<line x1="228.3" y1="776.0" x2="232.3" y2="776.0" stroke="#222" stroke-width="1" />
<text x="227.5" y="779.8" font-size="10.5" text-anchor="end" fill="#111" >2.0</text>
<line x1="232.3" y1="907.9" x2="320.3" y2="907.9" stroke="#222" stroke-width="1" />
<line x1="238.0" y1="907.9" x2="238.0" y2="911.9" stroke="#222" stroke-width="1" />
<line x1="252.5" y1="907.9" x2="252.5" y2="911.9" stroke="#222" stroke-width="1" />
<line x1="267.7" y1="907.9" x2="267.7" y2="911.9" stroke="#222" stroke-width="1" />
<line x1="282.7" y1="907.9" x2="282.7" y2="911.9" stroke="#222" stroke-width="1" />
<line x1="297.2" y1="907.9" x2="297.2" y2="911.9" stroke="#222" stroke-width="1" />
<line x1="311.6" y1="907.9" x2="311.6" y2="911.9" stroke="#222" stroke-width="1" />
<text x="236.0" y="922.2" font-size="10.5" text-anchor="middle" fill="#111" >BL</text>
<text x="252.5" y="922.2" font-size="10.5" text-anchor="middle" fill="#111" >0</text>
<text x="267.7" y="922.2" font-size="10.5" text-anchor="middle" fill="#111" >0.5</text>
<text x="282.7" y="922.2" font-size="10.5" text-anchor="middle" fill="#111" >1</text>
<text x="297.2" y="922.2" font-size="10.5" text-anchor="middle" fill="#111" >2</text>
<text x="311.6" y="922.2" font-size="10.5" text-anchor="middle" fill="#111" >4</text>
<line x1="238.0" y1="814.3" x2="238.0" y2="812.3" stroke="#b4b4b4" stroke-width="0.8" />
<line x1="236.2" y1="812.3" x2="239.8" y2="812.3" stroke="#b4b4b4" stroke-width="0.8" />
<line x1="252.5" y1="814.9" x2="252.5" y2="812.9" stroke="#b4b4b4" stroke-width="0.8" />
<line x1="250.7" y1="812.9" x2="254.3" y2="812.9" stroke="#b4b4b4" stroke-width="0.8" />
<line x1="267.7" y1="812.3" x2="267.7" y2="809.6" stroke="#b4b4b4" stroke-width="0.8" />
<line x1="265.9" y1="809.6" x2="269.5" y2="809.6" stroke="#b4b4b4" stroke-width="0.8" />
<line x1="282.7" y1="811.0" x2="282.7" y2="809.0" stroke="#b4b4b4" stroke-width="0.8" />
<line x1="280.9" y1="809.0" x2="284.5" y2="809.0" stroke="#b4b4b4" stroke-width="0.8" />
<line x1="297.2" y1="814.3" x2="297.2" y2="811.6" stroke="#b4b4b4" stroke-width="0.8" />
<line x1="295.4" y1="811.6" x2="299.0" y2="811.6" stroke="#b4b4b4" stroke-width="0.8" />
<line x1="311.6" y1="812.3" x2="311.6" y2="810.3" stroke="#b4b4b4" stroke-width="0.8" />
<line x1="309.8" y1="810.3" x2="313.4" y2="810.3" stroke="#b4b4b4" stroke-width="0.8" />
<polyline points="238.0,814.3 252.5,814.9 267.7,812.3 282.7,811.0 297.2,814.3 311.6,812.3" fill="none" stroke="#b4b4b4" stroke-width="1.1" stroke-linejoin="round" />
<circle cx="238.0" cy="814.3" r="2.3" fill="#b4b4b4" stroke="none" stroke-width="0.8"/>
<circle cx="252.5" cy="814.9" r="2.3" fill="#b4b4b4" stroke="none" stroke-width="0.8"/>
<circle cx="267.7" cy="812.3" r="2.3" fill="#b4b4b4" stroke="none" stroke-width="0.8"/>
<circle cx="282.7" cy="811.0" r="2.3" fill="#b4b4b4" stroke="none" stroke-width="0.8"/>
<circle cx="297.2" cy="814.3" r="2.3" fill="#b4b4b4" stroke="none" stroke-width="0.8"/>
<circle cx="311.6" cy="812.3" r="2.3" fill="#b4b4b4" stroke="none" stroke-width="0.8"/>
<line x1="238.0" y1="809.6" x2="238.0" y2="807.7" stroke="#1f4de6" stroke-width="0.8" />
<line x1="236.2" y1="807.7" x2="239.8" y2="807.7" stroke="#1f4de6" stroke-width="0.8" />
<line x1="252.5" y1="871.6" x2="252.5" y2="869.6" stroke="#1f4de6" stroke-width="0.8" />
<line x1="250.7" y1="869.6" x2="254.3" y2="869.6" stroke="#1f4de6" stroke-width="0.8" />
<line x1="267.7" y1="869.6" x2="267.7" y2="867.7" stroke="#1f4de6" stroke-width="0.8" />
<line x1="265.9" y1="867.7" x2="269.5" y2="867.7" stroke="#1f4de6" stroke-width="0.8" />
<line x1="282.7" y1="874.9" x2="282.7" y2="872.9" stroke="#1f4de6" stroke-width="0.8" />
<line x1="280.9" y1="872.9" x2="284.5" y2="872.9" stroke="#1f4de6" stroke-width="0.8" />
<line x1="297.2" y1="873.6" x2="297.2" y2="871.6" stroke="#1f4de6" stroke-width="0.8" />
<line x1="295.4" y1="871.6" x2="299.0" y2="871.6" stroke="#1f4de6" stroke-width="0.8" />
<line x1="311.6" y1="872.3" x2="311.6" y2="870.3" stroke="#1f4de6" stroke-width="0.8" />
<line x1="309.8" y1="870.3" x2="313.4" y2="870.3" stroke="#1f4de6" stroke-width="0.8" />
<polyline points="238.0,809.6 252.5,871.6 267.7,869.6 282.7,874.9 297.2,873.6 311.6,872.3" fill="none" stroke="#1f4de6" stroke-width="1.1" stroke-linejoin="round" />
<circle cx="238.0" cy="809.6" r="2.3" fill="#1f4de6" stroke="none" stroke-width="0.8"/>
<circle cx="252.5" cy="871.6" r="2.3" fill="#1f4de6" stroke="none" stroke-width="0.8"/>
<circle cx="267.7" cy="869.6" r="2.3" fill="#1f4de6" stroke="none" stroke-width="0.8"/>
<circle cx="282.7" cy="874.9" r="2.3" fill="#1f4de6" stroke="none" stroke-width="0.8"/>
<circle cx="297.2" cy="873.6" r="2.3" fill="#1f4de6" stroke="none" stroke-width="0.8"/>
<circle cx="311.6" cy="872.3" r="2.3" fill="#1f4de6" stroke="none" stroke-width="0.8"/>
<line x1="238.0" y1="811.0" x2="238.0" y2="809.0" stroke="#888" stroke-width="0.8" />
<line x1="236.2" y1="809.0" x2="239.8" y2="809.0" stroke="#888" stroke-width="0.8" />
<line x1="252.5" y1="872.3" x2="252.5" y2="869.6" stroke="#888" stroke-width="0.8" />
<line x1="250.7" y1="869.6" x2="254.3" y2="869.6" stroke="#888" stroke-width="0.8" />
<line x1="267.7" y1="869.0" x2="267.7" y2="866.4" stroke="#888" stroke-width="0.8" />
<line x1="265.9" y1="866.4" x2="269.5" y2="866.4" stroke="#888" stroke-width="0.8" />
<line x1="282.7" y1="869.0" x2="282.7" y2="865.7" stroke="#888" stroke-width="0.8" />
<line x1="280.9" y1="865.7" x2="284.5" y2="865.7" stroke="#888" stroke-width="0.8" />
<line x1="297.2" y1="867.0" x2="297.2" y2="863.1" stroke="#888" stroke-width="0.8" />
<line x1="295.4" y1="863.1" x2="299.0" y2="863.1" stroke="#888" stroke-width="0.8" />
<line x1="311.6" y1="870.3" x2="311.6" y2="867.0" stroke="#888" stroke-width="0.8" />
<line x1="309.8" y1="867.0" x2="313.4" y2="867.0" stroke="#888" stroke-width="0.8" />
<polyline points="238.0,811.0 252.5,872.3 267.7,869.0 282.7,869.0 297.2,867.0 311.6,870.3" fill="none" stroke="#111" stroke-width="1.1" stroke-linejoin="round" />
<circle cx="238.0" cy="811.0" r="2.3" fill="#111" stroke="none" stroke-width="0.8"/>
<circle cx="252.5" cy="872.3" r="2.3" fill="#111" stroke="none" stroke-width="0.8"/>
<circle cx="267.7" cy="869.0" r="2.3" fill="#111" stroke="none" stroke-width="0.8"/>
<circle cx="282.7" cy="869.0" r="2.3" fill="#111" stroke="none" stroke-width="0.8"/>
<circle cx="297.2" cy="867.0" r="2.3" fill="#111" stroke="none" stroke-width="0.8"/>
<circle cx="311.6" cy="870.3" r="2.3" fill="#111" stroke="none" stroke-width="0.8"/>
<line x1="238.0" y1="811.6" x2="238.0" y2="809.6" stroke="#888" stroke-width="0.8" />
<line x1="236.2" y1="809.6" x2="239.8" y2="809.6" stroke="#888" stroke-width="0.8" />
<line x1="252.5" y1="869.0" x2="252.5" y2="867.0" stroke="#888" stroke-width="0.8" />
<line x1="250.7" y1="867.0" x2="254.3" y2="867.0" stroke="#888" stroke-width="0.8" />
<line x1="267.7" y1="824.1" x2="267.7" y2="818.9" stroke="#888" stroke-width="0.8" />
<line x1="265.9" y1="818.9" x2="269.5" y2="818.9" stroke="#888" stroke-width="0.8" />
<line x1="282.7" y1="828.8" x2="282.7" y2="822.8" stroke="#888" stroke-width="0.8" />
<line x1="280.9" y1="822.8" x2="284.5" y2="822.8" stroke="#888" stroke-width="0.8" />
<line x1="297.2" y1="827.4" x2="297.2" y2="821.5" stroke="#888" stroke-width="0.8" />
<line x1="295.4" y1="821.5" x2="299.0" y2="821.5" stroke="#888" stroke-width="0.8" />
<line x1="311.6" y1="840.0" x2="311.6" y2="829.4" stroke="#888" stroke-width="0.8" />
<line x1="309.8" y1="829.4" x2="313.4" y2="829.4" stroke="#888" stroke-width="0.8" />
<polyline points="238.0,811.6 252.5,869.0 267.7,824.1 282.7,828.8 297.2,827.4 311.6,840.0" fill="none" stroke="#e8192c" stroke-width="1.1" stroke-linejoin="round" />
<circle cx="238.0" cy="811.6" r="2.3" fill="#e8192c" stroke="none" stroke-width="0.8"/>
<circle cx="252.5" cy="869.0" r="2.3" fill="#e8192c" stroke="none" stroke-width="0.8"/>
<circle cx="267.7" cy="824.1" r="2.3" fill="#e8192c" stroke="none" stroke-width="0.8"/>
<circle cx="282.7" cy="828.8" r="2.3" fill="#e8192c" stroke="none" stroke-width="0.8"/>
<circle cx="297.2" cy="827.4" r="2.3" fill="#e8192c" stroke="none" stroke-width="0.8"/>
<circle cx="311.6" cy="840.0" r="2.3" fill="#e8192c" stroke="none" stroke-width="0.8"/>
<line x1="234.4" y1="764.0" x2="245.4" y2="764.0" stroke="#333" stroke-width="0.9" />
<circle cx="239.9" cy="764.0" r="2.0" fill="#b4b4b4" stroke="none" stroke-width="0.8"/>
<text x="246.2" y="767.9" font-size="10.8" fill="#111">Control/red light</text>
<line x1="234.4" y1="775.7" x2="245.4" y2="775.7" stroke="#333" stroke-width="0.9" />
<circle cx="239.9" cy="775.7" r="2.0" fill="#1f4de6" stroke="none" stroke-width="0.8"/>
<text x="246.2" y="779.6" font-size="10.8" fill="#111">Control/red light/CFA</text>
<line x1="234.4" y1="786.5" x2="245.4" y2="786.5" stroke="#333" stroke-width="0.9" />
<circle cx="239.9" cy="786.5" r="2.0" fill="#111" stroke="none" stroke-width="0.8"/>
<text x="246.2" y="790.4" font-size="10.8" fill="#111"><tspan font-style="italic">Plp-AKAP150-LAPD</tspan>/no light/CFA</text>
<line x1="234.4" y1="795.7" x2="245.4" y2="795.7" stroke="#333" stroke-width="0.9" />
<circle cx="239.9" cy="795.7" r="2.0" fill="#e8192c" stroke="none" stroke-width="0.8"/>
<text x="246.2" y="799.6" font-size="10.8" fill="#111"><tspan font-style="italic">Plp-AKAP150-LAPD</tspan>/red light/CFA</text>
<text x="268.5" y="834.6" font-size="8" text-anchor="middle" fill="#333" letter-spacing="-1.6">††††</text>
<text x="283.5" y="841.2" font-size="8" text-anchor="middle" fill="#333" letter-spacing="-1.6">††††</text>
<text x="298.0" y="837.2" font-size="8" text-anchor="middle" fill="#333" letter-spacing="-1.6">††††</text>
<text x="312.4" y="849.1" font-size="8" text-anchor="middle" fill="#333" letter-spacing="-1.6">†††</text>
<text x="252.5" y="884.6" font-size="8" text-anchor="middle" fill="#222" >****</text>
<text x="267.7" y="878.0" font-size="8" text-anchor="middle" fill="#222" >****</text>
<text x="282.7" y="885.4" font-size="8" text-anchor="middle" fill="#222" >****</text>
<text x="297.2" y="884.6" font-size="8" text-anchor="middle" fill="#222" >****</text>
<text x="311.6" y="881.5" font-size="8" text-anchor="middle" fill="#222" >****</text>
<line x1="244.0" y1="896.0" x2="244.0" y2="902.0" stroke="#111" stroke-width="1" />
<polygon points="242.0,900.5 246.0,900.5 244.0,904.5" fill="#111" stroke="none" stroke-width="0" />
<text x="252.0" y="906.5" font-size="10.8" fill="#111">AAV-<tspan font-style="italic">AKAP150-LAPD</tspan></text>
<text x="295.3" y="931.9" font-size="10.6" text-anchor="middle" fill="#111" >Time (h)</text>
<line x1="253.3" y1="934.6" x2="253.3" y2="937.6" stroke="#222" stroke-width="1" />
<line x1="311.9" y1="934.6" x2="311.9" y2="937.6" stroke="#222" stroke-width="1" />
<line x1="253.3" y1="937.6" x2="311.9" y2="937.6" stroke="#222" stroke-width="1" />
<text x="282.6" y="949.0" font-size="10.6" text-anchor="middle" fill="#111" >Day 2</text>
<text x="203.7" y="768.4" font-size="15.5" font-weight="bold" fill="#000">n</text>
<text x="203.4" y="845.8" font-size="10.6" text-anchor="middle" fill="#111" transform="rotate(-90 203.4 842.0)" >Threshold (g)</text>
<line x1="451.2" y1="774.9" x2="451.2" y2="906.9" stroke="#222" stroke-width="1" />
<line x1="447.2" y1="906.9" x2="451.2" y2="906.9" stroke="#222" stroke-width="1" />
<text x="446.4" y="910.7" font-size="10.5" text-anchor="end" fill="#111" >0.0</text>
<line x1="447.2" y1="873.9" x2="451.2" y2="873.9" stroke="#222" stroke-width="1" />
<text x="446.4" y="877.7" font-size="10.5" text-anchor="end" fill="#111" >0.5</text>
<line x1="447.2" y1="840.9" x2="451.2" y2="840.9" stroke="#222" stroke-width="1" />
<text x="446.4" y="844.7" font-size="10.5" text-anchor="end" fill="#111" >1.0</text>
<line x1="447.2" y1="807.9" x2="451.2" y2="807.9" stroke="#222" stroke-width="1" />
<text x="446.4" y="811.7" font-size="10.5" text-anchor="end" fill="#111" >1.5</text>
<line x1="447.2" y1="774.9" x2="451.2" y2="774.9" stroke="#222" stroke-width="1" />
<text x="446.4" y="778.7" font-size="10.5" text-anchor="end" fill="#111" >2.0</text>
<line x1="451.2" y1="906.9" x2="540.0" y2="906.9" stroke="#222" stroke-width="1" />
<line x1="458.7" y1="906.9" x2="458.7" y2="910.9" stroke="#222" stroke-width="1" />
<line x1="477.4" y1="906.9" x2="477.4" y2="910.9" stroke="#222" stroke-width="1" />
<line x1="495.4" y1="906.9" x2="495.4" y2="910.9" stroke="#222" stroke-width="1" />
<line x1="513.1" y1="906.9" x2="513.1" y2="910.9" stroke="#222" stroke-width="1" />
<line x1="530.4" y1="906.9" x2="530.4" y2="910.9" stroke="#222" stroke-width="1" />
<text x="456.7" y="921.2" font-size="10.5" text-anchor="middle" fill="#111" >BL</text>
<text x="477.4" y="921.2" font-size="10.5" text-anchor="middle" fill="#111" >1</text>
<text x="495.4" y="921.2" font-size="10.5" text-anchor="middle" fill="#111" >3</text>
<text x="513.1" y="921.2" font-size="10.5" text-anchor="middle" fill="#111" >6</text>
<text x="530.4" y="921.2" font-size="10.5" text-anchor="middle" fill="#111" >24</text>
<line x1="458.7" y1="806.6" x2="458.7" y2="804.6" stroke="#b4b4b4" stroke-width="0.8" />
<line x1="456.9" y1="804.6" x2="460.5" y2="804.6" stroke="#b4b4b4" stroke-width="0.8" />
<line x1="477.4" y1="808.6" x2="477.4" y2="805.9" stroke="#b4b4b4" stroke-width="0.8" />
<line x1="475.6" y1="805.9" x2="479.2" y2="805.9" stroke="#b4b4b4" stroke-width="0.8" />
<line x1="495.4" y1="809.9" x2="495.4" y2="807.9" stroke="#b4b4b4" stroke-width="0.8" />
<line x1="493.6" y1="807.9" x2="497.2" y2="807.9" stroke="#b4b4b4" stroke-width="0.8" />
<line x1="513.1" y1="813.8" x2="513.1" y2="811.2" stroke="#b4b4b4" stroke-width="0.8" />
<line x1="511.3" y1="811.2" x2="514.9" y2="811.2" stroke="#b4b4b4" stroke-width="0.8" />
<line x1="530.4" y1="809.9" x2="530.4" y2="807.9" stroke="#b4b4b4" stroke-width="0.8" />
<line x1="528.6" y1="807.9" x2="532.2" y2="807.9" stroke="#b4b4b4" stroke-width="0.8" />
<polyline points="458.7,806.6 477.4,808.6 495.4,809.9 513.1,813.8 530.4,809.9" fill="none" stroke="#b4b4b4" stroke-width="1.1" stroke-linejoin="round" />
<circle cx="458.7" cy="806.6" r="2.3" fill="#b4b4b4" stroke="none" stroke-width="0.8"/>
<circle cx="477.4" cy="808.6" r="2.3" fill="#b4b4b4" stroke="none" stroke-width="0.8"/>
<circle cx="495.4" cy="809.9" r="2.3" fill="#b4b4b4" stroke="none" stroke-width="0.8"/>
<circle cx="513.1" cy="813.8" r="2.3" fill="#b4b4b4" stroke="none" stroke-width="0.8"/>
<circle cx="530.4" cy="809.9" r="2.3" fill="#b4b4b4" stroke="none" stroke-width="0.8"/>
<line x1="458.7" y1="812.5" x2="458.7" y2="810.5" stroke="#888" stroke-width="0.8" />
<line x1="456.9" y1="810.5" x2="460.5" y2="810.5" stroke="#888" stroke-width="0.8" />
<line x1="477.4" y1="840.9" x2="477.4" y2="838.3" stroke="#888" stroke-width="0.8" />
<line x1="475.6" y1="838.3" x2="479.2" y2="838.3" stroke="#888" stroke-width="0.8" />
<line x1="495.4" y1="866.6" x2="495.4" y2="858.7" stroke="#888" stroke-width="0.8" />
<line x1="493.6" y1="858.7" x2="497.2" y2="858.7" stroke="#888" stroke-width="0.8" />
<line x1="513.1" y1="878.5" x2="513.1" y2="875.2" stroke="#888" stroke-width="0.8" />
<line x1="511.3" y1="875.2" x2="514.9" y2="875.2" stroke="#888" stroke-width="0.8" />
<line x1="530.4" y1="835.6" x2="530.4" y2="827.7" stroke="#888" stroke-width="0.8" />
<line x1="528.6" y1="827.7" x2="532.2" y2="827.7" stroke="#888" stroke-width="0.8" />
<polyline points="458.7,812.5 477.4,840.9 495.4,866.6 513.1,878.5 530.4,835.6" fill="none" stroke="#111" stroke-width="1.1" stroke-linejoin="round" />
<circle cx="458.7" cy="812.5" r="2.3" fill="#111" stroke="none" stroke-width="0.8"/>
<circle cx="477.4" cy="840.9" r="2.3" fill="#111" stroke="none" stroke-width="0.8"/>
<circle cx="495.4" cy="866.6" r="2.3" fill="#111" stroke="none" stroke-width="0.8"/>
<circle cx="513.1" cy="878.5" r="2.3" fill="#111" stroke="none" stroke-width="0.8"/>
<circle cx="530.4" cy="835.6" r="2.3" fill="#111" stroke="none" stroke-width="0.8"/>
<line x1="458.7" y1="810.5" x2="458.7" y2="808.6" stroke="#f2a0aa" stroke-width="0.8" />
<line x1="456.9" y1="808.6" x2="460.5" y2="808.6" stroke="#f2a0aa" stroke-width="0.8" />
<line x1="477.4" y1="811.2" x2="477.4" y2="809.2" stroke="#f2a0aa" stroke-width="0.8" />
<line x1="475.6" y1="809.2" x2="479.2" y2="809.2" stroke="#f2a0aa" stroke-width="0.8" />
<line x1="495.4" y1="807.9" x2="495.4" y2="805.9" stroke="#f2a0aa" stroke-width="0.8" />
<line x1="493.6" y1="805.9" x2="497.2" y2="805.9" stroke="#f2a0aa" stroke-width="0.8" />
<line x1="513.1" y1="809.9" x2="513.1" y2="807.9" stroke="#f2a0aa" stroke-width="0.8" />
<line x1="511.3" y1="807.9" x2="514.9" y2="807.9" stroke="#f2a0aa" stroke-width="0.8" />
<line x1="530.4" y1="805.3" x2="530.4" y2="803.9" stroke="#f2a0aa" stroke-width="0.8" />
<line x1="528.6" y1="803.9" x2="532.2" y2="803.9" stroke="#f2a0aa" stroke-width="0.8" />
<polyline points="458.7,810.5 477.4,811.2 495.4,807.9 513.1,809.9 530.4,805.3" fill="none" stroke="#f2a0aa" stroke-width="1.1" stroke-linejoin="round" />
<circle cx="458.7" cy="810.5" r="2.3" fill="#f2a0aa" stroke="none" stroke-width="0.8"/>
<circle cx="477.4" cy="811.2" r="2.3" fill="#f2a0aa" stroke="none" stroke-width="0.8"/>
<circle cx="495.4" cy="807.9" r="2.3" fill="#f2a0aa" stroke="none" stroke-width="0.8"/>
<circle cx="513.1" cy="809.9" r="2.3" fill="#f2a0aa" stroke="none" stroke-width="0.8"/>
<circle cx="530.4" cy="805.3" r="2.3" fill="#f2a0aa" stroke="none" stroke-width="0.8"/>
<line x1="458.7" y1="809.9" x2="458.7" y2="807.9" stroke="#888" stroke-width="0.8" />
<line x1="456.9" y1="807.9" x2="460.5" y2="807.9" stroke="#888" stroke-width="0.8" />
<line x1="477.4" y1="833.0" x2="477.4" y2="827.0" stroke="#888" stroke-width="0.8" />
<line x1="475.6" y1="827.0" x2="479.2" y2="827.0" stroke="#888" stroke-width="0.8" />
<line x1="495.4" y1="835.6" x2="495.4" y2="833.0" stroke="#888" stroke-width="0.8" />
<line x1="493.6" y1="833.0" x2="497.2" y2="833.0" stroke="#888" stroke-width="0.8" />
<line x1="513.1" y1="831.0" x2="513.1" y2="827.7" stroke="#888" stroke-width="0.8" />
<line x1="511.3" y1="827.7" x2="514.9" y2="827.7" stroke="#888" stroke-width="0.8" />
<line x1="530.4" y1="813.8" x2="530.4" y2="811.2" stroke="#888" stroke-width="0.8" />
<line x1="528.6" y1="811.2" x2="532.2" y2="811.2" stroke="#888" stroke-width="0.8" />
<polyline points="458.7,809.9 477.4,833.0 495.4,835.6 513.1,831.0 530.4,813.8" fill="none" stroke="#e8192c" stroke-width="1.1" stroke-linejoin="round" />
<circle cx="458.7" cy="809.9" r="2.3" fill="#e8192c" stroke="none" stroke-width="0.8"/>
<circle cx="477.4" cy="833.0" r="2.3" fill="#e8192c" stroke="none" stroke-width="0.8"/>
<circle cx="495.4" cy="835.6" r="2.3" fill="#e8192c" stroke="none" stroke-width="0.8"/>
<circle cx="513.1" cy="831.0" r="2.3" fill="#e8192c" stroke="none" stroke-width="0.8"/>
<circle cx="530.4" cy="813.8" r="2.3" fill="#e8192c" stroke="none" stroke-width="0.8"/>
<line x1="454.5" y1="765.5" x2="465.6" y2="765.5" stroke="#333" stroke-width="0.9" />
<circle cx="460.1" cy="765.5" r="2.0" fill="#b4b4b4" stroke="none" stroke-width="0.8"/>
<text x="466.4" y="769.4" font-size="10.8" fill="#111">Control/Veh</text>
<line x1="454.5" y1="776.0" x2="465.6" y2="776.0" stroke="#333" stroke-width="0.9" />
<circle cx="460.1" cy="776.0" r="2.0" fill="#111" stroke="none" stroke-width="0.8"/>
<text x="466.4" y="779.9" font-size="10.8" fill="#111">Control/Cg</text>
<line x1="454.5" y1="786.5" x2="465.6" y2="786.5" stroke="#333" stroke-width="0.9" />
<circle cx="460.1" cy="786.5" r="2.0" fill="#f2a0aa" stroke="none" stroke-width="0.8"/>
<text x="466.4" y="790.4" font-size="10.8" fill="#111"><tspan font-style="italic">Plp-Trpa1</tspan>/Veh</text>
<line x1="454.5" y1="797.0" x2="465.6" y2="797.0" stroke="#333" stroke-width="0.9" />
<circle cx="460.1" cy="797.0" r="2.0" fill="#e8192c" stroke="none" stroke-width="0.8"/>
<text x="466.4" y="800.9" font-size="10.8" fill="#111"><tspan font-style="italic">Plp-Trpa1</tspan>/Cg</text>
<text x="496.2" y="844.1" font-size="8" text-anchor="middle" fill="#333" letter-spacing="-1.6">††††</text>
<text x="513.9" y="842.5" font-size="8" text-anchor="middle" fill="#333" letter-spacing="-1.6">††††</text>
<text x="531.2" y="822.6" font-size="8" text-anchor="middle" fill="#333" letter-spacing="-1.6">††</text>
<text x="477.4" y="852.1" font-size="8" text-anchor="middle" fill="#222" >****</text>
<text x="495.4" y="878.5" font-size="8" text-anchor="middle" fill="#222" >****</text>
<text x="513.1" y="889.9" font-size="8" text-anchor="middle" fill="#222" >****</text>
<text x="535.0" y="848.6" font-size="8" text-anchor="middle" fill="#222" >***</text>
<line x1="464.0" y1="895.0" x2="464.0" y2="901.0" stroke="#111" stroke-width="1" />
<polygon points="462.0,899.5 466.0,899.5 464.0,903.5" fill="#111" stroke="none" stroke-width="0" />
<text x="514.7" y="934.5" font-size="10.6" text-anchor="middle" fill="#111" >Time (h)</text>
<text x="430.0" y="764.4" font-size="15.5" font-weight="bold" fill="#000">o</text>
<text x="425.6" y="844.7" font-size="10.6" text-anchor="middle" fill="#111" transform="rotate(-90 425.6 840.9)" >Threshold (g)</text>
<line x1="583.4" y1="774.9" x2="583.4" y2="906.9" stroke="#222" stroke-width="1" />
<line x1="579.4" y1="906.9" x2="583.4" y2="906.9" stroke="#222" stroke-width="1" />
<text x="578.6" y="910.7" font-size="10.5" text-anchor="end" fill="#111" >0.0</text>
<line x1="579.4" y1="873.9" x2="583.4" y2="873.9" stroke="#222" stroke-width="1" />
<text x="578.6" y="877.7" font-size="10.5" text-anchor="end" fill="#111" >0.5</text>
<line x1="579.4" y1="840.9" x2="583.4" y2="840.9" stroke="#222" stroke-width="1" />
<text x="578.6" y="844.7" font-size="10.5" text-anchor="end" fill="#111" >1.0</text>
<line x1="579.4" y1="807.9" x2="583.4" y2="807.9" stroke="#222" stroke-width="1" />
<text x="578.6" y="811.7" font-size="10.5" text-anchor="end" fill="#111" >1.5</text>
<line x1="579.4" y1="774.9" x2="583.4" y2="774.9" stroke="#222" stroke-width="1" />
<text x="578.6" y="778.7" font-size="10.5" text-anchor="end" fill="#111" >2.0</text>
<line x1="583.4" y1="906.9" x2="671.7" y2="906.9" stroke="#222" stroke-width="1" />
<line x1="588.1" y1="906.9" x2="588.1" y2="910.9" stroke="#222" stroke-width="1" />
<line x1="604.4" y1="906.9" x2="604.4" y2="910.9" stroke="#222" stroke-width="1" />
<line x1="619.1" y1="906.9" x2="619.1" y2="910.9" stroke="#222" stroke-width="1" />
<line x1="633.6" y1="906.9" x2="633.6" y2="910.9" stroke="#222" stroke-width="1" />
<line x1="648.1" y1="906.9" x2="648.1" y2="910.9" stroke="#222" stroke-width="1" />
<line x1="662.8" y1="906.9" x2="662.8" y2="910.9" stroke="#222" stroke-width="1" />
<text x="586.1" y="921.2" font-size="10.5" text-anchor="middle" fill="#111" >BL</text>
<text x="604.4" y="921.2" font-size="10.5" text-anchor="middle" fill="#111" >0</text>
<text x="619.1" y="921.2" font-size="10.5" text-anchor="middle" fill="#111" >0.5</text>
<text x="633.6" y="921.2" font-size="10.5" text-anchor="middle" fill="#111" >1</text>
<text x="648.1" y="921.2" font-size="10.5" text-anchor="middle" fill="#111" >2</text>
<text x="662.8" y="921.2" font-size="10.5" text-anchor="middle" fill="#111" >4</text>
<line x1="588.1" y1="810.5" x2="588.1" y2="808.6" stroke="#b4b4b4" stroke-width="0.8" />
<line x1="586.3" y1="808.6" x2="589.9" y2="808.6" stroke="#b4b4b4" stroke-width="0.8" />
<line x1="604.4" y1="810.5" x2="604.4" y2="808.6" stroke="#b4b4b4" stroke-width="0.8" />
<line x1="602.6" y1="808.6" x2="606.2" y2="808.6" stroke="#b4b4b4" stroke-width="0.8" />
<line x1="619.1" y1="813.2" x2="619.1" y2="811.2" stroke="#b4b4b4" stroke-width="0.8" />
<line x1="617.3" y1="811.2" x2="620.9" y2="811.2" stroke="#b4b4b4" stroke-width="0.8" />
<line x1="633.6" y1="807.9" x2="633.6" y2="806.6" stroke="#b4b4b4" stroke-width="0.8" />
<line x1="631.8" y1="806.6" x2="635.4" y2="806.6" stroke="#b4b4b4" stroke-width="0.8" />
<line x1="648.1" y1="809.9" x2="648.1" y2="807.9" stroke="#b4b4b4" stroke-width="0.8" />
<line x1="646.3" y1="807.9" x2="649.9" y2="807.9" stroke="#b4b4b4" stroke-width="0.8" />
<line x1="662.8" y1="816.5" x2="662.8" y2="813.8" stroke="#b4b4b4" stroke-width="0.8" />
<line x1="661.0" y1="813.8" x2="664.6" y2="813.8" stroke="#b4b4b4" stroke-width="0.8" />
<polyline points="588.1,810.5 604.4,810.5 619.1,813.2 633.6,807.9 648.1,809.9 662.8,816.5" fill="none" stroke="#b4b4b4" stroke-width="1.1" stroke-linejoin="round" />
<circle cx="588.1" cy="810.5" r="2.3" fill="#b4b4b4" stroke="none" stroke-width="0.8"/>
<circle cx="604.4" cy="810.5" r="2.3" fill="#b4b4b4" stroke="none" stroke-width="0.8"/>
<circle cx="619.1" cy="813.2" r="2.3" fill="#b4b4b4" stroke="none" stroke-width="0.8"/>
<circle cx="633.6" cy="807.9" r="2.3" fill="#b4b4b4" stroke="none" stroke-width="0.8"/>
<circle cx="648.1" cy="809.9" r="2.3" fill="#b4b4b4" stroke="none" stroke-width="0.8"/>
<circle cx="662.8" cy="816.5" r="2.3" fill="#b4b4b4" stroke="none" stroke-width="0.8"/>
<line x1="588.1" y1="811.2" x2="588.1" y2="809.2" stroke="#888" stroke-width="0.8" />
<line x1="586.3" y1="809.2" x2="589.9" y2="809.2" stroke="#888" stroke-width="0.8" />
<line x1="604.4" y1="872.6" x2="604.4" y2="869.9" stroke="#888" stroke-width="0.8" />
<line x1="602.6" y1="869.9" x2="606.2" y2="869.9" stroke="#888" stroke-width="0.8" />
<line x1="619.1" y1="873.2" x2="619.1" y2="868.6" stroke="#888" stroke-width="0.8" />
<line x1="617.3" y1="868.6" x2="620.9" y2="868.6" stroke="#888" stroke-width="0.8" />
<line x1="633.6" y1="879.8" x2="633.6" y2="877.9" stroke="#888" stroke-width="0.8" />
<line x1="631.8" y1="877.9" x2="635.4" y2="877.9" stroke="#888" stroke-width="0.8" />
<line x1="648.1" y1="872.6" x2="648.1" y2="869.3" stroke="#888" stroke-width="0.8" />
<line x1="646.3" y1="869.3" x2="649.9" y2="869.3" stroke="#888" stroke-width="0.8" />
<line x1="662.8" y1="872.6" x2="662.8" y2="870.6" stroke="#888" stroke-width="0.8" />
<line x1="661.0" y1="870.6" x2="664.6" y2="870.6" stroke="#888" stroke-width="0.8" />
<polyline points="588.1,811.2 604.4,872.6 619.1,873.2 633.6,879.8 648.1,872.6 662.8,872.6" fill="none" stroke="#111" stroke-width="1.1" stroke-linejoin="round" />
<circle cx="588.1" cy="811.2" r="2.3" fill="#111" stroke="none" stroke-width="0.8"/>
<circle cx="604.4" cy="872.6" r="2.3" fill="#111" stroke="none" stroke-width="0.8"/>
<circle cx="619.1" cy="873.2" r="2.3" fill="#111" stroke="none" stroke-width="0.8"/>
<circle cx="633.6" cy="879.8" r="2.3" fill="#111" stroke="none" stroke-width="0.8"/>
<circle cx="648.1" cy="872.6" r="2.3" fill="#111" stroke="none" stroke-width="0.8"/>
<circle cx="662.8" cy="872.6" r="2.3" fill="#111" stroke="none" stroke-width="0.8"/>
<line x1="588.1" y1="809.2" x2="588.1" y2="807.2" stroke="#f2a0aa" stroke-width="0.8" />
<line x1="586.3" y1="807.2" x2="589.9" y2="807.2" stroke="#f2a0aa" stroke-width="0.8" />
<line x1="604.4" y1="811.9" x2="604.4" y2="809.2" stroke="#f2a0aa" stroke-width="0.8" />
<line x1="602.6" y1="809.2" x2="606.2" y2="809.2" stroke="#f2a0aa" stroke-width="0.8" />
<line x1="619.1" y1="809.2" x2="619.1" y2="807.2" stroke="#f2a0aa" stroke-width="0.8" />
<line x1="617.3" y1="807.2" x2="620.9" y2="807.2" stroke="#f2a0aa" stroke-width="0.8" />
<line x1="633.6" y1="811.9" x2="633.6" y2="809.9" stroke="#f2a0aa" stroke-width="0.8" />
<line x1="631.8" y1="809.9" x2="635.4" y2="809.9" stroke="#f2a0aa" stroke-width="0.8" />
<line x1="648.1" y1="810.5" x2="648.1" y2="808.6" stroke="#f2a0aa" stroke-width="0.8" />
<line x1="646.3" y1="808.6" x2="649.9" y2="808.6" stroke="#f2a0aa" stroke-width="0.8" />
<line x1="662.8" y1="812.5" x2="662.8" y2="808.6" stroke="#f2a0aa" stroke-width="0.8" />
<line x1="661.0" y1="808.6" x2="664.6" y2="808.6" stroke="#f2a0aa" stroke-width="0.8" />
<polyline points="588.1,809.2 604.4,811.9 619.1,809.2 633.6,811.9 648.1,810.5 662.8,812.5" fill="none" stroke="#f2a0aa" stroke-width="1.1" stroke-linejoin="round" />
<circle cx="588.1" cy="809.2" r="2.3" fill="#f2a0aa" stroke="none" stroke-width="0.8"/>
<circle cx="604.4" cy="811.9" r="2.3" fill="#f2a0aa" stroke="none" stroke-width="0.8"/>
<circle cx="619.1" cy="809.2" r="2.3" fill="#f2a0aa" stroke="none" stroke-width="0.8"/>
<circle cx="633.6" cy="811.9" r="2.3" fill="#f2a0aa" stroke="none" stroke-width="0.8"/>
<circle cx="648.1" cy="810.5" r="2.3" fill="#f2a0aa" stroke="none" stroke-width="0.8"/>
<circle cx="662.8" cy="812.5" r="2.3" fill="#f2a0aa" stroke="none" stroke-width="0.8"/>
<line x1="588.1" y1="809.9" x2="588.1" y2="807.9" stroke="#888" stroke-width="0.8" />
<line x1="586.3" y1="807.9" x2="589.9" y2="807.9" stroke="#888" stroke-width="0.8" />
<line x1="604.4" y1="831.0" x2="604.4" y2="828.4" stroke="#888" stroke-width="0.8" />
<line x1="602.6" y1="828.4" x2="606.2" y2="828.4" stroke="#888" stroke-width="0.8" />
<line x1="619.1" y1="831.0" x2="619.1" y2="827.7" stroke="#888" stroke-width="0.8" />
<line x1="617.3" y1="827.7" x2="620.9" y2="827.7" stroke="#888" stroke-width="0.8" />
<line x1="633.6" y1="831.0" x2="633.6" y2="828.4" stroke="#888" stroke-width="0.8" />
<line x1="631.8" y1="828.4" x2="635.4" y2="828.4" stroke="#888" stroke-width="0.8" />
<line x1="648.1" y1="831.7" x2="648.1" y2="829.7" stroke="#888" stroke-width="0.8" />
<line x1="646.3" y1="829.7" x2="649.9" y2="829.7" stroke="#888" stroke-width="0.8" />
<line x1="662.8" y1="829.0" x2="662.8" y2="826.4" stroke="#888" stroke-width="0.8" />
<line x1="661.0" y1="826.4" x2="664.6" y2="826.4" stroke="#888" stroke-width="0.8" />
<polyline points="588.1,809.9 604.4,831.0 619.1,831.0 633.6,831.0 648.1,831.7 662.8,829.0" fill="none" stroke="#e8192c" stroke-width="1.1" stroke-linejoin="round" />
<circle cx="588.1" cy="809.9" r="2.3" fill="#e8192c" stroke="none" stroke-width="0.8"/>
<circle cx="604.4" cy="831.0" r="2.3" fill="#e8192c" stroke="none" stroke-width="0.8"/>
<circle cx="619.1" cy="831.0" r="2.3" fill="#e8192c" stroke="none" stroke-width="0.8"/>
<circle cx="633.6" cy="831.0" r="2.3" fill="#e8192c" stroke="none" stroke-width="0.8"/>
<circle cx="648.1" cy="831.7" r="2.3" fill="#e8192c" stroke="none" stroke-width="0.8"/>
<circle cx="662.8" cy="829.0" r="2.3" fill="#e8192c" stroke="none" stroke-width="0.8"/>
<line x1="586.9" y1="766.0" x2="597.9" y2="766.0" stroke="#333" stroke-width="0.9" />
<circle cx="592.4" cy="766.0" r="2.0" fill="#b4b4b4" stroke="none" stroke-width="0.8"/>
<text x="599.3" y="769.9" font-size="10.8" fill="#111">Control/Veh</text>
<line x1="586.9" y1="776.0" x2="597.9" y2="776.0" stroke="#333" stroke-width="0.9" />
<circle cx="592.4" cy="776.0" r="2.0" fill="#111" stroke="none" stroke-width="0.8"/>
<text x="599.3" y="779.9" font-size="10.8" fill="#111">Control/CFA</text>
<line x1="586.9" y1="787.0" x2="597.9" y2="787.0" stroke="#333" stroke-width="0.9" />
<circle cx="592.4" cy="787.0" r="2.0" fill="#f2a0aa" stroke="none" stroke-width="0.8"/>
<text x="599.3" y="790.9" font-size="10.8" fill="#111"><tspan font-style="italic">Plp-Trpa1</tspan>/Veh</text>
<line x1="586.9" y1="796.4" x2="597.9" y2="796.4" stroke="#333" stroke-width="0.9" />
<circle cx="592.4" cy="796.4" r="2.0" fill="#e8192c" stroke="none" stroke-width="0.8"/>
<text x="599.3" y="800.3" font-size="10.8" fill="#111"><tspan font-style="italic">Plp-Trpa1</tspan>/CFA</text>
<text x="605.2" y="841.3" font-size="8" text-anchor="middle" fill="#333" letter-spacing="-1.6">††††</text>
<text x="619.9" y="843.6" font-size="8" text-anchor="middle" fill="#333" letter-spacing="-1.6">††††</text>
<text x="634.4" y="841.9" font-size="8" text-anchor="middle" fill="#333" letter-spacing="-1.6">††††</text>
<text x="648.9" y="841.9" font-size="8" text-anchor="middle" fill="#333" letter-spacing="-1.6">††††</text>
<text x="663.6" y="839.5" font-size="8" text-anchor="middle" fill="#333" letter-spacing="-1.6">††††</text>
<text x="604.4" y="883.6" font-size="8" text-anchor="middle" fill="#222" >****</text>
<text x="619.1" y="883.6" font-size="8" text-anchor="middle" fill="#222" >****</text>
<text x="633.6" y="890.6" font-size="8" text-anchor="middle" fill="#222" >****</text>
<text x="648.1" y="883.6" font-size="8" text-anchor="middle" fill="#222" >****</text>
<text x="662.8" y="883.6" font-size="8" text-anchor="middle" fill="#222" >****</text>
<line x1="595.0" y1="895.0" x2="595.0" y2="901.0" stroke="#111" stroke-width="1" />
<polygon points="593.0,899.5 597.0,899.5 595.0,903.5" fill="#111" stroke="none" stroke-width="0" />
<text x="646.5" y="934.5" font-size="10.6" text-anchor="middle" fill="#111" >Time (h)</text>
<line x1="604.0" y1="935.9" x2="604.0" y2="938.9" stroke="#222" stroke-width="1" />
<line x1="662.8" y1="935.9" x2="662.8" y2="938.9" stroke="#222" stroke-width="1" />
<line x1="604.0" y1="938.9" x2="662.8" y2="938.9" stroke="#222" stroke-width="1" />
<text x="633.4" y="949.2" font-size="10.6" text-anchor="middle" fill="#111" >Day 2</text>
<text x="556.0" y="763.7" font-size="15.5" font-weight="bold" fill="#000">p</text>
<text x="555.4" y="844.7" font-size="10.6" text-anchor="middle" fill="#111" transform="rotate(-90 555.4 840.9)" >Threshold (g)</text>
<text x="100.6" y="994.0" font-size="15.5" font-weight="bold" fill="#000">q</text>
<polygon points="111.7,1037.3 116.0,1027.3 132.0,1027.3 128.5,1037.3 132.0,1047.3 116.0,1047.3" fill="#8fd6a0" stroke="#777" stroke-width="0.6" />
<polygon points="128.5,1037.3 132.0,1027.3 147.0,1027.3 150.2,1033.3 150.2,1041.3 147.0,1047.3 132.0,1047.3" fill="#eab0ee" stroke="#777" stroke-width="0.6" />
<text x="121.5" y="1040.7" font-size="9.4" text-anchor="middle" fill="#222" >CA</text>
<text x="139.5" y="1040.7" font-size="9.4" text-anchor="middle" fill="#222" >RA</text>
<polygon points="111.7,1057.7 116.0,1047.7 132.0,1047.7 128.5,1057.7 132.0,1067.7 116.0,1067.7" fill="#8fd6a0" stroke="#777" stroke-width="0.6" />
<polygon points="128.5,1057.7 132.0,1047.7 147.0,1047.7 150.2,1053.7 150.2,1061.7 147.0,1067.7 132.0,1067.7" fill="#eab0ee" stroke="#777" stroke-width="0.6" />
<text x="121.5" y="1061.1" font-size="9.4" text-anchor="middle" fill="#222" >CA</text>
<text x="139.5" y="1061.1" font-size="9.4" text-anchor="middle" fill="#222" >RA</text>
<path d="M139.3,1020 A7.3,7.3 0 1 0 133.75,1024.6 Z" fill="#f8c232" stroke="#777" stroke-width="0.5"/>
<path d="M133,1078.5 L139.06,1074.26 A7.4,7.4 0 1 0 139.95,1081.03 Z" fill="#f8c232" stroke="#777" stroke-width="0.5"/>
<line x1="129.0" y1="1024.0" x2="127.5" y2="1027.5" stroke="#666" stroke-width="0.6" />
<line x1="128.0" y1="1068.0" x2="128.5" y2="1071.0" stroke="#666" stroke-width="0.6" />
<line x1="133.0" y1="1079.0" x2="147.0" y2="1085.0" stroke="#555" stroke-width="0.6" />
<text x="148.3" y="1089.2" font-size="9.4" text-anchor="start" fill="#222" >LgBiT</text>
<path d="M152,1047.5 L182,1047.5" stroke="#222" stroke-width="0.8"/>
<polygon points="185.0,1047.5 180.5,1045.6 180.5,1049.4" fill="#222" stroke="none" stroke-width="0" />
<path d="M160,1056 Q161,1050 168,1048" fill="none" stroke="#222" stroke-width="0.7"/>
<circle cx="155.0" cy="1057.0" r="2.1" fill="#e81818" stroke="none" stroke-width="0.8"/>
<circle cx="162.5" cy="1057.0" r="2.1" fill="#e81818" stroke="none" stroke-width="0.8"/>
<circle cx="155.0" cy="1063.5" r="2.1" fill="#e81818" stroke="none" stroke-width="0.8"/>
<circle cx="160.5" cy="1063.5" r="2.1" fill="#e81818" stroke="none" stroke-width="0.8"/>
<text x="153.6" y="1072.2" font-size="7.0" text-anchor="start" fill="#222" >cAMP</text>
<rect x="171.0" y="1014.5" width="61.4" height="3.2" fill="#d8d0b8" stroke="none" stroke-width="0.8"/>
<rect x="171.0" y="1021.0" width="61.4" height="3.2" fill="#d8d0b8" stroke="none" stroke-width="0.8"/>
<line x1="171.0" y1="1016.8" x2="232.4" y2="1016.8" stroke="#a89c80" stroke-width="0.7" />
<line x1="171.0" y1="1021.8" x2="232.4" y2="1021.8" stroke="#a89c80" stroke-width="0.7" />
<text x="153.4" y="998.2" font-size="9.8" text-anchor="start" fill="#222" >TRPA1</text>
<rect x="177.5" y="1003.4" width="5.2" height="28.9" fill="#7d98cc" stroke="#44588a" stroke-width="0.5"/>
<rect x="184.5" y="1003.4" width="5.2" height="28.9" fill="#7d98cc" stroke="#44588a" stroke-width="0.5"/>
<rect x="191.5" y="1003.4" width="5.2" height="28.9" fill="#7d98cc" stroke="#44588a" stroke-width="0.5"/>
<rect x="198.5" y="1003.4" width="5.2" height="28.9" fill="#7d98cc" stroke="#44588a" stroke-width="0.5"/>
<rect x="205.5" y="1003.4" width="5.2" height="28.9" fill="#7d98cc" stroke="#44588a" stroke-width="0.5"/>
<rect x="220.5" y="1003.4" width="5.2" height="28.9" fill="#7d98cc" stroke="#44588a" stroke-width="0.5"/>
<path d="M180,1003.4 Q183,997 187,1003.4 M194,1003.4 Q197,997 201,1003.4 M208,1003.4 Q212,997 215,1003 L216,1015 M216,1003 Q219,997 223,1003.4" fill="none" stroke="#333" stroke-width="0.5"/>
<path d="M187,1032.3 Q190.5,1037 194,1032.3 M201,1032.3 Q204.5,1037 208,1032.3 M174,1034 Q176,1030 178.5,1032.3" fill="none" stroke="#333" stroke-width="0.5"/>
<circle cx="215.3" cy="1041.2" r="11.2" fill="#fbefc8" stroke="none" stroke-width="0.8"/>
<circle cx="215.3" cy="1041.2" r="9.6" fill="#f3dc90" stroke="none" stroke-width="0.8"/>
<circle cx="215.3" cy="1041.2" r="7.8" fill="#f8c232" stroke="#555" stroke-width="0.6"/>
<path d="M215.8,1033.4 A7.8,7.8 0 0 1 222.6,1044 Q219,1038 215.8,1033.4 Z" fill="#7a5a2a"/>
<line x1="219.0" y1="1046.0" x2="223.5" y2="1061.0" stroke="#555" stroke-width="0.6" />
<polygon points="193.0,1062.3 199.0,1052.0 213.4,1052.0 208.0,1062.3 213.4,1072.6 199.0,1072.6" fill="#8fd6a0" stroke="#777" stroke-width="0.6" />
<text x="203.0" y="1065.7" font-size="9.4" text-anchor="middle" fill="#222" >CA</text>
<text x="214.9" y="1070.2" font-size="9.4" text-anchor="start" fill="#222" >SmBiT</text>
<text x="287.2" y="963.1" font-size="15.5" font-weight="bold" fill="#000">r</text>
<line x1="322.0" y1="969.0" x2="322.0" y2="1102.6" stroke="#222" stroke-width="1" />
<line x1="318.0" y1="969.0" x2="322.0" y2="969.0" stroke="#222" stroke-width="1" />
<text x="317.2" y="972.8" font-size="10.5" text-anchor="end" fill="#111" >3</text>
<line x1="318.0" y1="1002.4" x2="322.0" y2="1002.4" stroke="#222" stroke-width="1" />
<text x="317.2" y="1006.2" font-size="10.5" text-anchor="end" fill="#111" >2</text>
<line x1="318.0" y1="1035.8" x2="322.0" y2="1035.8" stroke="#222" stroke-width="1" />
<text x="317.2" y="1039.6" font-size="10.5" text-anchor="end" fill="#111" >1</text>
<line x1="318.0" y1="1069.2" x2="322.0" y2="1069.2" stroke="#222" stroke-width="1" />
<text x="317.2" y="1073.0" font-size="10.5" text-anchor="end" fill="#111" >0</text>
<line x1="318.0" y1="1102.6" x2="322.0" y2="1102.6" stroke="#222" stroke-width="1" />
<text x="317.2" y="1106.4" font-size="10.5" text-anchor="end" fill="#111" >-1</text>
<line x1="322.0" y1="1102.6" x2="479.5" y2="1102.6" stroke="#222" stroke-width="1" />
<line x1="322.0" y1="1102.6" x2="322.0" y2="1106.6" stroke="#222" stroke-width="1" />
<text x="322.0" y="1118.0" font-size="10.5" text-anchor="middle" fill="#111" >0</text>
<line x1="374.2" y1="1102.6" x2="374.2" y2="1106.6" stroke="#222" stroke-width="1" />
<text x="374.2" y="1118.0" font-size="10.5" text-anchor="middle" fill="#111" >200</text>
<line x1="426.5" y1="1102.6" x2="426.5" y2="1106.6" stroke="#222" stroke-width="1" />
<text x="426.5" y="1118.0" font-size="10.5" text-anchor="middle" fill="#111" >400</text>
<line x1="478.7" y1="1102.6" x2="478.7" y2="1106.6" stroke="#222" stroke-width="1" />
<text x="478.7" y="1118.0" font-size="10.5" text-anchor="middle" fill="#111" >600</text>
<text x="287.7" y="1037.8" font-size="10.6" text-anchor="middle" fill="#111" transform="rotate(-90 287.7 1034.0)" >RLU</text>
<text x="298.0" y="1035.7" font-size="10.4" text-anchor="middle" fill="#111" transform="rotate(-90 298.0 1032.0)" >(LgBiT-PKA/TRPA1-SmBiT)</text>
<text x="405.7" y="1131.8" font-size="10.6" text-anchor="middle" fill="#111" >Time (s)</text>
<line x1="322.0" y1="1069.5" x2="478.0" y2="1069.5" stroke="#111" stroke-width="1.0" stroke-dasharray="3,2" />
<line x1="342.5" y1="1050.0" x2="342.5" y2="1102.6" stroke="#111" stroke-width="1.0" stroke-dasharray="3.5,2.5" />
<text x="342.0" y="1047.4" font-size="10.4" text-anchor="middle" fill="#111" >PGE<tspan font-size="7" dy="2">2</tspan></text>
<path d="M322.0 1072.0L322.0 1069.7M320.7 1069.7L323.3 1069.7M325.1 1074.9L325.1 1072.4M323.8 1072.4L326.4 1072.4M328.3 1074.2L328.3 1072.4M327.0 1072.4L329.6 1072.4M331.4 1075.3L331.4 1073.9M330.1 1073.9L332.7 1073.9M334.5 1075.4L334.5 1073.6M333.2 1073.6L335.8 1073.6M337.7 1077.9L337.7 1076.2M336.4 1076.2L339.0 1076.2M340.8 1079.8L340.8 1078.2M339.5 1078.2L342.1 1078.2M343.9 1082.6L343.9 1081.1M342.6 1081.1L345.2 1081.1M347.1 1079.0L347.1 1077.5M345.8 1077.5L348.4 1077.5M350.2 1078.1L350.2 1075.8M348.9 1075.8L351.5 1075.8M353.3 1078.9L353.3 1077.4M352.0 1077.4L354.6 1077.4M356.5 1081.4L356.5 1079.3M355.2 1079.3L357.8 1079.3M359.6 1079.5L359.6 1077.9M358.3 1077.9L360.9 1077.9M362.7 1081.2L362.7 1079.6M361.4 1079.6L364.0 1079.6M365.9 1078.1L365.9 1075.8M364.6 1075.8L367.2 1075.8M369.0 1081.0L369.0 1079.2M367.7 1079.2L370.3 1079.2M372.1 1078.9L372.1 1077.3M370.8 1077.3L373.4 1077.3M375.3 1079.1L375.3 1077.2M374.0 1077.2L376.6 1077.2M378.4 1079.9L378.4 1077.7M377.1 1077.7L379.7 1077.7M381.5 1080.8L381.5 1078.8M380.2 1078.8L382.8 1078.8M384.7 1081.4L384.7 1079.0M383.4 1079.0L386.0 1079.0M387.8 1081.9L387.8 1080.1M386.5 1080.1L389.1 1080.1M390.9 1080.5L390.9 1078.5M389.6 1078.5L392.2 1078.5M394.1 1082.2L394.1 1080.1M392.8 1080.1L395.4 1080.1M397.2 1083.1L397.2 1081.2M395.9 1081.2L398.5 1081.2M400.4 1078.8L400.4 1076.6M399.1 1076.6L401.7 1076.6M403.5 1080.0L403.5 1078.1M402.2 1078.1L404.8 1078.1M406.6 1082.5L406.6 1080.9M405.3 1080.9L407.9 1080.9M409.8 1083.4L409.8 1081.9M408.5 1081.9L411.1 1081.9M412.9 1082.8L412.9 1080.5M411.6 1080.5L414.2 1080.5M416.0 1081.8L416.0 1079.5M414.7 1079.5L417.3 1079.5M419.2 1084.3L419.2 1081.9M417.9 1081.9L420.5 1081.9M422.3 1082.0L422.3 1079.9M421.0 1079.9L423.6 1079.9M425.4 1081.7L425.4 1079.7M424.1 1079.7L426.7 1079.7M428.6 1082.5L428.6 1080.9M427.3 1080.9L429.9 1080.9M431.7 1085.4L431.7 1083.1M430.4 1083.1L433.0 1083.1M434.8 1085.5L434.8 1084.0M433.5 1084.0L436.1 1084.0M438.0 1084.2L438.0 1082.3M436.7 1082.3L439.3 1082.3M441.1 1081.1L441.1 1079.5M439.8 1079.5L442.4 1079.5M444.2 1083.3L444.2 1081.5M442.9 1081.5L445.5 1081.5M447.4 1085.0L447.4 1083.2M446.1 1083.2L448.7 1083.2M450.5 1083.3L450.5 1081.5M449.2 1081.5L451.8 1081.5M453.6 1086.3L453.6 1084.1M452.3 1084.1L454.9 1084.1M456.8 1084.3L456.8 1082.3M455.5 1082.3L458.1 1082.3M459.9 1085.3L459.9 1083.6M458.6 1083.6L461.2 1083.6M463.0 1083.3L463.0 1081.1M461.7 1081.1L464.3 1081.1M466.2 1082.6L466.2 1080.4M464.9 1080.4L467.5 1080.4M469.3 1084.8L469.3 1082.5M468.0 1082.5L470.6 1082.5M472.4 1083.5L472.4 1082.1M471.1 1082.1L473.7 1082.1" stroke="#f6bf28" stroke-width="0.7" fill="none" opacity="0.8"/>
<polyline points="322.0,1072.0 323.6,1073.0 325.1,1074.9 326.7,1072.9 328.3,1074.2 329.8,1074.6 331.4,1075.3 333.0,1074.1 334.5,1075.4 336.1,1075.5 337.7,1077.9 339.2,1078.6 340.8,1079.8 342.4,1079.3 343.9,1082.6 345.5,1077.2 347.1,1079.0 348.6,1079.1 350.2,1078.1 351.8,1079.7 353.3,1078.9 354.9,1078.4 356.5,1081.4 358.0,1077.4 359.6,1079.5 361.2,1079.1 362.7,1081.2 364.3,1080.8 365.9,1078.1 367.4,1081.0 369.0,1081.0 370.6,1080.0 372.1,1078.9 373.7,1083.9 375.3,1079.1 376.8,1080.6 378.4,1079.9 380.0,1082.4 381.5,1080.8 383.1,1079.2 384.7,1081.4 386.2,1082.1 387.8,1081.9 389.4,1082.1 390.9,1080.5 392.5,1081.3 394.1,1082.2 395.6,1080.7 397.2,1083.1 398.8,1083.6 400.4,1078.8 401.9,1082.7 403.5,1080.0 405.1,1082.2 406.6,1082.5 408.2,1081.6 409.8,1083.4 411.3,1083.5 412.9,1082.8 414.5,1083.1 416.0,1081.8 417.6,1080.3 419.2,1084.3 420.7,1084.0 422.3,1082.0 423.9,1082.4 425.4,1081.7 427.0,1084.2 428.6,1082.5 430.1,1083.4 431.7,1085.4 433.3,1082.9 434.8,1085.5 436.4,1082.9 438.0,1084.2 439.5,1084.0 441.1,1081.1 442.7,1081.9 444.2,1083.3 445.8,1083.4 447.4,1085.0 448.9,1082.5 450.5,1083.3 452.1,1085.3 453.6,1086.3 455.2,1084.1 456.8,1084.3 458.3,1082.9 459.9,1085.3 461.5,1085.0 463.0,1083.3 464.6,1083.7 466.2,1082.6 467.7,1082.3 469.3,1084.8 470.9,1086.6 472.4,1083.5" fill="none" stroke="#f6bf28" stroke-width="1.1" stroke-linejoin="round" />
<path d="M322.0 1070.2L322.0 1068.0M320.7 1068.0L323.3 1068.0M325.1 1072.2L325.1 1069.2M323.8 1069.2L326.4 1069.2M328.3 1073.7L328.3 1071.0M327.0 1071.0L329.6 1071.0M331.4 1071.2L331.4 1068.7M330.1 1068.7L332.7 1068.7M334.5 1072.1L334.5 1068.9M333.2 1068.9L335.8 1068.9M337.7 1071.1L337.7 1068.7M336.4 1068.7L339.0 1068.7M340.8 1073.9L340.8 1070.8M339.5 1070.8L342.1 1070.8M343.9 1073.5L343.9 1071.6M342.6 1071.6L345.2 1071.6M347.1 1069.6L347.1 1066.4M345.8 1066.4L348.4 1066.4M350.2 1069.2L350.2 1067.1M348.9 1067.1L351.5 1067.1M353.3 1069.1L353.3 1067.2M352.0 1067.2L354.6 1067.2M356.5 1069.7L356.5 1066.5M355.2 1066.5L357.8 1066.5M359.6 1069.9L359.6 1067.0M358.3 1067.0L360.9 1067.0M362.7 1070.6L362.7 1067.8M361.4 1067.8L364.0 1067.8M365.9 1070.8L365.9 1067.8M364.6 1067.8L367.2 1067.8M369.0 1071.8L369.0 1069.4M367.7 1069.4L370.3 1069.4M372.1 1072.7L372.1 1070.6M370.8 1070.6L373.4 1070.6M375.3 1070.9L375.3 1068.6M374.0 1068.6L376.6 1068.6M378.4 1072.4L378.4 1069.1M377.1 1069.1L379.7 1069.1M381.5 1074.3L381.5 1071.0M380.2 1071.0L382.8 1071.0M384.7 1073.5L384.7 1071.3M383.4 1071.3L386.0 1071.3M387.8 1073.5L387.8 1071.0M386.5 1071.0L389.1 1071.0M390.9 1076.2L390.9 1073.6M389.6 1073.6L392.2 1073.6M394.1 1074.0L394.1 1070.8M392.8 1070.8L395.4 1070.8M397.2 1076.0L397.2 1074.2M395.9 1074.2L398.5 1074.2M400.4 1075.9L400.4 1072.8M399.1 1072.8L401.7 1072.8M403.5 1074.5L403.5 1072.2M402.2 1072.2L404.8 1072.2M406.6 1075.6L406.6 1072.9M405.3 1072.9L407.9 1072.9M409.8 1076.4L409.8 1074.3M408.5 1074.3L411.1 1074.3M412.9 1076.5L412.9 1074.5M411.6 1074.5L414.2 1074.5M416.0 1074.3L416.0 1071.2M414.7 1071.2L417.3 1071.2M419.2 1078.9L419.2 1076.3M417.9 1076.3L420.5 1076.3M422.3 1081.3L422.3 1078.0M421.0 1078.0L423.6 1078.0M425.4 1078.0L425.4 1074.8M424.1 1074.8L426.7 1074.8M428.6 1080.9L428.6 1077.9M427.3 1077.9L429.9 1077.9M431.7 1079.7L431.7 1077.7M430.4 1077.7L433.0 1077.7M434.8 1080.4L434.8 1077.7M433.5 1077.7L436.1 1077.7M438.0 1079.9L438.0 1076.5M436.7 1076.5L439.3 1076.5M441.1 1082.8L441.1 1080.2M439.8 1080.2L442.4 1080.2M444.2 1081.9L444.2 1079.9M442.9 1079.9L445.5 1079.9M447.4 1081.9L447.4 1079.7M446.1 1079.7L448.7 1079.7M450.5 1079.5L450.5 1076.1M449.2 1076.1L451.8 1076.1M453.6 1085.2L453.6 1081.9M452.3 1081.9L454.9 1081.9M456.8 1082.7L456.8 1080.5M455.5 1080.5L458.1 1080.5M459.9 1080.6L459.9 1078.2M458.6 1078.2L461.2 1078.2M463.0 1083.9L463.0 1080.9M461.7 1080.9L464.3 1080.9M466.2 1083.9L466.2 1081.3M464.9 1081.3L467.5 1081.3M469.3 1084.2L469.3 1082.1M468.0 1082.1L470.6 1082.1M472.4 1084.9L472.4 1081.6M471.1 1081.6L473.7 1081.6" stroke="#b060d0" stroke-width="0.7" fill="none" opacity="0.8"/>
<polyline points="322.0,1070.2 323.6,1070.7 325.1,1072.2 326.7,1069.3 328.3,1073.7 329.8,1072.1 331.4,1071.2 333.0,1071.8 334.5,1072.1 336.1,1074.3 337.7,1071.1 339.2,1074.4 340.8,1073.9 342.4,1074.1 343.9,1073.5 345.5,1073.1 347.1,1069.6 348.6,1070.7 350.2,1069.2 351.8,1072.0 353.3,1069.1 354.9,1070.2 356.5,1069.7 358.0,1070.0 359.6,1069.9 361.2,1070.7 362.7,1070.6 364.3,1070.7 365.9,1070.8 367.4,1071.1 369.0,1071.8 370.6,1071.0 372.1,1072.7 373.7,1069.3 375.3,1070.9 376.8,1070.2 378.4,1072.4 380.0,1073.9 381.5,1074.3 383.1,1073.6 384.7,1073.5 386.2,1073.4 387.8,1073.5 389.4,1072.5 390.9,1076.2 392.5,1071.5 394.1,1074.0 395.6,1073.6 397.2,1076.0 398.8,1073.8 400.4,1075.9 401.9,1073.9 403.5,1074.5 405.1,1074.9 406.6,1075.6 408.2,1076.0 409.8,1076.4 411.3,1075.2 412.9,1076.5 414.5,1076.6 416.0,1074.3 417.6,1077.4 419.2,1078.9 420.7,1080.8 422.3,1081.3 423.9,1078.6 425.4,1078.0 427.0,1080.5 428.6,1080.9 430.1,1079.9 431.7,1079.7 433.3,1079.0 434.8,1080.4 436.4,1081.2 438.0,1079.9 439.5,1082.0 441.1,1082.8 442.7,1082.6 444.2,1081.9 445.8,1082.2 447.4,1081.9 448.9,1082.0 450.5,1079.5 452.1,1082.0 453.6,1085.2 455.2,1084.5 456.8,1082.7 458.3,1084.0 459.9,1080.6 461.5,1083.8 463.0,1083.9 464.6,1083.4 466.2,1083.9 467.7,1083.1 469.3,1084.2 470.9,1083.7 472.4,1084.9" fill="none" stroke="#b060d0" stroke-width="1.1" stroke-linejoin="round" />
<path d="M322.0 1070.5L322.0 1068.0M320.7 1068.0L323.3 1068.0M325.1 1069.7L325.1 1067.1M323.8 1067.1L326.4 1067.1M328.3 1072.0L328.3 1069.1M327.0 1069.1L329.6 1069.1M331.4 1071.1L331.4 1068.4M330.1 1068.4L332.7 1068.4M334.5 1073.1L334.5 1070.9M333.2 1070.9L335.8 1070.9M337.7 1075.6L337.7 1073.0M336.4 1073.0L339.0 1073.0M340.8 1074.8L340.8 1072.0M339.5 1072.0L342.1 1072.0M343.9 1071.9L343.9 1069.1M342.6 1069.1L345.2 1069.1M347.1 1070.5L347.1 1067.9M345.8 1067.9L348.4 1067.9M350.2 1065.5L350.2 1063.1M348.9 1063.1L351.5 1063.1M353.3 1060.5L353.3 1058.2M352.0 1058.2L354.6 1058.2M356.5 1059.8L356.5 1057.1M355.2 1057.1L357.8 1057.1M359.6 1055.9L359.6 1053.5M358.3 1053.5L360.9 1053.5M362.7 1056.6L362.7 1054.1M361.4 1054.1L364.0 1054.1M365.9 1053.6L365.9 1051.7M364.6 1051.7L367.2 1051.7M369.0 1056.3L369.0 1054.5M367.7 1054.5L370.3 1054.5M372.1 1054.6L372.1 1052.6M370.8 1052.6L373.4 1052.6M375.3 1055.3L375.3 1053.0M374.0 1053.0L376.6 1053.0M378.4 1056.3L378.4 1054.0M377.1 1054.0L379.7 1054.0M381.5 1055.6L381.5 1053.7M380.2 1053.7L382.8 1053.7M384.7 1057.5L384.7 1055.6M383.4 1055.6L386.0 1055.6M387.8 1057.4L387.8 1054.5M386.5 1054.5L389.1 1054.5M390.9 1056.0L390.9 1054.3M389.6 1054.3L392.2 1054.3M394.1 1058.4L394.1 1055.6M392.8 1055.6L395.4 1055.6M397.2 1058.4L397.2 1055.7M395.9 1055.7L398.5 1055.7M400.4 1058.5L400.4 1056.2M399.1 1056.2L401.7 1056.2M403.5 1058.9L403.5 1056.0M402.2 1056.0L404.8 1056.0M406.6 1060.0L406.6 1057.4M405.3 1057.4L407.9 1057.4M409.8 1061.3L409.8 1059.6M408.5 1059.6L411.1 1059.6M412.9 1062.0L412.9 1059.2M411.6 1059.2L414.2 1059.2M416.0 1063.3L416.0 1061.1M414.7 1061.1L417.3 1061.1M419.2 1062.2L419.2 1059.4M417.9 1059.4L420.5 1059.4M422.3 1063.5L422.3 1060.8M421.0 1060.8L423.6 1060.8M425.4 1062.9L425.4 1061.1M424.1 1061.1L426.7 1061.1M428.6 1063.3L428.6 1061.6M427.3 1061.6L429.9 1061.6M431.7 1064.9L431.7 1063.2M430.4 1063.2L433.0 1063.2M434.8 1065.1L434.8 1062.5M433.5 1062.5L436.1 1062.5M438.0 1064.8L438.0 1062.2M436.7 1062.2L439.3 1062.2M441.1 1066.4L441.1 1064.5M439.8 1064.5L442.4 1064.5M444.2 1065.0L444.2 1063.3M442.9 1063.3L445.5 1063.3M447.4 1067.2L447.4 1065.1M446.1 1065.1L448.7 1065.1M450.5 1067.3L450.5 1064.6M449.2 1064.6L451.8 1064.6M453.6 1067.4L453.6 1064.9M452.3 1064.9L454.9 1064.9M456.8 1065.2L456.8 1062.5M455.5 1062.5L458.1 1062.5M459.9 1067.7L459.9 1064.8M458.6 1064.8L461.2 1064.8M463.0 1069.3L463.0 1066.7M461.7 1066.7L464.3 1066.7M466.2 1068.5L466.2 1065.8M464.9 1065.8L467.5 1065.8M469.3 1068.0L469.3 1066.4M468.0 1066.4L470.6 1066.4M472.4 1069.7L472.4 1068.0M471.1 1068.0L473.7 1068.0" stroke="#2aa4e0" stroke-width="0.7" fill="none" opacity="0.8"/>
<polyline points="322.0,1070.5 323.6,1070.2 325.1,1069.7 326.7,1071.1 328.3,1072.0 329.8,1072.9 331.4,1071.1 333.0,1072.3 334.5,1073.1 336.1,1073.8 337.7,1075.6 339.2,1073.4 340.8,1074.8 342.4,1074.3 343.9,1071.9 345.5,1072.2 347.1,1070.5 348.6,1067.4 350.2,1065.5 351.8,1062.2 353.3,1060.5 354.9,1059.7 356.5,1059.8 358.0,1056.7 359.6,1055.9 361.2,1057.1 362.7,1056.6 364.3,1056.8 365.9,1053.6 367.4,1055.2 369.0,1056.3 370.6,1055.3 372.1,1054.6 373.7,1056.9 375.3,1055.3 376.8,1055.6 378.4,1056.3 380.0,1055.8 381.5,1055.6 383.1,1056.9 384.7,1057.5 386.2,1056.4 387.8,1057.4 389.4,1057.3 390.9,1056.0 392.5,1057.8 394.1,1058.4 395.6,1059.9 397.2,1058.4 398.8,1058.6 400.4,1058.5 401.9,1058.8 403.5,1058.9 405.1,1059.6 406.6,1060.0 408.2,1059.8 409.8,1061.3 411.3,1061.8 412.9,1062.0 414.5,1061.2 416.0,1063.3 417.6,1062.3 419.2,1062.2 420.7,1061.9 422.3,1063.5 423.9,1062.7 425.4,1062.9 427.0,1063.7 428.6,1063.3 430.1,1063.8 431.7,1064.9 433.3,1064.3 434.8,1065.1 436.4,1062.5 438.0,1064.8 439.5,1065.4 441.1,1066.4 442.7,1065.2 444.2,1065.0 445.8,1065.6 447.4,1067.2 448.9,1067.0 450.5,1067.3 452.1,1066.2 453.6,1067.4 455.2,1066.9 456.8,1065.2 458.3,1069.1 459.9,1067.7 461.5,1067.6 463.0,1069.3 464.6,1067.0 466.2,1068.5 467.7,1068.0 469.3,1068.0 470.9,1067.4 472.4,1069.7" fill="none" stroke="#2aa4e0" stroke-width="1.1" stroke-linejoin="round" />
<path d="M322.0 1072.8L322.0 1071.6M320.7 1071.6L323.3 1071.6M324.6 1069.9L324.6 1069.1M323.3 1069.1L325.9 1069.1M327.2 1071.5L327.2 1070.2M325.9 1070.2L328.5 1070.2M329.8 1071.9L329.8 1070.7M328.5 1070.7L331.1 1070.7M332.4 1074.4L332.4 1073.5M331.1 1073.5L333.7 1073.5M335.1 1075.9L335.1 1075.1M333.8 1075.1L336.4 1075.1M337.7 1076.2L337.7 1075.0M336.4 1075.0L339.0 1075.0M340.3 1076.3L340.3 1075.1M339.0 1075.1L341.6 1075.1M342.9 1077.1L342.9 1076.2M341.6 1076.2L344.2 1076.2M345.5 1075.9L345.5 1074.9M344.2 1074.9L346.8 1074.9M348.1 1072.8L348.1 1071.7M346.8 1071.7L349.4 1071.7M350.7 1067.9L350.7 1066.9M349.4 1066.9L352.0 1066.9M353.3 1065.0L353.3 1064.2M352.0 1064.2L354.6 1064.2M356.0 1057.9L356.0 1056.2M354.7 1056.2L357.3 1056.2M358.6 1052.0L358.6 1048.6M357.3 1048.6L359.9 1048.6M361.2 1043.8L361.2 1039.1M359.9 1039.1L362.5 1039.1M363.8 1037.6L363.8 1031.6M362.5 1031.6L365.1 1031.6M366.4 1030.0L366.4 1024.0M365.1 1024.0L367.7 1024.0M369.0 1028.6L369.0 1020.0M367.7 1020.0L370.3 1020.0M371.6 1027.0L371.6 1018.6M370.3 1018.6L372.9 1018.6M374.2 1026.5L374.2 1019.1M372.9 1019.1L375.5 1019.1M376.8 1024.7L376.8 1015.4M375.5 1015.4L378.1 1015.4M379.5 1024.2L379.5 1017.3M378.2 1017.3L380.8 1017.3M382.1 1023.3L382.1 1015.2M380.8 1015.2L383.4 1015.2M384.7 1023.3L384.7 1015.3M383.4 1015.3L386.0 1015.3M387.3 1023.9L387.3 1013.9M386.0 1013.9L388.6 1013.9M389.9 1021.5L389.9 1011.3M388.6 1011.3L391.2 1011.3M392.5 1022.0L392.5 1014.6M391.2 1014.6L393.8 1014.6M395.1 1020.9L395.1 1011.5M393.8 1011.5L396.4 1011.5M397.7 1020.5L397.7 1013.2M396.4 1013.2L399.0 1013.2M400.4 1022.7L400.4 1012.8M399.1 1012.8L401.7 1012.8M403.0 1020.7L403.0 1010.8M401.7 1010.8L404.3 1010.8M405.6 1025.2L405.6 1016.7M404.3 1016.7L406.9 1016.7M408.2 1022.0L408.2 1016.0M406.9 1016.0L409.5 1016.0M410.8 1024.7L410.8 1017.8M409.5 1017.8L412.1 1017.8M413.4 1020.2L413.4 1013.6M412.1 1013.6L414.7 1013.6M416.0 1023.3L416.0 1015.2M414.7 1015.2L417.3 1015.2M418.6 1022.4L418.6 1016.4M417.3 1016.4L419.9 1016.4M421.2 1023.6L421.2 1017.6M419.9 1017.6L422.5 1017.6M423.9 1023.6L423.9 1017.5M422.6 1017.5L425.2 1017.5M426.5 1024.0L426.5 1014.5M425.2 1014.5L427.8 1014.5M429.1 1023.7L429.1 1015.3M427.8 1015.3L430.4 1015.3M431.7 1023.5L431.7 1013.9M430.4 1013.9L433.0 1013.9M434.3 1020.5L434.3 1010.3M433.0 1010.3L435.6 1010.3M436.9 1025.9L436.9 1018.1M435.6 1018.1L438.2 1018.1M439.5 1023.6L439.5 1014.2M438.2 1014.2L440.8 1014.2M442.1 1022.8L442.1 1015.1M440.8 1015.1L443.4 1015.1M444.7 1019.8L444.7 1011.2M443.4 1011.2L446.0 1011.2M447.4 1025.8L447.4 1019.6M446.1 1019.6L448.7 1019.6M450.0 1023.2L450.0 1015.4M448.7 1015.4L451.3 1015.4M452.6 1026.1L452.6 1020.3M451.3 1020.3L453.9 1020.3M455.2 1023.8L455.2 1016.1M453.9 1016.1L456.5 1016.1M457.8 1024.1L457.8 1014.2M456.5 1014.2L459.1 1014.2M460.4 1022.6L460.4 1012.2M459.1 1012.2L461.7 1012.2M463.0 1022.8L463.0 1013.6M461.7 1013.6L464.3 1013.6M465.6 1025.7L465.6 1020.1M464.3 1020.1L466.9 1020.1M468.3 1025.5L468.3 1015.8M467.0 1015.8L469.6 1015.8M470.9 1025.6L470.9 1017.9M469.6 1017.9L472.2 1017.9M473.5 1023.2L473.5 1014.4M472.2 1014.4L474.8 1014.4" stroke="#19d276" stroke-width="0.7" fill="none" opacity="0.8"/>
<polyline points="322.0,1072.8 323.3,1071.6 324.6,1069.9 325.9,1074.8 327.2,1071.5 328.5,1073.9 329.8,1071.9 331.1,1074.3 332.4,1074.4 333.8,1074.0 335.1,1075.9 336.4,1075.5 337.7,1076.2 339.0,1074.3 340.3,1076.3 341.6,1079.6 342.9,1077.1 344.2,1076.4 345.5,1075.9 346.8,1073.1 348.1,1072.8 349.4,1074.3 350.7,1067.9 352.0,1068.3 353.3,1065.0 354.6,1061.8 356.0,1057.9 357.3,1052.8 358.6,1052.0 359.9,1046.7 361.2,1043.8 362.5,1040.2 363.8,1037.6 365.1,1033.2 366.4,1030.0 367.7,1031.5 369.0,1028.6 370.3,1030.2 371.6,1027.0 372.9,1025.6 374.2,1026.5 375.5,1022.2 376.8,1024.7 378.2,1026.3 379.5,1024.2 380.8,1025.5 382.1,1023.3 383.4,1023.9 384.7,1023.3 386.0,1027.0 387.3,1023.9 388.6,1021.6 389.9,1021.5 391.2,1021.4 392.5,1022.0 393.8,1020.9 395.1,1020.9 396.4,1021.4 397.7,1020.5 399.0,1020.7 400.4,1022.7 401.7,1021.2 403.0,1020.7 404.3,1022.4 405.6,1025.2 406.9,1022.7 408.2,1022.0 409.5,1026.1 410.8,1024.7 412.1,1024.3 413.4,1020.2 414.7,1021.5 416.0,1023.3 417.3,1021.5 418.6,1022.4 419.9,1025.2 421.2,1023.6 422.5,1021.7 423.9,1023.6 425.2,1019.6 426.5,1024.0 427.8,1023.9 429.1,1023.7 430.4,1023.4 431.7,1023.5 433.0,1021.6 434.3,1020.5 435.6,1024.0 436.9,1025.9 438.2,1024.3 439.5,1023.6 440.8,1021.3 442.1,1022.8 443.4,1023.8 444.7,1019.8 446.1,1025.7 447.4,1025.8 448.7,1021.9 450.0,1023.2 451.3,1024.1 452.6,1026.1 453.9,1023.7 455.2,1023.8 456.5,1025.2 457.8,1024.1 459.1,1026.5 460.4,1022.6 461.7,1026.0 463.0,1022.8 464.3,1025.7 465.6,1025.7 466.9,1024.6 468.3,1025.5 469.6,1023.2 470.9,1025.6 472.2,1024.0 473.5,1023.2" fill="none" stroke="#19d276" stroke-width="1.1" stroke-linejoin="round" />
<path d="M322.0 1073.5L322.0 1071.0M320.7 1071.0L323.3 1071.0M324.6 1071.3L324.6 1069.0M323.3 1069.0L325.9 1069.0M327.2 1072.7L327.2 1070.0M325.9 1070.0L328.5 1070.0M329.8 1074.7L329.8 1072.2M328.5 1072.2L331.1 1072.2M332.4 1072.4L332.4 1070.6M331.1 1070.6L333.7 1070.6M335.1 1073.6L335.1 1071.9M333.8 1071.9L336.4 1071.9M337.7 1074.7L337.7 1072.6M336.4 1072.6L339.0 1072.6M340.3 1075.0L340.3 1073.2M339.0 1073.2L341.6 1073.2M342.9 1075.6L342.9 1073.8M341.6 1073.8L344.2 1073.8M345.5 1075.3L345.5 1073.1M344.2 1073.1L346.8 1073.1M348.1 1071.7L348.1 1069.6M346.8 1069.6L349.4 1069.6M350.7 1068.6L350.7 1066.6M349.4 1066.6L352.0 1066.6M353.3 1064.1L353.3 1061.6M352.0 1061.6L354.6 1061.6M356.0 1055.5L356.0 1051.3M354.7 1051.3L357.3 1051.3M358.6 1047.1L358.6 1038.9M357.3 1038.9L359.9 1038.9M361.2 1038.8L361.2 1027.5M359.9 1027.5L362.5 1027.5M363.8 1030.7L363.8 1015.0M362.5 1015.0L365.1 1015.0M366.4 1023.8L366.4 1002.8M365.1 1002.8L367.7 1002.8M369.0 1024.1L369.0 1006.0M367.7 1006.0L370.3 1006.0M371.6 1021.2L371.6 1008.3M370.3 1008.3L372.9 1008.3M374.2 1022.7L374.2 1003.9M372.9 1003.9L375.5 1003.9M376.8 1021.6L376.8 1005.1M375.5 1005.1L378.1 1005.1M379.5 1016.0L379.5 998.9M378.2 998.9L380.8 998.9M382.1 1019.1L382.1 1000.5M380.8 1000.5L383.4 1000.5M384.7 1016.4L384.7 1001.3M383.4 1001.3L386.0 1001.3M387.3 1016.3L387.3 995.4M386.0 995.4L388.6 995.4M389.9 1017.6L389.9 1001.0M388.6 1001.0L391.2 1001.0M392.5 1017.8L392.5 1001.2M391.2 1001.2L393.8 1001.2M395.1 1015.7L395.1 997.4M393.8 997.4L396.4 997.4M397.7 1013.6L397.7 1000.3M396.4 1000.3L399.0 1000.3M400.4 1012.4L400.4 996.3M399.1 996.3L401.7 996.3M403.0 1015.7L403.0 992.8M401.7 992.8L404.3 992.8M405.6 1014.6L405.6 1000.5M404.3 1000.5L406.9 1000.5M408.2 1014.9L408.2 998.1M406.9 998.1L409.5 998.1M410.8 1016.6L410.8 996.0M409.5 996.0L412.1 996.0M413.4 1017.4L413.4 999.8M412.1 999.8L414.7 999.8M416.0 1019.0L416.0 999.9M414.7 999.9L417.3 999.9M418.6 1015.9L418.6 994.4M417.3 994.4L419.9 994.4M421.2 1019.7L421.2 998.4M419.9 998.4L422.5 998.4M423.9 1018.4L423.9 1001.2M422.6 1001.2L425.2 1001.2M426.5 1018.5L426.5 1002.1M425.2 1002.1L427.8 1002.1M429.1 1017.1L429.1 1004.2M427.8 1004.2L430.4 1004.2M431.7 1018.0L431.7 997.6M430.4 997.6L433.0 997.6M434.3 1019.9L434.3 1005.6M433.0 1005.6L435.6 1005.6M436.9 1021.2L436.9 1003.7M435.6 1003.7L438.2 1003.7M439.5 1019.1L439.5 1005.0M438.2 1005.0L440.8 1005.0M442.1 1017.3L442.1 996.9M440.8 996.9L443.4 996.9M444.7 1017.0L444.7 999.5M443.4 999.5L446.0 999.5M447.4 1018.5L447.4 1004.5M446.1 1004.5L448.7 1004.5M450.0 1018.4L450.0 999.6M448.7 999.6L451.3 999.6M452.6 1020.3L452.6 1006.5M451.3 1006.5L453.9 1006.5M455.2 1018.8L455.2 1002.4M453.9 1002.4L456.5 1002.4M457.8 1019.7L457.8 1004.0M456.5 1004.0L459.1 1004.0M460.4 1021.7L460.4 1001.2M459.1 1001.2L461.7 1001.2M463.0 1020.8L463.0 1001.8M461.7 1001.8L464.3 1001.8M465.6 1019.8L465.6 1004.8M464.3 1004.8L466.9 1004.8M468.3 1024.1L468.3 1008.4M467.0 1008.4L469.6 1008.4M470.9 1020.9L470.9 1003.5M469.6 1003.5L472.2 1003.5M473.5 1019.8L473.5 998.5M472.2 998.5L474.8 998.5" stroke="#fb2c62" stroke-width="0.7" fill="none" opacity="0.8"/>
<polyline points="322.0,1073.5 323.3,1071.9 324.6,1071.3 325.9,1074.8 327.2,1072.7 328.5,1067.7 329.8,1074.7 331.1,1073.5 332.4,1072.4 333.8,1076.8 335.1,1073.6 336.4,1072.2 337.7,1074.7 339.0,1076.8 340.3,1075.0 341.6,1077.1 342.9,1075.6 344.2,1075.5 345.5,1075.3 346.8,1076.2 348.1,1071.7 349.4,1071.6 350.7,1068.6 352.0,1067.1 353.3,1064.1 354.6,1058.9 356.0,1055.5 357.3,1051.1 358.6,1047.1 359.9,1043.9 361.2,1038.8 362.5,1035.2 363.8,1030.7 365.1,1030.3 366.4,1023.8 367.7,1028.1 369.0,1024.1 370.3,1020.7 371.6,1021.2 372.9,1018.8 374.2,1022.7 375.5,1021.4 376.8,1021.6 378.2,1018.7 379.5,1016.0 380.8,1020.3 382.1,1019.1 383.4,1019.8 384.7,1016.4 386.0,1016.7 387.3,1016.3 388.6,1018.7 389.9,1017.6 391.2,1018.1 392.5,1017.8 393.8,1017.2 395.1,1015.7 396.4,1019.2 397.7,1013.6 399.0,1015.6 400.4,1012.4 401.7,1013.6 403.0,1015.7 404.3,1015.5 405.6,1014.6 406.9,1018.0 408.2,1014.9 409.5,1016.8 410.8,1016.6 412.1,1018.1 413.4,1017.4 414.7,1018.8 416.0,1019.0 417.3,1016.8 418.6,1015.9 419.9,1016.9 421.2,1019.7 422.5,1017.8 423.9,1018.4 425.2,1017.7 426.5,1018.5 427.8,1018.4 429.1,1017.1 430.4,1018.4 431.7,1018.0 433.0,1019.0 434.3,1019.9 435.6,1019.2 436.9,1021.2 438.2,1018.3 439.5,1019.1 440.8,1019.2 442.1,1017.3 443.4,1020.7 444.7,1017.0 446.1,1017.5 447.4,1018.5 448.7,1020.6 450.0,1018.4 451.3,1019.8 452.6,1020.3 453.9,1018.9 455.2,1018.8 456.5,1020.9 457.8,1019.7 459.1,1013.8 460.4,1021.7 461.7,1019.3 463.0,1020.8 464.3,1021.6 465.6,1019.8 466.9,1023.3 468.3,1024.1 469.6,1021.1 470.9,1020.9 472.2,1022.1 473.5,1019.8" fill="none" stroke="#fb2c62" stroke-width="1.1" stroke-linejoin="round" />
<line x1="335.2" y1="964.0" x2="345.9" y2="964.0" stroke="#fb2c62" stroke-width="2.3" />
<text x="349" y="967.8" font-size="10.6" fill="#111">PGE<tspan font-size="7" dy="2">2</tspan></text>
<line x1="335.2" y1="975.7" x2="345.9" y2="975.7" stroke="#f6bf28" stroke-width="2.3" />
<text x="349" y="979.5" font-size="10.6" fill="#111">CGRP</text>
<line x1="388.8" y1="959.7" x2="399.6" y2="959.7" stroke="#19d276" stroke-width="2.3" />
<text x="401.7" y="963.5" font-size="10.6" fill="#111">BGC</text>
<line x1="388.8" y1="971.0" x2="399.6" y2="971.0" stroke="#b060d0" stroke-width="2.3" />
<text x="401.7" y="974.8" font-size="10.6" fill="#111">PF</text>
<line x1="388.8" y1="981.8" x2="399.6" y2="981.8" stroke="#2aa4e0" stroke-width="2.3" />
<text x="401.7" y="985.6" font-size="10.6" fill="#111">st-Ht31</text>
<line x1="432.4" y1="960.0" x2="432.4" y2="983.3" stroke="#222" stroke-width="1" />
<text x="435.7" y="977.0" font-size="10.6" text-anchor="start" fill="#111" >PGE<tspan font-size="7" dy="2">2</tspan></text>
<line x1="509.6" y1="969.1" x2="509.6" y2="1102.0" stroke="#222" stroke-width="1" />
<line x1="505.6" y1="1102.0" x2="509.6" y2="1102.0" stroke="#222" stroke-width="1" />
<text x="504.8" y="1105.8" font-size="10.5" text-anchor="end" fill="#111" >0</text>
<line x1="505.6" y1="1057.7" x2="509.6" y2="1057.7" stroke="#222" stroke-width="1" />
<text x="504.8" y="1061.5" font-size="10.5" text-anchor="end" fill="#111" >1</text>
<line x1="505.6" y1="1013.4" x2="509.6" y2="1013.4" stroke="#222" stroke-width="1" />
<text x="504.8" y="1017.2" font-size="10.5" text-anchor="end" fill="#111" >2</text>
<line x1="505.6" y1="969.1" x2="509.6" y2="969.1" stroke="#222" stroke-width="1" />
<text x="504.8" y="972.9" font-size="10.5" text-anchor="end" fill="#111" >3</text>
<text x="492.7" y="1057.1" font-size="10.6" text-anchor="middle" fill="#111" transform="rotate(-90 492.7 1053.3)" >AUC (x100)</text>
<rect x="513.3" y="1053.3" width="9.6" height="48.7" fill="#ee2a5c" stroke="#333" stroke-width="0.6"/>
<rect x="524.3" y="1099.8" width="9.2" height="2.2" fill="#b060d0" stroke="#333" stroke-width="0.6"/>
<rect x="536.6" y="1069.7" width="9.8" height="32.3" fill="#14c26a" stroke="#333" stroke-width="0.6"/>
<rect x="549.0" y="1096.2" width="9.7" height="5.8" fill="#2a7ed0" stroke="#333" stroke-width="0.6"/>
<rect x="561.0" y="1101.6" width="10.0" height="0.4" fill="#f6bf28" stroke="#333" stroke-width="0.6"/>
<circle cx="518.1" cy="1093.1" r="1.3" fill="white" stroke="#3a3a3a" stroke-width="0.75"/>
<circle cx="517.1" cy="1090.9" r="1.3" fill="white" stroke="#3a3a3a" stroke-width="0.75"/>
<circle cx="518.1" cy="1084.3" r="1.3" fill="white" stroke="#3a3a3a" stroke-width="0.75"/>
<circle cx="518.1" cy="1079.8" r="1.3" fill="white" stroke="#3a3a3a" stroke-width="0.75"/>
<circle cx="518.1" cy="1062.1" r="1.3" fill="white" stroke="#3a3a3a" stroke-width="0.75"/>
<circle cx="518.1" cy="1015.6" r="1.3" fill="white" stroke="#3a3a3a" stroke-width="0.75"/>
<circle cx="518.1" cy="1011.2" r="1.3" fill="white" stroke="#3a3a3a" stroke-width="0.75"/>
<circle cx="518.1" cy="1000.1" r="1.3" fill="white" stroke="#3a3a3a" stroke-width="0.75"/>
<circle cx="528.9" cy="1102.0" r="1.3" fill="white" stroke="#3a3a3a" stroke-width="0.75"/>
<circle cx="526.4" cy="1102.0" r="1.3" fill="white" stroke="#3a3a3a" stroke-width="0.75"/>
<circle cx="531.4" cy="1101.1" r="1.3" fill="white" stroke="#3a3a3a" stroke-width="0.75"/>
<circle cx="527.9" cy="1099.8" r="1.3" fill="white" stroke="#3a3a3a" stroke-width="0.75"/>
<circle cx="528.9" cy="1096.7" r="1.3" fill="white" stroke="#3a3a3a" stroke-width="0.75"/>
<circle cx="528.9" cy="1093.1" r="1.3" fill="white" stroke="#3a3a3a" stroke-width="0.75"/>
<circle cx="541.5" cy="1086.5" r="1.3" fill="white" stroke="#3a3a3a" stroke-width="0.75"/>
<circle cx="541.5" cy="1079.8" r="1.3" fill="white" stroke="#3a3a3a" stroke-width="0.75"/>
<circle cx="541.5" cy="1075.4" r="1.3" fill="white" stroke="#3a3a3a" stroke-width="0.75"/>
<circle cx="540.5" cy="1073.2" r="1.3" fill="white" stroke="#3a3a3a" stroke-width="0.75"/>
<circle cx="541.5" cy="1068.8" r="1.3" fill="white" stroke="#3a3a3a" stroke-width="0.75"/>
<circle cx="540.5" cy="1066.6" r="1.3" fill="white" stroke="#3a3a3a" stroke-width="0.75"/>
<circle cx="541.5" cy="1057.7" r="1.3" fill="white" stroke="#3a3a3a" stroke-width="0.75"/>
<circle cx="541.5" cy="1048.0" r="1.3" fill="white" stroke="#3a3a3a" stroke-width="0.75"/>
<circle cx="553.8" cy="1102.0" r="1.3" fill="white" stroke="#3a3a3a" stroke-width="0.75"/>
<circle cx="552.8" cy="1099.8" r="1.3" fill="white" stroke="#3a3a3a" stroke-width="0.75"/>
<circle cx="553.8" cy="1097.6" r="1.3" fill="white" stroke="#3a3a3a" stroke-width="0.75"/>
<circle cx="552.8" cy="1095.4" r="1.3" fill="white" stroke="#3a3a3a" stroke-width="0.75"/>
<circle cx="553.8" cy="1093.1" r="1.3" fill="white" stroke="#3a3a3a" stroke-width="0.75"/>
<circle cx="553.8" cy="1079.8" r="1.3" fill="white" stroke="#3a3a3a" stroke-width="0.75"/>
<circle cx="566.0" cy="1102.0" r="1.3" fill="white" stroke="#3a3a3a" stroke-width="0.75"/>
<circle cx="563.5" cy="1102.0" r="1.3" fill="white" stroke="#3a3a3a" stroke-width="0.75"/>
<circle cx="568.5" cy="1102.0" r="1.3" fill="white" stroke="#3a3a3a" stroke-width="0.75"/>
<circle cx="565.0" cy="1102.0" r="1.3" fill="white" stroke="#3a3a3a" stroke-width="0.75"/>
<line x1="518.1" y1="1067.4" x2="518.1" y2="1040.0" stroke="#111" stroke-width="1" />
<line x1="516.0" y1="1040.0" x2="520.2" y2="1040.0" stroke="#111" stroke-width="1" />
<line x1="516.0" y1="1067.4" x2="520.2" y2="1067.4" stroke="#111" stroke-width="1" />
<line x1="541.5" y1="1075.4" x2="541.5" y2="1064.3" stroke="#111" stroke-width="1" />
<line x1="539.5" y1="1075.4" x2="543.5" y2="1075.4" stroke="#111" stroke-width="1" />
<text x="536.2" y="967.2" font-size="10.6" text-anchor="middle" fill="#111" >PGE<tspan font-size="7" dy="2">2</tspan></text>
<line x1="515.2" y1="969.1" x2="554.6" y2="969.1" stroke="#444" stroke-width="1" />
<text x="524.4" y="1034.8" font-size="8.0" text-anchor="middle" fill="#111" >&lt;0.0001</text>
<line x1="518.4" y1="1036.6" x2="529.0" y2="1036.6" stroke="#999" stroke-width="0.8" />
<line x1="529.0" y1="1036.6" x2="529.0" y2="1095.0" stroke="#999" stroke-width="0.8" />
<line x1="518.4" y1="1036.6" x2="518.4" y2="1039.0" stroke="#999" stroke-width="0.8" />
<line x1="518.4" y1="1004.3" x2="554.0" y2="1004.3" stroke="#999" stroke-width="0.8" />
<line x1="554.0" y1="1004.3" x2="554.0" y2="1077.8" stroke="#999" stroke-width="0.8" />
<line x1="518.4" y1="1004.3" x2="518.4" y2="1007.0" stroke="#999" stroke-width="0.8" />
<line x1="518.4" y1="996.1" x2="566.2" y2="996.1" stroke="#999" stroke-width="0.8" />
<line x1="566.2" y1="996.1" x2="566.2" y2="1100.0" stroke="#999" stroke-width="0.8" />
<line x1="518.4" y1="996.1" x2="518.4" y2="998.5" stroke="#999" stroke-width="0.8" />
<text x="559.2" y="1036.1" font-size="8.6" text-anchor="middle" fill="#111" transform="rotate(-90 559.2 1033.0)" >0.0003</text>
<text x="572.4" y="1036.6" font-size="8.6" text-anchor="middle" fill="#111" transform="rotate(-90 572.4 1033.5)" >&lt;0.0001</text>
<text x="517.8" y="1110.2" font-size="10.4" text-anchor="end" fill="#111" transform="rotate(-90 517.8 1106.5)" >–</text>
<text x="529.0" y="1110.2" font-size="10.4" text-anchor="end" fill="#111" transform="rotate(-90 529.0 1106.5)" >PF</text>
<text x="541.3" y="1110.2" font-size="10.4" text-anchor="end" fill="#111" transform="rotate(-90 541.3 1106.5)" >BGC</text>
<text x="554.6" y="1110.2" font-size="10.4" text-anchor="end" fill="#111" transform="rotate(-90 554.6 1106.5)" >st-Ht31</text>
<text x="566.9" y="1110.2" font-size="10.4" text-anchor="end" fill="#111" transform="rotate(-90 566.9 1106.5)" >CGRP</text>
</svg></body></html>
